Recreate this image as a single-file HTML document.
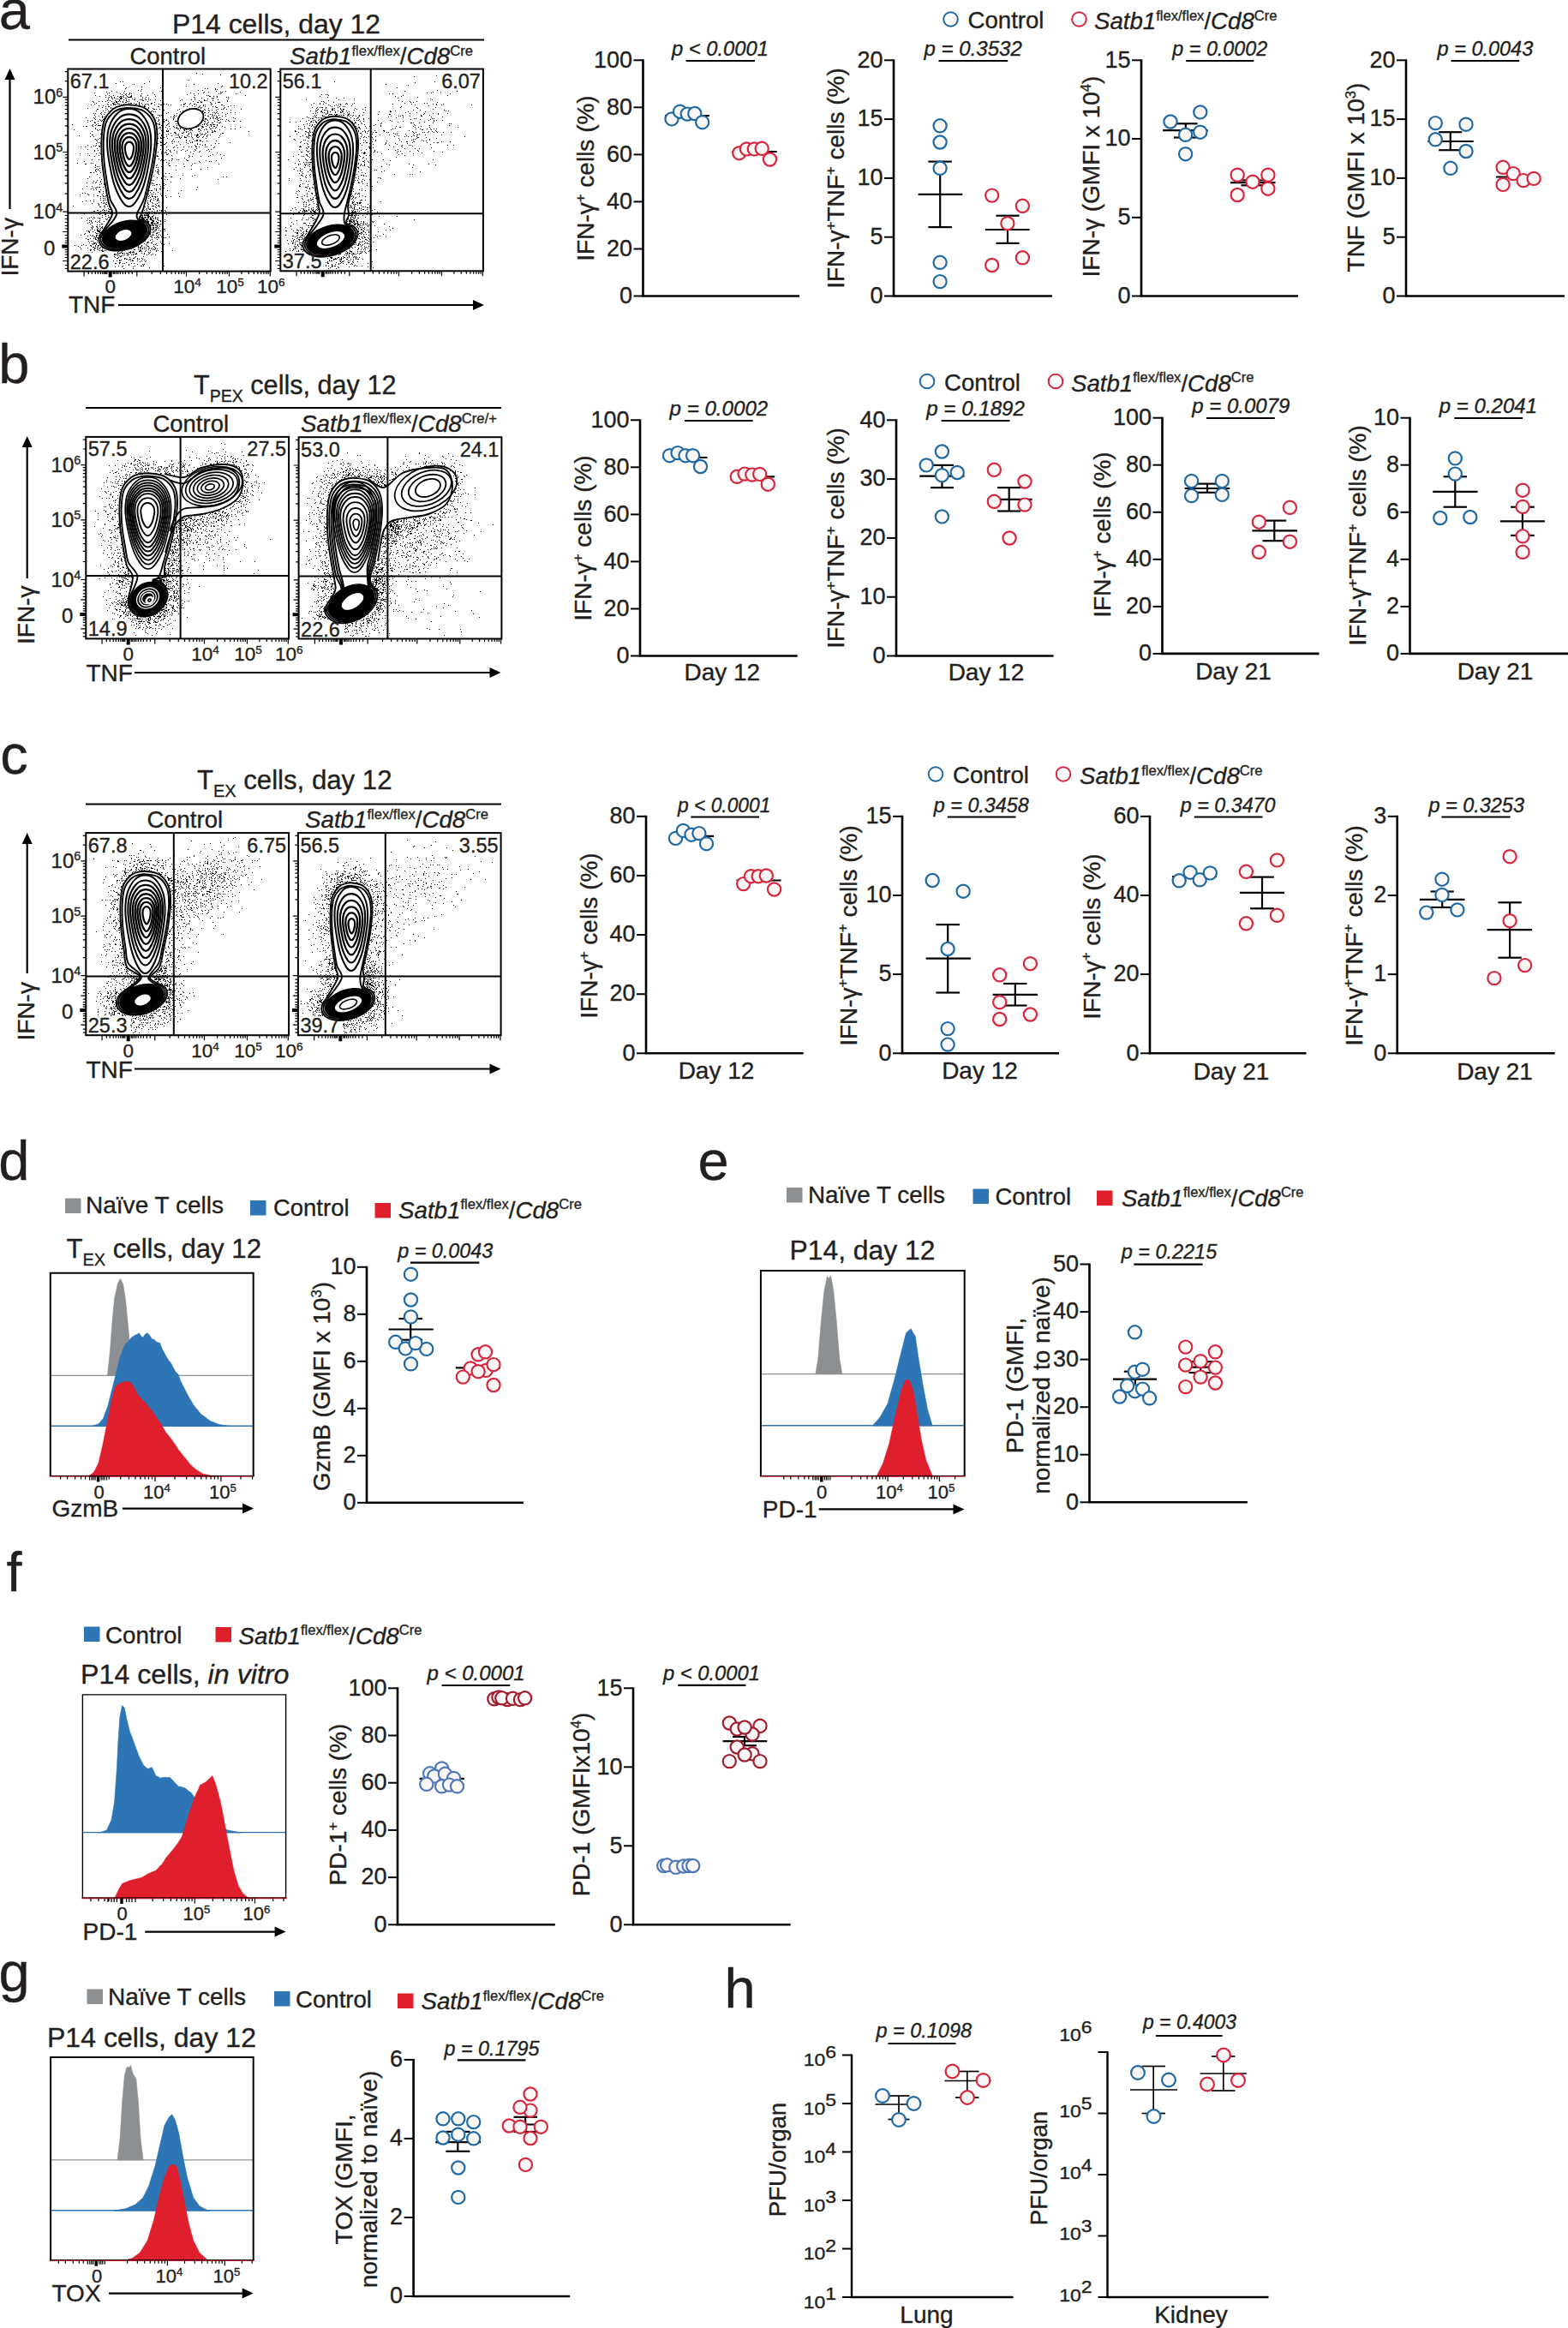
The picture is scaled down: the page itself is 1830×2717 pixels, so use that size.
<!DOCTYPE html>
<html lang="en"><head><meta charset="utf-8"><title>Figure</title>
<style>
html,body{margin:0;padding:0;background:#fff}
svg{display:block}
text{font-family:"Liberation Sans",Arial,Helvetica,sans-serif;fill:#231f20;stroke:#231f20;stroke-width:0.35px}
</style></head><body>
<svg width="1830" height="2717" viewBox="0 0 1830 2717">
<rect width="1830" height="2717" fill="#fff"/>
<text x="-1.3" y="34.4" font-size="65">a</text>
<text x="-1.7" y="447" font-size="65">b</text>
<text x="0.3" y="902.5" font-size="65">c</text>
<text x="-1.7" y="1376.6" font-size="65">d</text>
<text x="814.6" y="1376.5" font-size="65">e</text>
<text x="7.4" y="1856.8" font-size="65">f</text>
<text x="-1.5" y="2323.7" font-size="65">g</text>
<text x="845.6" y="2342.8" font-size="65">h</text>
<text x="201" y="38.5" font-size="31" textLength="243" lengthAdjust="spacingAndGlyphs">P14 cells, day 12</text>
<line x1="80" y1="46.5" x2="565" y2="46.5" stroke="#000" stroke-width="2"/>
<text x="151.5" y="75" font-size="28" textLength="88.5" lengthAdjust="spacingAndGlyphs">Control</text>
<text x="338" y="75" font-size="28" textLength="214" lengthAdjust="spacingAndGlyphs"><tspan font-style="italic">Satb1</tspan><tspan dy="-10.1" font-size="16.8">flex/flex</tspan><tspan dy="10.1">/</tspan><tspan font-style="italic">Cd8</tspan><tspan dy="-10.1" font-size="16.8">Cre</tspan></text>
<text x="226" y="460" font-size="31" textLength="236.5" lengthAdjust="spacingAndGlyphs"><tspan>T</tspan><tspan dy="9" font-size="19.8">PEX</tspan><tspan dy="-9"> cells, day 12</tspan></text>
<line x1="100" y1="476" x2="585" y2="476" stroke="#000" stroke-width="2"/>
<text x="178.5" y="504" font-size="28" textLength="88.5" lengthAdjust="spacingAndGlyphs">Control</text>
<text x="351" y="504" font-size="28" textLength="229" lengthAdjust="spacingAndGlyphs"><tspan font-style="italic">Satb1</tspan><tspan dy="-10.1" font-size="16.8">flex/flex</tspan><tspan dy="10.1">/</tspan><tspan font-style="italic">Cd8</tspan><tspan dy="-10.1" font-size="16.8">Cre/+</tspan></text>
<text x="230" y="921" font-size="31" textLength="227.5" lengthAdjust="spacingAndGlyphs"><tspan>T</tspan><tspan dy="9" font-size="19.8">EX</tspan><tspan dy="-9"> cells, day 12</tspan></text>
<line x1="100" y1="938.5" x2="585" y2="938.5" stroke="#000" stroke-width="2"/>
<text x="171.5" y="966" font-size="28" textLength="88.5" lengthAdjust="spacingAndGlyphs">Control</text>
<text x="356" y="966" font-size="28" textLength="214" lengthAdjust="spacingAndGlyphs"><tspan font-style="italic">Satb1</tspan><tspan dy="-10.1" font-size="16.8">flex/flex</tspan><tspan dy="10.1">/</tspan><tspan font-style="italic">Cd8</tspan><tspan dy="-10.1" font-size="16.8">Cre</tspan></text>
<g>
<path d="M197 202.5h1M139 306.5h1M172 118.5h1M173 243.5h1M125 240.5h1M104 181.5h1M111 111.5h1M183 254.5h1M93 227.5h1M177 253.5h1M117 249.5h1M128 244.5h1M127 124.5h1M184 124.5h1M183 229.5h1M191 285.5h1M101 213.5h1M109 137.5h1M190 133.5h1M116 139.5h1M117 268.5h1M105 292.5h1M100 147.5h1M141 122.5h1M168 253.5h1M168 250.5h1M120 223.5h1M182 274.5h1M147 114.5h1M178 260.5h1M187 226.5h1M98 249.5h1M114 245.5h1M113 203.5h1M180 261.5h1M112 284.5h1M177 120.5h1M139 116.5h1M172 283.5h1M136 118.5h1M185 271.5h1M140 112.5h1M121 292.5h1M187 257.5h1M168 250.5h1M112 221.5h1M190 170.5h1M180 291.5h1M178 258.5h1M171 255.5h1M161 288.5h1M165 253.5h1M182 222.5h1M172 282.5h1M181 263.5h1M156 116.5h1M173 291.5h1M146 301.5h1M124 238.5h1M171 247.5h1M172 256.5h1M147 102.5h1M106 265.5h1M186 143.5h1M166 115.5h1M177 213.5h1M177 262.5h1M114 270.5h1M176 263.5h1M105 291.5h1M187 219.5h1M92 158.5h1M134 122.5h1M173 226.5h1M186 135.5h1M183 200.5h1M172 260.5h1M146 114.5h1M197 276.5h1M191 121.5h1M182 284.5h1M126 114.5h1M172 234.5h1M121 215.5h1M200 206.5h1M121 240.5h1M115 146.5h1M157 310.5h1M165 295.5h1M170 279.5h1M121 267.5h1M177 229.5h1M125 240.5h1M184 231.5h1M179 290.5h1M173 114.5h1M123 252.5h1M192 258.5h1M117 221.5h1M114 162.5h1M110 289.5h1M141 123.5h1M120 293.5h1M177 262.5h1M115 249.5h1M119 195.5h1M170 113.5h1M129 122.5h1M160 118.5h1M186 215.5h1M126 251.5h1M177 222.5h1M171 249.5h1M117 231.5h1M174 222.5h1M116 284.5h1M114 152.5h1M171 243.5h1M119 265.5h1M169 251.5h1M183 264.5h1M120 218.5h1M194 242.5h1M118 188.5h1M95 254.5h1M115 269.5h1M173 229.5h1M110 289.5h1M181 254.5h1M182 220.5h1M172 121.5h1M183 192.5h1M162 120.5h1M185 185.5h1M113 262.5h1M190 254.5h1M106 287.5h1M111 287.5h1M112 221.5h1M187 148.5h1M127 113.5h1M151 294.5h1M151 122.5h1M196 152.5h1M167 255.5h1M194 250.5h1M173 250.5h1M189 166.5h1M108 281.5h1M123 126.5h1M171 286.5h1M119 137.5h1M183 263.5h1M87 286.5h1M181 290.5h1M116 146.5h1M170 253.5h1M111 149.5h1M175 224.5h1M185 199.5h1M187 165.5h1M171 247.5h1M132 122.5h1M156 301.5h1M144 113.5h1M178 265.5h1M117 211.5h1M166 290.5h1M161 287.5h1M165 310.5h1M114 237.5h1M110 289.5h1M103 270.5h1M177 236.5h1M165 287.5h1M165 101.5h1M108 147.5h1M113 173.5h1M166 113.5h1M188 194.5h1M106 201.5h1M134 297.5h1M189 138.5h1M170 121.5h1M181 241.5h1M189 131.5h1M192 168.5h1M114 197.5h1M135 124.5h1M136 107.5h1M183 181.5h1M113 264.5h1M112 179.5h1M124 225.5h1M183 266.5h1M183 207.5h1M172 254.5h1M140 306.5h1M105 201.5h1M123 233.5h1M173 251.5h1M189 123.5h1M142 110.5h1M121 133.5h1M130 106.5h1M167 117.5h1M113 282.5h1M187 169.5h1M165 286.5h1M187 161.5h1M197 284.5h1M197 193.5h1M185 257.5h1M178 229.5h1M166 122.5h1M189 172.5h1M190 288.5h1M178 262.5h1M102 279.5h1M195 273.5h1M111 150.5h1M122 245.5h1M143 112.5h1M109 253.5h1M137 294.5h1M116 139.5h1M166 255.5h1M177 279.5h1M108 285.5h1M180 122.5h1M151 108.5h1M181 289.5h1M113 268.5h1M147 109.5h1M196 191.5h1M178 296.5h1M185 268.5h1M140 306.5h1M163 288.5h1M128 129.5h1M185 240.5h1M121 139.5h1M168 97.5h1M105 155.5h1M155 289.5h1M176 260.5h1M165 116.5h1M119 292.5h1M172 250.5h1M187 122.5h1M170 256.5h1M141 298.5h1M175 262.5h1M114 144.5h1M119 135.5h1M175 248.5h1M188 208.5h1M109 284.5h1M111 143.5h1M111 219.5h1M118 265.5h1M168 124.5h1M119 289.5h1M184 202.5h1M181 261.5h1M188 246.5h1M120 141.5h1M108 255.5h1M109 227.5h1M111 289.5h1M123 249.5h1M110 284.5h1M168 290.5h1M127 241.5h1M184 240.5h1M168 240.5h1M117 179.5h1M179 231.5h1M139 307.5h1M170 292.5h1M168 288.5h1M137 115.5h1M179 266.5h1M117 271.5h1M153 120.5h1M175 116.5h1M153 307.5h1M182 221.5h1M164 292.5h1M183 276.5h1M117 132.5h1M180 249.5h1M175 235.5h1M127 256.5h1M177 260.5h1M110 292.5h1M150 296.5h1M182 263.5h1M104 257.5h1M172 241.5h1M147 295.5h1M189 273.5h1M163 116.5h1M109 288.5h1M119 291.5h1M122 240.5h1M116 271.5h1M122 247.5h1M113 277.5h1M116 112.5h1M108 265.5h1M162 121.5h1M148 112.5h1M119 266.5h1M198 176.5h1M192 256.5h1M138 118.5h1M123 135.5h1M163 292.5h1M111 170.5h1M179 258.5h1M188 146.5h1M180 119.5h1M180 216.5h1M188 284.5h1M110 142.5h1M110 290.5h1M108 190.5h1M106 190.5h1M118 158.5h1M178 133.5h1M196 131.5h1M177 271.5h1M175 248.5h1M175 234.5h1M114 286.5h1M181 232.5h1M199 136.5h1M175 256.5h1M179 240.5h1M201 185.5h1M163 255.5h1M135 97.5h1M160 308.5h1M126 253.5h1M147 119.5h1M170 304.5h1M139 304.5h1M113 290.5h1M119 264.5h1M187 261.5h1M158 296.5h1M181 265.5h1M175 132.5h1M140 118.5h1M114 141.5h1M169 254.5h1M184 137.5h1M181 130.5h1M174 244.5h1M166 254.5h1M143 95.5h1M106 281.5h1M173 243.5h1M172 248.5h1M109 159.5h1M123 255.5h1M115 239.5h1M138 293.5h1M97 285.5h1M105 159.5h1M127 253.5h1M179 270.5h1M167 309.5h1M186 127.5h1M101 217.5h1M127 244.5h1M109 235.5h1M115 118.5h1M185 144.5h1M120 231.5h1M173 289.5h1M181 226.5h1M170 257.5h1M207 157.5h1M187 117.5h1M183 234.5h1M147 302.5h1M140 299.5h1M112 200.5h1M160 301.5h1M178 262.5h1M182 215.5h1M111 136.5h1M116 290.5h1M150 309.5h1M133 297.5h1M176 232.5h1M130 245.5h1M132 120.5h1M176 248.5h1M193 228.5h1M115 269.5h1M187 217.5h1M190 216.5h1M116 218.5h1M100 278.5h1M178 216.5h1M189 263.5h1M109 278.5h1M131 115.5h1M152 120.5h1M113 272.5h1M86 151.5h1M191 310.5h1M151 109.5h1M176 261.5h1M120 225.5h1M193 215.5h1M120 234.5h1M188 245.5h1M111 279.5h1M111 271.5h1M180 229.5h1M173 122.5h1M175 280.5h1M184 141.5h1M120 237.5h1M176 130.5h1M130 113.5h1M108 219.5h1M152 293.5h1M174 312.5h1M168 255.5h1M114 269.5h1M185 121.5h1M139 121.5h1M111 193.5h1M194 189.5h1M182 193.5h1M111 277.5h1M202 162.5h1M168 295.5h1M125 127.5h1M180 288.5h1M182 242.5h1M165 255.5h1M158 299.5h1M115 270.5h1M140 109.5h1M173 231.5h1M112 274.5h1M166 302.5h1M111 192.5h1M144 99.5h1M177 267.5h1M182 265.5h1M116 264.5h1M129 253.5h1M123 238.5h1M103 279.5h1M127 246.5h1M107 140.5h1M183 215.5h1M147 117.5h1M173 250.5h1M174 95.5h1M193 140.5h1M109 246.5h1M165 251.5h1M171 249.5h1M139 298.5h1M150 118.5h1M182 293.5h1M133 119.5h1M182 272.5h1M189 236.5h1M168 296.5h1M107 259.5h1M155 296.5h1M105 268.5h1M93 288.5h1M150 116.5h1M168 253.5h1M161 289.5h1M94 290.5h1M173 259.5h1M180 127.5h1M175 272.5h1M188 157.5h1M131 120.5h1M164 253.5h1M184 260.5h1M117 246.5h1M199 212.5h1M121 136.5h1M112 264.5h1M169 293.5h1M166 251.5h1M191 142.5h1M116 223.5h1M194 178.5h1M116 270.5h1M140 115.5h1M177 129.5h1M195 180.5h1M102 255.5h1M106 286.5h1M159 121.5h1M185 239.5h1M141 303.5h1M174 289.5h1M177 210.5h1M113 210.5h1M180 110.5h1M170 249.5h1M118 292.5h1M124 248.5h1M100 137.5h1M109 132.5h1M199 177.5h1M136 296.5h1M127 108.5h1M114 146.5h1M196 174.5h1M144 121.5h1M153 109.5h1M194 159.5h1M99 272.5h1M181 261.5h1M178 291.5h1M191 267.5h1M109 201.5h1M120 123.5h1M172 256.5h1M116 267.5h1M183 259.5h1M166 117.5h1M178 126.5h1M116 269.5h1M110 268.5h1M112 285.5h1M99 191.5h1M118 214.5h1M90 190.5h1M171 283.5h1M143 119.5h1M123 228.5h1M107 146.5h1M184 177.5h1M114 287.5h1M146 110.5h1M189 176.5h1M170 258.5h1M164 310.5h1M137 120.5h1M194 140.5h1M114 175.5h1M185 249.5h1M176 226.5h1M185 203.5h1M173 114.5h1M151 300.5h1M185 273.5h1M126 116.5h1M194 171.5h1M116 207.5h1M183 246.5h1M162 119.5h1M141 114.5h1M102 208.5h1M163 305.5h1M140 95.5h1M185 277.5h1M118 141.5h1M135 307.5h1M164 253.5h1M179 210.5h1M102 289.5h1M106 265.5h1M112 145.5h1M187 187.5h1M110 254.5h1M172 259.5h1M184 161.5h1M183 272.5h1M101 147.5h1M135 115.5h1M109 119.5h1M106 253.5h1M112 279.5h1M107 294.5h1M119 248.5h1M172 111.5h1M172 253.5h1M182 268.5h1M126 122.5h1M191 277.5h1M121 203.5h1M128 131.5h1M114 127.5h1M172 250.5h1M191 216.5h1M116 166.5h1M117 233.5h1M155 296.5h1M157 116.5h1M84 145.5h1M108 265.5h1M108 145.5h1M106 220.5h1M177 228.5h1M166 289.5h1M112 275.5h1M116 161.5h1M117 156.5h1M138 300.5h1M133 114.5h1M178 259.5h1M155 313.5h1M181 229.5h1M199 122.5h1M198 175.5h1M113 267.5h1M144 116.5h1M172 251.5h1M139 117.5h1M179 287.5h1M103 281.5h1M194 159.5h1M186 145.5h1M172 127.5h1M107 186.5h1M111 132.5h1M171 297.5h1M168 245.5h1M111 162.5h1M93 179.5h1M170 292.5h1M107 263.5h1M108 274.5h1M112 212.5h1M172 239.5h1M184 224.5h1M168 256.5h1M96 220.5h1M189 288.5h1M130 114.5h1M177 277.5h1M136 119.5h1M120 129.5h1M167 310.5h1M115 181.5h1M117 212.5h1M154 294.5h1M189 177.5h1M174 228.5h1M111 139.5h1M133 299.5h1M200 185.5h1M178 281.5h1M198 193.5h1M116 178.5h1M179 255.5h1M107 266.5h1M177 240.5h1M176 222.5h1M188 152.5h1M140 304.5h1M108 288.5h1M159 296.5h1M185 234.5h1M135 118.5h1M143 298.5h1M173 247.5h1M123 118.5h1M117 266.5h1M192 269.5h1M179 224.5h1M134 307.5h1M175 294.5h1M104 254.5h1M125 121.5h1M148 297.5h1M195 145.5h1M178 252.5h1M169 241.5h1M189 249.5h1M176 261.5h1M116 170.5h1M110 246.5h1M179 205.5h1M122 250.5h1M178 243.5h1M175 254.5h1M111 258.5h1M184 256.5h1M183 271.5h1M112 272.5h1M97 147.5h1M147 116.5h1M167 299.5h1M124 236.5h1M152 294.5h1M118 177.5h1M146 119.5h1M124 256.5h1M191 205.5h1M115 238.5h1M177 249.5h1M117 146.5h1M179 263.5h1M144 111.5h1M165 255.5h1M142 293.5h1M96 225.5h1M126 119.5h1M201 164.5h1M150 110.5h1M188 228.5h1M117 241.5h1M185 145.5h1M179 285.5h1M163 291.5h1M183 182.5h1M193 202.5h1M178 226.5h1M193 177.5h1M91 287.5h1M187 282.5h1M100 286.5h1M104 270.5h1M178 237.5h1M187 269.5h1M117 288.5h1M186 264.5h1M201 292.5h1M114 254.5h1M111 199.5h1M178 257.5h1M183 144.5h1M121 236.5h1M116 264.5h1M165 301.5h1M108 213.5h1M176 259.5h1M118 214.5h1M150 303.5h1M96 235.5h1M107 146.5h1M178 261.5h1M107 275.5h1M110 175.5h1M113 245.5h1M190 139.5h1M118 133.5h1M177 267.5h1M173 116.5h1M194 153.5h1M115 269.5h1M119 251.5h1M194 230.5h1M183 260.5h1M176 120.5h1M173 260.5h1M148 118.5h1M144 313.5h1M164 106.5h1M112 169.5h1M181 297.5h1M134 117.5h1M137 301.5h1M157 300.5h1M188 276.5h1M190 154.5h1M173 248.5h1M102 169.5h1M111 283.5h1M119 293.5h1M115 123.5h1M116 254.5h1M189 203.5h1M173 294.5h1M154 304.5h1M191 248.5h1M182 221.5h1M186 134.5h1M152 112.5h1M103 269.5h1M123 250.5h1M126 246.5h1M134 121.5h1M182 277.5h1M145 295.5h1M158 121.5h1M177 246.5h1M146 110.5h1M108 157.5h1M102 179.5h1M169 251.5h1M172 258.5h1M114 268.5h1M116 255.5h1M178 263.5h1M122 131.5h1M117 140.5h1M176 255.5h1M132 121.5h1M127 256.5h1M175 255.5h1M184 141.5h1M141 299.5h1M125 255.5h1M159 295.5h1M179 244.5h1M178 240.5h1M178 108.5h1M184 262.5h1M177 214.5h1M143 296.5h1M195 153.5h1M177 289.5h1M145 297.5h1M113 228.5h1M125 109.5h1M121 245.5h1M153 290.5h1M188 179.5h1M116 274.5h1M173 238.5h1M151 113.5h1M121 236.5h1M137 112.5h1M179 257.5h1M117 201.5h1M113 164.5h1M157 296.5h1M145 302.5h1M184 198.5h1M182 249.5h1M175 233.5h1M197 147.5h1M183 290.5h1M183 286.5h1M137 298.5h1M111 278.5h1M123 113.5h1M110 276.5h1M164 288.5h1M119 125.5h1M185 124.5h1M197 187.5h1M136 304.5h1M129 126.5h1M181 269.5h1M112 279.5h1M110 121.5h1M200 187.5h1M107 217.5h1M180 269.5h1M177 252.5h1M146 103.5h1M193 277.5h1M169 248.5h1M143 310.5h1M168 251.5h1M119 147.5h1M113 274.5h1M103 227.5h1M156 120.5h1M115 282.5h1M201 167.5h1M107 284.5h1M126 119.5h1M155 301.5h1M190 172.5h1M112 248.5h1M178 269.5h1M165 109.5h1M184 197.5h1M170 285.5h1M109 291.5h1M145 106.5h1M143 307.5h1M156 98.5h1M170 116.5h1M141 112.5h1M173 282.5h1M188 161.5h1M116 250.5h1M123 111.5h1M185 149.5h1M202 147.5h1M118 236.5h1M153 111.5h1M182 261.5h1M175 292.5h1M119 136.5h1M150 113.5h1M182 267.5h1M182 248.5h1M169 247.5h1M210 117.5h1M176 256.5h1M127 111.5h1M191 219.5h1M181 253.5h1M150 120.5h1M178 262.5h1M179 214.5h1M169 124.5h1M114 248.5h1M175 272.5h1M182 292.5h1M165 254.5h1M114 277.5h1M171 258.5h1M109 221.5h1M173 241.5h1M171 245.5h1M134 296.5h1M149 113.5h1M182 215.5h1M128 249.5h1M184 195.5h1M141 294.5h1M110 143.5h1M192 267.5h1M163 289.5h1M169 122.5h1M179 265.5h1M115 170.5h1M131 126.5h1M169 281.5h1M114 228.5h1M95 286.5h1M128 117.5h1M166 254.5h1M111 213.5h1M179 271.5h1M180 277.5h1M168 255.5h1M181 285.5h1M145 301.5h1M107 237.5h1M179 274.5h1M98 188.5h1M171 251.5h1M155 304.5h1M184 277.5h1M104 283.5h1M115 194.5h1M112 276.5h1M130 118.5h1M115 135.5h1M194 157.5h1M154 303.5h1M144 108.5h1M113 269.5h1M191 160.5h1M116 289.5h1M115 186.5h1M196 144.5h1M155 294.5h1M107 157.5h1M193 167.5h1M206 146.5h1M159 296.5h1M195 209.5h1M188 177.5h1M188 207.5h1M105 261.5h1M99 171.5h1M173 254.5h1M188 158.5h1M181 267.5h1M185 140.5h1M119 245.5h1M115 280.5h1M181 238.5h1M102 142.5h1M178 248.5h1M184 254.5h1M107 263.5h1M102 126.5h1M156 307.5h1M120 229.5h1M124 107.5h1M160 304.5h1M113 218.5h1M179 127.5h1M156 294.5h1M175 244.5h1M100 191.5h1M139 113.5h1M165 251.5h1M168 308.5h1M192 209.5h1M192 245.5h1M126 243.5h1M185 266.5h1M116 248.5h1M133 113.5h1M161 291.5h1M118 270.5h1M183 256.5h1M104 271.5h1M177 275.5h1M110 182.5h1M136 301.5h1M111 198.5h1M166 308.5h1M178 258.5h1M173 258.5h1M148 302.5h1M183 279.5h1M189 158.5h1M142 311.5h1M111 195.5h1M202 136.5h1M152 113.5h1M133 296.5h1M179 251.5h1M105 234.5h1M177 283.5h1M180 220.5h1M141 113.5h1M136 297.5h1M168 255.5h1M155 297.5h1M171 256.5h1M182 261.5h1M180 260.5h1M154 115.5h1M175 273.5h1M177 274.5h1M140 295.5h1M114 291.5h1M205 160.5h1M121 258.5h1M177 256.5h1M140 114.5h1M176 121.5h1M118 261.5h1M166 252.5h1M134 311.5h1M105 278.5h1M191 214.5h1M186 262.5h1M186 241.5h1M193 148.5h1M120 139.5h1M194 180.5h1M116 259.5h1M142 295.5h1M164 112.5h1M173 296.5h1M116 241.5h1M165 293.5h1M190 153.5h1M173 125.5h1M184 201.5h1M186 220.5h1M169 115.5h1M169 126.5h1M185 145.5h1M116 224.5h1M114 266.5h1M175 263.5h1M168 284.5h1M113 127.5h1M119 253.5h1M192 178.5h1M132 304.5h1M184 232.5h1M173 231.5h1M116 257.5h1M109 233.5h1M116 292.5h1M138 121.5h1M185 139.5h1M170 288.5h1M136 121.5h1M112 219.5h1M177 259.5h1M190 263.5h1M153 297.5h1M180 216.5h1M187 102.5h1M94 274.5h1M197 190.5h1M167 254.5h1M182 195.5h1M139 307.5h1M110 283.5h1M184 292.5h1M179 130.5h1M182 239.5h1M106 257.5h1M106 171.5h1M167 256.5h1M199 229.5h1M175 256.5h1M123 124.5h1M165 120.5h1M176 254.5h1M116 196.5h1M117 229.5h1M210 161.5h1M138 310.5h1M167 248.5h1M115 223.5h1M117 167.5h1M179 244.5h1M116 199.5h1M106 291.5h1M182 222.5h1M177 259.5h1M118 261.5h1M110 134.5h1M109 170.5h1M110 108.5h1M173 261.5h1M194 175.5h1M115 280.5h1M176 297.5h1M185 236.5h1M181 230.5h1M135 119.5h1M115 218.5h1M112 163.5h1M145 307.5h1M148 295.5h1M105 286.5h1M174 249.5h1M118 209.5h1M100 234.5h1M99 225.5h1M153 112.5h1M175 292.5h1M170 251.5h1M150 294.5h1M188 293.5h1M190 147.5h1M130 106.5h1M157 114.5h1M108 264.5h1M107 260.5h1M148 295.5h1M143 298.5h1M170 250.5h1M160 286.5h1M166 253.5h1M121 138.5h1M147 111.5h1M173 126.5h1M163 293.5h1M165 254.5h1M190 166.5h1M173 248.5h1M172 237.5h1M173 287.5h1M134 300.5h1M174 295.5h1M113 288.5h1M186 245.5h1M119 140.5h1M147 117.5h1M114 248.5h1M118 131.5h1M184 134.5h1M119 186.5h1M101 269.5h1M162 122.5h1M191 168.5h1M183 237.5h1M94 171.5h1M109 278.5h1M187 258.5h1M115 272.5h1M160 302.5h1M172 249.5h1M176 290.5h1M181 199.5h1M138 296.5h1M172 236.5h1M186 248.5h1M126 124.5h1M175 253.5h1M119 261.5h1M178 267.5h1M172 257.5h1M175 230.5h1M140 114.5h1M179 267.5h1M172 121.5h1M139 303.5h1M170 244.5h1M180 247.5h1M120 123.5h1M102 275.5h1M120 228.5h1M170 257.5h1M184 265.5h1M177 277.5h1M113 151.5h1M187 221.5h1M102 140.5h1M111 146.5h1M184 182.5h1M111 286.5h1M152 295.5h1M176 256.5h1M157 291.5h1M109 283.5h1M129 129.5h1M188 134.5h1M149 298.5h1M123 135.5h1M164 290.5h1M195 222.5h1M113 194.5h1M116 262.5h1M168 123.5h1M105 141.5h1M118 261.5h1M119 118.5h1M191 187.5h1M149 296.5h1M176 276.5h1M166 253.5h1M162 293.5h1M113 259.5h1M181 116.5h1M125 117.5h1M132 121.5h1M141 115.5h1M203 154.5h1M85 240.5h1M113 265.5h1M116 215.5h1M175 243.5h1M143 118.5h1M113 274.5h1M170 127.5h1M173 252.5h1M115 274.5h1M176 283.5h1M105 274.5h1M142 114.5h1M184 259.5h1M188 166.5h1M122 231.5h1M106 258.5h1M179 266.5h1M175 262.5h1M171 259.5h1M116 254.5h1M132 111.5h1M114 278.5h1M104 259.5h1M190 196.5h1M124 245.5h1M104 206.5h1M116 151.5h1M194 132.5h1M188 186.5h1M203 175.5h1M110 138.5h1M171 256.5h1M161 105.5h1M115 286.5h1M193 246.5h1M122 237.5h1M178 273.5h1M184 265.5h1M109 276.5h1M102 260.5h1M196 122.5h1M115 247.5h1M188 169.5h1M119 227.5h1M123 292.5h1M190 148.5h1M113 267.5h1M173 253.5h1M126 129.5h1M165 304.5h1M175 275.5h1M121 247.5h1M112 197.5h1M112 167.5h1M155 293.5h1M152 302.5h1M169 247.5h1M169 305.5h1M151 302.5h1M193 206.5h1M189 279.5h1M188 106.5h1M113 280.5h1M114 198.5h1M183 233.5h1M116 171.5h1M121 233.5h1M123 128.5h1M189 183.5h1M196 141.5h1M168 303.5h1M147 306.5h1M189 227.5h1M164 111.5h1M182 267.5h1M143 295.5h1M127 237.5h1M101 257.5h1M107 153.5h1M122 229.5h1M98 273.5h1M169 253.5h1M112 129.5h1M181 112.5h1M133 121.5h1M108 270.5h1M187 274.5h1M178 254.5h1M181 255.5h1M178 281.5h1M162 302.5h1M182 127.5h1M152 112.5h1M129 112.5h1M129 249.5h1M206 176.5h1M172 287.5h1M112 120.5h1M177 256.5h1M179 271.5h1M109 211.5h1M174 252.5h1M150 308.5h1M184 275.5h1M168 255.5h1M104 206.5h1M114 166.5h1M179 233.5h1M120 244.5h1M184 233.5h1M110 176.5h1M183 245.5h1M194 121.5h1M156 291.5h1M102 226.5h1M182 258.5h1M137 295.5h1M165 104.5h1M152 304.5h1M174 247.5h1M172 252.5h1M189 263.5h1M153 113.5h1M139 295.5h1M108 118.5h1M155 311.5h1M118 151.5h1M170 290.5h1M106 122.5h1M115 258.5h1M121 214.5h1M188 122.5h1M129 125.5h1M187 174.5h1M102 174.5h1M130 248.5h1M177 257.5h1M129 247.5h1M114 289.5h1M107 267.5h1M187 160.5h1M197 143.5h1M122 242.5h1M238 117.5h1M269 131.5h1M244 129.5h1M229 164.5h1M208 150.5h1M241 158.5h1M241 111.5h1M230 119.5h1M207 172.5h1M251 132.5h1M232 117.5h1M247 135.5h1M226 109.5h1M253 139.5h1M255 119.5h1M232 177.5h1M223 155.5h1M232 159.5h1M187 150.5h1M253 113.5h1M261 123.5h1M236 156.5h1M236 86.5h1M264 113.5h1M214 124.5h1M209 160.5h1M258 122.5h1M237 129.5h1M206 169.5h1M266 140.5h1M254 138.5h1M243 126.5h1M254 116.5h1M267 141.5h1M231 105.5h1M253 112.5h1M230 157.5h1M237 159.5h1M226 98.5h1M243 182.5h1M240 147.5h1M233 146.5h1M257 109.5h1M274 138.5h1M249 112.5h1M237 108.5h1M252 137.5h1M233 163.5h1M242 146.5h1M251 124.5h1M224 152.5h1M222 108.5h1M234 129.5h1M252 128.5h1M234 157.5h1M199 206.5h1M237 132.5h1M229 85.5h1M224 182.5h1M280 148.5h1M210 130.5h1M245 181.5h1M219 153.5h1M228 175.5h1M195 150.5h1M246 145.5h1M240 138.5h1M248 180.5h1M226 113.5h1M220 155.5h1M240 150.5h1M260 127.5h1M263 135.5h1M247 143.5h1M246 174.5h1M230 158.5h1M218 175.5h1M257 142.5h1M252 125.5h1M241 159.5h1M238 141.5h1M208 158.5h1M255 143.5h1M205 157.5h1M230 168.5h1M239 171.5h1M227 174.5h1M221 152.5h1M205 144.5h1M237 140.5h1M224 191.5h1M242 103.5h1M233 189.5h1M207 141.5h1M266 124.5h1M266 115.5h1M223 157.5h1M245 112.5h1M217 163.5h1M222 108.5h1M246 169.5h1M263 106.5h1M248 143.5h1M273 141.5h1M236 156.5h1M193 186.5h1M248 143.5h1M272 141.5h1M255 109.5h1M239 134.5h1M205 141.5h1M217 186.5h1M217 100.5h1M254 132.5h1M207 150.5h1M272 137.5h1M239 117.5h1M274 150.5h1M233 168.5h1M253 104.5h1M253 136.5h1M222 177.5h1M223 197.5h1M228 170.5h1M248 149.5h1M240 155.5h1M240 187.5h1M248 124.5h1M241 117.5h1M245 138.5h1M250 145.5h1M241 144.5h1M249 147.5h1M247 128.5h1M236 130.5h1M256 143.5h1M254 140.5h1M215 159.5h1M233 125.5h1M231 150.5h1M227 169.5h1M220 181.5h1M245 150.5h1M243 174.5h1M275 109.5h1M200 165.5h1M253 145.5h1M243 111.5h1M251 167.5h1M217 160.5h1M258 127.5h1M248 154.5h1M249 172.5h1M266 113.5h1M245 137.5h1M231 157.5h1M227 124.5h1M234 197.5h1M252 164.5h1M255 119.5h1M263 141.5h1M195 161.5h1M245 119.5h1M259 107.5h1M269 150.5h1M244 112.5h1M246 188.5h1M217 164.5h1M246 146.5h1M266 115.5h1M231 147.5h1M233 123.5h1M227 164.5h1M217 154.5h1M251 153.5h1M231 125.5h1M257 107.5h1M237 123.5h1M269 128.5h1M247 133.5h1M238 107.5h1M248 117.5h1M245 157.5h1M257 87.5h1M272 137.5h1M209 127.5h1M220 93.5h1M212 158.5h1M257 156.5h1M239 139.5h1M244 188.5h1M230 160.5h1M214 121.5h1M227 121.5h1M259 139.5h1M230 156.5h1M260 155.5h1M231 160.5h1M252 148.5h1M202 172.5h1M252 106.5h1M231 119.5h1M248 145.5h1M203 148.5h1M223 127.5h1M248 137.5h1M236 129.5h1M208 165.5h1M254 127.5h1M253 125.5h1M202 139.5h1M214 191.5h1M239 124.5h1M222 120.5h1M249 145.5h1M216 120.5h1M250 153.5h1M264 127.5h1M241 145.5h1M194 166.5h1M233 155.5h1M239 169.5h1M239 103.5h1M209 135.5h1M256 158.5h1M243 131.5h1M264 139.5h1M238 144.5h1M236 169.5h1M232 124.5h1M200 158.5h1M242 154.5h1M216 120.5h1M242 153.5h1M218 110.5h1M253 142.5h1M236 165.5h1M233 176.5h1M242 146.5h1M235 149.5h1M211 122.5h1M255 134.5h1M250 131.5h1M235 156.5h1M215 184.5h1M243 135.5h1M247 121.5h1M209 159.5h1M217 153.5h1M225 162.5h1M209 152.5h1M251 138.5h1M262 148.5h1M281 127.5h1M220 159.5h1M214 122.5h1M250 147.5h1M203 171.5h1M249 138.5h1M236 147.5h1M241 171.5h1M262 125.5h1M229 158.5h1M236 148.5h1M229 173.5h1M257 139.5h1M246 147.5h1M203 165.5h1M243 174.5h1M196 179.5h1M242 135.5h1M239 128.5h1M268 166.5h1M227 204.5h1M227 111.5h1M229 159.5h1M227 157.5h1M223 151.5h1M236 145.5h1M196 153.5h1M280 107.5h1M259 122.5h1M226 176.5h1M256 119.5h1M234 164.5h1M213 174.5h1M231 105.5h1M241 164.5h1M242 140.5h1M250 152.5h1M229 171.5h1M218 187.5h1M208 156.5h1M202 138.5h1M240 161.5h1M192 168.5h1M227 116.5h1M259 135.5h1M265 132.5h1M265 117.5h1M243 128.5h1M223 116.5h1M221 164.5h1M215 160.5h1M189 153.5h1M245 137.5h1M219 157.5h1M258 184.5h1M209 134.5h1M219 167.5h1M255 167.5h1M239 168.5h1M212 116.5h1M251 103.5h1M259 147.5h1M190 160.5h1M250 141.5h1M290 153.5h1M221 182.5h1M184 167.5h1M235 114.5h1M249 136.5h1M224 205.5h1M265 118.5h1M259 155.5h1M256 151.5h1M243 107.5h1M227 190.5h1M231 109.5h1M229 148.5h1M224 165.5h1M232 171.5h1M249 114.5h1M200 181.5h1M251 149.5h1M254 97.5h1M222 166.5h1M248 131.5h1M244 176.5h1M239 131.5h1M247 114.5h1M259 100.5h1M253 178.5h1M236 160.5h1M251 104.5h1M269 123.5h1M255 160.5h1M250 134.5h1M248 124.5h1M245 133.5h1M273 123.5h1M235 147.5h1M246 120.5h1M258 101.5h1M210 150.5h1M225 118.5h1M230 164.5h1M238 141.5h1M239 141.5h1M251 120.5h1M220 171.5h1M186 155.5h1M227 126.5h1M222 154.5h1M205 149.5h1M224 123.5h1M205 135.5h1M208 138.5h1M212 155.5h1M258 108.5h1M244 148.5h1M224 152.5h1M221 126.5h1M208 145.5h1M215 152.5h1M210 149.5h1M250 131.5h1M198 150.5h1M214 151.5h1M238 116.5h1M232 150.5h1M224 160.5h1M230 163.5h1M211 160.5h1M247 152.5h1M237 148.5h1M214 154.5h1M253 146.5h1M235 119.5h1M248 131.5h1M238 145.5h1M186 148.5h1M263 133.5h1M232 153.5h1M248 137.5h1M194 139.5h1M216 160.5h1M204 154.5h1M233 151.5h1M203 134.5h1M221 121.5h1M218 124.5h1M259 131.5h1M234 152.5h1M261 126.5h1M253 137.5h1M182 137.5h1M215 151.5h1M234 126.5h1M228 171.5h1M242 115.5h1M206 148.5h1M234 126.5h1M226 121.5h1M207 140.5h1M199 155.5h1M238 157.5h1M194 146.5h1M234 119.5h1M254 119.5h1M191 139.5h1M243 131.5h1M229 163.5h1M222 151.5h1M206 132.5h1M239 156.5h1M234 118.5h1M248 134.5h1M242 157.5h1M239 143.5h1M242 143.5h1M229 157.5h1M213 155.5h1M191 141.5h1M241 158.5h1M204 141.5h1M187 166.5h1M204 155.5h1M253 137.5h1M248 153.5h1M246 150.5h1M242 146.5h1M245 145.5h1M253 130.5h1M237 122.5h1M246 122.5h1M229 122.5h1M194 152.5h1M223 151.5h1M243 142.5h1M217 151.5h1M223 159.5h1M218 158.5h1M248 154.5h1M238 131.5h1M239 138.5h1M230 167.5h1M274 131.5h1M280 141.5h1M210 168.5h1M238 145.5h1M202 136.5h1M206 141.5h1M241 151.5h1M286 111.5h1M252 131.5h1M247 154.5h1M238 151.5h1M190 143.5h1M224 160.5h1M220 156.5h1M203 135.5h1M213 129.5h1M238 127.5h1M184 156.5h1M239 128.5h1M206 149.5h1M235 125.5h1M236 105.5h1M256 137.5h1M241 139.5h1M207 128.5h1M196 156.5h1M239 122.5h1M203 137.5h1M208 156.5h1M252 135.5h1M227 114.5h1M211 175.5h1M230 164.5h1M239 124.5h1M239 134.5h1M248 115.5h1M191 128.5h1M207 160.5h1M231 151.5h1M215 121.5h1M255 140.5h1M234 182.5h1M252 187.5h1M208 186.5h1M250 171.5h1M233 146.5h1M241 175.5h1M217 166.5h1M242 195.5h1M213 204.5h1M209 229.5h1M219 187.5h1M260 206.5h1M208 225.5h1M215 194.5h1M223 171.5h1M210 208.5h1M224 166.5h1M225 179.5h1M184 200.5h1M211 222.5h1M257 180.5h1M216 176.5h1M254 209.5h1M206 178.5h1M194 178.5h1M232 188.5h1M220 183.5h1M255 191.5h1M238 151.5h1M233 164.5h1M264 206.5h1M205 155.5h1M229 221.5h1M205 198.5h1M214 171.5h1M206 186.5h1M261 181.5h1M223 193.5h1M205 193.5h1M230 218.5h1" stroke="#000" stroke-width="1" fill="none" shape-rendering="crispEdges"/>
<path d="M152.9 122.5C157.5 123 164.5 123.4 169.1 126.3C173.8 129.3 178.4 134.6 180.8 140.3C183.2 146.1 183.5 152.7 183.4 160.8C183.3 168.8 181.7 179.5 180.2 188.8C178.6 198.2 176.2 208.8 174.3 216.8C172.5 224.9 170.7 231.7 169.1 237.2C167.6 242.8 166 247 165 250C164 253 161.9 253.9 162.8 255.4C163.8 256.8 168.9 257.3 170.9 258.8C173 260.4 174.5 262.4 175.1 264.5C175.8 266.7 175.7 269.2 174.8 271.6C174 274 172.3 276.7 170.1 279C167.9 281.4 164.8 283.7 161.6 285.6C158.3 287.5 154.4 289.2 150.6 290.3C146.8 291.5 142.6 292.3 138.9 292.5C135.1 292.8 131.3 292.5 128.2 291.8C125 291.2 122.1 289.9 120.1 288.4C118 286.8 116.5 284.8 115.9 282.7C115.2 280.5 115.3 278 116.2 275.6C117 273.2 118.4 272.4 120.9 268.2C123.4 263.9 130 255.2 131 250C132 244.8 128.3 242.8 127 237.2C125.7 231.7 124.4 224.9 123.1 216.8C121.8 208.8 120 198.2 119.2 188.8C118.5 179.5 118.2 168.8 118.6 160.8C119 152.7 119.7 145.9 121.8 140.3C124 134.8 128.2 130.5 131.6 127.6C134.9 124.7 138.4 124 141.9 123.1C145.5 122.3 148.4 122 152.9 122.5Z" fill="none" stroke="#000" stroke-width="1.9" stroke-linejoin="round"/>
<path d="M152.8 126.1C157 126.6 163.6 126.9 167.9 129.7C172.2 132.4 176.5 137.4 178.7 142.7C180.9 148 181.2 154.2 181.1 161.7C181 169.2 179.5 179.1 178.1 187.8C176.7 196.5 174.4 206.3 172.7 213.9C171 221.4 170 226.8 167.9 232.8C165.7 238.8 160.9 246 159.9 250C158.8 254 160.1 255 161.6 256.6C163.2 258.3 167.2 258.4 169.2 259.9C171.1 261.3 172.5 263.2 173.1 265.2C173.7 267.2 173.6 269.5 172.8 271.8C172 274 170.4 276.5 168.4 278.6C166.3 280.8 163.5 283 160.4 284.8C157.4 286.5 153.8 288.1 150.3 289.2C146.7 290.2 142.8 291 139.3 291.2C135.9 291.4 132.3 291.2 129.4 290.6C126.5 289.9 123.8 288.8 121.8 287.3C119.9 285.9 118.5 284 117.9 282C117.3 280 117.4 277.7 118.2 275.4C119 273.2 119.7 272.8 122.6 268.6C125.6 264.3 135.1 256 136.1 250C137.2 244 130.5 238.8 128.7 232.8C126.9 226.8 126.3 221.4 125.1 213.9C123.9 206.3 122.2 196.5 121.5 187.8C120.8 179.1 120.5 169.2 120.9 161.7C121.3 154.2 121.9 147.8 123.9 142.7C125.9 137.6 129.8 133.5 132.9 130.8C136 128.2 139.2 127.5 142.6 126.7C145.9 125.9 148.6 125.6 152.8 126.1Z" fill="none" stroke="#000" stroke-width="1.9" stroke-linejoin="round"/>
<path d="M150.7 127C154.9 127 159.6 128.1 163.5 131.6C167.3 135 171.6 141.4 173.7 147.5C175.8 153.6 176.4 160.4 176.3 168C176.2 175.6 174.7 184.8 173.2 193.1C171.7 201.5 169.6 211 167.1 218.2C164.5 225.4 160.6 232.6 157.8 236.4C155.1 240.2 153.1 241 150.7 241C148.3 241 146.2 240.2 143.5 236.4C140.8 232.6 136.9 225.4 134.3 218.2C131.7 211 129.7 201.5 128.2 193.1C126.6 184.8 125.2 175.6 125.1 168C125 160.4 125.5 153.6 127.6 147.5C129.8 141.4 134 135 137.9 131.6C141.7 128.1 146.4 127 150.7 127Z" fill="none" stroke="#000" stroke-width="2.0" stroke-linejoin="round"/>
<path d="M150.7 133.4C154.5 133.4 158.6 134.4 162 137.3C165.4 140.3 169.1 145.9 171 151.1C172.9 156.4 173.3 162.3 173.2 168.8C173.2 175.4 171.9 183.3 170.5 190.5C169.2 197.7 167.4 206 165.1 212.2C162.9 218.4 159.4 224.7 157 228C154.6 231.2 152.8 231.9 150.7 231.9C148.6 231.9 146.8 231.2 144.4 228C142 224.7 138.6 218.4 136.3 212.2C134 206 132.2 197.7 130.9 190.5C129.5 183.3 128.3 175.4 128.2 168.8C128.1 162.3 128.6 156.4 130.4 151.1C132.3 145.9 136.1 140.3 139.5 137.3C142.8 134.4 147 133.4 150.7 133.4Z" fill="none" stroke="#000" stroke-width="2.1" stroke-linejoin="round"/>
<path d="M150.8 139.1C154 139.1 157.6 139.9 160.6 142.4C163.6 145 166.8 149.8 168.5 154.3C170.1 158.8 170.5 163.9 170.5 169.6C170.4 175.2 169.3 182 168.1 188.2C166.9 194.4 165.3 201.5 163.4 206.9C161.4 212.2 158.4 217.6 156.3 220.4C154.2 223.2 152.6 223.8 150.8 223.8C148.9 223.8 147.3 223.2 145.2 220.4C143.1 217.6 140.1 212.2 138.1 206.9C136.2 201.5 134.6 194.4 133.4 188.2C132.2 182 131.1 175.2 131 169.6C131 163.9 131.4 158.8 133 154.3C134.7 149.8 137.9 145 140.9 142.4C143.9 139.9 147.5 139.1 150.8 139.1Z" fill="none" stroke="#000" stroke-width="2.2" stroke-linejoin="round"/>
<path d="M150.8 144.6C153.6 144.6 156.7 145.3 159.2 147.4C161.8 149.6 164.6 153.6 166 157.4C167.4 161.2 167.7 165.5 167.7 170.3C167.6 175 166.7 180.7 165.7 186C164.6 191.2 163.3 197.2 161.6 201.7C159.9 206.2 157.3 210.7 155.5 213.1C153.7 215.5 152.4 216 150.8 216C149.2 216 147.9 215.5 146.1 213.1C144.3 210.7 141.7 206.2 140 201.7C138.3 197.2 136.9 191.2 135.9 186C134.9 180.7 133.9 175 133.9 170.3C133.8 165.5 134.2 161.2 135.6 157.4C137 153.6 139.8 149.6 142.3 147.4C144.9 145.3 148 144.6 150.8 144.6Z" fill="none" stroke="#000" stroke-width="2.3" stroke-linejoin="round"/>
<path d="M150.8 149.9C153.2 149.9 155.7 150.5 157.9 152.2C160 154 162.3 157.3 163.5 160.4C164.7 163.5 164.9 167 164.9 170.9C164.9 174.8 164.1 179.5 163.2 183.8C162.4 188.1 161.2 193 159.8 196.7C158.4 200.4 156.3 204.1 154.8 206C153.3 208 152.1 208.4 150.8 208.4C149.5 208.4 148.4 208 146.9 206C145.4 204.1 143.2 200.4 141.8 196.7C140.4 193 139.3 188.1 138.4 183.8C137.6 179.5 136.8 174.8 136.7 170.9C136.7 167 137 163.5 138.2 160.4C139.3 157.3 141.7 154 143.8 152.2C145.9 150.5 148.5 149.9 150.8 149.9Z" fill="none" stroke="#000" stroke-width="2.4" stroke-linejoin="round"/>
<path d="M150.9 155.1C152.7 155.1 154.8 155.5 156.5 156.9C158.2 158.3 160.1 160.9 161 163.3C161.9 165.8 162.2 168.5 162.1 171.6C162.1 174.7 161.4 178.3 160.8 181.7C160.1 185.1 159.2 188.9 158.1 191.8C156.9 194.7 155.2 197.6 154 199.2C152.8 200.7 151.9 201 150.9 201C149.8 201 148.9 200.7 147.7 199.2C146.5 197.6 144.8 194.7 143.6 191.8C142.5 188.9 141.6 185.1 140.9 181.7C140.3 178.3 139.6 174.7 139.6 171.6C139.6 168.5 139.8 165.8 140.7 163.3C141.7 160.9 143.5 158.3 145.2 156.9C146.9 155.5 149 155.1 150.9 155.1Z" fill="none" stroke="#000" stroke-width="2.4" stroke-linejoin="round"/>
<path d="M150.9 160C152.3 160 153.8 160.4 155.1 161.4C156.4 162.4 157.8 164.3 158.5 166.1C159.2 167.9 159.4 170 159.3 172.2C159.3 174.5 158.8 177.2 158.3 179.7C157.8 182.2 157.1 185 156.3 187.1C155.5 189.3 154.2 191.4 153.3 192.5C152.4 193.7 151.7 193.9 150.9 193.9C150.1 193.9 149.4 193.7 148.5 192.5C147.6 191.4 146.3 189.3 145.5 187.1C144.6 185 144 182.2 143.5 179.7C143 177.2 142.5 174.5 142.4 172.2C142.4 170 142.6 167.9 143.3 166.1C144 164.3 145.4 162.4 146.7 161.4C147.9 160.4 149.5 160 150.9 160Z" fill="none" stroke="#000" stroke-width="2.3" stroke-linejoin="round"/>
<path d="M150.9 165.7C151.8 165.7 152.7 165.9 153.5 166.5C154.3 167.1 155.1 168.3 155.5 169.3C156 170.4 156.1 171.6 156.1 173C156 174.3 155.7 175.9 155.4 177.4C155.1 178.8 154.7 180.5 154.2 181.8C153.7 183 152.9 184.3 152.4 185C151.8 185.7 151.4 185.8 150.9 185.8C150.5 185.8 150 185.7 149.5 185C149 184.3 148.2 183 147.7 181.8C147.1 180.5 146.7 178.8 146.4 177.4C146.1 175.9 145.8 174.3 145.8 173C145.8 171.6 145.9 170.4 146.3 169.3C146.8 168.3 147.6 167.1 148.4 166.5C149.1 165.9 150.1 165.7 150.9 165.7Z" fill="none" stroke="#000" stroke-width="2.2" stroke-linejoin="round"/>
<path d="M171.3 265.7C171.9 267.6 171.8 269.8 171 271.9C170.3 274 168.8 276.3 166.9 278.3C165 280.3 162.3 282.4 159.5 284C156.7 285.7 153.2 287.2 150 288.2C146.7 289.2 143 289.9 139.7 290.1C136.5 290.3 133.1 290.1 130.4 289.5C127.7 288.9 125.2 287.8 123.4 286.5C121.6 285.1 120.3 283.3 119.7 281.5C119.1 279.6 119.2 277.4 120 275.3C120.7 273.2 122.2 270.9 124.1 268.9C126 266.9 128.7 264.8 131.5 263.2C134.3 261.5 137.8 260 141 259C144.3 258 148 257.3 151.3 257.1C154.5 256.9 157.9 257.1 160.6 257.7C163.3 258.3 165.8 259.4 167.6 260.7C169.4 262.1 170.7 263.9 171.3 265.7Z" fill="#000" stroke="#000" stroke-width="1.2" stroke-linejoin="round"/>
<path d="M152.7 271.2C153 272 152.9 273.1 152.5 274.1C152 275 151.1 276.2 150 277.1C148.9 278 147.3 278.8 145.9 279.4C144.4 280 142.7 280.3 141.3 280.4C139.9 280.5 138.4 280.3 137.4 279.8C136.4 279.4 135.6 278.6 135.3 277.8C135 277 135.1 275.9 135.5 274.9C136 274 136.9 272.8 138 271.9C139.1 271 140.7 270.2 142.1 269.6C143.6 269 145.3 268.7 146.7 268.6C148.1 268.5 149.6 268.7 150.6 269.2C151.6 269.6 152.4 270.4 152.7 271.2Z" fill="#fff" stroke="#fff" stroke-width="1.0" stroke-linejoin="round"/>
<path d="M236.9 132.8C237.5 134.3 237.6 136.1 237.2 137.8C236.9 139.5 235.9 141.4 234.7 143C233.4 144.5 231.6 146.1 229.7 147.3C227.8 148.4 225.5 149.3 223.3 149.8C221.2 150.3 218.8 150.5 216.8 150.2C214.8 149.9 212.8 149.2 211.3 148.3C209.9 147.3 208.7 145.9 208.1 144.4C207.5 142.9 207.4 141.1 207.8 139.4C208.1 137.7 209.1 135.8 210.3 134.2C211.6 132.7 213.4 131.1 215.3 129.9C217.2 128.8 219.5 127.9 221.7 127.4C223.8 126.9 226.2 126.7 228.2 127C230.2 127.3 232.2 128 233.7 128.9C235.1 129.9 236.3 131.3 236.9 132.8Z" fill="#fff" stroke="#000" stroke-width="1.8" stroke-linejoin="round"/>
<rect x="79.3" y="80.5" width="236.4" height="236.1" fill="none" stroke="#000" stroke-width="2"/>
<line x1="190" y1="80.5" x2="190" y2="316.6" stroke="#000" stroke-width="2"/>
<line x1="79.3" y1="248.4" x2="315.7" y2="248.4" stroke="#000" stroke-width="2"/>
<path d="M177.2 316.6v3.5M187.3 316.6v3.5M194.5 316.6v3.5M200.1 316.6v3.5M204.7 316.6v3.5M208.6 316.6v3.5M211.9 316.6v3.5M214.9 316.6v3.5M232.6 316.6v3.5M241.4 316.6v3.5M247.6 316.6v3.5M252.4 316.6v3.5M256.4 316.6v3.5M259.8 316.6v3.5M262.7 316.6v3.5M265.2 316.6v3.5M281.9 316.6v3.5M290.3 316.6v3.5M296.3 316.6v3.5M300.9 316.6v3.5M304.7 316.6v3.5M307.9 316.6v3.5M310.7 316.6v3.5M313.1 316.6v3.5M103.3 316.6v3.5M107.3 316.6v3.5M111.3 316.6v3.5M114.3 316.6v3.5M117.3 316.6v3.5M119.8 316.6v3.5M121.8 316.6v3.5M123.3 316.6v3.5M124.8 316.6v3.5M132.3 316.6v3.5M133.8 316.6v3.5M135.8 316.6v3.5M137.8 316.6v3.5M140.3 316.6v3.5M143.3 316.6v3.5M146.3 316.6v3.5M150.3 316.6v3.5M154.3 316.6v3.5M98.1 316.6v6M159.8 316.6v6M217.5 316.6v6M267.5 316.6v6M315.3 316.6v6M79.3 226.1h-3.5M79.3 158.2h-3.5M79.3 213.9h-3.5M79.3 146.9h-3.5M79.3 205.2h-3.5M79.3 138.8h-3.5M79.3 198.5h-3.5M79.3 132.6h-3.5M79.3 192.9h-3.5M79.3 127.5h-3.5M79.3 188.3h-3.5M79.3 123.2h-3.5M79.3 184.2h-3.5M79.3 119.5h-3.5M79.3 180.7h-3.5M79.3 116.2h-3.5M79.3 94.6h-3.5M79.3 83.7h-3.5M79.3 251.5h-3.5M79.3 255.5h-3.5M79.3 259.5h-3.5M79.3 263.5h-3.5M79.3 267h-3.5M79.3 274.5h-3.5M79.3 278h-3.5M79.3 281h-3.5M79.3 283.5h-3.5M79.3 291.5h-3.5M79.3 294h-3.5M79.3 297h-3.5M79.3 300.5h-3.5M79.3 309.5h-3.5M79.3 313.5h-3.5M79.3 113.3h-6M79.3 177.5h-6M79.3 247.1h-6M79.3 270.5h-6M79.3 304.5h-6" stroke="#000" stroke-width="1.2" fill="none"/>
<path d="M128.7 316.6v7M79.3 287.5h-7" stroke="#000" stroke-width="4" fill="none"/>
<text x="81.8" y="103" font-size="23.5">67.1</text>
<text x="312.7" y="103" font-size="23.5" text-anchor="end">10.2</text>
<text x="81.8" y="313.6" font-size="23.5">22.6</text>
</g>
<g>
<path d="M378 135.5h1M356 248.5h1M412 134.5h1M411 246.5h1M398 306.5h1M407 256.5h1M353 158.5h1M425 289.5h1M350 191.5h1M383 111.5h1M355 235.5h1M428 260.5h1M424 291.5h1M368 147.5h1M352 287.5h1M378 119.5h1M382 113.5h1M420 150.5h1M410 123.5h1M418 196.5h1M420 141.5h1M398 128.5h1M407 132.5h1M423 134.5h1M418 254.5h1M413 115.5h1M408 251.5h1M418 148.5h1M383 313.5h1M420 263.5h1M418 261.5h1M426 229.5h1M412 258.5h1M387 309.5h1M350 215.5h1M343 279.5h1M364 157.5h1M423 193.5h1M370 241.5h1M362 173.5h1M415 247.5h1M413 120.5h1M345 287.5h1M422 282.5h1M357 256.5h1M346 268.5h1M382 301.5h1M373 112.5h1M424 262.5h1M431 173.5h1M362 158.5h1M350 249.5h1M358 229.5h1M436 277.5h1M362 231.5h1M358 187.5h1M384 133.5h1M418 248.5h1M354 189.5h1M423 302.5h1M405 295.5h1M397 126.5h1M413 255.5h1M364 154.5h1M411 237.5h1M435 154.5h1M349 280.5h1M410 252.5h1M357 186.5h1M355 250.5h1M382 306.5h1M380 310.5h1M379 128.5h1M345 244.5h1M360 254.5h1M370 131.5h1M413 140.5h1M447 186.5h1M410 250.5h1M424 259.5h1M363 265.5h1M355 195.5h1M359 159.5h1M352 197.5h1M358 227.5h1M426 253.5h1M410 251.5h1M387 127.5h1M414 226.5h1M363 189.5h1M424 270.5h1M423 214.5h1M407 260.5h1M352 277.5h1M397 305.5h1M365 254.5h1M424 141.5h1M333 274.5h1M416 140.5h1M432 196.5h1M360 160.5h1M411 256.5h1M356 246.5h1M431 147.5h1M410 245.5h1M425 277.5h1M356 277.5h1M349 223.5h1M426 261.5h1M421 267.5h1M362 186.5h1M418 206.5h1M410 242.5h1M364 146.5h1M369 238.5h1M422 169.5h1M419 262.5h1M358 219.5h1M402 124.5h1M415 302.5h1M410 232.5h1M430 281.5h1M357 191.5h1M421 233.5h1M336 284.5h1M428 244.5h1M418 269.5h1M367 247.5h1M351 286.5h1M361 179.5h1M348 292.5h1M377 118.5h1M404 293.5h1M354 270.5h1M387 310.5h1M353 293.5h1M424 178.5h1M419 264.5h1M352 291.5h1M363 225.5h1M420 282.5h1M430 293.5h1M360 156.5h1M422 222.5h1M347 271.5h1M366 147.5h1M333 293.5h1M426 289.5h1M399 129.5h1M350 283.5h1M360 171.5h1M434 305.5h1M333 265.5h1M444 235.5h1M413 239.5h1M415 250.5h1M426 283.5h1M352 274.5h1M355 228.5h1M369 137.5h1M361 191.5h1M344 242.5h1M354 272.5h1M352 177.5h1M351 291.5h1M410 247.5h1M389 119.5h1M342 280.5h1M349 279.5h1M419 272.5h1M385 130.5h1M351 269.5h1M350 285.5h1M417 302.5h1M416 256.5h1M357 159.5h1M361 220.5h1M414 247.5h1M421 239.5h1M444 208.5h1M357 262.5h1M365 136.5h1M414 288.5h1M350 150.5h1M382 131.5h1M424 160.5h1M407 257.5h1M354 236.5h1M418 191.5h1M338 142.5h1M400 305.5h1M417 137.5h1M363 247.5h1M362 203.5h1M427 288.5h1M364 218.5h1M393 301.5h1M431 279.5h1M425 193.5h1M422 294.5h1M360 235.5h1M361 219.5h1M422 271.5h1M368 245.5h1M344 290.5h1M410 263.5h1M362 142.5h1M365 255.5h1M364 138.5h1M376 131.5h1M414 252.5h1M423 269.5h1M418 302.5h1M341 284.5h1M409 257.5h1M434 165.5h1M410 251.5h1M437 244.5h1M411 228.5h1M345 195.5h1M426 128.5h1M356 185.5h1M431 240.5h1M412 245.5h1M431 242.5h1M422 276.5h1M349 202.5h1M401 300.5h1M359 164.5h1M359 189.5h1M351 177.5h1M420 282.5h1M366 247.5h1M351 272.5h1M416 251.5h1M363 142.5h1M430 195.5h1M426 241.5h1M431 181.5h1M434 245.5h1M435 168.5h1M338 292.5h1M369 256.5h1M355 277.5h1M422 211.5h1M390 133.5h1M389 302.5h1M371 137.5h1M404 308.5h1M359 200.5h1M388 127.5h1M417 237.5h1M351 276.5h1M394 123.5h1M391 131.5h1M361 146.5h1M375 118.5h1M375 137.5h1M421 271.5h1M376 134.5h1M426 147.5h1M355 245.5h1M361 194.5h1M364 145.5h1M349 216.5h1M415 135.5h1M359 182.5h1M413 262.5h1M434 250.5h1M364 251.5h1M428 216.5h1M413 128.5h1M411 298.5h1M424 205.5h1M421 143.5h1M415 143.5h1M368 231.5h1M419 227.5h1M357 222.5h1M408 249.5h1M436 177.5h1M380 125.5h1M410 226.5h1M353 138.5h1M423 184.5h1M367 246.5h1M408 258.5h1M422 220.5h1M354 243.5h1M345 142.5h1M426 291.5h1M371 140.5h1M412 131.5h1M348 150.5h1M396 134.5h1M364 172.5h1M428 280.5h1M425 192.5h1M412 306.5h1M385 300.5h1M412 258.5h1M414 246.5h1M409 258.5h1M360 265.5h1M417 263.5h1M350 265.5h1M370 125.5h1M348 186.5h1M413 299.5h1M415 207.5h1M387 133.5h1M341 283.5h1M437 263.5h1M433 159.5h1M382 129.5h1M364 254.5h1M441 270.5h1M412 230.5h1M411 248.5h1M365 235.5h1M344 289.5h1M348 292.5h1M418 284.5h1M405 302.5h1M359 249.5h1M429 311.5h1M337 210.5h1M430 271.5h1M351 165.5h1M358 160.5h1M419 139.5h1M382 307.5h1M412 215.5h1M425 179.5h1M362 247.5h1M395 307.5h1M409 239.5h1M360 239.5h1M346 272.5h1M418 270.5h1M421 204.5h1M427 149.5h1M362 198.5h1M439 291.5h1M360 161.5h1M411 259.5h1M412 223.5h1M350 159.5h1M357 189.5h1M342 291.5h1M434 258.5h1M400 124.5h1M362 189.5h1M351 283.5h1M366 246.5h1M394 125.5h1M409 239.5h1M366 120.5h1M357 207.5h1M369 126.5h1M360 211.5h1M339 254.5h1M361 150.5h1M417 260.5h1M415 147.5h1M405 258.5h1M377 121.5h1M418 278.5h1M392 313.5h1M418 262.5h1M434 160.5h1M409 302.5h1M344 283.5h1M339 264.5h1M390 135.5h1M405 136.5h1M428 242.5h1M421 291.5h1M360 244.5h1M357 240.5h1M417 244.5h1M349 277.5h1M352 182.5h1M363 141.5h1M414 142.5h1M348 192.5h1M396 304.5h1M351 210.5h1M342 281.5h1M346 275.5h1M417 246.5h1M408 295.5h1M382 132.5h1M410 294.5h1M353 281.5h1M429 188.5h1M418 190.5h1M416 267.5h1M365 132.5h1M343 162.5h1M419 275.5h1M350 245.5h1M429 247.5h1M424 259.5h1M415 285.5h1M410 242.5h1M346 271.5h1M409 240.5h1M364 226.5h1M413 261.5h1M407 299.5h1M346 156.5h1M356 218.5h1M431 181.5h1M413 241.5h1M432 145.5h1M365 138.5h1M352 204.5h1M368 142.5h1M357 268.5h1M425 287.5h1M418 225.5h1M420 236.5h1M348 247.5h1M356 260.5h1M423 251.5h1M387 128.5h1M360 245.5h1M430 171.5h1M371 127.5h1M359 168.5h1M351 274.5h1M399 305.5h1M363 253.5h1M350 191.5h1M414 253.5h1M421 287.5h1M353 247.5h1M359 191.5h1M422 263.5h1M364 125.5h1M430 278.5h1M350 171.5h1M407 239.5h1M348 191.5h1M342 283.5h1M355 247.5h1M344 152.5h1M361 153.5h1M391 134.5h1M412 220.5h1M413 258.5h1M383 117.5h1M338 290.5h1M435 282.5h1M362 249.5h1M407 256.5h1M427 160.5h1M412 296.5h1M435 162.5h1M420 263.5h1M346 289.5h1M361 183.5h1M424 258.5h1M388 310.5h1M409 260.5h1M443 207.5h1M410 229.5h1M364 150.5h1M380 132.5h1M425 193.5h1M429 238.5h1M353 205.5h1M361 152.5h1M425 281.5h1M424 241.5h1M432 160.5h1M367 255.5h1M427 181.5h1M375 110.5h1M422 241.5h1M369 244.5h1M405 136.5h1M354 240.5h1M397 307.5h1M414 260.5h1M428 284.5h1M405 296.5h1M421 258.5h1M424 131.5h1M400 134.5h1M401 300.5h1M419 186.5h1M352 287.5h1M421 295.5h1M395 136.5h1M356 206.5h1M412 260.5h1M342 269.5h1M349 282.5h1M433 197.5h1M398 134.5h1M354 245.5h1M411 142.5h1M410 256.5h1M420 193.5h1M353 285.5h1M363 233.5h1M365 232.5h1M337 208.5h1M430 274.5h1M424 166.5h1M338 159.5h1M412 300.5h1M415 301.5h1M422 289.5h1M421 198.5h1M395 136.5h1M373 137.5h1M406 306.5h1M353 254.5h1M410 242.5h1M434 217.5h1M362 154.5h1M404 308.5h1M390 302.5h1M365 257.5h1M386 300.5h1M353 271.5h1M419 181.5h1M424 266.5h1M425 159.5h1M414 261.5h1M375 138.5h1M420 237.5h1M426 248.5h1M419 248.5h1M428 268.5h1M414 283.5h1M390 123.5h1M431 242.5h1M385 123.5h1M365 158.5h1M357 175.5h1M426 125.5h1M348 147.5h1M346 257.5h1M415 230.5h1M433 287.5h1M348 269.5h1M363 147.5h1M407 298.5h1M429 262.5h1M420 295.5h1M420 155.5h1M353 283.5h1M363 164.5h1M436 146.5h1M354 292.5h1M397 307.5h1M351 272.5h1M396 296.5h1M413 212.5h1M335 280.5h1M425 284.5h1M383 310.5h1M419 221.5h1M423 281.5h1M350 276.5h1M409 134.5h1M367 228.5h1M391 130.5h1M408 304.5h1M355 147.5h1M342 182.5h1M388 135.5h1M354 289.5h1M419 284.5h1M344 271.5h1M352 256.5h1M362 233.5h1M415 238.5h1M408 262.5h1M365 138.5h1M350 208.5h1M361 220.5h1M353 275.5h1M369 134.5h1M424 163.5h1M340 259.5h1M353 275.5h1M429 307.5h1M386 304.5h1M397 304.5h1M360 176.5h1M421 245.5h1M400 299.5h1M358 270.5h1M350 196.5h1M431 172.5h1M360 150.5h1M402 300.5h1M439 198.5h1M344 190.5h1M422 144.5h1M360 233.5h1M406 255.5h1M404 129.5h1M365 219.5h1M353 288.5h1M363 122.5h1M401 134.5h1M374 130.5h1M361 198.5h1M407 258.5h1M370 128.5h1M425 265.5h1M359 256.5h1M429 246.5h1M414 126.5h1M426 202.5h1M440 212.5h1M358 176.5h1M361 192.5h1M410 258.5h1M407 130.5h1M388 126.5h1M404 296.5h1M358 154.5h1M364 232.5h1M409 137.5h1M351 288.5h1M418 135.5h1M360 157.5h1M410 293.5h1M350 198.5h1M416 149.5h1M428 216.5h1M353 246.5h1M364 245.5h1M391 310.5h1M430 287.5h1M350 217.5h1M424 188.5h1M405 134.5h1M432 292.5h1M418 273.5h1M371 242.5h1M413 144.5h1M346 223.5h1M430 284.5h1M411 251.5h1M347 277.5h1M354 182.5h1M430 138.5h1M417 195.5h1M426 153.5h1M417 262.5h1M360 154.5h1M401 127.5h1M365 251.5h1M367 145.5h1M405 294.5h1M410 296.5h1M350 199.5h1M423 285.5h1M375 125.5h1M418 153.5h1M403 121.5h1M356 192.5h1M426 279.5h1M357 116.5h1M426 154.5h1M366 148.5h1M424 179.5h1M401 114.5h1M383 134.5h1M443 275.5h1M416 203.5h1M409 256.5h1M421 260.5h1M361 204.5h1M410 242.5h1M378 128.5h1M380 133.5h1M359 171.5h1M424 241.5h1M357 172.5h1M341 243.5h1M432 138.5h1M344 276.5h1M369 244.5h1M418 200.5h1M362 197.5h1M419 229.5h1M358 144.5h1M362 129.5h1M405 300.5h1M409 256.5h1M419 135.5h1M349 277.5h1M418 208.5h1M400 301.5h1M423 127.5h1M400 130.5h1M424 204.5h1M412 302.5h1M358 180.5h1M391 302.5h1M410 249.5h1M359 215.5h1M421 175.5h1M407 290.5h1M418 290.5h1M346 230.5h1M411 296.5h1M361 158.5h1M408 259.5h1M408 262.5h1M357 238.5h1M341 275.5h1M395 121.5h1M416 310.5h1M416 260.5h1M401 304.5h1M359 233.5h1M410 259.5h1M417 236.5h1M426 178.5h1M416 138.5h1M411 250.5h1M427 273.5h1M359 217.5h1M395 312.5h1M427 205.5h1M433 177.5h1M423 278.5h1M401 300.5h1M406 255.5h1M407 300.5h1M418 152.5h1M427 262.5h1M364 225.5h1M352 283.5h1M420 167.5h1M376 127.5h1M346 293.5h1M412 304.5h1M353 214.5h1M362 206.5h1M354 244.5h1M398 302.5h1M425 145.5h1M368 130.5h1M359 193.5h1M344 163.5h1M390 128.5h1M344 288.5h1M365 142.5h1M357 218.5h1M422 204.5h1M413 138.5h1M411 243.5h1M360 140.5h1M414 143.5h1M381 128.5h1M419 300.5h1M414 231.5h1M428 155.5h1M368 128.5h1M366 237.5h1M360 137.5h1M415 299.5h1M353 275.5h1M422 157.5h1M424 273.5h1M352 151.5h1M357 211.5h1M357 153.5h1M347 285.5h1M342 261.5h1M384 304.5h1M389 303.5h1M340 267.5h1M412 255.5h1M386 301.5h1M368 257.5h1M425 177.5h1M423 209.5h1M373 125.5h1M404 296.5h1M369 143.5h1M352 243.5h1M380 120.5h1M408 251.5h1M392 306.5h1M412 257.5h1M389 119.5h1M419 148.5h1M418 251.5h1M444 147.5h1M360 211.5h1M421 155.5h1M419 225.5h1M357 269.5h1M415 261.5h1M426 245.5h1M361 271.5h1M380 110.5h1M357 246.5h1M415 296.5h1M370 239.5h1M413 259.5h1M360 270.5h1M362 253.5h1M360 158.5h1M422 267.5h1M358 173.5h1M418 212.5h1M394 134.5h1M433 139.5h1M339 245.5h1M405 121.5h1M414 210.5h1M431 167.5h1M418 140.5h1M359 149.5h1M392 133.5h1M424 259.5h1M416 236.5h1M413 235.5h1M424 183.5h1M411 259.5h1M435 312.5h1M398 303.5h1M360 245.5h1M356 273.5h1M351 204.5h1M387 308.5h1M417 259.5h1M420 293.5h1M355 260.5h1M357 270.5h1M422 277.5h1M390 95.5h1M359 217.5h1M347 230.5h1M421 191.5h1M397 302.5h1M392 302.5h1M424 269.5h1M368 247.5h1M425 152.5h1M397 296.5h1M356 277.5h1M422 201.5h1M431 292.5h1M341 292.5h1M371 244.5h1M349 188.5h1M340 281.5h1M363 199.5h1M419 246.5h1M417 261.5h1M357 180.5h1M411 235.5h1M419 282.5h1M409 293.5h1M413 243.5h1M384 303.5h1M405 131.5h1M354 260.5h1M355 275.5h1M396 124.5h1M353 291.5h1M345 281.5h1M420 261.5h1M370 245.5h1M350 166.5h1M419 149.5h1M414 300.5h1M447 273.5h1M418 270.5h1M412 295.5h1M355 246.5h1M424 139.5h1M409 251.5h1M412 233.5h1M413 242.5h1M349 217.5h1M351 290.5h1M344 285.5h1M415 257.5h1M414 254.5h1M360 263.5h1M413 285.5h1M349 249.5h1M367 249.5h1M353 232.5h1M370 243.5h1M417 263.5h1M415 225.5h1M417 210.5h1M365 260.5h1M344 153.5h1M391 308.5h1M440 247.5h1M353 274.5h1M377 136.5h1M367 140.5h1M367 134.5h1M419 243.5h1M353 273.5h1M369 241.5h1M440 276.5h1M410 307.5h1M397 130.5h1M423 188.5h1M408 292.5h1M411 121.5h1M357 245.5h1M385 312.5h1M382 132.5h1M424 260.5h1M356 241.5h1M358 136.5h1M404 120.5h1M360 150.5h1M363 244.5h1M424 259.5h1M415 244.5h1M423 261.5h1M417 265.5h1M422 265.5h1M397 122.5h1M414 251.5h1M352 200.5h1M448 153.5h1M423 228.5h1M375 129.5h1M368 132.5h1M416 264.5h1M333 269.5h1M437 175.5h1M373 120.5h1M433 153.5h1M400 307.5h1M417 305.5h1M418 286.5h1M408 241.5h1M427 166.5h1M362 138.5h1M411 247.5h1M355 191.5h1M408 242.5h1M350 141.5h1M421 273.5h1M411 289.5h1M367 136.5h1M376 135.5h1M407 296.5h1M416 300.5h1M418 285.5h1M404 302.5h1M425 293.5h1M429 264.5h1M357 204.5h1M411 251.5h1M357 245.5h1M407 133.5h1M378 131.5h1M412 247.5h1M387 311.5h1M406 133.5h1M340 281.5h1M369 248.5h1M348 154.5h1M368 136.5h1M426 233.5h1M356 153.5h1M388 128.5h1M432 155.5h1M354 238.5h1M367 248.5h1M407 295.5h1M410 248.5h1M355 149.5h1M421 159.5h1M348 293.5h1M428 283.5h1M349 247.5h1M380 126.5h1M403 295.5h1M348 279.5h1M435 259.5h1M437 175.5h1M391 302.5h1M356 156.5h1M390 310.5h1M420 263.5h1M414 238.5h1M352 286.5h1M387 304.5h1M356 193.5h1M375 125.5h1M417 254.5h1M379 136.5h1M353 278.5h1M334 269.5h1M422 310.5h1M392 134.5h1M420 285.5h1M417 295.5h1M357 191.5h1M413 310.5h1M425 276.5h1M421 143.5h1M423 153.5h1M367 250.5h1M351 171.5h1M359 263.5h1M415 250.5h1M357 236.5h1M413 244.5h1M432 265.5h1M400 127.5h1M349 171.5h1M363 185.5h1M352 265.5h1M411 308.5h1M371 144.5h1M365 140.5h1M411 305.5h1M347 274.5h1M360 242.5h1M398 300.5h1M428 214.5h1M415 261.5h1M360 249.5h1M339 263.5h1M412 236.5h1M430 268.5h1M422 157.5h1M400 299.5h1M413 251.5h1M350 268.5h1M419 296.5h1M346 278.5h1M398 131.5h1M348 236.5h1M410 241.5h1M418 137.5h1M417 291.5h1M354 251.5h1M404 298.5h1M407 311.5h1M350 249.5h1M439 154.5h1M357 272.5h1M419 242.5h1M345 225.5h1M342 290.5h1M360 155.5h1M397 121.5h1M365 262.5h1M352 229.5h1M416 267.5h1M407 250.5h1M412 238.5h1M424 244.5h1M365 246.5h1M410 288.5h1M394 129.5h1M383 307.5h1M392 122.5h1M356 163.5h1M418 145.5h1M397 131.5h1M428 166.5h1M354 163.5h1M358 181.5h1M348 287.5h1M399 130.5h1M422 286.5h1M401 132.5h1M430 189.5h1M383 122.5h1M362 198.5h1M402 297.5h1M417 239.5h1M348 180.5h1M336 186.5h1M422 293.5h1M422 212.5h1M395 116.5h1M415 147.5h1M427 279.5h1M395 297.5h1M426 271.5h1M358 167.5h1M347 268.5h1M411 231.5h1M410 258.5h1M363 243.5h1M349 284.5h1M354 145.5h1M419 278.5h1M409 251.5h1M425 267.5h1M380 136.5h1M420 279.5h1M363 263.5h1M358 225.5h1M381 128.5h1M356 249.5h1M360 223.5h1M342 275.5h1M418 289.5h1M382 110.5h1M361 189.5h1M348 186.5h1M406 134.5h1M416 127.5h1M425 187.5h1M408 242.5h1M420 182.5h1M417 270.5h1M418 266.5h1M347 281.5h1M365 242.5h1M413 264.5h1M413 257.5h1M359 177.5h1M362 246.5h1M353 267.5h1M417 258.5h1M385 133.5h1M372 139.5h1M357 141.5h1M407 261.5h1M358 267.5h1M414 262.5h1M422 294.5h1M367 256.5h1M420 265.5h1M417 293.5h1M419 236.5h1M424 138.5h1M414 261.5h1M361 144.5h1M421 243.5h1M364 263.5h1M342 250.5h1M352 266.5h1M419 249.5h1M380 309.5h1M343 287.5h1M417 286.5h1M353 279.5h1M349 174.5h1M412 253.5h1M415 283.5h1M365 245.5h1M391 301.5h1M394 311.5h1M395 300.5h1M419 213.5h1M369 142.5h1M365 244.5h1M429 277.5h1M395 308.5h1M408 293.5h1M347 286.5h1M398 301.5h1M350 170.5h1M408 257.5h1M422 178.5h1M428 250.5h1M411 253.5h1M428 242.5h1M366 214.5h1M409 255.5h1M416 236.5h1M417 226.5h1M414 309.5h1M415 266.5h1M396 302.5h1M347 272.5h1M358 246.5h1M416 300.5h1M419 134.5h1M409 308.5h1M386 133.5h1M425 189.5h1M380 306.5h1M361 238.5h1M407 135.5h1M418 267.5h1M394 300.5h1M426 294.5h1M348 222.5h1M430 159.5h1M411 135.5h1M426 164.5h1M426 222.5h1M362 263.5h1M417 150.5h1M423 244.5h1M408 241.5h1M418 273.5h1M397 127.5h1M418 195.5h1M421 236.5h1M409 253.5h1M414 240.5h1M351 279.5h1M373 121.5h1M430 270.5h1M377 136.5h1M413 247.5h1M422 233.5h1M429 289.5h1M412 229.5h1M375 130.5h1M425 210.5h1M408 257.5h1M353 289.5h1M420 272.5h1M417 156.5h1M426 277.5h1M409 254.5h1M421 192.5h1M429 153.5h1M366 152.5h1M387 124.5h1M363 244.5h1M353 202.5h1M430 274.5h1M427 174.5h1M410 251.5h1M368 247.5h1M369 129.5h1M392 114.5h1M362 247.5h1M421 268.5h1M341 278.5h1M345 153.5h1M364 263.5h1M415 283.5h1M393 133.5h1M414 249.5h1M407 295.5h1M387 300.5h1M419 237.5h1M406 304.5h1M413 296.5h1M382 130.5h1M376 125.5h1M347 227.5h1M411 236.5h1M347 199.5h1M400 128.5h1M437 176.5h1M355 167.5h1M368 141.5h1M400 128.5h1M407 306.5h1M352 231.5h1M390 126.5h1M341 284.5h1M424 241.5h1M351 285.5h1M425 191.5h1M430 152.5h1M418 213.5h1M422 272.5h1M365 215.5h1M432 212.5h1M427 295.5h1M384 133.5h1M431 262.5h1M361 260.5h1M343 197.5h1M424 275.5h1M365 230.5h1M427 185.5h1M408 260.5h1M429 242.5h1M396 296.5h1M420 234.5h1M340 281.5h1M416 258.5h1M387 301.5h1M419 275.5h1M434 156.5h1M393 135.5h1M382 305.5h1M478 132.5h1M514 107.5h1M469 169.5h1M509 161.5h1M504 116.5h1M486 161.5h1M449 168.5h1M491 134.5h1M435 172.5h1M488 160.5h1M479 139.5h1M445 179.5h1M482 192.5h1M511 133.5h1M503 172.5h1M441 140.5h1M458 121.5h1M467 125.5h1M480 143.5h1M438 154.5h1M450 166.5h1M479 169.5h1M463 102.5h1M438 159.5h1M484 162.5h1M490 128.5h1M485 154.5h1M476 99.5h1M506 154.5h1M425 178.5h1M516 177.5h1M491 135.5h1M500 140.5h1M438 145.5h1M487 113.5h1M483 138.5h1M505 127.5h1M455 133.5h1M455 130.5h1M474 165.5h1M508 125.5h1M470 135.5h1M496 157.5h1M529 169.5h1M484 96.5h1M438 164.5h1M456 130.5h1M489 156.5h1M472 159.5h1M477 191.5h1M510 166.5h1M472 120.5h1M524 144.5h1M501 163.5h1M479 143.5h1M482 128.5h1M490 150.5h1M511 132.5h1M451 191.5h1M486 118.5h1M509 122.5h1M486 159.5h1M465 117.5h1M475 165.5h1M475 167.5h1M458 109.5h1M484 148.5h1M454 192.5h1M482 164.5h1M500 153.5h1M477 152.5h1M445 194.5h1M505 143.5h1M509 153.5h1M437 152.5h1M484 146.5h1M515 165.5h1M457 141.5h1M469 134.5h1M480 121.5h1M470 137.5h1M479 119.5h1M481 195.5h1M485 138.5h1M502 139.5h1M498 166.5h1M448 199.5h1M526 154.5h1M465 135.5h1M451 164.5h1M493 154.5h1M511 132.5h1M463 155.5h1M465 161.5h1M550 122.5h1M477 169.5h1M431 209.5h1M467 176.5h1M469 118.5h1M501 148.5h1M459 155.5h1M473 156.5h1M491 147.5h1M502 168.5h1M482 157.5h1M509 121.5h1M526 144.5h1M468 165.5h1M445 200.5h1M523 129.5h1M461 156.5h1M509 140.5h1M481 166.5h1M488 176.5h1M495 120.5h1M504 153.5h1M494 133.5h1M516 140.5h1M484 122.5h1M472 173.5h1M517 154.5h1M462 137.5h1M461 112.5h1M464 174.5h1M463 168.5h1M500 123.5h1M511 166.5h1M455 129.5h1M472 106.5h1M483 158.5h1M470 111.5h1M501 162.5h1M461 175.5h1M453 174.5h1M453 136.5h1M447 152.5h1M505 186.5h1M504 138.5h1M487 160.5h1M515 157.5h1M522 169.5h1M534 148.5h1M442 130.5h1M460 203.5h1M420 161.5h1M506 138.5h1M525 109.5h1M483 165.5h1M455 140.5h1M525 165.5h1M503 151.5h1M467 135.5h1M502 150.5h1M470 141.5h1M454 157.5h1M517 121.5h1M480 159.5h1M445 143.5h1M481 170.5h1M454 169.5h1M441 207.5h1M468 170.5h1M542 159.5h1M520 129.5h1M468 112.5h1M522 132.5h1M482 154.5h1M510 105.5h1M447 152.5h1M510 154.5h1M468 124.5h1M516 136.5h1M469 179.5h1M479 139.5h1M437 198.5h1M467 148.5h1M448 152.5h1M497 160.5h1M533 106.5h1M481 153.5h1M465 158.5h1M458 150.5h1M503 108.5h1M484 173.5h1M482 162.5h1M490 139.5h1M506 166.5h1M466 148.5h1M462 183.5h1M489 143.5h1M509 150.5h1M518 128.5h1M482 119.5h1M501 134.5h1M483 155.5h1M509 88.5h1M506 141.5h1M463 157.5h1M500 153.5h1M463 178.5h1M489 173.5h1M493 151.5h1M501 146.5h1M472 181.5h1M478 135.5h1M508 192.5h1M478 203.5h1M476 130.5h1M450 98.5h1M499 154.5h1M483 89.5h1M461 129.5h1M506 150.5h1M464 114.5h1M476 159.5h1M482 143.5h1M496 130.5h1M510 119.5h1M498 108.5h1M453 154.5h1M459 171.5h1M481 203.5h1M461 167.5h1M455 187.5h1M482 179.5h1M505 121.5h1M508 152.5h1M474 158.5h1M506 176.5h1M478 176.5h1M480 163.5h1M472 159.5h1M434 186.5h1M456 135.5h1M503 136.5h1M441 140.5h1M462 147.5h1M522 111.5h1M486 131.5h1M473 131.5h1M454 133.5h1M444 146.5h1M466 163.5h1M515 122.5h1M454 109.5h1M498 120.5h1M497 164.5h1M440 177.5h1M438 163.5h1M431 171.5h1M443 157.5h1M524 146.5h1M498 150.5h1M507 95.5h1M492 178.5h1M464 142.5h1M486 125.5h1M495 142.5h1M505 107.5h1M486 157.5h1M492 163.5h1M502 115.5h1M495 132.5h1M488 148.5h1M494 164.5h1M492 135.5h1M487 157.5h1M469 171.5h1M460 159.5h1M450 167.5h1M495 154.5h1M441 133.5h1M465 180.5h1M438 145.5h1M444 144.5h1M461 149.5h1M490 200.5h1M478 118.5h1M500 191.5h1M487 175.5h1M487 126.5h1M483 145.5h1M492 151.5h1M464 176.5h1M451 154.5h1M482 147.5h1M456 151.5h1M431 167.5h1M506 140.5h1M505 132.5h1M485 150.5h1M429 194.5h1M438 274.5h1M442 252.5h1M454 264.5h1M463 252.5h1M450 268.5h1M448 261.5h1M436 258.5h1M458 266.5h1M450 276.5h1M429 263.5h1M455 268.5h1M483 256.5h1" stroke="#000" stroke-width="1" fill="none" shape-rendering="crispEdges"/>
<path d="M392.9 135.9C396.6 136.4 402.4 136.7 406.2 139.4C410.1 142 413.9 146.8 415.9 152C417.8 157.2 418.1 163.1 418 170.4C417.9 177.7 416.6 187.3 415.3 195.8C414.1 204.2 412 213.8 410.5 221.1C409 228.4 406.8 234.5 406.2 239.5C405.6 244.5 407.4 247.5 407 251C406.6 254.5 403.1 258.1 404 260.3C404.9 262.4 410.4 262.3 412.6 263.9C414.8 265.5 416.4 267.7 417.1 270C417.7 272.2 417.6 274.9 416.7 277.5C415.8 280 414 282.8 411.6 285.3C409.3 287.8 406 290.3 402.6 292.3C399.1 294.3 394.9 296.1 390.9 297.3C386.9 298.5 382.4 299.4 378.4 299.6C374.4 299.9 370.3 299.7 367 298.9C363.7 298.2 360.6 296.9 358.4 295.3C356.2 293.7 354.6 291.5 353.9 289.2C353.3 287 353.4 284.3 354.3 281.7C355.2 279.2 356.4 279 359.4 273.9C362.3 268.8 370 256.7 372 251C374 245.3 372.1 244.5 371.5 239.5C370.8 234.5 369.3 228.4 368.2 221.1C367.2 213.8 365.7 204.2 365 195.8C364.4 187.3 364.1 177.7 364.5 170.4C364.9 163.1 365.4 157 367.2 152C369 147 372.4 143.1 375.2 140.5C378 137.9 380.8 137.2 383.8 136.5C386.7 135.7 389.1 135.4 392.9 135.9Z" fill="none" stroke="#000" stroke-width="1.9" stroke-linejoin="round"/>
<path d="M392.7 139.4C396.2 139.9 401.6 140.1 405.2 142.6C408.8 145.1 412.3 149.6 414.1 154.4C416 159.2 416.2 164.7 416.1 171.5C416 178.3 414.8 187.2 413.6 195.1C412.5 202.9 410.6 211.8 409.2 218.6C407.8 225.4 406.4 230.3 405.2 235.7C403.9 241.1 402.1 246.7 401.7 251C401.3 255.3 401.2 259.3 402.7 261.6C404.2 264 408.7 263.5 410.7 265C412.7 266.5 414.2 268.5 414.8 270.6C415.5 272.7 415.4 275.2 414.5 277.6C413.7 280 412 282.6 409.8 284.9C407.6 287.2 404.6 289.5 401.4 291.4C398.2 293.2 394.3 294.9 390.5 296.1C386.8 297.2 382.6 298 378.9 298.2C375.2 298.5 371.4 298.3 368.3 297.6C365.2 296.9 362.3 295.7 360.3 294.2C358.3 292.7 356.8 290.7 356.2 288.6C355.5 286.5 355.6 284 356.5 281.6C357.3 279.2 357.7 279.4 361.2 274.3C364.7 269.2 375.4 257.4 377.3 251C379.2 244.6 374.1 241.1 372.8 235.7C371.6 230.3 370.9 225.4 369.9 218.6C368.9 211.8 367.5 202.9 366.9 195.1C366.3 187.2 366 178.3 366.4 171.5C366.7 164.7 367.2 159 368.9 154.4C370.5 149.8 373.8 146.1 376.3 143.7C378.9 141.3 381.6 140.7 384.3 139.9C387 139.2 389.3 139 392.7 139.4Z" fill="none" stroke="#000" stroke-width="1.9" stroke-linejoin="round"/>
<path d="M391 140.4C394.5 140.4 398.4 141.4 401.5 144.5C404.7 147.5 408.2 153.3 410 158.7C411.8 164.1 412.2 170.2 412.1 177C412 183.7 410.8 191.9 409.6 199.3C408.3 206.8 406.6 215.2 404.5 221.7C402.4 228.1 399.2 234.5 396.9 237.9C394.6 241.3 393 242 391 242C389 242 387.3 241.3 385.1 237.9C382.8 234.5 379.6 228.1 377.5 221.7C375.3 215.2 373.7 206.8 372.4 199.3C371.1 191.9 369.9 183.7 369.9 177C369.8 170.2 370.2 164.1 372 158.7C373.7 153.3 377.2 147.5 380.4 144.5C383.6 141.4 387.5 140.4 391 140.4Z" fill="none" stroke="#000" stroke-width="2.0" stroke-linejoin="round"/>
<path d="M391 148.6C394 148.6 397.2 149.4 399.9 151.9C402.6 154.4 405.5 159.2 407 163.6C408.5 168.1 408.8 173 408.8 178.6C408.7 184.2 407.7 190.8 406.7 196.9C405.6 203 404.2 210 402.4 215.3C400.6 220.5 397.9 225.8 396 228.6C394.1 231.4 392.7 231.9 391 231.9C389.4 231.9 388 231.4 386.1 228.6C384.2 225.8 381.4 220.5 379.7 215.3C377.9 210 376.5 203 375.4 196.9C374.3 190.8 373.3 184.2 373.3 178.6C373.2 173 373.6 168.1 375.1 163.6C376.5 159.2 379.5 154.4 382.2 151.9C384.8 149.4 388.1 148.6 391 148.6Z" fill="none" stroke="#000" stroke-width="2.1" stroke-linejoin="round"/>
<path d="M391.1 156.5C393.5 156.5 396.1 157.1 398.3 159.1C400.4 161.1 402.8 164.8 404 168.3C405.2 171.8 405.5 175.8 405.5 180.2C405.4 184.5 404.6 189.8 403.7 194.6C402.9 199.5 401.7 204.9 400.3 209.1C398.8 213.3 396.6 217.4 395.1 219.6C393.6 221.8 392.4 222.3 391.1 222.3C389.7 222.3 388.6 221.8 387.1 219.6C385.5 217.4 383.3 213.3 381.9 209.1C380.5 204.9 379.3 199.5 378.4 194.6C377.6 189.8 376.8 184.5 376.7 180.2C376.7 175.8 377 171.8 378.2 168.3C379.3 164.8 381.7 161.1 383.9 159.1C386.1 157.1 388.7 156.5 391.1 156.5Z" fill="none" stroke="#000" stroke-width="2.2" stroke-linejoin="round"/>
<path d="M391.1 164C393 164 395 164.5 396.6 166C398.3 167.4 400.1 170.2 401 172.8C401.9 175.4 402.2 178.4 402.1 181.6C402.1 184.9 401.5 188.8 400.8 192.4C400.1 196 399.3 200.1 398.2 203.2C397.1 206.3 395.4 209.4 394.2 211.1C393 212.7 392.2 213 391.1 213C390.1 213 389.2 212.7 388.1 211.1C386.9 209.4 385.2 206.3 384.1 203.2C383 200.1 382.1 196 381.5 192.4C380.8 188.8 380.2 184.9 380.1 181.6C380.1 178.4 380.3 175.4 381.2 172.8C382.2 170.2 384 167.4 385.6 166C387.3 164.5 389.3 164 391.1 164Z" fill="none" stroke="#000" stroke-width="2.3" stroke-linejoin="round"/>
<path d="M391.2 171.2C392.5 171.2 393.8 171.5 395 172.5C396.1 173.5 397.4 175.3 398 177.1C398.7 178.9 398.8 180.9 398.8 183.1C398.8 185.3 398.3 187.9 397.9 190.3C397.4 192.8 396.8 195.5 396.1 197.6C395.3 199.7 394.1 201.8 393.3 202.9C392.5 204 391.9 204.2 391.2 204.2C390.5 204.2 389.9 204 389.1 202.9C388.2 201.8 387.1 199.7 386.3 197.6C385.6 195.5 384.9 192.8 384.5 190.3C384 187.9 383.6 185.3 383.6 183.1C383.6 180.9 383.7 178.9 384.3 177.1C385 175.3 386.2 173.5 387.4 172.5C388.5 171.5 389.9 171.2 391.2 171.2Z" fill="none" stroke="#000" stroke-width="2.3" stroke-linejoin="round"/>
<path d="M391.2 178C391.9 178 392.7 178.2 393.3 178.7C394 179.2 394.7 180.2 395 181.2C395.4 182.1 395.5 183.2 395.5 184.4C395.4 185.6 395.2 187 395 188.3C394.7 189.7 394.4 191.1 393.9 192.3C393.5 193.4 392.9 194.5 392.4 195.1C392 195.7 391.6 195.9 391.2 195.9C390.8 195.9 390.5 195.7 390.1 195.1C389.6 194.5 389 193.4 388.5 192.3C388.1 191.1 387.8 189.7 387.5 188.3C387.3 187 387 185.6 387 184.4C387 183.2 387.1 182.1 387.4 181.2C387.8 180.2 388.5 179.2 389.1 178.7C389.8 178.2 390.5 178 391.2 178Z" fill="none" stroke="#000" stroke-width="2.2" stroke-linejoin="round"/>
<path d="M413 271.2C413.6 273.2 413.5 275.5 412.7 277.7C411.9 280 410.3 282.4 408.2 284.5C406.2 286.7 403.4 288.9 400.4 290.6C397.3 292.3 393.7 293.9 390.2 295C386.7 296.1 382.8 296.8 379.3 297C375.9 297.3 372.3 297.1 369.4 296.4C366.5 295.8 363.8 294.6 361.9 293.2C360 291.8 358.6 290 358 288C357.4 286 357.5 283.7 358.3 281.5C359.1 279.2 360.7 276.8 362.8 274.7C364.8 272.5 367.6 270.3 370.6 268.6C373.7 266.9 377.3 265.3 380.8 264.2C384.3 263.1 388.2 262.4 391.7 262.2C395.1 261.9 398.7 262.1 401.6 262.8C404.5 263.4 407.2 264.6 409.1 266C411 267.4 412.4 269.2 413 271.2Z" fill="#000" stroke="#000" stroke-width="1.2" stroke-linejoin="round"/>
<path d="M401.4 274.1C401.9 275.3 401.6 277 400.7 278.5C399.9 280.1 398.1 281.9 396.1 283.4C394.2 284.9 391.4 286.4 388.8 287.3C386.3 288.3 383.2 289.1 380.7 289.3C378.3 289.6 375.8 289.4 374.1 288.8C372.4 288.2 371.1 287.1 370.6 285.9C370.1 284.7 370.4 283 371.3 281.5C372.1 279.9 373.9 278.1 375.9 276.6C377.8 275.1 380.6 273.6 383.2 272.7C385.7 271.7 388.8 270.9 391.3 270.7C393.7 270.4 396.2 270.6 397.9 271.2C399.6 271.8 400.9 272.9 401.4 274.1Z" fill="#fff" stroke="#fff" stroke-width="1.0" stroke-linejoin="round"/>
<path d="M396.2 276.1C396.5 276.9 396.3 278 395.7 279C395.2 280.1 394 281.3 392.7 282.2C391.4 283.2 389.6 284.2 387.9 284.8C386.2 285.5 384.1 286 382.5 286.1C380.9 286.3 379.2 286.2 378.1 285.8C377 285.4 376.1 284.7 375.8 283.9C375.5 283.1 375.7 282 376.3 281C376.8 279.9 378 278.7 379.3 277.8C380.6 276.8 382.4 275.8 384.1 275.2C385.8 274.5 387.9 274 389.5 273.9C391.1 273.7 392.8 273.8 393.9 274.2C395 274.6 395.9 275.3 396.2 276.1Z" fill="none" stroke="#000" stroke-width="1.6" stroke-linejoin="round"/>
<rect x="327.3" y="80.5" width="236.6" height="235.8" fill="none" stroke="#000" stroke-width="2"/>
<line x1="432.7" y1="80.5" x2="432.7" y2="316.3" stroke="#000" stroke-width="2"/>
<line x1="327.3" y1="249.3" x2="563.9" y2="249.3" stroke="#000" stroke-width="2"/>
<path d="M425.2 316.3v3.5M435.3 316.3v3.5M442.5 316.3v3.5M448.1 316.3v3.5M452.7 316.3v3.5M456.6 316.3v3.5M459.9 316.3v3.5M462.9 316.3v3.5M480.6 316.3v3.5M489.4 316.3v3.5M495.6 316.3v3.5M500.4 316.3v3.5M504.4 316.3v3.5M507.8 316.3v3.5M510.7 316.3v3.5M513.2 316.3v3.5M529.9 316.3v3.5M538.3 316.3v3.5M544.3 316.3v3.5M548.9 316.3v3.5M552.7 316.3v3.5M555.9 316.3v3.5M558.7 316.3v3.5M561.1 316.3v3.5M351.3 316.3v3.5M355.3 316.3v3.5M359.3 316.3v3.5M362.3 316.3v3.5M365.3 316.3v3.5M367.8 316.3v3.5M369.8 316.3v3.5M371.3 316.3v3.5M372.8 316.3v3.5M380.3 316.3v3.5M381.8 316.3v3.5M383.8 316.3v3.5M385.8 316.3v3.5M388.3 316.3v3.5M391.3 316.3v3.5M394.3 316.3v3.5M398.3 316.3v3.5M402.3 316.3v3.5M346.1 316.3v6M407.8 316.3v6M465.5 316.3v6M515.5 316.3v6M563.3 316.3v6M327.3 226.1h-3.5M327.3 158.2h-3.5M327.3 213.9h-3.5M327.3 146.9h-3.5M327.3 205.2h-3.5M327.3 138.8h-3.5M327.3 198.5h-3.5M327.3 132.6h-3.5M327.3 192.9h-3.5M327.3 127.5h-3.5M327.3 188.3h-3.5M327.3 123.2h-3.5M327.3 184.2h-3.5M327.3 119.5h-3.5M327.3 180.7h-3.5M327.3 116.2h-3.5M327.3 94.6h-3.5M327.3 83.7h-3.5M327.3 251.5h-3.5M327.3 255.5h-3.5M327.3 259.5h-3.5M327.3 263.5h-3.5M327.3 267h-3.5M327.3 274.5h-3.5M327.3 278h-3.5M327.3 281h-3.5M327.3 283.5h-3.5M327.3 291.5h-3.5M327.3 294h-3.5M327.3 297h-3.5M327.3 300.5h-3.5M327.3 309.5h-3.5M327.3 313.5h-3.5M327.3 113.3h-6M327.3 177.5h-6M327.3 247.1h-6M327.3 270.5h-6M327.3 304.5h-6" stroke="#000" stroke-width="1.2" fill="none"/>
<path d="M376.7 316.3v7M327.3 287.5h-7" stroke="#000" stroke-width="4" fill="none"/>
<text x="329.8" y="103" font-size="23.5">56.1</text>
<text x="560.9" y="103" font-size="23.5" text-anchor="end">6.07</text>
<text x="329.8" y="313.3" font-size="23.5">37.5</text>
</g>
<g>
<path d="M147 701.5h1M155 548.5h1M160 722.5h1M216 541.5h1M177 741.5h1M127 636.5h1M164 550.5h1M121 591.5h1M206 708.5h1M199 546.5h1M199 646.5h1M153 673.5h1M193 669.5h1M134 600.5h1M141 706.5h1M166 722.5h1M201 667.5h1M127 670.5h1M202 701.5h1M156 543.5h1M188 714.5h1M193 727.5h1M147 710.5h1M218 626.5h1M134 654.5h1M142 672.5h1M208 661.5h1M150 706.5h1M122 674.5h1M141 573.5h1M143 706.5h1M187 724.5h1M144 716.5h1M154 724.5h1M205 687.5h1M206 692.5h1M140 688.5h1M191 714.5h1M201 733.5h1M199 689.5h1M192 674.5h1M207 664.5h1M184 547.5h1M157 718.5h1M220 687.5h1M191 676.5h1M197 655.5h1M172 739.5h1M186 678.5h1M141 566.5h1M218 614.5h1M169 735.5h1M147 681.5h1M205 616.5h1M139 685.5h1M207 704.5h1M183 549.5h1M172 549.5h1M135 666.5h1M141 678.5h1M140 571.5h1M125 557.5h1M141 549.5h1M133 618.5h1M156 534.5h1M142 698.5h1M141 706.5h1M197 714.5h1M148 709.5h1M173 551.5h1M172 732.5h1M128 706.5h1M196 676.5h1M131 661.5h1M194 712.5h1M139 673.5h1M142 674.5h1M158 547.5h1M147 708.5h1M201 710.5h1M187 720.5h1M134 655.5h1M138 672.5h1M201 686.5h1M143 641.5h1M142 681.5h1M212 613.5h1M149 678.5h1M201 677.5h1M202 706.5h1M186 676.5h1M217 605.5h1M117 622.5h1M124 575.5h1M199 667.5h1M198 717.5h1M146 708.5h1M131 680.5h1M179 538.5h1M206 664.5h1M215 641.5h1M213 552.5h1M197 688.5h1M223 630.5h1M197 691.5h1M212 666.5h1M173 723.5h1M180 725.5h1M185 730.5h1M141 705.5h1M201 654.5h1M208 629.5h1M185 718.5h1M131 579.5h1M146 699.5h1M174 542.5h1M201 542.5h1M201 710.5h1M203 685.5h1M148 554.5h1M203 698.5h1M137 656.5h1M130 651.5h1M196 651.5h1M208 686.5h1M134 584.5h1M149 673.5h1M136 677.5h1M149 550.5h1M141 701.5h1M148 561.5h1M145 672.5h1M147 558.5h1M218 611.5h1M173 724.5h1M212 700.5h1M202 678.5h1M120 630.5h1M193 712.5h1M201 716.5h1M186 550.5h1M139 684.5h1M170 730.5h1M206 673.5h1M165 547.5h1M195 551.5h1M201 638.5h1M213 669.5h1M152 717.5h1M195 729.5h1M139 606.5h1M131 606.5h1M187 548.5h1M170 546.5h1M124 705.5h1M197 673.5h1M200 695.5h1M151 555.5h1M144 650.5h1M196 665.5h1M145 561.5h1M146 702.5h1M202 676.5h1M141 654.5h1M136 690.5h1M187 716.5h1M150 721.5h1M142 653.5h1M142 678.5h1M147 675.5h1M210 635.5h1M195 658.5h1M212 709.5h1M225 640.5h1M171 535.5h1M137 616.5h1M142 703.5h1M205 665.5h1M196 658.5h1M116 675.5h1M181 729.5h1M162 725.5h1M117 660.5h1M198 666.5h1M130 703.5h1M163 546.5h1M191 708.5h1M160 541.5h1M187 719.5h1M140 711.5h1M200 537.5h1M141 639.5h1M138 670.5h1M198 681.5h1M139 703.5h1M203 663.5h1M138 685.5h1M139 621.5h1M138 611.5h1M129 685.5h1M192 713.5h1M224 551.5h1M162 721.5h1M160 719.5h1M202 700.5h1M136 712.5h1M194 681.5h1M202 663.5h1M198 672.5h1M198 706.5h1M140 719.5h1M133 568.5h1M215 702.5h1M181 677.5h1M203 711.5h1M205 633.5h1M207 546.5h1M144 721.5h1M206 651.5h1M179 542.5h1M198 722.5h1M207 709.5h1M129 641.5h1M206 698.5h1M203 665.5h1M194 705.5h1M213 605.5h1M146 667.5h1M122 691.5h1M191 717.5h1M132 574.5h1M194 552.5h1M128 608.5h1M199 695.5h1M128 627.5h1M137 564.5h1M218 628.5h1M159 728.5h1M142 655.5h1M191 710.5h1M128 577.5h1M202 707.5h1M190 677.5h1M193 680.5h1M139 677.5h1M151 684.5h1M151 709.5h1M198 678.5h1M137 599.5h1M163 552.5h1M194 676.5h1M142 695.5h1M213 606.5h1M125 600.5h1M149 670.5h1M164 722.5h1M149 716.5h1M172 726.5h1M137 615.5h1M146 675.5h1M166 539.5h1M134 562.5h1M194 713.5h1M175 732.5h1M208 667.5h1M204 712.5h1M146 706.5h1M208 633.5h1M168 725.5h1M190 678.5h1M214 682.5h1M191 679.5h1M154 681.5h1M138 612.5h1M207 689.5h1M149 714.5h1M148 709.5h1M201 669.5h1M203 690.5h1M130 621.5h1M206 654.5h1M137 701.5h1M127 589.5h1M178 545.5h1M160 721.5h1M145 654.5h1M183 719.5h1M196 687.5h1M166 734.5h1M196 668.5h1M145 646.5h1M141 635.5h1M134 656.5h1M146 680.5h1M190 731.5h1M144 698.5h1M203 653.5h1M121 595.5h1M194 705.5h1M194 675.5h1M126 631.5h1M146 702.5h1M119 624.5h1M151 545.5h1M194 708.5h1M144 714.5h1M137 692.5h1M129 562.5h1M194 679.5h1M140 693.5h1M159 731.5h1M202 644.5h1M163 732.5h1M187 678.5h1M134 586.5h1M189 717.5h1M149 676.5h1M192 714.5h1M139 610.5h1M200 659.5h1M132 626.5h1M141 566.5h1M205 642.5h1M206 660.5h1M126 607.5h1M142 561.5h1M146 713.5h1M133 716.5h1M142 545.5h1M152 684.5h1M206 680.5h1M132 552.5h1M201 677.5h1M134 613.5h1M186 547.5h1M147 696.5h1M208 698.5h1M175 727.5h1M142 564.5h1M162 540.5h1M135 564.5h1M226 610.5h1M202 683.5h1M144 714.5h1M204 654.5h1M204 724.5h1M150 672.5h1M150 669.5h1M200 656.5h1M196 724.5h1M165 724.5h1M167 540.5h1M159 721.5h1M200 718.5h1M197 651.5h1M213 684.5h1M166 547.5h1M199 696.5h1M143 649.5h1M128 551.5h1M215 692.5h1M147 710.5h1M145 705.5h1M196 704.5h1M206 678.5h1M131 715.5h1M217 632.5h1M145 714.5h1M136 705.5h1M202 671.5h1M131 704.5h1M200 706.5h1M146 554.5h1M161 544.5h1M134 627.5h1M198 670.5h1M160 720.5h1M186 716.5h1M142 679.5h1M116 579.5h1M205 695.5h1M193 665.5h1M191 546.5h1M207 642.5h1M158 536.5h1M229 607.5h1M211 673.5h1M151 714.5h1M201 659.5h1M178 733.5h1M196 664.5h1M185 678.5h1M135 551.5h1M159 548.5h1M201 688.5h1M131 722.5h1M142 665.5h1M184 719.5h1M203 640.5h1M197 700.5h1M214 619.5h1M137 661.5h1M128 591.5h1M186 714.5h1M172 540.5h1M196 687.5h1M224 652.5h1M194 709.5h1M149 706.5h1M187 729.5h1M122 611.5h1M146 704.5h1M134 603.5h1M161 733.5h1M205 701.5h1M135 703.5h1M141 549.5h1M220 691.5h1M131 604.5h1M134 707.5h1M127 543.5h1M218 605.5h1M118 636.5h1M149 540.5h1M140 679.5h1M131 667.5h1M197 699.5h1M197 665.5h1M188 734.5h1M140 704.5h1M205 696.5h1M151 553.5h1M143 643.5h1M143 713.5h1M200 699.5h1M137 681.5h1M213 665.5h1M144 643.5h1M127 581.5h1M179 724.5h1M149 559.5h1M198 552.5h1M141 695.5h1M162 723.5h1M131 563.5h1M157 545.5h1M163 727.5h1M141 686.5h1M125 600.5h1M158 542.5h1M138 701.5h1M146 541.5h1M135 628.5h1M132 567.5h1M174 720.5h1M180 723.5h1M197 728.5h1M200 660.5h1M195 672.5h1M184 677.5h1M172 726.5h1M134 543.5h1M159 551.5h1M140 692.5h1M160 721.5h1M191 711.5h1M211 662.5h1M200 545.5h1M138 655.5h1M172 542.5h1M206 691.5h1M203 646.5h1M215 640.5h1M185 733.5h1M145 683.5h1M181 677.5h1M217 633.5h1M145 695.5h1M128 698.5h1M170 733.5h1M133 596.5h1M190 681.5h1M169 543.5h1M125 667.5h1M198 553.5h1M143 699.5h1M161 729.5h1M143 676.5h1M221 625.5h1M210 658.5h1M196 657.5h1M131 650.5h1M143 676.5h1M201 657.5h1M147 670.5h1M196 678.5h1M196 660.5h1M194 669.5h1M125 639.5h1M138 657.5h1M172 543.5h1M137 589.5h1M138 682.5h1M129 577.5h1M207 672.5h1M213 704.5h1M165 725.5h1M210 701.5h1M215 689.5h1M184 721.5h1M210 638.5h1M193 718.5h1M131 549.5h1M184 723.5h1M193 710.5h1M205 548.5h1M225 633.5h1M129 633.5h1M196 682.5h1M143 662.5h1M130 639.5h1M194 673.5h1M197 654.5h1M200 697.5h1M134 642.5h1M218 624.5h1M193 680.5h1M212 706.5h1M144 701.5h1M141 701.5h1M147 663.5h1M181 735.5h1M140 667.5h1M150 716.5h1M141 718.5h1M204 697.5h1M190 716.5h1M188 544.5h1M214 610.5h1M170 722.5h1M205 653.5h1M164 720.5h1M198 740.5h1M209 548.5h1M157 536.5h1M196 711.5h1M213 684.5h1M132 647.5h1M128 599.5h1M158 546.5h1M192 721.5h1M189 676.5h1M195 672.5h1M135 617.5h1M193 670.5h1M208 667.5h1M199 686.5h1M202 551.5h1M193 671.5h1M153 551.5h1M141 673.5h1M120 616.5h1M182 726.5h1M202 671.5h1M146 717.5h1M203 695.5h1M217 656.5h1M139 678.5h1M146 668.5h1M204 713.5h1M174 731.5h1M138 566.5h1M134 551.5h1M201 665.5h1M193 708.5h1M203 554.5h1M143 556.5h1M211 607.5h1M189 711.5h1M169 728.5h1M217 615.5h1M160 720.5h1M121 642.5h1M199 672.5h1M193 716.5h1M222 611.5h1M205 674.5h1M137 625.5h1M182 721.5h1M140 557.5h1M218 616.5h1M185 549.5h1M145 562.5h1M158 741.5h1M155 718.5h1M205 699.5h1M149 718.5h1M143 686.5h1M170 722.5h1M144 641.5h1M133 645.5h1M205 681.5h1M191 719.5h1M120 645.5h1M147 715.5h1M151 555.5h1M139 713.5h1M195 547.5h1M141 652.5h1M161 548.5h1M136 594.5h1M187 676.5h1M204 677.5h1M212 665.5h1M181 549.5h1M135 595.5h1M195 716.5h1M165 545.5h1M210 627.5h1M136 550.5h1M126 663.5h1M156 554.5h1M198 684.5h1M173 722.5h1M138 677.5h1M147 703.5h1M195 686.5h1M167 544.5h1M171 549.5h1M138 547.5h1M143 673.5h1M115 623.5h1M152 716.5h1M193 668.5h1M228 620.5h1M201 675.5h1M197 691.5h1M156 723.5h1M147 707.5h1M125 568.5h1M201 675.5h1M121 563.5h1M143 661.5h1M203 695.5h1M126 668.5h1M188 676.5h1M196 684.5h1M162 732.5h1M174 526.5h1M182 739.5h1M200 680.5h1M146 705.5h1M200 673.5h1M193 669.5h1M137 660.5h1M146 719.5h1M217 682.5h1M205 632.5h1M201 658.5h1M209 621.5h1M222 668.5h1M153 541.5h1M201 637.5h1M162 551.5h1M132 584.5h1M137 578.5h1M130 674.5h1M199 654.5h1M136 674.5h1M149 665.5h1M198 679.5h1M163 537.5h1M216 619.5h1M129 636.5h1M160 553.5h1M141 653.5h1M189 712.5h1M206 667.5h1M135 696.5h1M126 573.5h1M218 548.5h1M187 677.5h1M139 641.5h1M155 726.5h1M179 540.5h1M176 545.5h1M145 674.5h1M174 726.5h1M161 552.5h1M212 673.5h1M192 550.5h1M138 561.5h1M157 537.5h1M128 599.5h1M143 543.5h1M201 663.5h1M131 593.5h1M181 721.5h1M145 686.5h1M193 670.5h1M144 650.5h1M184 545.5h1M163 539.5h1M154 719.5h1M142 679.5h1M143 701.5h1M147 553.5h1M137 651.5h1M207 693.5h1M147 717.5h1M215 619.5h1M190 676.5h1M208 657.5h1M174 733.5h1M188 545.5h1M173 721.5h1M148 676.5h1M200 671.5h1M122 573.5h1M198 684.5h1M210 647.5h1M172 725.5h1M196 667.5h1M207 556.5h1M143 701.5h1M193 663.5h1M226 640.5h1M129 638.5h1M127 618.5h1M196 686.5h1M156 538.5h1M151 714.5h1M131 580.5h1M138 661.5h1M190 713.5h1M144 677.5h1M196 701.5h1M191 676.5h1M140 708.5h1M135 616.5h1M210 614.5h1M220 662.5h1M191 721.5h1M183 716.5h1M137 537.5h1M149 709.5h1M193 547.5h1M144 558.5h1M126 600.5h1M207 703.5h1M156 721.5h1M163 539.5h1M205 667.5h1M194 682.5h1M200 716.5h1M130 567.5h1M138 685.5h1M161 722.5h1M170 738.5h1M223 619.5h1M211 632.5h1M206 681.5h1M208 636.5h1M164 725.5h1M196 684.5h1M136 631.5h1M198 700.5h1M181 726.5h1M203 689.5h1M209 708.5h1M164 542.5h1M149 667.5h1M164 541.5h1M156 534.5h1M137 641.5h1M142 713.5h1M175 722.5h1M206 700.5h1M195 670.5h1M136 648.5h1M163 722.5h1M194 681.5h1M194 706.5h1M186 728.5h1M188 723.5h1M200 648.5h1M147 695.5h1M150 716.5h1M204 701.5h1M151 678.5h1M142 682.5h1M166 549.5h1M161 536.5h1M145 703.5h1M208 651.5h1M152 541.5h1M193 705.5h1M204 638.5h1M153 533.5h1M149 713.5h1M169 540.5h1M125 647.5h1M131 603.5h1M141 572.5h1M199 678.5h1M169 728.5h1M138 665.5h1M193 551.5h1M207 649.5h1M211 674.5h1M211 665.5h1M175 533.5h1M143 646.5h1M196 669.5h1M164 551.5h1M206 645.5h1M190 677.5h1M175 721.5h1M189 676.5h1M133 613.5h1M205 692.5h1M222 624.5h1M156 542.5h1M208 655.5h1M207 703.5h1M144 707.5h1M173 546.5h1M184 721.5h1M190 722.5h1M137 628.5h1M124 700.5h1M132 689.5h1M146 670.5h1M125 712.5h1M196 680.5h1M196 693.5h1M168 550.5h1M186 719.5h1M190 723.5h1M147 702.5h1M158 551.5h1M133 659.5h1M203 663.5h1M213 639.5h1M133 676.5h1M194 677.5h1M198 696.5h1M193 673.5h1M165 724.5h1M208 696.5h1M138 615.5h1M126 689.5h1M208 630.5h1M151 673.5h1M187 552.5h1M147 685.5h1M129 575.5h1M169 720.5h1M146 558.5h1M208 665.5h1M137 645.5h1M196 658.5h1M190 680.5h1M205 657.5h1M203 713.5h1M143 673.5h1M128 618.5h1M137 717.5h1M205 689.5h1M198 698.5h1M208 716.5h1M136 638.5h1M144 674.5h1M187 715.5h1M177 722.5h1M182 539.5h1M147 671.5h1M141 651.5h1M169 728.5h1M195 719.5h1M139 649.5h1M132 591.5h1M214 617.5h1M177 718.5h1M170 724.5h1M185 547.5h1M175 723.5h1M190 680.5h1M211 708.5h1M152 679.5h1M142 705.5h1M135 556.5h1M189 676.5h1M202 653.5h1M202 544.5h1M138 659.5h1M127 709.5h1M148 718.5h1M130 666.5h1M135 568.5h1M135 573.5h1M138 645.5h1M143 676.5h1M212 624.5h1M183 726.5h1M200 656.5h1M202 659.5h1M136 677.5h1M121 664.5h1M179 718.5h1M163 546.5h1M130 619.5h1M208 615.5h1M204 641.5h1M177 546.5h1M188 677.5h1M192 712.5h1M182 729.5h1M190 711.5h1M146 548.5h1M125 603.5h1M135 583.5h1M203 669.5h1M139 711.5h1M129 627.5h1M144 565.5h1M175 732.5h1M122 631.5h1M232 684.5h1M114 599.5h1M188 712.5h1M139 574.5h1M120 696.5h1M135 711.5h1M133 702.5h1M199 660.5h1M189 680.5h1M173 726.5h1M156 738.5h1M218 554.5h1M166 727.5h1M202 651.5h1M118 570.5h1M194 667.5h1M201 710.5h1M143 646.5h1M135 559.5h1M203 697.5h1M143 649.5h1M175 720.5h1M122 612.5h1M139 692.5h1M174 724.5h1M201 667.5h1M203 656.5h1M152 718.5h1M133 627.5h1M150 681.5h1M164 551.5h1M139 574.5h1M207 699.5h1M192 719.5h1M209 710.5h1M134 589.5h1M203 684.5h1M140 718.5h1M220 609.5h1M148 672.5h1M208 695.5h1M166 543.5h1M185 719.5h1M209 655.5h1M139 559.5h1M210 626.5h1M129 592.5h1M203 638.5h1M114 606.5h1M184 725.5h1M192 677.5h1M147 690.5h1M185 721.5h1M149 671.5h1M132 658.5h1M187 548.5h1M200 714.5h1M160 543.5h1M207 666.5h1M176 732.5h1M214 709.5h1M129 593.5h1M137 704.5h1M207 626.5h1M203 691.5h1M160 553.5h1M135 630.5h1M137 617.5h1M139 720.5h1M200 686.5h1M193 683.5h1M137 562.5h1M135 699.5h1M201 684.5h1M203 654.5h1M145 706.5h1M134 596.5h1M173 728.5h1M219 680.5h1M199 696.5h1M163 537.5h1M128 681.5h1M197 678.5h1M184 549.5h1M172 722.5h1M143 678.5h1M201 708.5h1M195 679.5h1M137 581.5h1M196 670.5h1M204 697.5h1M132 584.5h1M162 723.5h1M179 726.5h1M148 706.5h1M218 676.5h1M111 596.5h1M202 710.5h1M197 687.5h1M170 542.5h1M184 547.5h1M145 544.5h1M206 682.5h1M138 651.5h1M207 683.5h1M202 706.5h1M147 556.5h1M186 677.5h1M163 533.5h1M123 596.5h1M195 663.5h1M167 725.5h1M180 719.5h1M148 700.5h1M158 733.5h1M162 727.5h1M169 737.5h1M199 695.5h1M152 686.5h1M130 629.5h1M192 552.5h1M163 730.5h1M219 619.5h1M162 537.5h1M200 708.5h1M156 729.5h1M154 722.5h1M140 645.5h1M136 680.5h1M215 611.5h1M205 615.5h1M136 711.5h1M119 581.5h1M159 719.5h1M110 614.5h1M127 588.5h1M130 605.5h1M202 666.5h1M146 711.5h1M138 570.5h1M210 659.5h1M209 611.5h1M202 692.5h1M145 697.5h1M140 648.5h1M170 547.5h1M181 546.5h1M124 581.5h1M206 545.5h1M196 687.5h1M167 732.5h1M166 553.5h1M159 727.5h1M153 540.5h1M144 715.5h1M147 544.5h1M186 720.5h1M193 718.5h1M140 677.5h1M149 669.5h1M196 680.5h1M160 721.5h1M144 662.5h1M143 679.5h1M188 718.5h1M146 652.5h1M209 708.5h1M130 589.5h1M169 547.5h1M191 721.5h1M224 616.5h1M146 658.5h1M197 658.5h1M222 602.5h1M168 725.5h1M149 681.5h1M152 722.5h1M206 659.5h1M216 607.5h1M141 703.5h1M220 701.5h1M118 626.5h1M143 703.5h1M203 652.5h1M181 725.5h1M201 645.5h1M221 634.5h1M181 733.5h1M158 722.5h1M190 680.5h1M197 711.5h1M220 628.5h1M198 705.5h1M134 625.5h1M143 683.5h1M194 549.5h1M158 724.5h1M203 696.5h1M147 710.5h1M130 672.5h1M193 710.5h1M163 725.5h1M218 720.5h1M134 597.5h1M196 712.5h1M142 706.5h1M141 706.5h1M191 718.5h1M192 673.5h1M196 676.5h1M197 667.5h1M123 591.5h1M158 552.5h1M123 574.5h1M153 725.5h1M134 620.5h1M213 641.5h1M129 622.5h1M139 555.5h1M222 608.5h1M137 608.5h1M142 658.5h1M139 700.5h1M202 690.5h1M161 725.5h1M197 552.5h1M160 538.5h1M202 694.5h1M221 631.5h1M221 685.5h1M146 673.5h1M160 548.5h1M199 727.5h1M201 709.5h1M124 560.5h1M163 548.5h1M134 710.5h1M194 683.5h1M135 691.5h1M208 695.5h1M207 678.5h1M128 682.5h1M192 678.5h1M148 698.5h1M138 552.5h1M188 678.5h1M198 686.5h1M202 708.5h1M134 596.5h1M213 636.5h1M145 543.5h1M195 545.5h1M140 663.5h1M213 613.5h1M140 566.5h1M145 674.5h1M208 706.5h1M130 645.5h1M197 543.5h1M158 546.5h1M174 727.5h1M192 549.5h1M191 731.5h1M152 541.5h1M207 625.5h1M207 690.5h1M144 668.5h1M194 546.5h1M205 631.5h1M201 712.5h1M151 713.5h1M209 689.5h1M141 673.5h1M191 677.5h1M153 729.5h1M181 717.5h1M212 660.5h1M149 666.5h1M184 723.5h1M129 660.5h1M140 671.5h1M138 705.5h1M203 692.5h1M195 677.5h1M135 681.5h1M219 664.5h1M123 597.5h1M183 737.5h1M152 551.5h1M195 714.5h1M213 630.5h1M193 710.5h1M124 562.5h1M139 679.5h1M196 663.5h1M138 547.5h1M157 545.5h1M171 731.5h1M144 703.5h1M146 712.5h1M201 668.5h1M132 606.5h1M145 669.5h1M206 713.5h1M179 719.5h1M144 714.5h1M127 650.5h1M173 543.5h1M254 528.5h1M262 533.5h1M272 590.5h1M208 610.5h1M204 644.5h1M203 629.5h1M199 638.5h1M247 528.5h1M286 592.5h1M245 599.5h1M229 534.5h1M289 597.5h1M201 638.5h1M240 541.5h1M207 550.5h1M225 611.5h1M203 637.5h1M247 600.5h1M265 540.5h1M226 621.5h1M264 605.5h1M209 608.5h1M201 632.5h1M234 607.5h1M281 587.5h1M284 579.5h1M245 603.5h1M271 591.5h1M199 652.5h1M278 544.5h1M270 602.5h1M281 549.5h1M260 541.5h1M234 543.5h1M293 567.5h1M236 602.5h1M281 536.5h1M277 598.5h1M282 552.5h1M258 606.5h1M255 606.5h1M286 595.5h1M275 538.5h1M263 537.5h1M239 541.5h1M264 601.5h1M211 619.5h1M246 541.5h1M289 562.5h1M181 542.5h1M281 580.5h1M285 560.5h1M251 538.5h1M294 548.5h1M249 608.5h1M284 566.5h1M222 607.5h1M200 643.5h1M202 643.5h1M221 619.5h1M295 573.5h1M209 636.5h1M207 641.5h1M270 600.5h1M286 583.5h1M279 586.5h1M220 543.5h1M258 618.5h1M208 615.5h1M209 616.5h1M211 628.5h1M272 534.5h1M287 538.5h1M278 585.5h1M275 584.5h1M233 602.5h1M206 615.5h1M225 618.5h1M201 632.5h1M290 557.5h1M210 629.5h1M206 548.5h1M207 628.5h1M216 614.5h1M214 632.5h1M215 543.5h1M200 542.5h1M234 616.5h1M214 542.5h1M285 580.5h1M236 542.5h1M202 541.5h1M212 549.5h1M205 620.5h1M286 561.5h1M236 540.5h1M275 593.5h1M231 606.5h1M272 539.5h1M226 606.5h1M206 628.5h1M241 538.5h1M253 534.5h1M224 613.5h1M181 549.5h1M261 539.5h1M221 626.5h1M221 542.5h1M200 538.5h1M244 534.5h1M216 607.5h1M209 621.5h1M197 651.5h1M208 540.5h1M203 629.5h1M225 607.5h1M251 604.5h1M209 646.5h1M206 621.5h1M259 608.5h1M232 535.5h1M218 549.5h1M299 563.5h1M294 542.5h1M276 538.5h1M287 562.5h1M215 612.5h1M260 597.5h1M214 621.5h1M179 547.5h1M284 544.5h1M278 606.5h1M218 620.5h1M205 644.5h1M297 562.5h1M200 544.5h1M208 610.5h1M252 609.5h1M220 552.5h1M221 615.5h1M262 538.5h1M212 545.5h1M210 556.5h1M286 565.5h1M270 532.5h1M224 527.5h1M208 648.5h1M289 579.5h1M221 623.5h1M202 648.5h1M258 517.5h1M274 536.5h1M253 538.5h1M244 600.5h1M302 567.5h1M198 541.5h1M287 575.5h1M197 652.5h1M206 617.5h1M275 585.5h1M203 622.5h1M234 605.5h1M267 601.5h1M200 549.5h1M214 557.5h1M271 539.5h1M282 585.5h1M211 538.5h1M282 527.5h1M202 630.5h1M272 537.5h1M212 610.5h1M213 550.5h1M237 606.5h1M287 543.5h1M203 630.5h1M279 546.5h1M190 547.5h1M217 606.5h1M253 540.5h1M250 599.5h1M185 544.5h1M287 537.5h1M197 657.5h1M214 607.5h1M220 618.5h1M214 630.5h1M284 543.5h1M284 588.5h1M281 587.5h1M308 563.5h1M281 591.5h1M287 563.5h1M284 540.5h1M241 604.5h1M247 598.5h1M278 592.5h1M251 598.5h1M254 606.5h1M236 614.5h1M268 538.5h1M222 605.5h1M224 606.5h1M209 548.5h1M293 564.5h1M257 600.5h1M236 603.5h1M199 641.5h1M214 629.5h1M275 602.5h1M214 611.5h1M208 615.5h1M215 537.5h1M290 555.5h1M260 524.5h1M275 539.5h1M287 588.5h1M241 532.5h1M272 541.5h1M287 551.5h1M202 625.5h1M269 533.5h1M197 544.5h1M255 599.5h1M287 548.5h1M288 572.5h1M243 526.5h1M295 573.5h1M197 544.5h1M263 537.5h1M221 604.5h1M237 608.5h1M265 532.5h1M283 581.5h1M277 596.5h1M223 537.5h1M214 544.5h1M209 635.5h1M215 605.5h1M286 568.5h1M202 651.5h1M201 629.5h1M247 604.5h1M211 612.5h1M256 596.5h1M262 598.5h1M206 654.5h1M262 530.5h1M203 554.5h1M199 637.5h1M218 625.5h1M245 603.5h1M277 535.5h1M305 575.5h1M295 543.5h1M252 599.5h1M282 549.5h1M221 604.5h1M255 607.5h1M287 557.5h1M211 542.5h1M290 542.5h1M283 598.5h1M262 538.5h1M294 568.5h1M203 633.5h1M289 552.5h1M289 562.5h1M285 575.5h1M283 601.5h1M206 633.5h1M227 604.5h1M284 581.5h1M298 554.5h1M252 602.5h1M213 544.5h1M254 540.5h1M219 614.5h1M215 646.5h1M202 632.5h1M258 602.5h1M271 535.5h1M266 538.5h1M205 622.5h1M291 586.5h1M257 601.5h1M285 573.5h1M215 547.5h1M261 602.5h1M261 539.5h1M220 603.5h1M208 647.5h1M193 553.5h1M212 617.5h1M236 609.5h1M202 549.5h1M289 569.5h1M244 605.5h1M288 542.5h1M263 527.5h1M194 545.5h1M204 635.5h1M289 553.5h1M287 578.5h1M280 539.5h1M216 615.5h1M208 617.5h1M213 634.5h1M254 613.5h1M247 620.5h1M201 646.5h1M289 554.5h1M235 621.5h1M290 583.5h1M258 538.5h1M201 641.5h1M212 621.5h1M276 544.5h1M268 589.5h1M268 593.5h1M302 564.5h1M212 607.5h1M262 535.5h1M214 617.5h1M258 611.5h1M269 592.5h1M294 566.5h1M245 541.5h1M273 542.5h1M182 552.5h1M289 542.5h1M211 552.5h1M249 541.5h1M198 640.5h1M299 561.5h1M255 617.5h1M302 583.5h1M217 609.5h1M219 550.5h1M259 598.5h1M266 599.5h1M253 600.5h1M280 583.5h1M238 537.5h1M232 612.5h1M246 620.5h1M208 631.5h1M227 602.5h1M264 608.5h1M217 613.5h1M211 616.5h1M297 566.5h1M248 602.5h1M301 569.5h1M187 553.5h1M257 605.5h1M192 545.5h1M220 604.5h1M234 611.5h1M252 528.5h1M279 584.5h1M211 554.5h1M284 590.5h1M220 603.5h1M207 624.5h1M259 538.5h1M228 608.5h1M258 615.5h1M241 608.5h1M275 543.5h1M213 540.5h1M274 600.5h1M273 594.5h1M218 550.5h1M215 545.5h1M220 645.5h1M226 545.5h1M200 650.5h1M283 578.5h1M282 575.5h1M206 614.5h1M273 588.5h1M250 529.5h1M216 550.5h1M211 638.5h1M294 572.5h1M206 619.5h1M201 642.5h1M261 593.5h1M173 547.5h1M209 617.5h1M211 606.5h1M223 604.5h1M256 601.5h1M222 616.5h1M199 637.5h1M221 612.5h1M227 613.5h1M242 609.5h1M221 533.5h1M192 538.5h1M283 579.5h1M187 544.5h1M209 640.5h1M242 604.5h1M266 604.5h1M206 627.5h1M223 605.5h1M270 596.5h1M288 573.5h1M243 535.5h1M288 585.5h1M214 611.5h1M222 604.5h1M284 531.5h1M276 544.5h1M177 552.5h1M205 618.5h1M217 605.5h1M258 535.5h1M256 539.5h1M288 582.5h1M249 613.5h1M285 554.5h1M252 541.5h1M213 607.5h1M230 546.5h1M215 609.5h1M230 611.5h1M199 642.5h1M279 545.5h1M233 606.5h1M216 606.5h1M288 556.5h1M224 551.5h1M262 518.5h1M218 550.5h1M207 612.5h1M200 632.5h1M214 627.5h1M217 525.5h1M283 576.5h1M223 617.5h1M200 547.5h1M251 598.5h1M286 552.5h1M205 549.5h1M212 629.5h1M288 571.5h1M281 590.5h1M221 619.5h1M197 644.5h1M218 554.5h1M245 536.5h1M219 604.5h1M270 542.5h1M208 613.5h1M209 625.5h1M253 539.5h1M242 604.5h1M179 552.5h1M288 585.5h1M188 552.5h1M285 552.5h1M224 549.5h1M196 550.5h1M205 649.5h1M301 556.5h1M286 584.5h1M285 572.5h1M295 578.5h1M243 537.5h1M222 605.5h1M209 610.5h1M242 609.5h1M260 596.5h1M204 644.5h1M281 578.5h1M280 583.5h1M201 550.5h1M276 587.5h1M285 567.5h1M256 531.5h1M282 599.5h1M213 543.5h1M265 606.5h1M292 576.5h1M259 532.5h1M198 661.5h1M280 585.5h1M286 580.5h1M234 617.5h1M223 620.5h1M285 547.5h1M211 622.5h1M211 608.5h1M219 618.5h1M289 574.5h1M286 547.5h1M288 562.5h1M226 612.5h1M210 619.5h1M287 597.5h1M195 551.5h1M199 642.5h1M274 535.5h1M293 550.5h1M218 553.5h1M263 598.5h1M279 547.5h1M265 600.5h1M250 646.5h1M203 618.5h1M245 625.5h1M279 597.5h1M239 625.5h1M241 620.5h1M225 614.5h1M227 654.5h1M266 602.5h1M209 663.5h1M228 630.5h1M261 656.5h1M231 617.5h1M241 626.5h1M249 627.5h1M244 623.5h1M262 599.5h1M255 602.5h1M243 601.5h1M205 641.5h1M240 625.5h1M241 638.5h1M228 613.5h1M251 625.5h1M244 641.5h1M248 619.5h1M240 617.5h1M237 618.5h1M237 635.5h1M222 617.5h1M212 623.5h1M219 647.5h1M273 627.5h1M252 608.5h1M259 601.5h1M198 646.5h1M249 602.5h1M260 650.5h1M246 614.5h1M251 623.5h1M251 599.5h1M248 598.5h1M254 624.5h1M261 665.5h1M258 604.5h1M246 609.5h1M249 610.5h1M219 648.5h1M253 617.5h1M266 635.5h1M233 628.5h1M228 624.5h1M244 639.5h1M218 666.5h1M205 636.5h1M236 608.5h1M264 610.5h1M269 608.5h1M222 641.5h1M211 618.5h1M231 612.5h1M247 625.5h1M259 608.5h1M228 619.5h1M249 614.5h1M231 626.5h1M264 594.5h1M198 663.5h1M240 629.5h1M232 610.5h1M225 617.5h1M270 613.5h1M223 618.5h1M253 620.5h1M240 612.5h1M227 606.5h1M243 628.5h1M257 629.5h1M216 628.5h1M233 630.5h1M222 632.5h1M235 605.5h1M247 636.5h1M216 613.5h1M215 616.5h1M243 607.5h1M218 635.5h1M209 654.5h1M252 604.5h1M285 611.5h1M231 617.5h1M260 607.5h1M281 595.5h1M294 577.5h1M264 633.5h1M259 597.5h1M232 613.5h1M230 621.5h1M218 618.5h1M275 630.5h1M226 652.5h1M204 628.5h1M253 660.5h1M257 630.5h1M219 614.5h1M229 608.5h1M289 596.5h1M244 619.5h1M239 633.5h1M211 622.5h1M201 644.5h1M211 618.5h1M229 633.5h1M206 620.5h1M253 632.5h1M230 638.5h1M246 613.5h1M223 602.5h1M238 612.5h1M229 632.5h1M244 651.5h1M247 638.5h1M221 626.5h1M248 642.5h1M218 634.5h1M209 620.5h1M250 624.5h1M249 602.5h1M226 642.5h1M212 630.5h1M226 609.5h1M218 636.5h1M265 624.5h1M277 585.5h1M215 632.5h1M218 630.5h1M219 643.5h1M215 633.5h1M256 639.5h1M219 617.5h1M230 606.5h1M204 637.5h1M259 641.5h1M230 615.5h1M240 609.5h1M239 619.5h1M239 600.5h1M230 616.5h1M265 601.5h1M230 628.5h1M230 632.5h1M287 596.5h1M255 648.5h1M237 614.5h1M239 613.5h1M250 614.5h1M255 641.5h1M238 603.5h1M264 602.5h1M215 648.5h1M249 604.5h1M242 633.5h1M260 603.5h1M220 630.5h1M254 596.5h1M257 627.5h1M258 637.5h1M240 649.5h1M244 654.5h1M212 630.5h1M241 645.5h1M249 637.5h1M225 647.5h1M218 619.5h1M233 642.5h1M254 607.5h1M258 607.5h1M232 641.5h1M241 606.5h1M259 612.5h1M279 612.5h1M277 627.5h1M263 603.5h1M262 641.5h1M267 642.5h1M243 624.5h1M261 612.5h1M221 639.5h1M202 645.5h1M254 634.5h1M223 649.5h1M235 622.5h1M233 629.5h1M237 610.5h1M251 605.5h1M243 647.5h1M217 622.5h1M225 634.5h1M241 634.5h1M243 598.5h1M247 610.5h1M231 653.5h1M234 611.5h1M243 611.5h1M215 644.5h1M267 620.5h1M239 631.5h1M217 610.5h1M217 606.5h1M260 640.5h1M233 635.5h1M223 649.5h1M241 614.5h1M213 681.5h1M265 647.5h1M240 629.5h1M237 664.5h1M225 633.5h1M261 663.5h1M220 645.5h1M296 669.5h1M227 647.5h1M234 641.5h1M243 638.5h1M246 629.5h1M221 613.5h1M257 632.5h1M267 631.5h1M261 660.5h1M220 615.5h1M261 613.5h1M260 652.5h1M231 635.5h1M271 671.5h1M280 655.5h1M285 637.5h1M265 663.5h1M262 621.5h1M297 655.5h1M315 629.5h1M238 656.5h1M269 613.5h1M285 635.5h1M275 641.5h1M207 640.5h1M249 653.5h1M301 665.5h1M210 639.5h1M255 597.5h1M237 660.5h1M287 639.5h1M242 632.5h1" stroke="#000" stroke-width="1" fill="none" shape-rendering="crispEdges"/>
<path d="M175.3 552.5C180 553 187.3 553.3 192.2 556.1C197 558.9 201.8 563.9 204.3 569.4C206.8 574.8 207.1 581 207 588.6C206.9 596.3 205.2 606.3 203.6 615.2C202.1 624 199.5 634 197.6 641.7C195.6 649.3 193.2 655.7 192.2 661C191.1 666.2 193.3 670.4 191 673C188.7 675.6 179.3 675.5 178.6 676.5C177.9 677.4 184.3 677.5 186.7 678.7C189 680 191.1 681.9 192.6 683.9C194 686 195.1 688.7 195.4 691.3C195.8 693.9 195.6 696.9 194.8 699.6C194 702.4 192.6 705.3 190.8 707.8C189 710.2 186.5 712.6 184 714.4C181.4 716.2 178.3 717.7 175.4 718.5C172.5 719.4 169.3 719.7 166.4 719.5C163.6 719.3 160.7 718.5 158.3 717.3C156 716 153.9 714.1 152.4 712.1C151 710 149.9 707.3 149.6 704.7C149.2 702.1 149.3 701.6 150.2 696.4C151.1 691.1 155.3 678.9 155 673C154.7 667.1 150.1 666.2 148.3 661C146.5 655.7 145.6 649.3 144.2 641.7C142.9 634 141 624 140.2 615.2C139.4 606.3 139.1 596.3 139.5 588.6C139.9 581 140.6 574.6 142.9 569.4C145.1 564.1 149.5 560 153 557.3C156.5 554.6 160.1 553.9 163.8 553.1C167.5 552.3 170.6 552 175.3 552.5Z" fill="none" stroke="#000" stroke-width="1.9" stroke-linejoin="round"/>
<path d="M175 555.7C179.4 556.2 186.2 556.4 190.7 559C195.2 561.7 199.7 566.3 202 571.4C204.3 576.4 204.7 582.2 204.6 589.3C204.4 596.4 202.9 605.7 201.4 614C199.9 622.2 197.5 631.5 195.8 638.6C194 645.7 192.4 650.8 190.7 656.5C189 662.3 187.7 669.4 185.6 673C183.5 676.6 178.1 676.8 178.2 678C178.2 679.2 183.5 678.9 185.7 680.1C187.8 681.3 189.8 683 191.2 684.9C192.5 686.9 193.5 689.3 193.8 691.8C194.2 694.2 194 697 193.2 699.5C192.5 702.1 191.2 704.8 189.5 707.1C187.8 709.4 185.5 711.6 183.2 713.2C180.8 714.9 177.9 716.3 175.2 717.1C172.5 717.9 169.5 718.2 166.8 718C164.2 717.8 161.5 717.1 159.3 715.9C157.2 714.7 155.2 713 153.8 711.1C152.5 709.1 151.5 706.7 151.2 704.2C150.8 701.8 150.2 701.7 151.8 696.5C153.3 691.3 160.7 679.7 160.4 673C160.1 666.3 152.3 662.3 149.9 656.5C147.6 650.8 147.4 645.7 146.2 638.6C144.9 631.5 143.1 622.2 142.4 614C141.7 605.7 141.4 596.4 141.8 589.3C142.2 582.2 142.8 576.2 144.9 571.4C147 566.5 151.1 562.7 154.3 560.2C157.6 557.6 160.9 557 164.4 556.2C167.8 555.5 170.7 555.2 175 555.7Z" fill="none" stroke="#000" stroke-width="1.9" stroke-linejoin="round"/>
<path d="M172.9 557C177.4 557 182.2 558.1 186.2 561.3C190.2 564.5 194.7 570.6 196.9 576.3C199.1 582 199.7 588.4 199.6 595.5C199.5 602.7 198 611.2 196.4 619.1C194.8 626.9 192.6 635.8 190 642.6C187.3 649.4 183.2 656.2 180.4 659.7C177.5 663.3 175.4 664 172.9 664C170.4 664 168.3 663.3 165.4 659.7C162.6 656.2 158.5 649.4 155.8 642.6C153.2 635.8 151 626.9 149.4 619.1C147.8 611.2 146.3 602.7 146.2 595.5C146.2 588.4 146.7 582 148.9 576.3C151.1 570.6 155.6 564.5 159.6 561.3C163.6 558.1 168.5 557 172.9 557Z" fill="none" stroke="#000" stroke-width="1.7" stroke-linejoin="round"/>
<path d="M172.8 560.3C177 560.3 181.5 561.3 185.2 564.2C189 567.2 193.1 572.7 195.2 578C197.2 583.2 197.7 589.2 197.6 595.7C197.6 602.3 196.2 610.2 194.7 617.4C193.2 624.6 191.2 632.8 188.7 639C186.2 645.3 182.4 651.5 179.8 654.8C177.1 658.1 175.2 658.7 172.8 658.7C170.5 658.7 168.6 658.1 165.9 654.8C163.3 651.5 159.5 645.3 157 639C154.5 632.8 152.5 624.6 151 617.4C149.5 610.2 148.1 602.3 148.1 595.7C148 589.2 148.5 583.2 150.5 578C152.6 572.7 156.7 567.2 160.5 564.2C164.2 561.3 168.7 560.3 172.8 560.3Z" fill="none" stroke="#000" stroke-width="1.8" stroke-linejoin="round"/>
<path d="M172.8 563.5C176.6 563.5 180.8 564.4 184.2 567.1C187.7 569.8 191.5 574.9 193.4 579.7C195.3 584.5 195.8 589.9 195.7 595.9C195.6 601.9 194.3 609.1 193 615.7C191.6 622.3 189.8 629.8 187.5 635.6C185.2 641.3 181.7 647 179.2 650C176.8 653 174.9 653.6 172.8 653.6C170.6 653.6 168.8 653 166.4 650C163.9 647 160.4 641.3 158.1 635.6C155.8 629.8 154 622.3 152.6 615.7C151.2 609.1 149.9 601.9 149.9 595.9C149.8 589.9 150.2 584.5 152.1 579.7C154.1 574.9 157.9 569.8 161.3 567.1C164.8 564.4 169 563.5 172.8 563.5Z" fill="none" stroke="#000" stroke-width="1.9" stroke-linejoin="round"/>
<path d="M172.7 566.6C176.2 566.6 180.1 567.4 183.3 569.9C186.4 572.4 189.9 577 191.7 581.4C193.4 585.7 193.9 590.6 193.8 596.1C193.7 601.6 192.5 608.1 191.3 614.1C190 620.1 188.3 626.9 186.2 632.1C184.1 637.3 180.9 642.5 178.6 645.2C176.4 648 174.7 648.5 172.7 648.5C170.8 648.5 169.1 648 166.8 645.2C164.6 642.5 161.3 637.3 159.2 632.1C157.1 626.9 155.4 620.1 154.2 614.1C152.9 608.1 151.7 601.6 151.7 596.1C151.6 590.6 152 585.7 153.8 581.4C155.5 577 159 572.4 162.2 569.9C165.3 567.4 169.2 566.6 172.7 566.6Z" fill="none" stroke="#000" stroke-width="2.0" stroke-linejoin="round"/>
<path d="M172.7 569.7C175.9 569.7 179.4 570.5 182.3 572.7C185.1 574.9 188.3 579.1 189.9 583C191.5 586.9 191.9 591.4 191.9 596.3C191.8 601.2 190.7 607.1 189.6 612.5C188.4 617.9 186.9 624.1 184.9 628.8C183 633.4 180.1 638.1 178 640.6C176 643 174.4 643.5 172.7 643.5C170.9 643.5 169.3 643 167.3 640.6C165.2 638.1 162.3 633.4 160.4 628.8C158.5 624.1 156.9 617.9 155.8 612.5C154.6 607.1 153.5 601.2 153.5 596.3C153.4 591.4 153.8 586.9 155.4 583C157 579.1 160.2 574.9 163.1 572.7C165.9 570.5 169.5 569.7 172.7 569.7Z" fill="none" stroke="#000" stroke-width="2.0" stroke-linejoin="round"/>
<path d="M172.6 572.7C175.5 572.7 178.7 573.4 181.3 575.4C183.9 577.4 186.7 581.1 188.2 584.6C189.6 588.1 190 592.1 189.9 596.5C189.9 600.9 188.9 606.1 187.8 611C186.8 615.8 185.4 621.3 183.7 625.5C182 629.6 179.3 633.8 177.4 636C175.6 638.2 174.2 638.6 172.6 638.6C171 638.6 169.6 638.2 167.7 636C165.9 633.8 163.2 629.6 161.5 625.5C159.8 621.3 158.4 615.8 157.3 611C156.3 606.1 155.3 600.9 155.3 596.5C155.2 592.1 155.6 588.1 157 584.6C158.4 581.1 161.3 577.4 163.9 575.4C166.5 573.4 169.7 572.7 172.6 572.7Z" fill="none" stroke="#000" stroke-width="2.0" stroke-linejoin="round"/>
<path d="M172.5 576.1C175.1 576.1 177.8 576.7 180.1 578.4C182.4 580.1 184.9 583.4 186.2 586.4C187.5 589.5 187.8 592.9 187.7 596.7C187.7 600.5 186.8 605 185.9 609.2C185 613.4 183.8 618.2 182.2 621.8C180.7 625.4 178.4 629 176.8 630.9C175.2 632.8 173.9 633.2 172.5 633.2C171.1 633.2 169.9 632.8 168.3 630.9C166.6 629 164.3 625.4 162.8 621.8C161.3 618.2 160.1 613.4 159.1 609.2C158.2 605 157.4 600.5 157.3 596.7C157.3 592.9 157.6 589.5 158.8 586.4C160.1 583.4 162.6 580.1 164.9 578.4C167.2 576.7 170 576.1 172.5 576.1Z" fill="none" stroke="#000" stroke-width="1.9" stroke-linejoin="round"/>
<path d="M172.4 581.1C174.4 581.1 176.6 581.5 178.4 582.8C180.2 584.2 182.2 586.7 183.2 589C184.2 591.4 184.4 594 184.4 597C184.4 599.9 183.7 603.5 183 606.7C182.2 609.9 181.3 613.6 180.1 616.4C178.9 619.2 177 622 175.8 623.5C174.5 625 173.5 625.2 172.4 625.2C171.3 625.2 170.3 625 169.1 623.5C167.8 622 165.9 619.2 164.7 616.4C163.5 613.6 162.6 609.9 161.9 606.7C161.1 603.5 160.5 599.9 160.4 597C160.4 594 160.6 591.4 161.6 589C162.6 586.7 164.6 584.2 166.4 582.8C168.2 581.5 170.4 581.1 172.4 581.1Z" fill="none" stroke="#000" stroke-width="1.9" stroke-linejoin="round"/>
<path d="M172.3 587C173.6 587 175.1 587.3 176.3 588.1C177.5 589 178.8 590.6 179.5 592.2C180.1 593.7 180.3 595.4 180.3 597.3C180.2 599.2 179.8 601.5 179.3 603.7C178.8 605.8 178.2 608.2 177.4 610C176.6 611.8 175.4 613.6 174.5 614.6C173.7 615.5 173 615.7 172.3 615.7C171.5 615.7 170.9 615.5 170 614.6C169.2 613.6 168 611.8 167.2 610C166.4 608.2 165.7 605.8 165.2 603.7C164.8 601.5 164.3 599.2 164.3 597.3C164.2 595.4 164.4 593.7 165.1 592.2C165.7 590.6 167.1 589 168.3 588.1C169.5 587.3 170.9 587 172.3 587Z" fill="none" stroke="#000" stroke-width="1.9" stroke-linejoin="round"/>
<path d="M190 685.8C191.2 687.6 192.1 689.9 192.5 692.2C192.8 694.4 192.6 697 191.9 699.4C191.2 701.8 190 704.4 188.4 706.5C186.8 708.6 184.7 710.7 182.5 712.3C180.3 713.8 177.6 715.1 175 715.8C172.5 716.6 169.7 716.9 167.2 716.7C164.7 716.5 162.2 715.8 160.2 714.7C158.2 713.7 156.3 712 155 710.2C153.8 708.4 152.9 706.1 152.5 703.8C152.2 701.6 152.4 699 153.1 696.6C153.8 694.2 155 691.6 156.6 689.5C158.2 687.4 160.3 685.3 162.5 683.7C164.7 682.2 167.4 680.9 170 680.2C172.5 679.4 175.3 679.1 177.8 679.3C180.3 679.5 182.8 680.2 184.8 681.3C186.8 682.3 188.7 684 190 685.8Z" fill="#000" stroke="#000" stroke-width="1.2" stroke-linejoin="round"/>
<path d="M183.7 690.1C184.6 691.3 185.1 692.8 185.3 694.2C185.6 695.7 185.4 697.4 185 698.9C184.6 700.5 183.7 702.1 182.7 703.5C181.7 704.8 180.4 706.2 178.9 707.2C177.5 708.2 175.8 709 174.1 709.5C172.5 710 170.7 710.2 169.1 710.1C167.5 709.9 165.9 709.5 164.6 708.8C163.3 708.1 162.1 707 161.3 705.9C160.4 704.7 159.9 703.2 159.7 701.8C159.4 700.3 159.6 698.6 160 697.1C160.4 695.5 161.3 693.9 162.3 692.5C163.3 691.2 164.6 689.8 166.1 688.8C167.5 687.8 169.2 687 170.9 686.5C172.5 686 174.3 685.8 175.9 685.9C177.5 686.1 179.1 686.5 180.4 687.2C181.7 687.9 182.9 689 183.7 690.1Z" fill="none" stroke="#fff" stroke-width="1.3" stroke-linejoin="round"/>
<path d="M180.9 692.1C181.5 693 182 694.1 182.1 695.2C182.3 696.3 182.2 697.5 181.9 698.7C181.5 699.8 180.9 701.1 180.2 702.1C179.4 703.1 178.4 704.1 177.3 704.9C176.2 705.6 175 706.3 173.7 706.6C172.5 707 171.1 707.1 169.9 707C168.8 707 167.5 706.6 166.6 706.1C165.6 705.6 164.7 704.8 164.1 703.9C163.5 703 163 701.9 162.9 700.8C162.7 699.7 162.8 698.5 163.1 697.3C163.5 696.2 164.1 694.9 164.8 693.9C165.6 692.9 166.6 691.9 167.7 691.1C168.8 690.4 170 689.7 171.3 689.4C172.5 689 173.9 688.9 175.1 689C176.2 689 177.5 689.4 178.4 689.9C179.4 690.4 180.3 691.2 180.9 692.1Z" fill="none" stroke="#fff" stroke-width="1.3" stroke-linejoin="round"/>
<path d="M178.5 693.8C179 694.4 179.3 695.2 179.4 696C179.5 696.8 179.4 697.7 179.2 698.5C179 699.3 178.5 700.2 178 700.9C177.4 701.7 176.7 702.4 175.9 702.9C175.2 703.5 174.3 703.9 173.4 704.2C172.5 704.4 171.5 704.5 170.7 704.5C169.8 704.4 169 704.1 168.3 703.8C167.6 703.4 166.9 702.8 166.5 702.2C166 701.6 165.7 700.8 165.6 700C165.5 699.2 165.6 698.3 165.8 697.5C166 696.7 166.5 695.8 167 695.1C167.6 694.3 168.3 693.6 169.1 693.1C169.8 692.5 170.7 692.1 171.6 691.8C172.5 691.6 173.5 691.5 174.3 691.5C175.2 691.6 176 691.9 176.7 692.2C177.4 692.6 178.1 693.2 178.5 693.8Z" fill="none" stroke="#fff" stroke-width="1.3" stroke-linejoin="round"/>
<path d="M178.3 697.4C178.7 697.9 179 698.7 179.1 699.4C179.1 700.1 178.9 700.9 178.6 701.7C178.2 702.4 177.7 703.1 177 703.6C176.4 704.1 175.5 704.5 174.8 704.7C174 704.9 173.1 704.9 172.5 704.7C171.8 704.5 171.1 704.1 170.7 703.6C170.3 703.1 170 702.3 169.9 701.6C169.9 700.9 170.1 700.1 170.4 699.3C170.8 698.6 171.3 697.9 172 697.4C172.6 696.9 173.5 696.5 174.2 696.3C175 696.1 175.9 696.1 176.5 696.3C177.2 696.5 177.9 696.9 178.3 697.4Z" fill="#fff" stroke="#fff" stroke-width="1.0" stroke-linejoin="round"/>
<path d="M175.8 699.4C176 699.6 176.1 699.9 176.1 700.1C176.1 700.4 176 700.7 175.9 700.9C175.8 701.1 175.6 701.4 175.4 701.6C175.2 701.8 174.9 701.9 174.6 702C174.3 702 174 702 173.8 702C173.5 701.9 173.3 701.8 173.2 701.6C173 701.4 172.9 701.1 172.9 700.9C172.9 700.6 173 700.3 173.1 700.1C173.2 699.9 173.4 699.6 173.6 699.4C173.8 699.2 174.1 699.1 174.4 699C174.7 699 175 699 175.2 699C175.5 699.1 175.7 699.2 175.8 699.4Z" fill="none" stroke="#000" stroke-width="1.6" stroke-linejoin="round"/>
<path d="M282.4 558.8C283.2 561.9 282.8 565.6 281.3 568.9C279.8 572.2 276.9 575.8 273.4 578.8C270 581.7 265.2 584.5 260.5 586.4C255.7 588.3 250 589.7 244.9 590.2C239.8 590.8 234.3 590.6 229.9 589.6C225.5 588.7 221.2 586.8 218.3 584.6C215.5 582.4 213.3 579.3 212.6 576.2C211.8 573.1 212.2 569.4 213.7 566.1C215.2 562.8 218.1 559.2 221.6 556.2C225 553.3 229.8 550.5 234.5 548.6C239.3 546.7 245 545.3 250.1 544.8C255.2 544.2 260.7 544.4 265.1 545.4C269.5 546.3 273.8 548.2 276.7 550.4C279.5 552.6 281.7 555.7 282.4 558.8Z" fill="none" stroke="#000" stroke-width="1.6" stroke-linejoin="round"/>
<path d="M277.1 560.2C277.8 562.8 277.4 566 276.1 568.9C274.8 571.7 272.4 574.8 269.4 577.3C266.4 579.8 262.3 582.2 258.2 583.9C254.1 585.5 249.2 586.7 244.9 587.2C240.5 587.7 235.7 587.5 231.9 586.7C228.1 585.9 224.5 584.3 222 582.4C219.5 580.4 217.7 577.8 217 575.1C216.4 572.5 216.7 569.3 218 566.4C219.3 563.6 221.8 560.5 224.8 558C227.8 555.5 231.8 553.1 235.9 551.4C240 549.8 244.9 548.5 249.3 548.1C253.7 547.6 258.4 547.8 262.2 548.6C266 549.4 269.7 551 272.2 552.9C274.6 554.8 276.5 557.5 277.1 560.2Z" fill="none" stroke="#000" stroke-width="1.7" stroke-linejoin="round"/>
<path d="M271.8 561.5C272.4 563.7 272.1 566.4 271 568.8C269.9 571.2 267.8 573.8 265.3 575.9C262.8 578 259.4 580 256 581.4C252.6 582.7 248.5 583.8 244.8 584.2C241.1 584.5 237.2 584.4 234 583.7C230.8 583 227.7 581.7 225.7 580.1C223.6 578.5 222.1 576.3 221.5 574.1C221 571.8 221.3 569.2 222.3 566.8C223.4 564.4 225.5 561.8 228 559.7C230.5 557.6 233.9 555.6 237.3 554.2C240.8 552.8 244.9 551.8 248.5 551.4C252.2 551 256.2 551.2 259.3 551.9C262.5 552.5 265.6 553.9 267.7 555.5C269.7 557.1 271.3 559.3 271.8 561.5Z" fill="none" stroke="#000" stroke-width="1.7" stroke-linejoin="round"/>
<path d="M266.5 562.9C266.9 564.7 266.7 566.8 265.8 568.7C265 570.7 263.3 572.8 261.3 574.5C259.3 576.1 256.5 577.8 253.8 578.9C251 580 247.7 580.8 244.7 581.1C241.8 581.4 238.6 581.3 236 580.7C233.5 580.2 231 579.1 229.3 577.8C227.7 576.5 226.4 574.8 226 573C225.5 571.2 225.8 569 226.6 567.1C227.5 565.2 229.2 563.1 231.2 561.4C233.2 559.7 236 558.1 238.7 557C241.5 555.9 244.8 555 247.7 554.7C250.7 554.4 253.9 554.5 256.5 555.1C259 555.6 261.5 556.7 263.2 558C264.8 559.3 266.1 561.1 266.5 562.9Z" fill="none" stroke="#000" stroke-width="1.7" stroke-linejoin="round"/>
<path d="M261.2 564.2C261.5 565.6 261.3 567.2 260.7 568.7C260 570.1 258.8 571.7 257.2 573C255.7 574.3 253.6 575.5 251.5 576.4C249.4 577.2 246.9 577.8 244.7 578.1C242.4 578.3 240 578.2 238.1 577.8C236.1 577.4 234.3 576.6 233 575.6C231.7 574.6 230.8 573.3 230.5 571.9C230.1 570.5 230.3 568.9 231 567.4C231.6 566 232.9 564.4 234.4 563.1C235.9 561.8 238 560.6 240.1 559.8C242.2 558.9 244.7 558.3 247 558.1C249.2 557.8 251.6 557.9 253.6 558.3C255.5 558.7 257.4 559.5 258.7 560.5C259.9 561.5 260.9 562.9 261.2 564.2Z" fill="none" stroke="#000" stroke-width="1.7" stroke-linejoin="round"/>
<path d="M255.9 565.6C256.1 566.5 256 567.6 255.5 568.6C255.1 569.6 254.2 570.7 253.2 571.6C252.1 572.5 250.7 573.3 249.3 573.9C247.9 574.4 246.2 574.9 244.6 575C243.1 575.2 241.4 575.1 240.1 574.8C238.8 574.6 237.5 574 236.7 573.3C235.8 572.7 235.2 571.7 234.9 570.8C234.7 569.9 234.8 568.8 235.3 567.8C235.7 566.8 236.6 565.7 237.6 564.8C238.7 563.9 240.1 563.1 241.5 562.5C242.9 562 244.6 561.5 246.2 561.4C247.7 561.2 249.4 561.3 250.7 561.6C252 561.8 253.3 562.4 254.1 563.1C255 563.7 255.6 564.7 255.9 565.6Z" fill="none" stroke="#000" stroke-width="1.7" stroke-linejoin="round"/>
<path d="M250.2 567C250.3 567.5 250.2 568.1 250 568.6C249.8 569.1 249.4 569.6 248.8 570C248.3 570.5 247.6 570.9 246.9 571.2C246.2 571.5 245.3 571.7 244.6 571.8C243.8 571.8 243 571.8 242.3 571.7C241.6 571.5 241 571.3 240.6 570.9C240.1 570.6 239.8 570.1 239.7 569.7C239.6 569.2 239.7 568.6 239.9 568.1C240.1 567.6 240.5 567.1 241.1 566.7C241.6 566.2 242.3 565.8 243 565.5C243.7 565.2 244.6 565 245.3 564.9C246.1 564.9 246.9 564.9 247.6 565C248.3 565.2 248.9 565.4 249.3 565.8C249.8 566.1 250.1 566.6 250.2 567Z" fill="none" stroke="#000" stroke-width="1.6" stroke-linejoin="round"/>
<path d="M192 553C195.8 553.7 207.8 558.2 215 557C222.2 555.8 227.2 548.5 235 546C242.8 543.5 254.7 541.7 262 542C269.3 542.3 275.4 544.3 279 548C282.6 551.7 283.8 558.3 283.5 564C283.2 569.7 281.2 577 277 582C272.8 587 264.8 591 258 594C251.2 597 243.2 598.5 236 600C228.8 601.5 220.2 601 215 603C209.8 605 207.8 607.8 205 612C202.2 616.2 200 622.5 198 628C196 633.5 193.8 642.2 193 645" fill="none" stroke="#000" stroke-width="1.9" stroke-linejoin="round"/>
<path d="M197 560C200 560.7 208.5 565.7 215 564C221.5 562.3 228.2 553 236 550C243.8 547 255.3 545.5 262 546C268.7 546.5 273.2 549.7 276 553C278.8 556.3 279.7 561.5 279 566C278.3 570.5 276 576.2 272 580C268 583.8 261.2 587 255 589C248.8 591 241.8 591.2 235 592C228.2 592.8 219.2 591.8 214 594C208.8 596.2 206.7 600.7 204 605C201.3 609.3 199 617.5 198 620" fill="none" stroke="#000" stroke-width="1.9" stroke-linejoin="round"/>
<rect x="100.3" y="509.9" width="236.8" height="235.5" fill="none" stroke="#000" stroke-width="2"/>
<line x1="210.6" y1="509.9" x2="210.6" y2="745.4" stroke="#000" stroke-width="2"/>
<line x1="100.3" y1="671.9" x2="337.1" y2="671.9" stroke="#000" stroke-width="2"/>
<path d="M198.2 745.4v3.5M208.3 745.4v3.5M215.5 745.4v3.5M221.1 745.4v3.5M225.7 745.4v3.5M229.6 745.4v3.5M232.9 745.4v3.5M235.9 745.4v3.5M253.6 745.4v3.5M262.4 745.4v3.5M268.6 745.4v3.5M273.4 745.4v3.5M277.4 745.4v3.5M280.8 745.4v3.5M283.7 745.4v3.5M286.2 745.4v3.5M302.9 745.4v3.5M311.3 745.4v3.5M317.3 745.4v3.5M321.9 745.4v3.5M325.7 745.4v3.5M328.9 745.4v3.5M331.7 745.4v3.5M334.1 745.4v3.5M124.3 745.4v3.5M128.3 745.4v3.5M132.3 745.4v3.5M135.3 745.4v3.5M138.3 745.4v3.5M140.8 745.4v3.5M142.8 745.4v3.5M144.3 745.4v3.5M145.8 745.4v3.5M153.3 745.4v3.5M154.8 745.4v3.5M156.8 745.4v3.5M158.8 745.4v3.5M161.3 745.4v3.5M164.3 745.4v3.5M167.3 745.4v3.5M171.3 745.4v3.5M175.3 745.4v3.5M119.1 745.4v6M180.8 745.4v6M238.5 745.4v6M288.5 745.4v6M336.3 745.4v6M100.3 655.5h-3.5M100.3 587.6h-3.5M100.3 643.3h-3.5M100.3 576.3h-3.5M100.3 634.6h-3.5M100.3 568.2h-3.5M100.3 627.9h-3.5M100.3 562h-3.5M100.3 622.3h-3.5M100.3 556.9h-3.5M100.3 617.7h-3.5M100.3 552.6h-3.5M100.3 613.6h-3.5M100.3 548.9h-3.5M100.3 610.1h-3.5M100.3 545.6h-3.5M100.3 524h-3.5M100.3 513.1h-3.5M100.3 680.9h-3.5M100.3 684.9h-3.5M100.3 688.9h-3.5M100.3 692.9h-3.5M100.3 696.4h-3.5M100.3 703.9h-3.5M100.3 707.4h-3.5M100.3 710.4h-3.5M100.3 712.9h-3.5M100.3 720.9h-3.5M100.3 723.4h-3.5M100.3 726.4h-3.5M100.3 729.9h-3.5M100.3 738.9h-3.5M100.3 742.9h-3.5M100.3 542.7h-6M100.3 606.9h-6M100.3 676.5h-6M100.3 699.9h-6M100.3 733.9h-6" stroke="#000" stroke-width="1.2" fill="none"/>
<path d="M149.7 745.4v7M100.3 716.9h-7" stroke="#000" stroke-width="4" fill="none"/>
<text x="102.8" y="532.4" font-size="23.5">57.5</text>
<text x="334.1" y="532.4" font-size="23.5" text-anchor="end">27.5</text>
<text x="102.8" y="742.4" font-size="23.5">14.9</text>
</g>
<g>
<path d="M378 712.5h1M434 550.5h1M439 681.5h1M434 717.5h1M372 716.5h1M363 608.5h1M413 735.5h1M399 556.5h1M373 573.5h1M444 700.5h1M437 547.5h1M445 706.5h1M381 554.5h1M385 681.5h1M432 720.5h1M439 721.5h1M379 584.5h1M446 557.5h1M442 692.5h1M376 663.5h1M439 555.5h1M445 674.5h1M371 701.5h1M361 598.5h1M449 680.5h1M379 720.5h1M381 644.5h1M384 563.5h1M379 642.5h1M386 554.5h1M448 559.5h1M410 555.5h1M438 680.5h1M442 722.5h1M440 679.5h1M418 556.5h1M376 598.5h1M419 732.5h1M383 637.5h1M391 682.5h1M442 717.5h1M380 679.5h1M378 699.5h1M440 673.5h1M430 550.5h1M406 554.5h1M447 671.5h1M384 679.5h1M420 729.5h1M411 553.5h1M450 657.5h1M396 553.5h1M390 548.5h1M449 699.5h1M376 673.5h1M454 634.5h1M360 715.5h1M445 693.5h1M428 727.5h1M445 668.5h1M406 551.5h1M408 547.5h1M371 633.5h1M460 610.5h1M380 664.5h1M379 692.5h1M439 682.5h1M418 553.5h1M436 555.5h1M381 687.5h1M362 610.5h1M375 678.5h1M440 686.5h1M379 668.5h1M394 563.5h1M382 668.5h1M402 734.5h1M376 655.5h1M383 577.5h1M441 685.5h1M449 729.5h1M461 553.5h1M435 680.5h1M448 699.5h1M381 568.5h1M443 675.5h1M370 718.5h1M460 672.5h1M375 626.5h1M381 599.5h1M380 682.5h1M394 559.5h1M446 700.5h1M379 721.5h1M452 706.5h1M450 643.5h1M373 638.5h1M439 706.5h1M438 680.5h1M359 680.5h1M452 566.5h1M361 605.5h1M379 670.5h1M447 688.5h1M375 686.5h1M415 728.5h1M362 643.5h1M439 680.5h1M457 624.5h1M440 710.5h1M402 737.5h1M365 720.5h1M371 694.5h1M443 707.5h1M383 654.5h1M446 678.5h1M436 561.5h1M446 677.5h1M433 729.5h1M444 709.5h1M420 553.5h1M432 718.5h1M418 555.5h1M373 696.5h1M446 626.5h1M424 727.5h1M461 610.5h1M366 688.5h1M423 554.5h1M382 584.5h1M371 702.5h1M379 685.5h1M383 663.5h1M375 632.5h1M455 659.5h1M380 671.5h1M373 719.5h1M444 675.5h1M382 671.5h1M446 682.5h1M449 729.5h1M363 591.5h1M403 733.5h1M411 736.5h1M419 549.5h1M378 614.5h1M451 667.5h1M381 664.5h1M403 551.5h1M462 621.5h1M446 678.5h1M370 592.5h1M437 684.5h1M446 698.5h1M408 729.5h1M384 571.5h1M376 657.5h1M378 686.5h1M373 718.5h1M432 724.5h1M379 678.5h1M375 598.5h1M438 557.5h1M373 713.5h1M378 609.5h1M375 696.5h1M427 742.5h1M436 714.5h1M444 675.5h1M377 642.5h1M380 602.5h1M455 612.5h1M406 544.5h1M375 717.5h1M440 708.5h1M373 700.5h1M375 587.5h1M437 662.5h1M446 714.5h1M367 587.5h1M379 647.5h1M445 730.5h1M407 730.5h1M431 723.5h1M415 557.5h1M446 658.5h1M450 702.5h1M389 687.5h1M461 700.5h1M385 671.5h1M442 665.5h1M447 637.5h1M401 557.5h1M360 620.5h1M374 584.5h1M377 720.5h1M442 566.5h1M383 658.5h1M396 560.5h1M436 682.5h1M391 556.5h1M379 642.5h1M382 687.5h1M415 727.5h1M416 725.5h1M371 592.5h1M440 668.5h1M389 552.5h1M440 686.5h1M386 546.5h1M458 663.5h1M438 676.5h1M439 677.5h1M445 656.5h1M374 604.5h1M458 673.5h1M380 572.5h1M434 721.5h1M431 739.5h1M460 692.5h1M371 595.5h1M446 664.5h1M405 528.5h1M387 566.5h1M382 685.5h1M459 630.5h1M451 630.5h1M402 557.5h1M406 540.5h1M468 620.5h1M446 691.5h1M368 648.5h1M381 698.5h1M383 687.5h1M401 554.5h1M378 708.5h1M416 737.5h1M421 729.5h1M462 638.5h1M374 654.5h1M399 536.5h1M375 685.5h1M372 575.5h1M441 709.5h1M459 554.5h1M416 735.5h1M366 682.5h1M388 538.5h1M407 554.5h1M367 673.5h1M411 742.5h1M435 668.5h1M451 565.5h1M367 702.5h1M441 556.5h1M383 696.5h1M439 676.5h1M428 557.5h1M386 684.5h1M439 556.5h1M375 610.5h1M394 562.5h1M360 654.5h1M445 700.5h1M464 621.5h1M447 666.5h1M424 723.5h1M452 690.5h1M439 725.5h1M411 730.5h1M372 641.5h1M434 719.5h1M446 662.5h1M368 638.5h1M370 688.5h1M436 735.5h1M369 702.5h1M451 559.5h1M447 564.5h1M369 611.5h1M375 698.5h1M386 695.5h1M442 659.5h1M443 643.5h1M393 553.5h1M380 683.5h1M448 678.5h1M377 594.5h1M370 700.5h1M399 557.5h1M455 701.5h1M444 703.5h1M441 710.5h1M440 668.5h1M446 638.5h1M378 588.5h1M381 636.5h1M375 713.5h1M449 709.5h1M369 561.5h1M441 677.5h1M452 612.5h1M382 671.5h1M378 615.5h1M382 556.5h1M452 699.5h1M369 704.5h1M437 713.5h1M439 708.5h1M428 729.5h1M377 555.5h1M443 676.5h1M438 679.5h1M439 661.5h1M452 697.5h1M450 668.5h1M387 680.5h1M383 540.5h1M364 686.5h1M451 679.5h1M375 716.5h1M387 680.5h1M385 650.5h1M409 541.5h1M421 731.5h1M423 549.5h1M449 553.5h1M442 681.5h1M386 668.5h1M421 554.5h1M374 559.5h1M447 689.5h1M412 551.5h1M446 692.5h1M374 719.5h1M375 678.5h1M409 551.5h1M431 559.5h1M405 734.5h1M421 735.5h1M379 710.5h1M450 642.5h1M445 699.5h1M435 679.5h1M380 643.5h1M438 733.5h1M442 678.5h1M436 562.5h1M372 636.5h1M448 701.5h1M412 741.5h1M417 739.5h1M447 681.5h1M403 554.5h1M404 553.5h1M406 553.5h1M398 541.5h1M374 722.5h1M420 531.5h1M415 548.5h1M437 721.5h1M411 546.5h1M451 644.5h1M379 616.5h1M420 727.5h1M373 561.5h1M369 672.5h1M437 677.5h1M379 715.5h1M381 633.5h1M415 739.5h1M409 741.5h1M443 664.5h1M444 676.5h1M456 614.5h1M434 734.5h1M403 731.5h1M360 600.5h1M452 703.5h1M447 632.5h1M443 675.5h1M382 672.5h1M407 553.5h1M381 585.5h1M380 564.5h1M406 736.5h1M364 564.5h1M443 671.5h1M376 686.5h1M374 567.5h1M386 659.5h1M443 697.5h1M380 651.5h1M378 561.5h1M373 649.5h1M434 555.5h1M366 611.5h1M430 742.5h1M448 555.5h1M440 679.5h1M418 548.5h1M436 674.5h1M444 686.5h1M388 686.5h1M374 619.5h1M460 631.5h1M447 681.5h1M419 552.5h1M445 567.5h1M469 624.5h1M383 654.5h1M409 548.5h1M451 679.5h1M378 628.5h1M381 618.5h1M381 630.5h1M398 559.5h1M444 683.5h1M370 556.5h1M381 569.5h1M437 559.5h1M354 620.5h1M461 607.5h1M365 663.5h1M377 685.5h1M424 545.5h1M382 583.5h1M386 687.5h1M447 646.5h1M449 687.5h1M359 581.5h1M440 677.5h1M376 719.5h1M374 714.5h1M371 683.5h1M371 718.5h1M447 662.5h1M372 712.5h1M374 684.5h1M379 656.5h1M378 624.5h1M384 689.5h1M374 625.5h1M443 690.5h1M434 715.5h1M444 706.5h1M443 717.5h1M437 735.5h1M452 714.5h1M439 562.5h1M461 704.5h1M443 699.5h1M372 600.5h1M369 717.5h1M387 543.5h1M397 551.5h1M382 621.5h1M385 696.5h1M368 685.5h1M369 627.5h1M455 690.5h1M373 569.5h1M380 694.5h1M370 713.5h1M453 660.5h1M439 663.5h1M440 703.5h1M381 661.5h1M371 722.5h1M445 648.5h1M374 708.5h1M445 691.5h1M384 560.5h1M368 586.5h1M378 629.5h1M441 699.5h1M441 735.5h1M373 597.5h1M363 687.5h1M391 564.5h1M464 642.5h1M454 630.5h1M447 713.5h1M405 541.5h1M449 688.5h1M449 682.5h1M430 726.5h1M371 686.5h1M445 664.5h1M404 549.5h1M377 697.5h1M435 558.5h1M380 560.5h1M383 574.5h1M450 616.5h1M437 547.5h1M408 543.5h1M377 685.5h1M441 692.5h1M424 726.5h1M442 703.5h1M405 732.5h1M446 721.5h1M414 550.5h1M358 649.5h1M378 669.5h1M439 674.5h1M373 622.5h1M437 543.5h1M383 691.5h1M365 683.5h1M445 664.5h1M408 546.5h1M387 557.5h1M378 684.5h1M367 684.5h1M458 614.5h1M440 560.5h1M376 563.5h1M443 557.5h1M408 730.5h1M442 680.5h1M435 558.5h1M473 661.5h1M445 643.5h1M429 731.5h1M380 672.5h1M377 624.5h1M429 717.5h1M403 549.5h1M422 540.5h1M384 670.5h1M441 722.5h1M380 632.5h1M377 713.5h1M357 631.5h1M462 711.5h1M373 637.5h1M374 661.5h1M400 551.5h1M366 600.5h1M379 660.5h1M427 733.5h1M377 576.5h1M394 559.5h1M377 581.5h1M386 685.5h1M448 680.5h1M382 641.5h1M441 712.5h1M446 710.5h1M381 661.5h1M381 645.5h1M464 713.5h1M460 673.5h1M401 550.5h1M408 543.5h1M406 555.5h1M390 557.5h1M446 562.5h1M371 691.5h1M373 710.5h1M378 550.5h1M441 664.5h1M441 677.5h1M441 689.5h1M423 727.5h1M361 657.5h1M446 678.5h1M377 678.5h1M388 552.5h1M435 683.5h1M368 634.5h1M458 681.5h1M387 670.5h1M444 667.5h1M375 582.5h1M437 676.5h1M461 702.5h1M373 580.5h1M444 664.5h1M443 691.5h1M445 711.5h1M375 599.5h1M367 722.5h1M380 554.5h1M430 722.5h1M390 554.5h1M434 678.5h1M381 702.5h1M436 552.5h1M442 674.5h1M415 731.5h1M449 678.5h1M441 673.5h1M426 555.5h1M442 712.5h1M374 585.5h1M482 616.5h1M380 620.5h1M376 602.5h1M420 551.5h1M371 617.5h1M380 720.5h1M385 564.5h1M375 562.5h1M361 641.5h1M444 707.5h1M447 683.5h1M370 614.5h1M386 676.5h1M371 579.5h1M450 668.5h1M404 555.5h1M389 673.5h1M413 555.5h1M445 692.5h1M444 678.5h1M457 637.5h1M430 722.5h1M376 690.5h1M441 715.5h1M366 600.5h1M376 707.5h1M369 557.5h1M379 648.5h1M428 722.5h1M430 724.5h1M430 558.5h1M442 694.5h1M382 546.5h1M366 684.5h1M383 641.5h1M436 722.5h1M380 720.5h1M367 678.5h1M378 710.5h1M441 668.5h1M378 618.5h1M435 681.5h1M380 695.5h1M387 696.5h1M414 555.5h1M372 720.5h1M431 548.5h1M449 701.5h1M438 682.5h1M440 565.5h1M379 611.5h1M382 599.5h1M408 552.5h1M423 724.5h1M447 700.5h1M441 735.5h1M384 577.5h1M415 735.5h1M387 683.5h1M441 561.5h1M429 724.5h1M448 672.5h1M392 561.5h1M386 684.5h1M383 663.5h1M429 558.5h1M387 569.5h1M443 704.5h1M405 555.5h1M456 671.5h1M435 717.5h1M389 558.5h1M387 672.5h1M399 547.5h1M437 716.5h1M380 572.5h1M447 625.5h1M438 661.5h1M375 708.5h1M378 712.5h1M448 643.5h1M439 548.5h1M368 643.5h1M442 717.5h1M457 634.5h1M375 568.5h1M412 553.5h1M373 717.5h1M453 640.5h1M386 657.5h1M400 539.5h1M442 722.5h1M383 669.5h1M369 651.5h1M376 720.5h1M414 730.5h1M444 702.5h1M372 628.5h1M387 692.5h1M458 673.5h1M404 549.5h1M373 608.5h1M410 555.5h1M382 566.5h1M365 688.5h1M454 564.5h1M450 692.5h1M373 608.5h1M416 556.5h1M447 685.5h1M447 696.5h1M441 688.5h1M456 703.5h1M382 628.5h1M439 679.5h1M388 673.5h1M431 724.5h1M444 691.5h1M430 721.5h1M377 588.5h1M378 565.5h1M431 724.5h1M440 687.5h1M421 538.5h1M455 640.5h1M384 557.5h1M376 707.5h1M383 549.5h1M384 671.5h1M380 623.5h1M427 736.5h1M468 613.5h1M454 687.5h1M441 703.5h1M443 708.5h1M357 607.5h1M451 676.5h1M375 704.5h1M452 559.5h1M454 706.5h1M442 697.5h1M367 569.5h1M457 623.5h1M447 699.5h1M379 657.5h1M437 723.5h1M380 660.5h1M398 546.5h1M368 685.5h1M442 677.5h1M456 547.5h1M435 676.5h1M388 565.5h1M444 687.5h1M380 616.5h1M364 598.5h1M377 665.5h1M367 660.5h1M382 722.5h1M415 731.5h1M427 722.5h1M426 742.5h1M430 542.5h1M450 699.5h1M448 685.5h1M446 678.5h1M371 578.5h1M379 687.5h1M403 728.5h1M428 725.5h1M440 705.5h1M444 662.5h1M381 612.5h1M385 673.5h1M403 556.5h1M439 711.5h1M453 625.5h1M374 604.5h1M394 552.5h1M401 541.5h1M378 675.5h1M392 563.5h1M435 726.5h1M387 572.5h1M428 721.5h1M452 635.5h1M380 676.5h1M443 680.5h1M447 649.5h1M437 658.5h1M445 694.5h1M444 672.5h1M365 573.5h1M380 632.5h1M417 545.5h1M414 556.5h1M447 705.5h1M378 719.5h1M415 731.5h1M450 692.5h1M434 719.5h1M411 727.5h1M376 689.5h1M404 733.5h1M447 735.5h1M369 614.5h1M448 645.5h1M447 666.5h1M400 554.5h1M446 674.5h1M431 554.5h1M380 643.5h1M387 563.5h1M370 617.5h1M466 629.5h1M453 681.5h1M406 554.5h1M429 551.5h1M380 628.5h1M441 658.5h1M434 720.5h1M363 652.5h1M451 677.5h1M445 633.5h1M443 711.5h1M448 699.5h1M440 552.5h1M440 732.5h1M394 555.5h1M368 683.5h1M368 625.5h1M463 614.5h1M386 558.5h1M421 724.5h1M411 728.5h1M416 548.5h1M454 692.5h1M405 732.5h1M449 685.5h1M404 737.5h1M423 740.5h1M386 687.5h1M465 706.5h1M423 727.5h1M443 697.5h1M414 556.5h1M438 677.5h1M442 738.5h1M386 570.5h1M442 563.5h1M449 687.5h1M406 557.5h1M387 684.5h1M374 586.5h1M377 689.5h1M402 558.5h1M456 642.5h1M450 615.5h1M437 675.5h1M371 576.5h1M447 682.5h1M364 575.5h1M416 731.5h1M438 716.5h1M445 674.5h1M441 689.5h1M377 636.5h1M448 707.5h1M461 702.5h1M407 541.5h1M372 645.5h1M380 645.5h1M473 617.5h1M411 552.5h1M440 550.5h1M452 647.5h1M352 721.5h1M445 663.5h1M436 724.5h1M447 623.5h1M397 561.5h1M371 679.5h1M376 659.5h1M416 549.5h1M374 648.5h1M388 681.5h1M372 665.5h1M439 708.5h1M443 714.5h1M436 669.5h1M432 677.5h1M371 664.5h1M456 688.5h1M460 613.5h1M440 677.5h1M377 679.5h1M387 682.5h1M444 679.5h1M410 727.5h1M379 557.5h1M421 735.5h1M440 727.5h1M419 555.5h1M429 719.5h1M375 656.5h1M437 731.5h1M453 672.5h1M437 729.5h1M414 547.5h1M422 730.5h1M392 557.5h1M446 704.5h1M441 708.5h1M366 687.5h1M381 589.5h1M433 725.5h1M445 566.5h1M379 623.5h1M455 698.5h1M424 551.5h1M449 721.5h1M369 599.5h1M447 712.5h1M372 648.5h1M442 710.5h1M421 724.5h1M428 555.5h1M446 681.5h1M379 593.5h1M417 531.5h1M388 554.5h1M424 722.5h1M452 661.5h1M378 676.5h1M400 559.5h1M431 547.5h1M466 712.5h1M381 664.5h1M404 548.5h1M373 607.5h1M365 563.5h1M470 713.5h1M386 692.5h1M423 737.5h1M444 704.5h1M365 628.5h1M442 664.5h1M376 595.5h1M441 688.5h1M372 606.5h1M427 544.5h1M463 695.5h1M400 543.5h1M442 694.5h1M424 726.5h1M364 612.5h1M378 595.5h1M378 721.5h1M423 545.5h1M446 666.5h1M406 730.5h1M428 724.5h1M383 721.5h1M379 681.5h1M454 673.5h1M449 690.5h1M380 678.5h1M379 620.5h1M433 557.5h1M397 541.5h1M389 681.5h1M450 697.5h1M374 684.5h1M441 681.5h1M441 667.5h1M357 658.5h1M378 604.5h1M416 549.5h1M380 611.5h1M441 694.5h1M374 602.5h1M442 675.5h1M439 682.5h1M442 697.5h1M381 650.5h1M439 678.5h1M372 719.5h1M366 714.5h1M403 730.5h1M450 727.5h1M361 653.5h1M468 607.5h1M439 686.5h1M394 550.5h1M438 655.5h1M439 670.5h1M439 675.5h1M453 634.5h1M428 548.5h1M373 609.5h1M405 547.5h1M441 723.5h1M438 672.5h1M364 707.5h1M438 714.5h1M451 616.5h1M376 588.5h1M420 727.5h1M441 713.5h1M407 549.5h1M361 713.5h1M383 563.5h1M366 681.5h1M400 550.5h1M377 700.5h1M406 737.5h1M452 698.5h1M419 556.5h1M437 679.5h1M389 669.5h1M462 678.5h1M460 626.5h1M447 687.5h1M369 635.5h1M452 694.5h1M382 677.5h1M374 632.5h1M459 711.5h1M380 631.5h1M448 649.5h1M415 726.5h1M420 733.5h1M452 717.5h1M449 629.5h1M407 553.5h1M378 696.5h1M385 674.5h1M361 581.5h1M419 735.5h1M447 633.5h1M366 595.5h1M367 721.5h1M452 648.5h1M448 681.5h1M442 688.5h1M393 563.5h1M448 619.5h1M439 709.5h1M387 567.5h1M448 675.5h1M429 726.5h1M389 690.5h1M393 537.5h1M371 697.5h1M391 687.5h1M447 691.5h1M450 675.5h1M457 662.5h1M379 574.5h1M437 542.5h1M377 570.5h1M433 727.5h1M437 666.5h1M450 683.5h1M439 676.5h1M441 676.5h1M409 554.5h1M453 629.5h1M451 718.5h1M363 713.5h1M387 670.5h1M386 688.5h1M405 728.5h1M444 686.5h1M433 555.5h1M381 678.5h1M376 628.5h1M368 714.5h1M447 626.5h1M442 684.5h1M457 665.5h1M443 667.5h1M440 564.5h1M438 684.5h1M443 697.5h1M379 676.5h1M400 550.5h1M407 552.5h1M446 676.5h1M445 567.5h1M439 565.5h1M458 689.5h1M456 651.5h1M390 553.5h1M372 603.5h1M386 684.5h1M406 551.5h1M448 568.5h1M444 662.5h1M424 730.5h1M441 558.5h1M444 710.5h1M371 707.5h1M417 555.5h1M412 548.5h1M381 669.5h1M375 714.5h1M449 678.5h1M383 666.5h1M422 737.5h1M371 675.5h1M375 576.5h1M440 711.5h1M378 655.5h1M436 678.5h1M380 615.5h1M380 590.5h1M377 710.5h1M448 680.5h1M367 583.5h1M442 706.5h1M449 718.5h1M375 559.5h1M383 684.5h1M375 701.5h1M454 647.5h1M454 684.5h1M378 621.5h1M451 566.5h1M438 718.5h1M445 653.5h1M366 683.5h1M361 602.5h1M458 675.5h1M376 598.5h1M403 738.5h1M403 545.5h1M430 727.5h1M373 587.5h1M440 688.5h1M358 587.5h1M369 633.5h1M438 683.5h1M382 660.5h1M378 668.5h1M371 643.5h1M446 684.5h1M387 681.5h1M440 662.5h1M442 677.5h1M441 722.5h1M457 613.5h1M458 631.5h1M441 661.5h1M455 615.5h1M471 606.5h1M448 669.5h1M511 600.5h1M487 610.5h1M456 618.5h1M506 603.5h1M499 544.5h1M534 582.5h1M442 658.5h1M516 540.5h1M467 634.5h1M460 624.5h1M477 608.5h1M466 614.5h1M533 564.5h1M448 556.5h1M451 549.5h1M440 555.5h1M483 612.5h1M441 562.5h1M531 558.5h1M531 594.5h1M463 623.5h1M466 612.5h1M439 553.5h1M514 606.5h1M518 546.5h1M495 612.5h1M457 612.5h1M445 563.5h1M454 621.5h1M457 614.5h1M445 558.5h1M436 663.5h1M449 548.5h1M513 601.5h1M449 634.5h1M495 535.5h1M502 608.5h1M459 609.5h1M489 528.5h1M463 631.5h1M444 651.5h1M472 550.5h1M468 552.5h1M534 579.5h1M458 614.5h1M462 616.5h1M481 547.5h1M523 603.5h1M517 597.5h1M452 617.5h1M452 625.5h1M511 599.5h1M474 545.5h1M454 617.5h1M539 543.5h1M538 577.5h1M530 540.5h1M500 614.5h1M520 535.5h1M464 620.5h1M519 545.5h1M497 538.5h1M505 607.5h1M452 658.5h1M447 628.5h1M477 545.5h1M453 625.5h1M451 623.5h1M429 558.5h1M464 608.5h1M458 615.5h1M455 611.5h1M474 625.5h1M473 532.5h1M528 562.5h1M526 584.5h1M464 613.5h1M448 566.5h1M512 605.5h1M461 621.5h1M501 603.5h1M452 663.5h1M531 594.5h1M515 545.5h1M513 543.5h1M530 545.5h1M463 608.5h1M534 572.5h1M466 612.5h1M483 610.5h1M461 617.5h1M439 662.5h1M474 612.5h1M495 544.5h1M514 596.5h1M531 551.5h1M530 579.5h1M452 627.5h1M442 653.5h1M445 566.5h1M459 611.5h1M443 565.5h1M542 556.5h1M458 617.5h1M447 560.5h1M440 667.5h1M531 561.5h1M485 541.5h1M526 585.5h1M463 617.5h1M532 579.5h1M529 544.5h1M459 612.5h1M461 635.5h1M512 630.5h1M449 624.5h1M461 618.5h1M467 621.5h1M528 532.5h1M440 669.5h1M452 643.5h1M470 549.5h1M465 617.5h1M457 625.5h1M461 556.5h1M471 608.5h1M461 545.5h1M448 558.5h1M440 669.5h1M453 623.5h1M516 541.5h1M459 608.5h1M529 574.5h1M518 544.5h1M438 657.5h1M455 646.5h1M465 622.5h1M464 547.5h1M439 668.5h1M457 628.5h1M537 579.5h1M467 608.5h1M453 628.5h1M460 619.5h1M457 613.5h1M457 559.5h1M508 599.5h1M429 551.5h1M438 665.5h1M464 616.5h1M497 606.5h1M459 614.5h1M445 655.5h1M508 604.5h1M518 540.5h1M453 640.5h1M478 612.5h1M450 633.5h1M503 602.5h1M449 567.5h1M507 542.5h1M451 627.5h1M554 569.5h1M482 605.5h1M497 543.5h1M524 598.5h1M446 663.5h1M436 663.5h1M525 548.5h1M462 621.5h1M467 624.5h1M488 610.5h1M451 541.5h1M487 613.5h1M461 552.5h1M448 552.5h1M452 563.5h1M473 613.5h1M457 621.5h1M456 644.5h1M487 613.5h1M463 549.5h1M516 603.5h1M456 608.5h1M459 616.5h1M458 615.5h1M511 607.5h1M451 662.5h1M510 541.5h1M459 617.5h1M465 622.5h1M457 551.5h1M477 545.5h1M496 541.5h1M497 539.5h1M518 593.5h1M457 550.5h1M450 628.5h1M465 625.5h1M483 615.5h1M470 618.5h1M470 628.5h1M465 614.5h1M504 537.5h1M459 615.5h1M451 651.5h1M449 665.5h1M500 540.5h1M523 594.5h1M545 587.5h1M444 549.5h1M439 667.5h1M422 555.5h1M462 634.5h1M464 613.5h1M498 545.5h1M462 554.5h1M453 638.5h1M515 539.5h1M477 617.5h1M533 559.5h1M518 601.5h1M464 607.5h1M484 625.5h1M518 543.5h1M450 566.5h1M490 544.5h1M457 618.5h1M461 616.5h1M531 550.5h1M496 541.5h1M428 553.5h1M479 538.5h1M430 557.5h1M468 608.5h1M478 539.5h1M500 533.5h1M534 565.5h1M462 609.5h1M432 556.5h1M450 652.5h1M456 637.5h1M483 607.5h1M505 544.5h1M442 658.5h1M470 632.5h1M515 544.5h1M461 551.5h1M460 609.5h1M457 626.5h1M461 617.5h1M458 551.5h1M484 616.5h1M537 571.5h1M523 529.5h1M537 579.5h1M488 603.5h1M528 550.5h1M534 550.5h1M458 619.5h1M438 560.5h1M541 555.5h1M527 543.5h1M455 624.5h1M511 544.5h1M531 552.5h1M437 656.5h1M440 545.5h1M462 613.5h1M463 624.5h1M442 559.5h1M444 561.5h1M445 563.5h1M464 609.5h1M449 638.5h1M531 553.5h1M455 626.5h1M526 544.5h1M460 621.5h1M441 563.5h1M469 612.5h1M496 531.5h1M528 585.5h1M470 541.5h1M462 623.5h1M533 594.5h1M539 562.5h1M527 603.5h1M532 561.5h1M436 556.5h1M537 551.5h1M454 619.5h1M444 562.5h1M495 607.5h1M534 564.5h1M444 557.5h1M445 562.5h1M529 591.5h1M537 564.5h1M499 546.5h1M488 541.5h1M466 617.5h1M446 561.5h1M448 651.5h1M496 604.5h1M440 658.5h1M463 612.5h1M527 590.5h1M455 614.5h1M442 548.5h1M449 566.5h1M505 607.5h1M426 547.5h1M440 667.5h1M459 612.5h1M432 557.5h1M496 605.5h1M457 619.5h1M533 564.5h1M471 539.5h1M532 597.5h1M502 539.5h1M452 636.5h1M471 550.5h1M479 616.5h1M525 589.5h1M529 555.5h1M442 657.5h1M465 620.5h1M520 594.5h1M456 617.5h1M532 570.5h1M485 608.5h1M503 602.5h1M489 605.5h1M458 614.5h1M459 620.5h1M446 564.5h1M505 611.5h1M544 554.5h1M540 576.5h1M456 611.5h1M535 566.5h1M512 543.5h1M461 620.5h1M535 569.5h1M525 584.5h1M457 613.5h1M449 562.5h1M433 556.5h1M448 558.5h1M462 629.5h1M461 618.5h1M474 616.5h1M462 553.5h1M526 536.5h1M444 556.5h1M530 594.5h1M443 551.5h1M461 619.5h1M531 551.5h1M464 615.5h1M479 609.5h1M519 618.5h1M455 613.5h1M494 616.5h1M459 558.5h1M470 626.5h1M449 628.5h1M525 549.5h1M452 643.5h1M444 555.5h1M533 554.5h1M482 609.5h1M455 627.5h1M431 557.5h1M518 601.5h1M447 555.5h1M425 556.5h1M474 608.5h1M455 660.5h1M430 558.5h1M448 637.5h1M535 576.5h1M444 657.5h1M457 553.5h1M458 616.5h1M495 606.5h1M493 606.5h1M427 557.5h1M450 557.5h1M461 615.5h1M462 614.5h1M465 616.5h1M482 616.5h1M448 659.5h1M509 613.5h1M445 559.5h1M519 542.5h1M448 626.5h1M463 622.5h1M463 617.5h1M452 657.5h1M507 599.5h1M539 559.5h1M464 617.5h1M454 652.5h1M502 604.5h1M497 611.5h1M543 575.5h1M505 541.5h1M541 571.5h1M530 593.5h1M464 623.5h1M532 563.5h1M530 582.5h1M445 656.5h1M456 633.5h1M467 617.5h1M485 607.5h1M467 544.5h1M494 608.5h1M445 665.5h1M517 598.5h1M459 628.5h1M489 547.5h1M474 536.5h1M494 539.5h1M448 659.5h1M446 656.5h1M445 555.5h1M437 660.5h1M495 613.5h1M448 566.5h1M451 636.5h1M460 609.5h1M487 611.5h1M534 584.5h1M459 632.5h1M533 562.5h1M463 617.5h1M471 612.5h1M535 566.5h1M477 547.5h1M530 553.5h1M532 562.5h1M503 541.5h1M536 542.5h1M475 543.5h1M534 557.5h1M455 560.5h1M494 541.5h1M458 619.5h1M516 532.5h1M546 576.5h1M491 613.5h1M488 611.5h1M534 586.5h1M446 654.5h1M489 607.5h1M528 550.5h1M471 610.5h1M518 598.5h1M447 560.5h1M455 637.5h1M462 626.5h1M528 573.5h1M489 610.5h1M499 608.5h1M463 609.5h1M489 609.5h1M456 610.5h1M530 572.5h1M449 565.5h1M459 630.5h1M456 612.5h1M496 540.5h1M480 615.5h1M531 549.5h1M532 537.5h1M449 627.5h1M450 651.5h1M486 614.5h1M461 611.5h1M538 551.5h1M459 609.5h1M538 559.5h1M456 619.5h1M476 619.5h1M535 563.5h1M448 565.5h1M462 612.5h1M489 529.5h1M532 558.5h1M442 659.5h1M490 610.5h1M444 657.5h1M426 552.5h1M517 533.5h1M457 631.5h1M520 598.5h1M458 559.5h1M463 549.5h1M458 609.5h1M528 562.5h1M454 560.5h1M531 574.5h1M471 541.5h1M459 615.5h1M459 614.5h1M443 553.5h1M534 556.5h1M499 649.5h1M465 656.5h1M475 644.5h1M496 637.5h1M511 619.5h1M483 628.5h1M474 678.5h1M561 620.5h1M478 617.5h1M533 600.5h1M540 616.5h1M525 596.5h1M459 659.5h1M531 620.5h1M514 607.5h1M456 624.5h1M507 609.5h1M513 647.5h1M496 612.5h1M486 653.5h1M498 655.5h1M538 613.5h1M490 633.5h1M450 643.5h1M474 650.5h1M472 664.5h1M484 628.5h1M469 642.5h1M476 623.5h1M450 652.5h1M483 639.5h1M503 619.5h1M473 639.5h1M523 618.5h1M476 648.5h1M487 618.5h1M488 632.5h1M508 624.5h1M485 642.5h1M541 622.5h1M498 626.5h1M475 624.5h1M525 629.5h1M474 627.5h1M479 685.5h1M517 634.5h1M553 624.5h1M478 620.5h1M491 632.5h1M498 627.5h1M533 593.5h1M488 633.5h1M471 607.5h1M508 607.5h1M482 650.5h1M513 594.5h1M483 606.5h1M522 620.5h1M521 615.5h1M454 623.5h1M462 646.5h1M539 615.5h1M456 663.5h1M455 645.5h1M524 622.5h1M475 647.5h1M538 649.5h1M472 637.5h1M492 628.5h1M514 619.5h1M486 637.5h1M468 614.5h1M446 634.5h1M517 618.5h1M490 632.5h1M498 634.5h1M486 641.5h1M494 624.5h1M526 635.5h1M497 656.5h1M456 611.5h1M509 614.5h1M516 633.5h1M487 607.5h1M482 640.5h1M506 605.5h1M467 620.5h1M525 628.5h1M449 645.5h1M461 631.5h1M451 641.5h1M473 635.5h1M513 602.5h1M484 661.5h1M519 647.5h1M522 588.5h1M481 663.5h1M486 618.5h1M509 626.5h1M462 626.5h1M484 606.5h1M533 620.5h1M461 656.5h1M531 597.5h1M461 622.5h1M503 630.5h1M513 653.5h1M481 636.5h1M471 648.5h1M461 631.5h1M478 638.5h1M490 611.5h1M485 643.5h1M528 629.5h1M515 632.5h1M514 617.5h1M532 606.5h1M470 609.5h1M549 607.5h1M487 650.5h1M471 666.5h1M489 664.5h1M542 605.5h1M523 623.5h1M514 603.5h1M478 643.5h1M483 645.5h1M476 621.5h1M487 608.5h1M531 652.5h1M516 645.5h1M460 624.5h1M507 635.5h1M490 668.5h1M475 614.5h1M489 625.5h1M464 644.5h1M472 619.5h1M497 647.5h1M526 627.5h1M503 620.5h1M446 652.5h1M496 628.5h1M461 621.5h1M493 623.5h1M489 668.5h1M507 649.5h1M479 622.5h1M503 640.5h1M466 627.5h1M478 611.5h1M512 626.5h1M543 591.5h1M540 651.5h1M527 587.5h1M539 590.5h1M477 649.5h1M456 613.5h1M531 643.5h1M484 655.5h1M474 615.5h1M517 612.5h1M495 607.5h1M506 604.5h1M481 635.5h1M531 575.5h1M480 618.5h1M516 614.5h1M526 628.5h1M507 618.5h1M494 610.5h1M467 620.5h1M523 621.5h1M476 673.5h1M503 673.5h1M469 648.5h1M515 639.5h1M524 629.5h1M535 643.5h1M480 613.5h1M470 644.5h1M522 589.5h1M503 636.5h1M481 660.5h1M475 664.5h1M533 639.5h1M478 622.5h1M479 649.5h1M520 625.5h1M450 655.5h1M474 664.5h1M485 633.5h1M535 609.5h1M463 606.5h1M446 638.5h1M464 612.5h1M480 622.5h1M491 636.5h1M513 606.5h1M503 656.5h1M494 644.5h1M541 605.5h1M478 614.5h1M500 651.5h1M456 665.5h1M461 607.5h1M480 622.5h1M461 634.5h1M513 611.5h1M514 634.5h1M509 652.5h1M474 649.5h1M450 659.5h1M513 597.5h1M494 645.5h1M494 632.5h1M495 643.5h1M494 605.5h1M479 620.5h1M487 690.5h1M549 598.5h1M456 671.5h1M492 644.5h1M513 627.5h1M521 597.5h1M529 615.5h1M479 648.5h1M460 664.5h1M481 615.5h1M488 622.5h1M536 643.5h1M499 650.5h1M465 625.5h1M476 616.5h1M490 653.5h1M558 610.5h1M502 603.5h1M537 586.5h1M484 642.5h1M519 603.5h1M479 636.5h1M554 577.5h1M550 607.5h1M513 674.5h1M465 649.5h1M458 634.5h1M474 627.5h1M475 638.5h1M449 644.5h1M478 629.5h1M454 676.5h1M469 637.5h1M540 646.5h1M475 620.5h1M507 652.5h1M503 646.5h1M488 651.5h1M502 610.5h1M472 615.5h1M473 626.5h1M533 654.5h1M487 626.5h1M485 667.5h1M449 637.5h1M468 648.5h1M484 621.5h1M491 634.5h1M535 619.5h1M465 624.5h1M498 634.5h1M525 595.5h1M502 641.5h1M502 636.5h1M485 632.5h1M475 611.5h1M478 633.5h1M493 657.5h1M510 603.5h1M506 638.5h1M471 645.5h1M510 626.5h1M532 647.5h1M458 647.5h1M513 620.5h1M516 599.5h1M459 644.5h1M467 636.5h1M514 617.5h1M500 659.5h1M454 654.5h1M472 636.5h1M477 634.5h1M545 655.5h1M474 646.5h1M509 637.5h1M460 631.5h1M469 642.5h1M491 621.5h1M485 641.5h1M544 619.5h1M478 613.5h1M520 636.5h1M478 658.5h1M513 607.5h1M523 626.5h1M502 612.5h1M473 650.5h1M495 658.5h1M497 619.5h1M487 614.5h1M510 639.5h1M493 629.5h1M486 615.5h1M499 663.5h1M507 622.5h1M509 640.5h1M485 604.5h1M478 667.5h1M489 630.5h1M508 631.5h1M465 615.5h1M575 612.5h1M517 648.5h1M523 612.5h1M505 640.5h1M491 625.5h1M460 654.5h1M494 643.5h1M534 609.5h1M530 629.5h1M449 656.5h1M455 657.5h1M531 625.5h1M509 657.5h1M486 650.5h1M462 631.5h1M451 673.5h1M476 653.5h1M458 666.5h1M483 613.5h1M474 606.5h1M460 632.5h1M504 603.5h1M500 644.5h1M530 574.5h1M468 615.5h1M519 599.5h1M507 640.5h1M463 620.5h1M475 633.5h1M467 667.5h1M510 618.5h1M438 667.5h1M457 634.5h1M481 617.5h1M480 638.5h1M514 632.5h1M490 641.5h1M507 605.5h1M468 625.5h1M479 634.5h1M544 606.5h1M481 668.5h1M471 648.5h1M518 633.5h1M530 627.5h1M506 653.5h1M536 631.5h1M516 622.5h1M480 615.5h1M479 623.5h1M540 612.5h1M521 634.5h1M449 635.5h1M476 648.5h1M454 613.5h1M506 625.5h1M525 649.5h1M461 615.5h1M515 646.5h1M543 598.5h1M529 584.5h1M484 661.5h1M490 630.5h1M537 604.5h1M508 639.5h1M485 678.5h1M505 616.5h1M515 624.5h1M510 632.5h1M484 625.5h1M469 619.5h1M483 657.5h1M505 630.5h1M511 650.5h1M461 627.5h1M512 623.5h1M481 616.5h1M485 660.5h1M477 643.5h1M491 635.5h1M507 620.5h1M490 630.5h1M501 604.5h1M542 654.5h1M517 709.5h1M480 714.5h1M538 737.5h1M559 720.5h1M485 699.5h1M488 661.5h1M475 654.5h1M495 688.5h1M518 741.5h1M512 734.5h1M482 656.5h1M509 707.5h1M523 706.5h1M474 719.5h1M454 739.5h1M459 713.5h1M529 694.5h1M446 688.5h1M494 711.5h1M498 733.5h1M501 734.5h1M531 713.5h1M476 721.5h1M518 704.5h1M499 715.5h1M550 712.5h1M552 716.5h1M494 663.5h1M528 696.5h1M537 734.5h1M521 687.5h1M503 725.5h1M525 665.5h1M491 714.5h1M525 679.5h1M498 689.5h1M483 702.5h1M489 700.5h1M451 668.5h1M560 690.5h1M514 719.5h1M456 683.5h1M485 722.5h1M466 658.5h1M494 658.5h1M453 617.5h1M527 663.5h1M482 660.5h1M478 662.5h1M502 659.5h1M532 632.5h1M468 661.5h1M480 678.5h1M463 645.5h1M455 663.5h1M487 653.5h1M461 660.5h1M526 681.5h1M487 639.5h1M478 660.5h1M435 665.5h1M469 650.5h1M463 642.5h1M465 662.5h1M448 658.5h1M484 640.5h1M482 668.5h1M461 651.5h1M547 652.5h1M465 656.5h1M475 644.5h1M496 675.5h1M493 649.5h1M457 666.5h1M496 667.5h1M499 641.5h1M485 687.5h1M450 625.5h1M474 659.5h1M481 633.5h1M495 659.5h1M488 665.5h1M506 620.5h1M475 682.5h1M526 663.5h1M517 684.5h1M533 668.5h1M487 631.5h1M453 665.5h1M509 651.5h1M445 680.5h1M520 655.5h1M448 670.5h1M524 648.5h1M476 676.5h1M465 670.5h1M456 704.5h1M457 666.5h1" stroke="#000" stroke-width="1" fill="none" shape-rendering="crispEdges"/>
<path d="M415.9 558C420.4 558.5 427.3 558.9 431.9 562C436.5 565 441.1 570.5 443.4 576.5C445.8 582.4 446.1 589.2 446 597.6C445.9 606 444.3 617 442.8 626.6C441.3 636.3 438.9 647.3 437 655.7C435.2 664 431.4 671.1 431.9 676.8C432.4 682.5 439.8 689.1 440 690C440.2 690.9 433.2 682.3 433 682C432.8 681.7 437.7 685.8 439 688.2C440.2 690.7 440.8 693.7 440.5 696.7C440.2 699.7 439.1 703.1 437.4 706.1C435.6 709.2 433 712.4 430.1 715.1C427.2 717.7 423.5 720.3 419.8 722.2C416.1 724 411.8 725.5 407.9 726.3C404 727.1 399.9 727.4 396.4 727C392.9 726.6 389.5 725.5 387 724C384.4 722.4 382.3 720.2 381 717.8C379.8 715.3 377.9 713.9 379.5 709.3C381.2 704.7 389.2 695.4 391 690C392.8 684.6 391.1 682.5 390.3 676.8C389.6 671.1 387.8 664 386.5 655.7C385.2 647.3 383.4 636.3 382.6 626.6C381.9 617 381.6 606 382 597.6C382.4 589.2 383.1 582.2 385.2 576.5C387.3 570.8 391.5 566.2 394.8 563.3C398.1 560.3 401.5 559.5 405 558.7C408.6 557.8 411.4 557.5 415.9 558Z" fill="none" stroke="#000" stroke-width="1.9" stroke-linejoin="round"/>
<path d="M415.9 561.8C420.1 562.3 426.5 562.6 430.8 565.5C435.1 568.3 439.3 573.4 441.5 579C443.7 584.5 444 590.8 443.9 598.6C443.8 606.4 442.3 616.6 440.9 625.6C439.5 634.6 437.3 644.8 435.6 652.6C433.9 660.4 431.3 666 430.8 672.3C430.3 678.5 432.5 688.1 432.6 690C432.7 691.9 430.7 683.6 431.4 683.5C432.1 683.4 435.8 687 436.9 689.3C438.1 691.6 438.6 694.4 438.4 697.1C438.1 699.9 437.1 703.1 435.5 705.9C433.9 708.7 431.4 711.7 428.7 714.2C426 716.7 422.5 719.1 419.1 720.8C415.6 722.6 411.7 724 408.1 724.7C404.5 725.5 400.6 725.7 397.4 725.3C394.1 724.9 391 723.9 388.6 722.5C386.2 721.1 384.2 719 383.1 716.7C381.9 714.4 379.1 713.3 381.6 708.9C384.2 704.4 396.7 696.1 398.4 690C400.2 683.9 393.8 678.5 392.1 672.3C390.5 666 389.7 660.4 388.5 652.6C387.4 644.8 385.7 634.6 385 625.6C384.3 616.6 384 606.4 384.4 598.6C384.8 590.8 385.4 584.3 387.4 579C389.3 573.6 393.2 569.5 396.3 566.7C399.4 563.9 402.5 563.2 405.8 562.4C409.1 561.6 411.8 561.3 415.9 561.8Z" fill="none" stroke="#000" stroke-width="1.9" stroke-linejoin="round"/>
<path d="M415.9 565.6C419.8 566 425.7 566.3 429.7 569C433.6 571.6 437.6 576.3 439.6 581.5C441.6 586.6 441.9 592.4 441.8 599.6C441.7 606.8 440.3 616.3 439 624.6C437.8 632.9 435.7 642.4 434.1 649.6C432.5 656.8 430.2 661 429.7 667.7C429.2 674.5 431.3 687.1 431.3 690C431.3 692.9 429.2 684.9 429.8 685C430.4 685 433.8 688.2 434.9 690.3C436 692.4 436.4 695 436.2 697.6C436 700.1 435 703 433.5 705.7C432.1 708.3 429.8 711.1 427.3 713.4C424.8 715.7 421.6 717.9 418.4 719.5C415.2 721.1 411.6 722.4 408.2 723.1C404.9 723.8 401.3 724 398.3 723.6C395.3 723.3 392.4 722.3 390.2 721C388 719.7 386.2 717.8 385.1 715.7C384 713.6 381.3 712.7 383.8 708.4C386.2 704.1 398 696.8 399.7 690C401.4 683.2 395.4 674.5 393.9 667.7C392.4 661 391.7 656.8 390.6 649.6C389.5 642.4 388 632.9 387.3 624.6C386.7 616.3 386.4 606.8 386.8 599.6C387.1 592.4 387.7 586.4 389.5 581.5C391.3 576.5 394.9 572.7 397.8 570.1C400.6 567.5 403.5 566.9 406.6 566.1C409.6 565.4 412.1 565.1 415.9 565.6Z" fill="none" stroke="#000" stroke-width="1.9" stroke-linejoin="round"/>
<path d="M415.9 569.3C419.5 569.8 425 570 428.6 572.5C432.2 574.9 435.8 579.2 437.7 583.9C439.5 588.6 439.8 594 439.7 600.6C439.6 607.2 438.4 615.9 437.2 623.6C436 631.2 434.1 639.9 432.6 646.5C431.2 653.1 429 655.9 428.6 663.2C428.1 670.4 430.1 686.1 430 690C430 693.9 427.7 686.2 428.2 686.4C428.7 686.7 431.9 689.4 432.9 691.3C433.9 693.3 434.3 695.7 434.1 698C433.9 700.4 433 703 431.6 705.5C430.3 707.9 428.2 710.4 425.9 712.5C423.6 714.6 420.6 716.6 417.7 718.1C414.8 719.6 411.4 720.8 408.4 721.4C405.3 722.1 402 722.3 399.3 721.9C396.5 721.6 393.8 720.8 391.8 719.6C389.8 718.3 388.1 716.6 387.1 714.7C386.1 712.7 383.6 712.1 385.9 708C388.2 703.9 399.4 697.5 401 690C402.6 682.5 397.1 670.4 395.7 663.2C394.3 655.9 393.7 653.1 392.7 646.5C391.7 639.9 390.2 631.2 389.6 623.6C389.1 615.9 388.8 607.2 389.1 600.6C389.5 594 390 588.5 391.7 583.9C393.4 579.4 396.6 575.9 399.3 573.5C401.9 571.2 404.6 570.6 407.3 569.9C410.1 569.2 412.4 568.9 415.9 569.3Z" fill="none" stroke="#000" stroke-width="1.9" stroke-linejoin="round"/>
<path d="M413.7 562.5C417.9 562.5 422.5 563.6 426.3 566.7C430.1 569.9 434.3 575.9 436.4 581.5C438.5 587.1 439 593.4 439 600.5C438.9 607.5 437.4 616 435.9 623.7C434.4 631.4 432.4 640.2 429.9 646.9C427.3 653.6 423.5 660.3 420.8 663.8C418.1 667.3 416 668 413.7 668C411.3 668 409.3 667.3 406.6 663.8C403.9 660.3 400 653.6 397.5 646.9C395 640.2 393 631.4 391.4 623.7C389.9 616 388.5 607.5 388.4 600.5C388.3 593.4 388.8 587.1 390.9 581.5C393 575.9 397.2 569.9 401 566.7C404.8 563.6 409.5 562.5 413.7 562.5Z" fill="none" stroke="#000" stroke-width="1.7" stroke-linejoin="round"/>
<path d="M413.9 567C417.7 567 422 568 425.5 570.8C429 573.7 432.9 579.2 434.8 584.3C436.7 589.4 437.2 595.1 437.1 601.5C437 607.9 435.7 615.6 434.3 622.6C432.9 629.7 431.1 637.6 428.8 643.7C426.4 649.8 422.9 655.9 420.4 659.1C417.9 662.3 416 662.9 413.9 662.9C411.7 662.9 409.8 662.3 407.4 659.1C404.9 655.9 401.3 649.8 399 643.7C396.7 637.6 394.8 629.7 393.4 622.6C392 615.6 390.7 607.9 390.6 601.5C390.5 595.1 391 589.4 392.9 584.3C394.9 579.2 398.7 573.7 402.2 570.8C405.7 568 410 567 413.9 567Z" fill="none" stroke="#000" stroke-width="1.8" stroke-linejoin="round"/>
<path d="M414.1 571.4C417.6 571.4 421.5 572.3 424.7 574.9C427.9 577.5 431.4 582.4 433.2 587C434.9 591.6 435.4 596.8 435.3 602.6C435.2 608.3 434 615.2 432.7 621.6C431.5 627.9 429.8 635.1 427.6 640.6C425.5 646.1 422.3 651.6 420 654.5C417.7 657.3 416 657.9 414.1 657.9C412.1 657.9 410.4 657.3 408.1 654.5C405.8 651.6 402.6 646.1 400.5 640.6C398.3 635.1 396.6 627.9 395.4 621.6C394.1 615.2 392.9 608.3 392.8 602.6C392.7 596.8 393.2 591.6 394.9 587C396.7 582.4 400.2 577.5 403.4 574.9C406.6 572.3 410.5 571.4 414.1 571.4Z" fill="none" stroke="#000" stroke-width="1.9" stroke-linejoin="round"/>
<path d="M414.2 575.7C417.4 575.7 421 576.5 423.8 578.8C426.7 581.1 429.9 585.5 431.5 589.6C433.1 593.8 433.5 598.4 433.4 603.6C433.4 608.7 432.3 614.9 431.1 620.6C430 626.2 428.5 632.7 426.5 637.6C424.6 642.5 421.7 647.4 419.6 649.9C417.6 652.5 416 653 414.2 653C412.4 653 410.9 652.5 408.9 649.9C406.8 647.4 403.9 642.5 401.9 637.6C400 632.7 398.5 626.2 397.3 620.6C396.2 614.9 395.1 608.7 395 603.6C395 598.4 395.3 593.8 396.9 589.6C398.5 585.5 401.7 581.1 404.6 578.8C407.5 576.5 411 575.7 414.2 575.7Z" fill="none" stroke="#000" stroke-width="1.9" stroke-linejoin="round"/>
<path d="M414.4 580C417.3 580 420.4 580.6 423 582.7C425.6 584.7 428.5 588.6 429.9 592.2C431.3 595.9 431.7 600 431.6 604.5C431.6 609.1 430.6 614.6 429.5 619.6C428.5 624.6 427.1 630.3 425.4 634.6C423.7 638.9 421.1 643.2 419.2 645.5C417.4 647.8 416 648.3 414.4 648.3C412.8 648.3 411.4 647.8 409.6 645.5C407.8 643.2 405.1 638.9 403.4 634.6C401.7 630.3 400.3 624.6 399.3 619.6C398.3 614.6 397.3 609.1 397.2 604.5C397.2 600 397.5 595.9 399 592.2C400.4 588.6 403.2 584.7 405.8 582.7C408.4 580.6 411.6 580 414.4 580Z" fill="none" stroke="#000" stroke-width="1.9" stroke-linejoin="round"/>
<path d="M414.7 586.1C417.1 586.1 419.7 586.7 421.8 588.3C423.9 590 426.3 593.1 427.4 596C428.6 599 428.9 602.3 428.9 606C428.8 609.7 428 614.1 427.2 618.1C426.3 622.2 425.2 626.8 423.8 630.3C422.3 633.7 420.2 637.2 418.7 639.1C417.2 640.9 416 641.3 414.7 641.3C413.4 641.3 412.2 640.9 410.7 639.1C409.2 637.2 407.1 633.7 405.6 630.3C404.2 626.8 403.1 622.2 402.2 618.1C401.4 614.1 400.6 609.7 400.5 606C400.5 602.3 400.8 599 402 596C403.1 593.1 405.5 590 407.6 588.3C409.7 586.7 412.3 586.1 414.7 586.1Z" fill="none" stroke="#000" stroke-width="1.9" stroke-linejoin="round"/>
<path d="M415 593C416.8 593 418.7 593.4 420.3 594.6C421.9 595.9 423.7 598.1 424.6 600.3C425.5 602.5 425.7 604.9 425.6 607.6C425.6 610.3 425 613.5 424.4 616.5C423.7 619.4 422.9 622.8 421.8 625.4C420.8 627.9 419.1 630.5 418 631.9C416.9 633.2 416 633.5 415 633.5C414 633.5 413.2 633.2 412.1 631.9C410.9 630.5 409.3 627.9 408.2 625.4C407.2 622.8 406.3 619.4 405.7 616.5C405 613.5 404.4 610.3 404.4 607.6C404.4 604.9 404.6 602.5 405.5 600.3C406.4 598.1 408.1 595.9 409.7 594.6C411.3 593.4 413.3 593 415 593Z" fill="none" stroke="#000" stroke-width="1.9" stroke-linejoin="round"/>
<path d="M415.4 599.6C416.5 599.6 417.8 599.9 418.9 600.7C420 601.5 421.1 603 421.7 604.4C422.3 605.8 422.5 607.4 422.4 609.1C422.4 610.9 422 613 421.6 614.9C421.2 616.9 420.6 619 419.9 620.7C419.2 622.4 418.1 624.1 417.3 624.9C416.6 625.8 416 626 415.4 626C414.7 626 414.1 625.8 413.4 624.9C412.6 624.1 411.5 622.4 410.8 620.7C410.1 619 409.5 616.9 409.1 614.9C408.7 613 408.3 610.9 408.3 609.1C408.2 607.4 408.4 605.8 409 604.4C409.6 603 410.7 601.5 411.8 600.7C412.9 599.9 414.2 599.6 415.4 599.6Z" fill="none" stroke="#000" stroke-width="1.9" stroke-linejoin="round"/>
<path d="M415.7 606C416.3 606 416.9 606.1 417.4 606.5C418 606.9 418.6 607.6 418.9 608.3C419.2 609 419.2 609.7 419.2 610.6C419.2 611.5 419 612.5 418.8 613.4C418.6 614.4 418.3 615.4 417.9 616.3C417.6 617.1 417 617.9 416.7 618.3C416.3 618.7 416 618.8 415.7 618.8C415.3 618.8 415.1 618.7 414.7 618.3C414.3 617.9 413.8 617.1 413.4 616.3C413.1 615.4 412.8 614.4 412.6 613.4C412.3 612.5 412.1 611.5 412.1 610.6C412.1 609.7 412.2 609 412.5 608.3C412.8 607.6 413.4 606.9 413.9 606.5C414.4 606.1 415.1 606 415.7 606Z" fill="none" stroke="#000" stroke-width="1.7" stroke-linejoin="round"/>
<path d="M435.2 690.2C436.3 692.3 436.8 694.9 436.5 697.5C436.3 700.1 435.3 703 433.8 705.7C432.3 708.4 430 711.2 427.5 713.5C424.9 715.8 421.7 718 418.5 719.7C415.3 721.3 411.6 722.6 408.2 723.3C404.8 724 401.2 724.2 398.2 723.9C395.2 723.5 392.2 722.6 390 721.2C387.7 719.9 385.9 718 384.8 715.8C383.7 713.7 383.2 711.1 383.5 708.5C383.7 705.9 384.7 703 386.2 700.3C387.7 697.6 390 694.8 392.5 692.5C395.1 690.2 398.3 688 401.5 686.3C404.7 684.7 408.4 683.4 411.8 682.7C415.2 682 418.8 681.8 421.8 682.1C424.8 682.5 427.8 683.4 430 684.8C432.3 686.1 434.1 688 435.2 690.2Z" fill="#000" stroke="#000" stroke-width="1.2" stroke-linejoin="round"/>
<path d="M423.2 695C423.8 696 423.9 697.5 423.5 699C423.1 700.5 422 702.3 420.6 703.8C419.2 705.4 417.2 707 415.2 708.2C413.3 709.4 410.9 710.4 408.9 710.9C406.9 711.4 404.7 711.5 403.2 711.2C401.7 710.9 400.4 710.1 399.8 709C399.2 708 399.1 706.5 399.5 705C399.9 703.5 401 701.7 402.4 700.2C403.8 698.6 405.8 697 407.8 695.8C409.7 694.6 412.1 693.6 414.1 693.1C416.1 692.6 418.3 692.5 419.8 692.8C421.3 693.1 422.6 693.9 423.2 695Z" fill="#fff" stroke="#fff" stroke-width="1.0" stroke-linejoin="round"/>
<path d="M532.2 555.8C533.5 559 533.7 563 532.6 566.8C531.6 570.6 529.2 574.9 526 578.5C522.8 582.1 518.3 585.8 513.6 588.5C508.9 591.3 503.2 593.6 497.9 594.9C492.7 596.2 486.9 596.7 482.1 596.3C477.3 595.9 472.5 594.5 469.2 592.5C465.8 590.5 463.1 587.5 461.8 584.2C460.5 581 460.3 577 461.4 573.2C462.4 569.4 464.8 565.1 468 561.5C471.2 557.9 475.7 554.2 480.4 551.5C485.1 548.7 490.8 546.4 496.1 545.1C501.3 543.8 507.1 543.3 511.9 543.7C516.7 544.1 521.5 545.5 524.8 547.5C528.2 549.5 530.9 552.5 532.2 555.8Z" fill="none" stroke="#000" stroke-width="1.7" stroke-linejoin="round"/>
<path d="M526 558.4C527 561 527.1 564.2 526.3 567.3C525.5 570.3 523.5 573.7 521 576.6C518.5 579.5 514.8 582.4 511.1 584.6C507.3 586.8 502.7 588.7 498.5 589.7C494.3 590.7 489.7 591.1 485.8 590.8C482 590.5 478.2 589.4 475.5 587.8C472.8 586.2 470.7 583.8 469.6 581.2C468.6 578.6 468.5 575.4 469.3 572.3C470.1 569.3 472.1 565.9 474.6 563C477.1 560.1 480.8 557.2 484.5 555C488.3 552.8 492.9 550.9 497.1 549.9C501.3 548.9 505.9 548.5 509.8 548.8C513.6 549.1 517.4 550.2 520.1 551.8C522.8 553.4 524.9 555.8 526 558.4Z" fill="none" stroke="#000" stroke-width="1.8" stroke-linejoin="round"/>
<path d="M519.7 561.1C520.5 563 520.6 565.4 520 567.7C519.4 570 517.9 572.5 516 574.7C514.1 576.9 511.4 579.1 508.6 580.7C505.8 582.4 502.3 583.7 499.2 584.5C496 585.3 492.5 585.6 489.6 585.4C486.8 585.1 483.9 584.3 481.9 583.1C479.9 581.9 478.2 580.1 477.5 578.1C476.7 576.2 476.6 573.8 477.2 571.5C477.8 569.2 479.3 566.7 481.2 564.5C483.1 562.3 485.8 560.1 488.6 558.5C491.4 556.8 494.9 555.5 498 554.7C501.2 553.9 504.7 553.6 507.6 553.8C510.4 554.1 513.3 554.9 515.3 556.1C517.3 557.3 519 559.1 519.7 561.1Z" fill="none" stroke="#000" stroke-width="1.8" stroke-linejoin="round"/>
<path d="M513.5 563.7C514 565 514.1 566.6 513.7 568.1C513.2 569.6 512.3 571.4 511 572.8C509.7 574.3 507.9 575.7 506 576.8C504.2 577.9 501.9 578.8 499.8 579.3C497.7 579.9 495.3 580.1 493.4 579.9C491.5 579.8 489.6 579.2 488.3 578.4C486.9 577.6 485.8 576.4 485.3 575.1C484.8 573.8 484.7 572.2 485.1 570.7C485.6 569.2 486.5 567.4 487.8 566C489.1 564.5 490.9 563.1 492.8 562C494.6 560.9 496.9 560 499 559.5C501.1 558.9 503.5 558.7 505.4 558.9C507.3 559 509.2 559.6 510.5 560.4C511.9 561.2 513 562.4 513.5 563.7Z" fill="none" stroke="#000" stroke-width="1.8" stroke-linejoin="round"/>
<path d="M430 559C433 560.7 441.3 570.2 448 569C454.7 567.8 461.7 555.8 470 552C478.3 548.2 489.7 546.7 498 546C506.3 545.3 515 544.7 520 548C525 551.3 527.8 559.3 528 566C528.2 572.7 525.7 582.3 521 588C516.3 593.7 507.2 597.3 500 600C492.8 602.7 484.7 602.8 478 604C471.3 605.2 464.3 605.7 460 607C455.7 608.3 454.3 609 452 612C449.7 615 447.8 617.8 446 625C444.2 632.2 441.8 650 441 655" fill="none" stroke="#000" stroke-width="1.9" stroke-linejoin="round"/>
<rect x="348.6" y="510.2" width="236.8" height="235.3" fill="none" stroke="#000" stroke-width="2"/>
<line x1="452.4" y1="510.2" x2="452.4" y2="745.5" stroke="#000" stroke-width="2"/>
<line x1="348.6" y1="672.4" x2="585.4" y2="672.4" stroke="#000" stroke-width="2"/>
<path d="M446.5 745.5v3.5M456.6 745.5v3.5M463.8 745.5v3.5M469.4 745.5v3.5M474 745.5v3.5M477.9 745.5v3.5M481.2 745.5v3.5M484.2 745.5v3.5M501.9 745.5v3.5M510.7 745.5v3.5M516.9 745.5v3.5M521.7 745.5v3.5M525.7 745.5v3.5M529.1 745.5v3.5M532 745.5v3.5M534.5 745.5v3.5M551.2 745.5v3.5M559.6 745.5v3.5M565.6 745.5v3.5M570.2 745.5v3.5M574 745.5v3.5M577.2 745.5v3.5M580 745.5v3.5M582.4 745.5v3.5M372.6 745.5v3.5M376.6 745.5v3.5M380.6 745.5v3.5M383.6 745.5v3.5M386.6 745.5v3.5M389.1 745.5v3.5M391.1 745.5v3.5M392.6 745.5v3.5M394.1 745.5v3.5M401.6 745.5v3.5M403.1 745.5v3.5M405.1 745.5v3.5M407.1 745.5v3.5M409.6 745.5v3.5M412.6 745.5v3.5M415.6 745.5v3.5M419.6 745.5v3.5M423.6 745.5v3.5M367.4 745.5v6M429.1 745.5v6M486.8 745.5v6M536.8 745.5v6M584.6 745.5v6M348.6 655.8h-3.5M348.6 587.9h-3.5M348.6 643.6h-3.5M348.6 576.6h-3.5M348.6 634.9h-3.5M348.6 568.5h-3.5M348.6 628.2h-3.5M348.6 562.3h-3.5M348.6 622.6h-3.5M348.6 557.2h-3.5M348.6 618h-3.5M348.6 552.9h-3.5M348.6 613.9h-3.5M348.6 549.2h-3.5M348.6 610.4h-3.5M348.6 545.9h-3.5M348.6 524.3h-3.5M348.6 513.4h-3.5M348.6 681.2h-3.5M348.6 685.2h-3.5M348.6 689.2h-3.5M348.6 693.2h-3.5M348.6 696.7h-3.5M348.6 704.2h-3.5M348.6 707.7h-3.5M348.6 710.7h-3.5M348.6 713.2h-3.5M348.6 721.2h-3.5M348.6 723.7h-3.5M348.6 726.7h-3.5M348.6 730.2h-3.5M348.6 739.2h-3.5M348.6 743.2h-3.5M348.6 543h-6M348.6 607.2h-6M348.6 676.8h-6M348.6 700.2h-6M348.6 734.2h-6" stroke="#000" stroke-width="1.2" fill="none"/>
<path d="M398 745.5v7M348.6 717.2h-7" stroke="#000" stroke-width="4" fill="none"/>
<text x="351.1" y="532.7" font-size="23.5">53.0</text>
<text x="582.4" y="532.7" font-size="23.5" text-anchor="end">24.1</text>
<text x="351.1" y="742.5" font-size="23.5">22.6</text>
</g>
<g>
<path d="M156 1141.5h1M209 1063.5h1M198 1142.5h1M135 1158.5h1M156 998.5h1M199 1155.5h1M192 1148.5h1M183 1016.5h1M210 1030.5h1M208 1030.5h1M202 1155.5h1M112 1087.5h1M184 1191.5h1M185 1137.5h1M163 1191.5h1M134 1084.5h1M175 1184.5h1M211 1167.5h1M148 1134.5h1M158 1201.5h1M138 1182.5h1M158 1140.5h1M188 1020.5h1M198 1087.5h1M173 1188.5h1M125 1147.5h1M207 1069.5h1M126 1140.5h1M135 1180.5h1M132 1060.5h1M149 1149.5h1M138 1132.5h1M163 1188.5h1M202 1166.5h1M146 1013.5h1M203 1102.5h1M147 1004.5h1M129 1054.5h1M205 1147.5h1M193 1110.5h1M132 1074.5h1M200 1031.5h1M155 1185.5h1M125 1163.5h1M202 1171.5h1M200 1181.5h1M201 1149.5h1M178 1185.5h1M162 1199.5h1M130 1159.5h1M198 1183.5h1M163 1005.5h1M153 1196.5h1M130 1163.5h1M189 1138.5h1M186 1142.5h1M189 1148.5h1M159 1198.5h1M170 1000.5h1M197 1151.5h1M149 1133.5h1M211 1068.5h1M132 1057.5h1M153 1015.5h1M149 1015.5h1M173 1007.5h1M130 1055.5h1M217 1163.5h1M200 1024.5h1M189 1004.5h1M182 1180.5h1M215 1073.5h1M175 1193.5h1M201 1014.5h1M199 1139.5h1M174 1185.5h1M203 1170.5h1M140 1154.5h1M131 1181.5h1M163 1185.5h1M160 1140.5h1M168 1185.5h1M193 1006.5h1M175 1187.5h1M142 1027.5h1M149 1023.5h1M204 1094.5h1M133 1138.5h1M134 1093.5h1M188 1127.5h1M179 1187.5h1M159 1013.5h1M193 1132.5h1M169 1013.5h1M201 1031.5h1M156 1139.5h1M209 1115.5h1M131 1122.5h1M215 1125.5h1M181 1143.5h1M190 1144.5h1M136 1177.5h1M200 1058.5h1M148 1139.5h1M217 1023.5h1M198 1143.5h1M208 1116.5h1M183 1008.5h1M211 1089.5h1M130 1053.5h1M208 1091.5h1M196 1025.5h1M137 1064.5h1M171 1011.5h1M140 1120.5h1M198 1155.5h1M202 1142.5h1M196 1089.5h1M125 1157.5h1M202 1113.5h1M204 1058.5h1M177 1199.5h1M185 1134.5h1M200 1083.5h1M134 1170.5h1M163 1186.5h1M134 1081.5h1M123 1023.5h1M202 1099.5h1M203 1057.5h1M135 1041.5h1M135 1168.5h1M149 1140.5h1M186 1178.5h1M142 1124.5h1M185 1004.5h1M219 1042.5h1M191 1197.5h1M144 1113.5h1M198 1164.5h1M126 1158.5h1M133 1049.5h1M198 1186.5h1M214 1158.5h1M122 1184.5h1M133 1040.5h1M202 1116.5h1M136 1146.5h1M181 1182.5h1M213 1047.5h1M190 1013.5h1M199 1158.5h1M120 1105.5h1M184 1134.5h1M157 1136.5h1M135 1160.5h1M208 1130.5h1M129 1146.5h1M201 1158.5h1M139 1085.5h1M136 1166.5h1M207 1192.5h1M210 1136.5h1M135 1080.5h1M133 1126.5h1M190 1190.5h1M180 1140.5h1M211 1057.5h1M187 1130.5h1M174 1016.5h1M193 1178.5h1M194 1141.5h1M146 1020.5h1M185 1179.5h1M134 1157.5h1M133 1058.5h1M181 1004.5h1M196 1104.5h1M189 1181.5h1M204 1139.5h1M147 1131.5h1M189 1141.5h1M164 1195.5h1M196 1003.5h1M209 1165.5h1M166 1014.5h1M197 1176.5h1M161 1014.5h1M200 1090.5h1M177 1013.5h1M208 1028.5h1M164 1013.5h1M169 1011.5h1M103 1159.5h1M223 1040.5h1M126 1145.5h1M202 1095.5h1M134 1176.5h1M198 1100.5h1M197 1183.5h1M126 1165.5h1M200 1027.5h1M131 1169.5h1M169 1190.5h1M148 1132.5h1M205 1149.5h1M145 1018.5h1M158 1185.5h1M202 1154.5h1M176 1185.5h1M190 1138.5h1M180 1014.5h1M190 1136.5h1M194 1126.5h1M203 1053.5h1M216 1166.5h1M131 1059.5h1M142 1104.5h1M195 1149.5h1M201 1035.5h1M184 1195.5h1M199 1174.5h1M199 1185.5h1M139 1027.5h1M144 1153.5h1M138 1116.5h1M171 1187.5h1M188 1141.5h1M131 1163.5h1M140 1102.5h1M125 1108.5h1M193 1115.5h1M135 1126.5h1M125 1071.5h1M163 1012.5h1M204 1140.5h1M174 1009.5h1M141 1025.5h1M132 1098.5h1M136 1171.5h1M129 1067.5h1M152 1138.5h1M112 1168.5h1M202 1054.5h1M167 1188.5h1M179 1182.5h1M213 1067.5h1M202 1038.5h1M129 1151.5h1M192 1143.5h1M193 1145.5h1M196 1121.5h1M204 1148.5h1M192 1180.5h1M173 1201.5h1M144 1125.5h1M161 1017.5h1M114 1180.5h1M192 1133.5h1M144 1027.5h1M201 1056.5h1M133 1182.5h1M174 1015.5h1M162 1006.5h1M197 1031.5h1M161 1000.5h1M202 1123.5h1M202 1068.5h1M191 1142.5h1M196 1120.5h1M206 1153.5h1M156 1005.5h1M127 1172.5h1M196 1145.5h1M200 1111.5h1M202 1164.5h1M157 1003.5h1M163 1006.5h1M137 1004.5h1M183 1199.5h1M193 1019.5h1M168 1190.5h1M131 1170.5h1M197 1146.5h1M199 1146.5h1M150 1021.5h1M201 1178.5h1M202 1182.5h1M217 1079.5h1M128 1104.5h1M189 1195.5h1M134 1159.5h1M188 1134.5h1M210 1059.5h1M185 1137.5h1M146 1129.5h1M214 1150.5h1M113 1163.5h1M192 1130.5h1M182 1136.5h1M195 1181.5h1M148 1130.5h1M195 1173.5h1M143 1123.5h1M144 1147.5h1M166 1185.5h1M195 1155.5h1M153 1140.5h1M220 1078.5h1M114 1159.5h1M192 1128.5h1M197 1153.5h1M138 1048.5h1M203 1090.5h1M122 1093.5h1M185 1018.5h1M142 1025.5h1M189 1003.5h1M196 1177.5h1M197 1033.5h1M158 1142.5h1M175 1196.5h1M138 1115.5h1M137 1049.5h1M153 1198.5h1M144 1115.5h1M167 1193.5h1M203 1066.5h1M207 1081.5h1M195 1114.5h1M130 1182.5h1M182 1138.5h1M198 1154.5h1M155 1191.5h1M174 1187.5h1M211 1175.5h1M130 1177.5h1M135 1049.5h1M215 1105.5h1M168 1015.5h1M135 1012.5h1M198 1156.5h1M132 1142.5h1M177 1187.5h1M128 1093.5h1M178 1188.5h1M202 1176.5h1M138 1159.5h1M203 1156.5h1M153 1191.5h1M198 1146.5h1M161 1198.5h1M125 1167.5h1M132 1061.5h1M198 1115.5h1M225 1158.5h1M195 1118.5h1M143 1016.5h1M187 1020.5h1M179 1191.5h1M199 1157.5h1M192 1145.5h1M164 992.5h1M132 1129.5h1M137 1123.5h1M198 1190.5h1M129 1045.5h1M139 1075.5h1M189 1010.5h1M172 1190.5h1M135 1077.5h1M193 1150.5h1M197 1158.5h1M126 1159.5h1M200 1039.5h1M210 1068.5h1M184 1194.5h1M146 1014.5h1M132 1179.5h1M201 1039.5h1M141 1084.5h1M160 1139.5h1M215 1061.5h1M139 1096.5h1M202 1072.5h1M145 1156.5h1M193 1169.5h1M178 1185.5h1M181 1194.5h1M124 1094.5h1M207 1094.5h1M207 1043.5h1M154 1018.5h1M187 1131.5h1M200 1155.5h1M134 1162.5h1M180 1014.5h1M183 1147.5h1M203 1039.5h1M133 1172.5h1M204 1058.5h1M185 1132.5h1M192 1174.5h1M187 1140.5h1M179 1140.5h1M130 1167.5h1M192 1140.5h1M164 1016.5h1M193 1123.5h1M147 1022.5h1M134 1070.5h1M141 1135.5h1M138 1043.5h1M187 1142.5h1M164 1012.5h1M150 1021.5h1M190 1010.5h1M200 1072.5h1M131 1135.5h1M197 1166.5h1M132 1162.5h1M109 1002.5h1M199 1040.5h1M192 1138.5h1M231 1043.5h1M208 1089.5h1M132 1020.5h1M194 1189.5h1M199 1085.5h1M199 1188.5h1M126 1150.5h1M128 1177.5h1M183 1005.5h1M213 1162.5h1M194 1175.5h1M205 1133.5h1M192 1135.5h1M143 1185.5h1M191 1174.5h1M192 1183.5h1M136 1059.5h1M205 1051.5h1M208 1115.5h1M175 1199.5h1M163 1190.5h1M220 1105.5h1M156 1010.5h1M181 1201.5h1M202 1153.5h1M154 1144.5h1M133 1161.5h1M127 1181.5h1M154 1186.5h1M117 1171.5h1M194 1150.5h1M197 1167.5h1M198 1179.5h1M161 1017.5h1M212 1169.5h1M161 1142.5h1M125 1162.5h1M143 1031.5h1M182 1183.5h1M144 1021.5h1M202 1013.5h1M135 1171.5h1M131 1106.5h1M195 1023.5h1M199 1117.5h1M213 1106.5h1M136 1061.5h1M203 1144.5h1M209 1137.5h1M172 1193.5h1M127 1165.5h1M180 1141.5h1M213 1102.5h1M188 1141.5h1M202 1134.5h1M166 1195.5h1M211 1147.5h1M199 1144.5h1M199 1114.5h1M188 1010.5h1M139 1147.5h1M119 1050.5h1M165 1190.5h1M143 1145.5h1M202 1095.5h1M196 1105.5h1M176 1012.5h1M201 1027.5h1M202 1166.5h1M158 1189.5h1M188 1130.5h1M147 1129.5h1M214 1077.5h1M190 1007.5h1M197 1125.5h1M130 1033.5h1M186 1137.5h1M128 1156.5h1M193 1145.5h1M183 1147.5h1M214 1144.5h1M139 1124.5h1M147 1129.5h1M146 1140.5h1M196 1174.5h1M137 1005.5h1M203 1071.5h1M202 1097.5h1M203 1176.5h1M130 1178.5h1M190 1180.5h1M140 1111.5h1M191 1140.5h1M194 1149.5h1M131 1046.5h1M138 1044.5h1M191 1193.5h1M137 1060.5h1M187 1175.5h1M155 1141.5h1M140 1103.5h1M123 1176.5h1M125 1164.5h1M187 1020.5h1M121 1102.5h1M193 1004.5h1M192 1150.5h1M158 1188.5h1M194 1128.5h1M123 1115.5h1M146 1019.5h1M209 1170.5h1M197 1170.5h1M188 1188.5h1M201 1071.5h1M215 1045.5h1M198 1025.5h1M199 1037.5h1M204 1014.5h1M202 1037.5h1M176 1182.5h1M157 1017.5h1M189 1127.5h1M166 1013.5h1M204 1039.5h1M123 1183.5h1M129 1176.5h1M152 1015.5h1M135 1149.5h1M193 1147.5h1M173 1012.5h1M201 1161.5h1M132 1081.5h1M166 1010.5h1M131 1032.5h1M130 1182.5h1M199 1027.5h1M216 1106.5h1M146 1136.5h1M200 1128.5h1M203 1153.5h1M157 1143.5h1M160 1139.5h1M195 1193.5h1M207 1166.5h1M188 1129.5h1M132 1168.5h1M212 1070.5h1M147 1151.5h1M204 1156.5h1M204 1057.5h1M150 1023.5h1M209 1167.5h1M140 1038.5h1M156 1145.5h1M130 1176.5h1M127 1172.5h1M155 1205.5h1M133 1126.5h1M114 1181.5h1M182 1178.5h1M176 1016.5h1M199 1164.5h1M155 1141.5h1M124 1110.5h1M139 1147.5h1M134 1167.5h1M134 1178.5h1M158 1203.5h1M210 1008.5h1M156 1199.5h1M187 1132.5h1M184 1180.5h1M169 999.5h1M193 1152.5h1M192 1140.5h1M167 1198.5h1M140 1054.5h1M191 1136.5h1M132 1174.5h1M162 1015.5h1M134 1117.5h1M185 1006.5h1M129 1158.5h1M134 1180.5h1M201 1164.5h1M212 1094.5h1M159 1141.5h1M207 1048.5h1M134 1155.5h1M197 1169.5h1M215 1049.5h1M211 1043.5h1M127 1034.5h1M134 1052.5h1M189 1132.5h1M161 996.5h1M121 1173.5h1M207 1108.5h1M142 1106.5h1M200 1136.5h1M174 1187.5h1M217 1036.5h1M200 1097.5h1M183 1145.5h1M195 1018.5h1M125 1162.5h1M199 1160.5h1M157 1005.5h1M190 1012.5h1M135 1123.5h1M184 1141.5h1M193 1144.5h1M199 1190.5h1M182 1139.5h1M192 1188.5h1M207 1076.5h1M218 1164.5h1M121 1174.5h1M152 1146.5h1M196 1114.5h1M136 1020.5h1M128 1069.5h1M125 1090.5h1M120 1081.5h1M195 1169.5h1M170 1193.5h1M133 1184.5h1M136 1041.5h1M167 994.5h1M202 1174.5h1M143 1184.5h1M174 1001.5h1M154 1144.5h1M141 1155.5h1M127 1087.5h1M190 1129.5h1M199 1059.5h1M135 1097.5h1M182 1147.5h1M207 1182.5h1M211 1105.5h1M197 1095.5h1M162 1015.5h1M132 1169.5h1M188 1141.5h1M204 1026.5h1M194 1130.5h1M117 1159.5h1M210 1153.5h1M203 1067.5h1M187 1012.5h1M200 1125.5h1M144 1008.5h1M192 1140.5h1M185 1178.5h1M159 1139.5h1M206 1165.5h1M199 1044.5h1M166 1010.5h1M215 1057.5h1M153 1142.5h1M205 1129.5h1M129 1185.5h1M201 1082.5h1M179 1009.5h1M147 1018.5h1M216 1038.5h1M181 1143.5h1M199 1025.5h1M131 1168.5h1M135 1076.5h1M131 1126.5h1M191 1182.5h1M188 1131.5h1M158 1139.5h1M203 1149.5h1M186 1020.5h1M147 1133.5h1M180 1145.5h1M167 1189.5h1M134 1152.5h1M218 1028.5h1M185 1010.5h1M184 1140.5h1M171 1194.5h1M183 1137.5h1M203 1155.5h1M212 1045.5h1M185 1143.5h1M142 1143.5h1M191 1136.5h1M124 1094.5h1M122 1091.5h1M161 1017.5h1M220 1049.5h1M205 1038.5h1M127 1164.5h1M133 1023.5h1M121 1163.5h1M149 1139.5h1M197 1106.5h1M150 1142.5h1M225 1024.5h1M196 1168.5h1M160 1142.5h1M176 988.5h1M191 1127.5h1M203 1035.5h1M212 1095.5h1M161 1187.5h1M214 1116.5h1M147 1025.5h1M223 1059.5h1M140 1148.5h1M155 1188.5h1M130 1110.5h1M200 1097.5h1M165 1009.5h1M209 1035.5h1M192 1194.5h1M164 1014.5h1M123 1050.5h1M191 1136.5h1M174 1008.5h1M152 1196.5h1M117 1162.5h1M186 1140.5h1M141 1034.5h1M204 1167.5h1M205 1051.5h1M171 1186.5h1M142 1117.5h1M196 1155.5h1M124 1168.5h1M198 1112.5h1M189 1132.5h1M180 1143.5h1M195 1144.5h1M191 1014.5h1M176 1004.5h1M216 1050.5h1M116 1157.5h1M203 1096.5h1M197 1163.5h1M143 1142.5h1M165 1005.5h1M143 1125.5h1M142 1107.5h1M136 1062.5h1M158 1012.5h1M175 1188.5h1M205 1068.5h1M132 1039.5h1M134 1050.5h1M124 1147.5h1M203 1066.5h1M201 1118.5h1M131 1046.5h1M166 1195.5h1M134 1141.5h1M161 1003.5h1M173 1012.5h1M196 1163.5h1M197 1090.5h1M136 1028.5h1M129 1039.5h1M126 1041.5h1M157 1017.5h1M168 1007.5h1M173 1004.5h1M183 1003.5h1M196 1155.5h1M134 1073.5h1M183 1140.5h1M142 1183.5h1M162 1196.5h1M137 1182.5h1M203 1017.5h1M191 1178.5h1M192 1182.5h1M131 1121.5h1M155 1193.5h1M178 1013.5h1M198 1011.5h1M137 1127.5h1M139 1088.5h1M203 1083.5h1M177 1185.5h1M185 1141.5h1M139 1136.5h1M188 1147.5h1M209 1109.5h1M141 1112.5h1M180 1017.5h1M191 1143.5h1M146 1014.5h1M197 1155.5h1M201 1173.5h1M203 1054.5h1M205 1078.5h1M196 1164.5h1M200 1028.5h1M135 1120.5h1M198 1128.5h1M151 998.5h1M202 1043.5h1M191 1135.5h1M181 1198.5h1M189 1178.5h1M193 1019.5h1M117 1166.5h1M166 1197.5h1M118 1114.5h1M140 1071.5h1M172 1004.5h1M195 1144.5h1M139 1107.5h1M127 1077.5h1M133 1055.5h1M124 1128.5h1M206 1095.5h1M165 1008.5h1M192 1175.5h1M198 1033.5h1M153 1148.5h1M157 1204.5h1M197 1150.5h1M181 1195.5h1M202 1177.5h1M183 1003.5h1M201 1160.5h1M134 1055.5h1M193 1130.5h1M203 1026.5h1M213 1081.5h1M133 1074.5h1M223 1124.5h1M210 1189.5h1M183 1015.5h1M195 1155.5h1M203 1109.5h1M128 1138.5h1M185 1134.5h1M209 1073.5h1M127 1108.5h1M156 1135.5h1M198 1030.5h1M153 1014.5h1M178 1140.5h1M180 1196.5h1M216 1051.5h1M195 1024.5h1M169 1007.5h1M200 1103.5h1M193 1152.5h1M191 1140.5h1M155 1188.5h1M134 1094.5h1M162 1003.5h1M192 1132.5h1M196 1139.5h1M144 1150.5h1M202 1058.5h1M190 1175.5h1M144 1142.5h1M135 1174.5h1M181 1140.5h1M197 1160.5h1M212 1148.5h1M183 1137.5h1M140 1123.5h1M124 1113.5h1M197 1099.5h1M153 1135.5h1M147 1143.5h1M181 1142.5h1M198 1025.5h1M129 1160.5h1M159 1143.5h1M195 1150.5h1M186 1132.5h1M133 1143.5h1M159 1199.5h1M175 985.5h1M187 1195.5h1M136 1050.5h1M141 1115.5h1M134 1110.5h1M133 1182.5h1M131 1051.5h1M204 1107.5h1M208 1157.5h1M194 1111.5h1M195 1122.5h1M202 1170.5h1M197 1172.5h1M184 1143.5h1M186 1133.5h1M194 1185.5h1M128 1070.5h1M196 1027.5h1M147 1134.5h1M153 1189.5h1M133 1183.5h1M196 1024.5h1M180 1010.5h1M204 1041.5h1M160 1008.5h1M123 1012.5h1M200 1165.5h1M199 1154.5h1M207 1082.5h1M212 1182.5h1M220 1034.5h1M134 1174.5h1M195 1141.5h1M141 1126.5h1M139 1182.5h1M146 1016.5h1M159 1008.5h1M196 1026.5h1M187 1145.5h1M135 1022.5h1M139 1183.5h1M121 1151.5h1M201 1156.5h1M145 1004.5h1M205 1162.5h1M159 1142.5h1M138 1074.5h1M171 1007.5h1M137 1163.5h1M133 1180.5h1M136 1134.5h1M199 1115.5h1M193 1106.5h1M130 1165.5h1M130 1077.5h1M184 1185.5h1M136 1096.5h1M144 1138.5h1M137 1177.5h1M139 1083.5h1M127 1063.5h1M129 1158.5h1M137 1061.5h1M211 1014.5h1M160 1004.5h1M157 1188.5h1M134 1154.5h1M144 1117.5h1M183 1014.5h1M168 1013.5h1M208 1088.5h1M130 1184.5h1M123 1162.5h1M193 1111.5h1M207 1085.5h1M133 1176.5h1M158 1188.5h1M124 1074.5h1M190 1142.5h1M193 1135.5h1M187 1143.5h1M163 1186.5h1M189 1127.5h1M162 1141.5h1M211 1073.5h1M204 1174.5h1M128 1163.5h1M138 1085.5h1M122 1108.5h1M158 1014.5h1M153 1002.5h1M128 1102.5h1M201 1157.5h1M160 1010.5h1M142 1028.5h1M126 1168.5h1M131 1183.5h1M213 1157.5h1M159 1000.5h1M167 1004.5h1M133 1143.5h1M184 1145.5h1M135 1102.5h1M199 1148.5h1M122 1180.5h1M124 1090.5h1M133 1176.5h1M220 1077.5h1M134 1102.5h1M195 1137.5h1M160 1142.5h1M185 1192.5h1M209 1149.5h1M152 1007.5h1M187 1185.5h1M203 1179.5h1M190 1178.5h1M120 1030.5h1M222 1084.5h1M142 1039.5h1M136 1086.5h1M197 1138.5h1M159 1015.5h1M171 1183.5h1M206 1046.5h1M149 1136.5h1M203 1178.5h1M155 1188.5h1M156 1192.5h1M121 1078.5h1M128 1183.5h1M207 1054.5h1M202 1036.5h1M162 1195.5h1M182 1183.5h1M191 1136.5h1M138 1067.5h1M203 1137.5h1M134 1021.5h1M198 1179.5h1M170 1189.5h1M204 1038.5h1M194 1177.5h1M124 1174.5h1M136 1157.5h1M146 1018.5h1M143 1139.5h1M131 1149.5h1M128 1050.5h1M146 1185.5h1M114 1184.5h1M196 1170.5h1M156 1144.5h1M154 1148.5h1M138 1005.5h1M134 1021.5h1M197 1163.5h1M144 1126.5h1M194 1176.5h1M202 1173.5h1M153 1149.5h1M149 1147.5h1M132 1156.5h1M183 1134.5h1M145 1017.5h1M122 1104.5h1M192 1023.5h1M198 1132.5h1M191 1135.5h1M207 1094.5h1M171 1004.5h1M211 1160.5h1M191 1182.5h1M165 1193.5h1M209 1063.5h1M185 1142.5h1M126 1123.5h1M195 1148.5h1M198 1111.5h1M164 1014.5h1M209 1051.5h1M114 1178.5h1M152 1140.5h1M137 1042.5h1M197 1026.5h1M151 1016.5h1M203 1076.5h1M159 1012.5h1M141 1107.5h1M165 1200.5h1M133 1096.5h1M131 1004.5h1M145 1141.5h1M198 1161.5h1M198 1148.5h1M200 1008.5h1M141 1130.5h1M157 1142.5h1M166 1186.5h1M200 1064.5h1M156 1146.5h1M129 1175.5h1M145 1154.5h1M123 1056.5h1M136 1078.5h1M206 1067.5h1M125 1164.5h1M194 1122.5h1M155 1017.5h1M156 1193.5h1M197 1121.5h1M192 1021.5h1M121 1026.5h1M127 1182.5h1M179 1180.5h1M197 1149.5h1M198 1113.5h1M198 1168.5h1M145 1131.5h1M132 1121.5h1M210 1173.5h1M216 1081.5h1M142 1149.5h1M188 1134.5h1M205 1075.5h1M214 1170.5h1M186 1019.5h1M156 1009.5h1M132 1184.5h1M151 1147.5h1M141 1181.5h1M195 1165.5h1M167 1188.5h1M203 1070.5h1M184 1146.5h1M186 1148.5h1M159 1141.5h1M139 1044.5h1M199 1047.5h1M134 1165.5h1M206 1064.5h1M133 1181.5h1M159 1187.5h1M165 1009.5h1M186 1186.5h1M183 1142.5h1M200 1177.5h1M185 1137.5h1M170 1017.5h1M142 1135.5h1M222 1083.5h1M135 1163.5h1M137 1117.5h1M151 1152.5h1M167 1008.5h1M198 1154.5h1M215 1053.5h1M120 1085.5h1M180 1182.5h1M205 1063.5h1M136 1179.5h1M134 1101.5h1M145 1184.5h1M131 1051.5h1M188 1149.5h1M191 1187.5h1M149 1015.5h1M155 1136.5h1M197 1126.5h1M188 1133.5h1M182 1141.5h1M136 1138.5h1M140 1030.5h1M221 1159.5h1M133 1083.5h1M191 1130.5h1M193 1129.5h1M155 1011.5h1M138 1083.5h1M186 1143.5h1M130 1091.5h1M221 1087.5h1M185 1179.5h1M147 1018.5h1M137 1072.5h1M134 1035.5h1M137 1044.5h1M190 1140.5h1M153 1138.5h1M182 1143.5h1M198 1170.5h1M135 1163.5h1M209 1111.5h1M156 1141.5h1M195 1140.5h1M189 1018.5h1M195 1151.5h1M182 1142.5h1M119 1169.5h1M145 1016.5h1M140 1099.5h1M194 1119.5h1M166 1005.5h1M142 1185.5h1M202 1109.5h1M132 1075.5h1M208 1119.5h1M134 1102.5h1M170 1185.5h1M199 1159.5h1M194 1133.5h1M159 1012.5h1M184 1146.5h1M135 1173.5h1M201 1167.5h1M192 1138.5h1M136 1027.5h1M185 1144.5h1M152 1140.5h1M163 992.5h1M210 1120.5h1M186 1185.5h1M196 1165.5h1M194 1168.5h1M192 1139.5h1M198 1001.5h1M138 1043.5h1M198 1177.5h1M192 1149.5h1M127 1101.5h1M168 1190.5h1M202 1062.5h1M152 1145.5h1M151 1007.5h1M208 1037.5h1M182 1180.5h1M156 1140.5h1M146 1009.5h1M202 1130.5h1M138 1036.5h1M137 1027.5h1M180 1145.5h1M132 1011.5h1M141 1034.5h1M193 1009.5h1M153 1144.5h1M210 1172.5h1M135 1144.5h1M165 1015.5h1M171 1182.5h1M206 1140.5h1M151 1011.5h1M194 1170.5h1M168 1005.5h1M136 1030.5h1M201 1043.5h1M124 1176.5h1M171 1014.5h1M135 1159.5h1M148 1136.5h1M195 1091.5h1M136 1158.5h1M198 1152.5h1M123 1153.5h1M188 1018.5h1M128 1161.5h1M130 1142.5h1M185 1143.5h1M168 1186.5h1M146 1140.5h1M154 1142.5h1M210 1160.5h1M199 1145.5h1M141 1115.5h1M141 1130.5h1M197 1175.5h1M167 1003.5h1M153 1001.5h1M193 1021.5h1M197 1184.5h1M178 1009.5h1M226 1162.5h1M203 1102.5h1M189 1122.5h1M205 1020.5h1M129 1060.5h1M180 992.5h1M186 1140.5h1M204 1186.5h1M219 1179.5h1M187 1132.5h1M194 1169.5h1M175 1184.5h1M171 1012.5h1M154 984.5h1M204 1127.5h1M154 1194.5h1M118 1122.5h1M183 1179.5h1M164 1008.5h1M134 1164.5h1M142 1114.5h1M145 1022.5h1M197 1027.5h1M196 1192.5h1M201 1123.5h1M156 1140.5h1M125 1159.5h1M189 1133.5h1M138 1131.5h1M207 1094.5h1M198 1113.5h1M118 1160.5h1M149 1140.5h1M199 1142.5h1M137 1050.5h1M181 1010.5h1M197 1165.5h1M141 1035.5h1M178 1201.5h1M142 1111.5h1M200 1024.5h1M137 1114.5h1M151 1137.5h1M213 1051.5h1M197 1154.5h1M201 1081.5h1M158 1016.5h1M147 1026.5h1M207 1019.5h1M202 1165.5h1M142 1093.5h1M161 1189.5h1M169 1196.5h1M206 1123.5h1M197 1125.5h1M153 1202.5h1M176 1013.5h1M215 1041.5h1M132 1051.5h1M177 1191.5h1M197 1101.5h1M198 1172.5h1M137 1049.5h1M149 1018.5h1M153 998.5h1M132 1176.5h1M175 1004.5h1M203 1039.5h1M142 1023.5h1M177 1183.5h1M198 1086.5h1M198 1094.5h1M193 1138.5h1M120 1165.5h1M184 1141.5h1M200 1069.5h1M139 1082.5h1M162 1205.5h1M207 1117.5h1M197 1146.5h1M218 1029.5h1M235 1036.5h1M232 1013.5h1M247 1050.5h1M226 1042.5h1M275 1018.5h1M245 1038.5h1M254 1047.5h1M230 1042.5h1M224 1021.5h1M214 1016.5h1M214 1026.5h1M296 1038.5h1M252 1030.5h1M215 1031.5h1M254 1033.5h1M184 1001.5h1M294 1006.5h1M258 1021.5h1M273 1033.5h1M269 1025.5h1M247 1014.5h1M241 1043.5h1M204 1029.5h1M231 1066.5h1M210 1037.5h1M266 1026.5h1M229 1041.5h1M272 995.5h1M238 1043.5h1M241 1007.5h1M224 1019.5h1M203 1034.5h1M250 1014.5h1M216 1044.5h1M242 1013.5h1M234 1034.5h1M248 1019.5h1M247 1027.5h1M261 1026.5h1M198 1069.5h1M251 1024.5h1M220 1040.5h1M223 1026.5h1M234 1053.5h1M266 980.5h1M207 1016.5h1M243 1049.5h1M219 1035.5h1M240 1032.5h1M210 1023.5h1M204 1051.5h1M239 1015.5h1M209 1011.5h1M243 1064.5h1M250 1039.5h1M234 1056.5h1M219 1051.5h1M245 1019.5h1M234 1025.5h1M290 1032.5h1M239 1062.5h1M274 1016.5h1M274 977.5h1M233 995.5h1M234 993.5h1M220 1061.5h1M226 998.5h1M259 1035.5h1M277 1005.5h1M233 1010.5h1M254 1012.5h1M245 1037.5h1M233 1029.5h1M250 1025.5h1M260 1050.5h1M277 1025.5h1M204 1048.5h1M246 1011.5h1M242 1007.5h1M249 1019.5h1M213 1022.5h1M244 1044.5h1M253 1043.5h1M222 1031.5h1M273 1025.5h1M213 1030.5h1M247 1033.5h1M231 1070.5h1M248 1033.5h1M246 1031.5h1M207 1029.5h1M260 992.5h1M238 1051.5h1M245 1008.5h1M232 1030.5h1M262 1028.5h1M250 1046.5h1M238 1055.5h1M242 1040.5h1M275 994.5h1M214 1032.5h1M217 1040.5h1M261 1024.5h1M239 1030.5h1M221 1095.5h1M279 1064.5h1M261 1023.5h1M250 1027.5h1M219 1051.5h1M226 1010.5h1M271 1033.5h1M211 1064.5h1M273 1015.5h1M212 1036.5h1M225 1064.5h1M199 1028.5h1M227 1053.5h1M242 1008.5h1M241 1051.5h1M207 1021.5h1M245 1038.5h1M241 1066.5h1M230 1060.5h1M238 1031.5h1M290 1013.5h1M270 1032.5h1M225 1028.5h1M265 1025.5h1M213 1029.5h1M226 1033.5h1M231 1058.5h1M218 1026.5h1M238 1025.5h1M261 1027.5h1M271 1023.5h1M280 1012.5h1M269 1030.5h1M258 997.5h1M247 1018.5h1M213 1021.5h1M274 1045.5h1M260 1040.5h1M220 1043.5h1M262 1037.5h1M305 1026.5h1M244 1040.5h1M207 1034.5h1M252 1018.5h1M272 1004.5h1M223 1060.5h1M300 1004.5h1M246 1007.5h1M260 1028.5h1M242 1065.5h1M235 1062.5h1M237 1010.5h1M212 1005.5h1M213 1022.5h1M259 1000.5h1M252 1012.5h1M266 1018.5h1M227 1013.5h1M247 1027.5h1M247 1019.5h1M285 1010.5h1M259 1025.5h1M274 1029.5h1M233 1023.5h1M210 1032.5h1M250 1045.5h1M256 1024.5h1M269 1039.5h1M220 1056.5h1M279 1024.5h1M227 1011.5h1M288 998.5h1M246 1024.5h1M238 985.5h1M258 1025.5h1M212 1017.5h1M215 1041.5h1M212 1064.5h1M224 1019.5h1M219 1007.5h1M244 1040.5h1M246 1020.5h1M254 1057.5h1M247 1057.5h1M267 1013.5h1M220 1036.5h1M279 1007.5h1M221 1054.5h1M258 1011.5h1M221 1053.5h1M256 997.5h1M257 1043.5h1M262 1002.5h1M277 1016.5h1M221 1037.5h1M203 1053.5h1M219 1052.5h1M287 1020.5h1M265 1035.5h1M236 1057.5h1M250 1032.5h1M207 1027.5h1M271 1036.5h1M242 999.5h1M227 1033.5h1M211 1034.5h1M230 1034.5h1M269 1031.5h1M205 1034.5h1M246 1041.5h1M281 1032.5h1M236 1045.5h1M243 1020.5h1M244 1024.5h1M226 1045.5h1M202 1010.5h1M247 1037.5h1M203 1034.5h1M221 1031.5h1M285 1015.5h1M197 1025.5h1M233 1006.5h1M226 1059.5h1M232 1016.5h1M269 1028.5h1M220 1068.5h1M244 1026.5h1M263 1018.5h1M247 1025.5h1M189 1018.5h1M247 1029.5h1M262 1020.5h1M215 1013.5h1M238 1035.5h1M232 1072.5h1M246 1041.5h1M265 1012.5h1M221 1024.5h1M254 1047.5h1M245 1017.5h1M208 1028.5h1M221 1023.5h1M235 1019.5h1M266 994.5h1M225 1044.5h1M199 1044.5h1M224 1008.5h1M239 1007.5h1M236 1031.5h1M249 1050.5h1M261 986.5h1M207 1028.5h1M218 1066.5h1M222 1061.5h1M228 1038.5h1M220 1033.5h1M273 1022.5h1M217 1027.5h1M283 1003.5h1M258 1019.5h1M258 1013.5h1M228 1045.5h1M251 1017.5h1M205 1060.5h1M293 1029.5h1M216 1017.5h1M223 1040.5h1M256 1022.5h1M217 1032.5h1M253 1047.5h1M235 1022.5h1M260 1043.5h1M256 1048.5h1M230 1038.5h1M244 1014.5h1M282 1004.5h1M186 1019.5h1M223 1062.5h1M218 1045.5h1M203 1064.5h1M258 1051.5h1M270 1005.5h1M262 1006.5h1M236 1015.5h1M253 1013.5h1M253 1001.5h1M257 983.5h1M217 1034.5h1M246 1055.5h1M248 1016.5h1M218 1060.5h1M229 1031.5h1M230 1026.5h1M236 1027.5h1M207 1045.5h1M245 1046.5h1M265 1058.5h1M303 1011.5h1M258 1004.5h1M239 1036.5h1M224 1017.5h1M220 1023.5h1M208 1041.5h1M289 1024.5h1M251 1036.5h1M240 1019.5h1M211 1028.5h1M271 1043.5h1M270 1004.5h1M234 1058.5h1M255 1020.5h1M272 978.5h1M243 1016.5h1M226 999.5h1M230 1030.5h1M267 996.5h1M220 1040.5h1M239 1005.5h1M255 1042.5h1M259 1046.5h1M281 1004.5h1M246 1027.5h1M266 1046.5h1M234 1038.5h1M250 1045.5h1M219 991.5h1M202 1061.5h1M297 1004.5h1M230 1027.5h1M229 1008.5h1M247 991.5h1M206 1030.5h1M218 1019.5h1M239 1034.5h1M278 988.5h1M271 1027.5h1M220 1009.5h1M252 1007.5h1M228 1055.5h1M254 1023.5h1M236 1036.5h1M212 1073.5h1M253 1034.5h1M222 1059.5h1M239 1058.5h1M244 1041.5h1M258 988.5h1M251 1024.5h1M232 1042.5h1M254 1060.5h1M219 1043.5h1M256 1011.5h1M257 1020.5h1M215 1053.5h1M218 1000.5h1M240 1018.5h1M210 1061.5h1M262 1019.5h1M234 1017.5h1M261 1018.5h1M268 1014.5h1M251 1019.5h1M267 1023.5h1M260 1035.5h1M248 1013.5h1M233 1027.5h1M224 1062.5h1M225 1051.5h1M261 1026.5h1M249 1003.5h1M253 1045.5h1M245 1071.5h1M258 1030.5h1M236 1074.5h1M218 1003.5h1M248 1022.5h1M226 1037.5h1M237 1009.5h1M260 1002.5h1M277 1011.5h1M248 1039.5h1M242 1043.5h1M207 1024.5h1M225 1022.5h1M221 1000.5h1M223 981.5h1M227 1033.5h1M240 1024.5h1M240 1001.5h1M242 1005.5h1M223 1053.5h1M217 1028.5h1M235 1024.5h1M281 1021.5h1M220 1022.5h1M216 1042.5h1M234 1049.5h1M255 1005.5h1M275 1009.5h1M224 1056.5h1M238 1020.5h1M264 1035.5h1M250 1004.5h1M260 1006.5h1M254 1071.5h1M255 993.5h1M272 1017.5h1M229 1059.5h1M282 1017.5h1M240 1051.5h1M240 1046.5h1M211 1029.5h1M242 1003.5h1M254 1005.5h1M245 1041.5h1M247 1031.5h1M228 1040.5h1M214 1004.5h1M202 1054.5h1M294 1004.5h1M230 1018.5h1M268 1003.5h1M242 1014.5h1M250 1042.5h1M269 1057.5h1M247 1050.5h1M248 1005.5h1M267 1033.5h1M279 1026.5h1M199 1047.5h1M266 1015.5h1M225 1042.5h1M258 995.5h1M274 1000.5h1M236 1044.5h1M207 1059.5h1M248 1048.5h1M211 1062.5h1M213 1070.5h1M254 1047.5h1M254 1025.5h1M221 1049.5h1M214 1016.5h1M227 1040.5h1M202 1036.5h1M279 1041.5h1M253 1014.5h1M251 1028.5h1M245 1035.5h1M290 999.5h1M239 1013.5h1M229 1034.5h1M239 1016.5h1M225 1036.5h1M250 1009.5h1M236 1019.5h1M234 1021.5h1M219 1043.5h1M263 1020.5h1M217 1040.5h1M245 1019.5h1M246 1054.5h1M262 1043.5h1M261 1064.5h1M266 1040.5h1M236 1036.5h1M286 1021.5h1M241 1022.5h1M227 1035.5h1M282 1060.5h1M266 1018.5h1M237 1044.5h1M242 1006.5h1M245 1051.5h1M245 984.5h1M184 1006.5h1M243 1040.5h1M234 1054.5h1M216 1025.5h1M203 1061.5h1M231 1015.5h1M254 1027.5h1M256 1034.5h1M229 1021.5h1M274 1003.5h1M227 1050.5h1M256 1028.5h1M229 1016.5h1M229 1056.5h1M237 1035.5h1M239 1027.5h1M216 1046.5h1M244 1038.5h1M264 1031.5h1M214 1070.5h1M216 1030.5h1M227 1046.5h1M246 1023.5h1M253 1021.5h1M260 1022.5h1M262 1033.5h1M221 1074.5h1M213 1043.5h1M200 1061.5h1M240 1020.5h1M253 1037.5h1M270 1052.5h1M248 1059.5h1M264 1015.5h1M219 1056.5h1M262 1024.5h1M205 1054.5h1M274 1002.5h1M241 1040.5h1M248 1021.5h1M231 1020.5h1M250 1020.5h1M267 1021.5h1M237 1033.5h1M217 1058.5h1M248 1034.5h1M233 1017.5h1M232 1028.5h1M221 1042.5h1M236 1023.5h1M226 1067.5h1M212 1035.5h1M236 1054.5h1M254 1039.5h1M283 1022.5h1M236 1029.5h1M247 1058.5h1M230 1049.5h1M240 1018.5h1M232 1029.5h1M254 1033.5h1M302 1002.5h1M203 999.5h1M232 1029.5h1M254 1034.5h1M220 1046.5h1M275 1034.5h1M254 1008.5h1M231 1026.5h1M223 1045.5h1M215 1005.5h1M213 1049.5h1M271 1046.5h1M236 1043.5h1M245 1048.5h1M249 1011.5h1M255 1043.5h1M251 1049.5h1M256 1023.5h1M282 1006.5h1M250 1029.5h1M211 1025.5h1M235 1040.5h1M217 1026.5h1M228 1040.5h1M253 1045.5h1M238 1028.5h1M252 1017.5h1M226 1070.5h1M224 1051.5h1M259 1029.5h1M229 1041.5h1M284 1011.5h1M236 1035.5h1M294 1018.5h1M237 1037.5h1M205 1040.5h1M275 1026.5h1M264 1054.5h1M252 999.5h1M203 1089.5h1M241 1042.5h1M240 1024.5h1M209 1047.5h1M216 1050.5h1M214 1036.5h1M278 1051.5h1M246 1061.5h1M222 1085.5h1M221 1075.5h1M218 1078.5h1M247 1069.5h1M236 1063.5h1M236 1066.5h1M229 1047.5h1M203 1083.5h1M214 1029.5h1M229 1101.5h1M235 1083.5h1M260 1090.5h1M230 1069.5h1M214 1086.5h1M210 1015.5h1M224 1085.5h1M229 1093.5h1M249 1083.5h1M228 1068.5h1M258 1054.5h1M211 1069.5h1M219 1089.5h1M197 1087.5h1M209 1080.5h1M231 1111.5h1M228 1042.5h1M210 1061.5h1M243 1062.5h1M231 1090.5h1M225 1100.5h1M217 1063.5h1M207 1042.5h1M260 1070.5h1M248 1076.5h1M228 1068.5h1M240 1056.5h1M257 1071.5h1M243 1053.5h1M227 1064.5h1M240 1035.5h1M215 1077.5h1M229 1052.5h1M209 1097.5h1M251 1080.5h1M221 1070.5h1M225 1122.5h1M203 1032.5h1M210 1083.5h1M218 1131.5h1" stroke="#000" stroke-width="1" fill="none" shape-rendering="crispEdges"/>
<path d="M171.5 1017C175.6 1017.5 181.9 1017.8 186.1 1020.7C190.3 1023.6 194.5 1028.8 196.7 1034.4C198.8 1039.9 199.1 1046.3 199 1054.2C198.9 1062.1 197.4 1072.4 196.1 1081.5C194.7 1090.6 192.5 1100.9 190.8 1108.8C189.2 1116.6 188.8 1123.2 186.1 1128.6C183.5 1134 175.6 1138 175 1141C174.4 1144 179.8 1145.2 182.4 1146.8C185 1148.4 188.4 1148.9 190.4 1150.5C192.5 1152.1 194 1154.2 194.7 1156.4C195.3 1158.6 195.3 1161.2 194.5 1163.6C193.7 1166.1 192 1168.8 189.8 1171.2C187.7 1173.5 184.7 1175.9 181.5 1177.8C178.3 1179.7 174.5 1181.4 170.8 1182.5C167 1183.7 162.9 1184.4 159.2 1184.6C155.5 1184.8 151.7 1184.5 148.6 1183.8C145.5 1183 142.6 1181.7 140.6 1180.1C138.5 1178.5 137 1176.4 136.3 1174.2C135.7 1172 135.7 1169.4 136.5 1167C137.3 1164.5 136.7 1163.8 141.2 1159.4C145.6 1155.1 161.8 1146.1 163 1141C164.2 1135.9 151.2 1134 148.1 1128.6C145 1123.2 145.8 1116.6 144.6 1108.8C143.4 1100.9 141.8 1090.6 141.1 1081.5C140.4 1072.4 140.1 1062.1 140.5 1054.2C140.9 1046.3 141.5 1039.7 143.4 1034.4C145.4 1029 149.2 1024.8 152.2 1022C155.2 1019.2 158.3 1018.4 161.6 1017.6C164.8 1016.8 167.4 1016.5 171.5 1017Z" fill="none" stroke="#000" stroke-width="1.9" stroke-linejoin="round"/>
<path d="M171.5 1020.4C175.3 1020.9 181.2 1021.2 185.1 1023.9C189 1026.6 192.9 1031.4 194.9 1036.6C196.9 1041.8 197.2 1047.7 197.1 1055C197 1062.3 195.6 1071.9 194.4 1080.4C193.1 1088.9 191 1098.5 189.5 1105.8C187.9 1113.1 187.8 1118.3 185.1 1124.2C182.4 1130.1 173.8 1137 173.2 1141C172.5 1145 178.6 1146.4 181.2 1148.1C183.8 1149.9 186.8 1150 188.7 1151.5C190.6 1153 192 1155 192.6 1157C193.2 1159 193.2 1161.5 192.4 1163.8C191.7 1166.1 190.1 1168.6 188.1 1170.8C186.1 1172.9 183.4 1175.2 180.4 1176.9C177.4 1178.7 173.9 1180.3 170.4 1181.3C166.9 1182.4 163.1 1183.1 159.6 1183.3C156.2 1183.5 152.7 1183.2 149.8 1182.5C146.9 1181.8 144.2 1180.6 142.3 1179.1C140.4 1177.6 139 1175.6 138.4 1173.6C137.8 1171.6 137.8 1169.1 138.6 1166.8C139.3 1164.5 138.5 1164.2 142.9 1159.8C147.2 1155.5 163.7 1146.9 164.8 1141C166 1135.1 152.8 1130.1 149.7 1124.2C146.7 1118.3 147.6 1113.1 146.5 1105.8C145.4 1098.5 143.8 1088.9 143.2 1080.4C142.6 1071.9 142.3 1062.3 142.7 1055C143 1047.7 143.6 1041.6 145.4 1036.6C147.2 1031.6 150.7 1027.6 153.6 1025C156.4 1022.4 159.3 1021.8 162.3 1021C165.2 1020.2 167.7 1019.9 171.5 1020.4Z" fill="none" stroke="#000" stroke-width="1.9" stroke-linejoin="round"/>
<path d="M169.5 1021.5C173.3 1021.5 177.5 1022.6 181 1026.1C184.5 1029.5 188.3 1036 190.3 1042.1C192.2 1048.2 192.6 1055.1 192.6 1062.7C192.5 1070.4 191.2 1079.5 189.8 1087.9C188.4 1096.3 186.6 1105.8 184.2 1113.1C181.9 1120.4 178.4 1127.6 175.9 1131.4C173.5 1135.2 171.6 1136 169.5 1136C167.3 1136 165.5 1135.2 163 1131.4C160.5 1127.6 157 1120.4 154.7 1113.1C152.4 1105.8 150.5 1096.3 149.1 1087.9C147.7 1079.5 146.4 1070.4 146.3 1062.7C146.3 1055.1 146.7 1048.2 148.7 1042.1C150.6 1036 154.4 1029.5 157.9 1026.1C161.4 1022.6 165.6 1021.5 169.5 1021.5Z" fill="none" stroke="#000" stroke-width="2.0" stroke-linejoin="round"/>
<path d="M169.7 1027.5C173.1 1027.5 176.8 1028.5 179.9 1031.5C182.9 1034.5 186.3 1040.1 188 1045.4C189.7 1050.6 190.1 1056.6 190 1063.2C190 1069.8 188.8 1077.7 187.6 1084.9C186.4 1092.2 184.8 1100.4 182.7 1106.7C180.7 1113 177.6 1119.2 175.4 1122.5C173.2 1125.8 171.6 1126.5 169.7 1126.5C167.8 1126.5 166.2 1125.8 164 1122.5C161.8 1119.2 158.7 1113 156.7 1106.7C154.7 1100.4 153 1092.2 151.8 1084.9C150.6 1077.7 149.4 1069.8 149.4 1063.2C149.3 1056.6 149.7 1050.6 151.4 1045.4C153.1 1040.1 156.5 1034.5 159.5 1031.5C162.6 1028.5 166.3 1027.5 169.7 1027.5Z" fill="none" stroke="#000" stroke-width="2.1" stroke-linejoin="round"/>
<path d="M169.9 1032.9C172.9 1032.9 176.2 1033.8 178.8 1036.3C181.5 1038.9 184.5 1043.7 185.9 1048.2C187.4 1052.8 187.8 1057.9 187.7 1063.6C187.7 1069.2 186.7 1076 185.6 1082.3C184.5 1088.5 183.1 1095.6 181.3 1101C179.5 1106.4 176.8 1111.8 174.9 1114.6C173 1117.5 171.6 1118 169.9 1118C168.3 1118 166.8 1117.5 164.9 1114.6C163 1111.8 160.3 1106.4 158.5 1101C156.8 1095.6 155.3 1088.5 154.3 1082.3C153.2 1076 152.2 1069.2 152.1 1063.6C152.1 1057.9 152.4 1052.8 153.9 1048.2C155.4 1043.7 158.4 1038.9 161 1036.3C163.7 1033.8 167 1032.9 169.9 1032.9Z" fill="none" stroke="#000" stroke-width="2.2" stroke-linejoin="round"/>
<path d="M170.2 1038.1C172.7 1038.1 175.5 1038.8 177.8 1041C180.1 1043.1 182.6 1047.2 183.9 1051C185.1 1054.9 185.5 1059.2 185.4 1063.9C185.4 1068.7 184.5 1074.5 183.6 1079.7C182.7 1085 181.4 1091 179.9 1095.5C178.4 1100 176 1104.6 174.4 1107C172.8 1109.4 171.6 1109.8 170.2 1109.8C168.7 1109.8 167.5 1109.4 165.9 1107C164.3 1104.6 161.9 1100 160.4 1095.5C158.9 1091 157.6 1085 156.7 1079.7C155.8 1074.5 155 1068.7 154.9 1063.9C154.9 1059.2 155.2 1054.9 156.4 1051C157.7 1047.2 160.2 1043.1 162.5 1041C164.8 1038.8 167.6 1038.1 170.2 1038.1Z" fill="none" stroke="#000" stroke-width="2.3" stroke-linejoin="round"/>
<path d="M170.4 1043.2C172.5 1043.2 174.8 1043.8 176.7 1045.5C178.6 1047.3 180.8 1050.6 181.8 1053.7C182.9 1056.9 183.1 1060.4 183.1 1064.3C183 1068.2 182.3 1072.9 181.6 1077.2C180.8 1081.5 179.8 1086.4 178.5 1090.2C177.2 1093.9 175.3 1097.6 173.9 1099.6C172.6 1101.5 171.6 1101.9 170.4 1101.9C169.2 1101.9 168.2 1101.5 166.8 1099.6C165.5 1097.6 163.5 1093.9 162.2 1090.2C161 1086.4 160 1081.5 159.2 1077.2C158.4 1072.9 157.7 1068.2 157.7 1064.3C157.6 1060.4 157.9 1056.9 158.9 1053.7C160 1050.6 162.1 1047.3 164 1045.5C165.9 1043.8 168.3 1043.2 170.4 1043.2Z" fill="none" stroke="#000" stroke-width="2.4" stroke-linejoin="round"/>
<path d="M170.6 1048.1C172.3 1048.1 174.2 1048.5 175.7 1049.9C177.2 1051.3 178.9 1053.9 179.8 1056.4C180.6 1058.8 180.8 1061.6 180.8 1064.7C180.7 1067.8 180.2 1071.4 179.5 1074.8C178.9 1078.2 178.1 1082.1 177.1 1085C176.1 1087.9 174.5 1090.8 173.4 1092.4C172.4 1093.9 171.6 1094.2 170.6 1094.2C169.7 1094.2 168.8 1093.9 167.8 1092.4C166.7 1090.8 165.1 1087.9 164.1 1085C163.1 1082.1 162.3 1078.2 161.7 1074.8C161 1071.4 160.5 1067.8 160.4 1064.7C160.4 1061.6 160.6 1058.8 161.5 1056.4C162.3 1053.9 164 1051.3 165.5 1049.9C167 1048.5 168.9 1048.1 170.6 1048.1Z" fill="none" stroke="#000" stroke-width="2.4" stroke-linejoin="round"/>
<path d="M170.8 1052.8C172.1 1052.8 173.5 1053.1 174.6 1054.2C175.8 1055.2 177.1 1057.1 177.7 1058.9C178.3 1060.7 178.5 1062.8 178.5 1065C178.4 1067.3 178 1070 177.5 1072.5C177.1 1075 176.5 1077.8 175.7 1080C174.9 1082.1 173.8 1084.3 173 1085.4C172.1 1086.6 171.5 1086.8 170.8 1086.8C170.1 1086.8 169.5 1086.6 168.7 1085.4C167.9 1084.3 166.7 1082.1 165.9 1080C165.2 1077.8 164.6 1075 164.1 1072.5C163.7 1070 163.2 1067.3 163.2 1065C163.2 1062.8 163.3 1060.7 164 1058.9C164.6 1057.1 165.9 1055.2 167 1054.2C168.2 1053.1 169.6 1052.8 170.8 1052.8Z" fill="none" stroke="#000" stroke-width="2.3" stroke-linejoin="round"/>
<path d="M171.1 1058.2C171.9 1058.2 172.7 1058.4 173.4 1059C174.1 1059.6 174.9 1060.7 175.3 1061.8C175.6 1062.9 175.7 1064.1 175.7 1065.4C175.7 1066.8 175.4 1068.4 175.2 1069.9C174.9 1071.3 174.5 1073 174 1074.3C173.6 1075.6 172.9 1076.8 172.4 1077.5C171.9 1078.2 171.5 1078.3 171.1 1078.3C170.7 1078.3 170.3 1078.2 169.8 1077.5C169.3 1076.8 168.6 1075.6 168.1 1074.3C167.7 1073 167.3 1071.3 167 1069.9C166.7 1068.4 166.5 1066.8 166.5 1065.4C166.5 1064.1 166.5 1062.9 166.9 1061.8C167.3 1060.7 168.1 1059.6 168.8 1059C169.5 1058.4 170.3 1058.2 171.1 1058.2Z" fill="none" stroke="#000" stroke-width="2.2" stroke-linejoin="round"/>
<path d="M190.9 1157.5C191.5 1159.5 191.4 1161.7 190.7 1163.9C190 1166 188.6 1168.4 186.7 1170.4C184.8 1172.5 182.2 1174.5 179.4 1176.2C176.7 1177.8 173.3 1179.3 170.1 1180.3C166.8 1181.3 163.2 1181.9 160 1182.1C156.8 1182.3 153.5 1182 150.8 1181.4C148.1 1180.7 145.6 1179.6 143.8 1178.2C142 1176.8 140.7 1175 140.1 1173.1C139.5 1171.1 139.6 1168.9 140.3 1166.7C141 1164.6 142.4 1162.2 144.3 1160.2C146.2 1158.1 148.8 1156.1 151.6 1154.4C154.3 1152.8 157.7 1151.3 160.9 1150.3C164.2 1149.3 167.8 1148.7 171 1148.5C174.2 1148.3 177.5 1148.6 180.2 1149.2C182.9 1149.9 185.4 1151 187.2 1152.4C189 1153.8 190.3 1155.6 190.9 1157.5Z" fill="#000" stroke="#000" stroke-width="1.2" stroke-linejoin="round"/>
<path d="M175 1163.7C175.4 1164.6 175.3 1165.7 174.9 1166.7C174.4 1167.7 173.5 1168.8 172.4 1169.7C171.4 1170.6 169.9 1171.5 168.4 1172C167 1172.6 165.3 1173 163.9 1173C162.5 1173.1 161.1 1172.8 160.1 1172.4C159.1 1171.9 158.3 1171.1 158 1170.3C157.6 1169.4 157.7 1168.3 158.1 1167.3C158.6 1166.3 159.5 1165.2 160.6 1164.3C161.6 1163.4 163.1 1162.5 164.6 1162C166 1161.4 167.7 1161 169.1 1161C170.5 1160.9 171.9 1161.2 172.9 1161.6C173.9 1162.1 174.7 1162.9 175 1163.7Z" fill="#fff" stroke="#fff" stroke-width="1.0" stroke-linejoin="round"/>
<rect x="100.3" y="972.1" width="236.8" height="236.1" fill="none" stroke="#000" stroke-width="2"/>
<line x1="202.8" y1="972.1" x2="202.8" y2="1208.2" stroke="#000" stroke-width="2"/>
<line x1="100.3" y1="1139.4" x2="337.1" y2="1139.4" stroke="#000" stroke-width="2"/>
<path d="M198.2 1208.2v3.5M208.3 1208.2v3.5M215.5 1208.2v3.5M221.1 1208.2v3.5M225.7 1208.2v3.5M229.6 1208.2v3.5M232.9 1208.2v3.5M235.9 1208.2v3.5M253.6 1208.2v3.5M262.4 1208.2v3.5M268.6 1208.2v3.5M273.4 1208.2v3.5M277.4 1208.2v3.5M280.8 1208.2v3.5M283.7 1208.2v3.5M286.2 1208.2v3.5M302.9 1208.2v3.5M311.3 1208.2v3.5M317.3 1208.2v3.5M321.9 1208.2v3.5M325.7 1208.2v3.5M328.9 1208.2v3.5M331.7 1208.2v3.5M334.1 1208.2v3.5M124.3 1208.2v3.5M128.3 1208.2v3.5M132.3 1208.2v3.5M135.3 1208.2v3.5M138.3 1208.2v3.5M140.8 1208.2v3.5M142.8 1208.2v3.5M144.3 1208.2v3.5M145.8 1208.2v3.5M153.3 1208.2v3.5M154.8 1208.2v3.5M156.8 1208.2v3.5M158.8 1208.2v3.5M161.3 1208.2v3.5M164.3 1208.2v3.5M167.3 1208.2v3.5M171.3 1208.2v3.5M175.3 1208.2v3.5M119.1 1208.2v6M180.8 1208.2v6M238.5 1208.2v6M288.5 1208.2v6M336.3 1208.2v6M100.3 1117.7h-3.5M100.3 1049.8h-3.5M100.3 1105.5h-3.5M100.3 1038.5h-3.5M100.3 1096.8h-3.5M100.3 1030.4h-3.5M100.3 1090.1h-3.5M100.3 1024.2h-3.5M100.3 1084.5h-3.5M100.3 1019.1h-3.5M100.3 1079.9h-3.5M100.3 1014.8h-3.5M100.3 1075.8h-3.5M100.3 1011.1h-3.5M100.3 1072.3h-3.5M100.3 1007.8h-3.5M100.3 986.2h-3.5M100.3 975.3h-3.5M100.3 1143.1h-3.5M100.3 1147.1h-3.5M100.3 1151.1h-3.5M100.3 1155.1h-3.5M100.3 1158.6h-3.5M100.3 1166.1h-3.5M100.3 1169.6h-3.5M100.3 1172.6h-3.5M100.3 1175.1h-3.5M100.3 1183.1h-3.5M100.3 1185.6h-3.5M100.3 1188.6h-3.5M100.3 1192.1h-3.5M100.3 1201.1h-3.5M100.3 1205.1h-3.5M100.3 1004.9h-6M100.3 1069.1h-6M100.3 1138.7h-6M100.3 1162.1h-6M100.3 1196.1h-6" stroke="#000" stroke-width="1.2" fill="none"/>
<path d="M149.7 1208.2v7M100.3 1179.1h-7" stroke="#000" stroke-width="4" fill="none"/>
<text x="102.8" y="994.6" font-size="23.5">67.8</text>
<text x="334.1" y="994.6" font-size="23.5" text-anchor="end">6.75</text>
<text x="102.8" y="1205.2" font-size="23.5">25.3</text>
</g>
<g>
<path d="M381 1055.5h1M373 1172.5h1M372 1074.5h1M382 1049.5h1M441 1063.5h1M384 1124.5h1M375 1044.5h1M432 1153.5h1M385 1114.5h1M369 1131.5h1M382 1142.5h1M435 1187.5h1M443 1133.5h1M435 1058.5h1M408 1191.5h1M387 1043.5h1M434 1138.5h1M426 1152.5h1M409 1199.5h1M431 1102.5h1M431 1118.5h1M377 1169.5h1M386 1037.5h1M440 1040.5h1M430 1145.5h1M380 1137.5h1M436 1070.5h1M444 1046.5h1M375 1167.5h1M378 1138.5h1M426 1031.5h1M376 1148.5h1M441 1169.5h1M363 1128.5h1M384 1139.5h1M436 1050.5h1M385 1120.5h1M429 1143.5h1M439 1091.5h1M368 1060.5h1M394 1027.5h1M394 1142.5h1M375 1094.5h1M441 1190.5h1M447 1039.5h1M382 1131.5h1M445 1130.5h1M386 1124.5h1M370 1107.5h1M434 1149.5h1M365 1171.5h1M381 1119.5h1M445 1181.5h1M431 1021.5h1M464 1179.5h1M414 1020.5h1M440 1094.5h1M438 1191.5h1M443 1136.5h1M411 1196.5h1M393 1019.5h1M384 1149.5h1M401 1029.5h1M366 1172.5h1M443 1158.5h1M443 1135.5h1M384 1022.5h1M437 1180.5h1M434 1190.5h1M383 1041.5h1M390 1035.5h1M448 1119.5h1M434 1090.5h1M434 1080.5h1M438 1107.5h1M431 1152.5h1M440 1164.5h1M435 1188.5h1M379 1084.5h1M423 1192.5h1M457 1194.5h1M384 1138.5h1M426 1146.5h1M367 1185.5h1M372 1184.5h1M417 1021.5h1M445 1154.5h1M387 1106.5h1M450 1176.5h1M437 1188.5h1M456 1025.5h1M434 1146.5h1M437 1156.5h1M377 1149.5h1M447 1160.5h1M416 1193.5h1M415 1011.5h1M385 1029.5h1M360 1067.5h1M382 1063.5h1M433 1097.5h1M434 1139.5h1M421 1027.5h1M408 1023.5h1M438 1133.5h1M385 1037.5h1M370 1169.5h1M425 1143.5h1M384 1154.5h1M445 1187.5h1M432 1132.5h1M438 1122.5h1M381 1054.5h1M375 1169.5h1M425 1017.5h1M436 1129.5h1M455 1082.5h1M372 1162.5h1M389 1035.5h1M434 1126.5h1M371 1185.5h1M440 1135.5h1M428 1152.5h1M437 1183.5h1M412 1014.5h1M394 1026.5h1M373 1169.5h1M425 1137.5h1M447 1149.5h1M428 1189.5h1M386 1139.5h1M394 1018.5h1M432 1134.5h1M388 1127.5h1M420 1197.5h1M435 1174.5h1M433 1112.5h1M434 1134.5h1M376 1185.5h1M441 1171.5h1M413 1023.5h1M446 1060.5h1M454 1085.5h1M441 1046.5h1M383 1057.5h1M365 1183.5h1M365 1184.5h1M431 1129.5h1M429 1144.5h1M385 1046.5h1M435 1145.5h1M382 1151.5h1M360 1178.5h1M437 1135.5h1M406 1025.5h1M370 1162.5h1M440 1174.5h1M378 1050.5h1M432 1140.5h1M426 1148.5h1M370 1169.5h1M441 1172.5h1M432 1147.5h1M386 1118.5h1M386 1025.5h1M438 1077.5h1M425 1145.5h1M391 1144.5h1M440 1177.5h1M405 1028.5h1M368 1179.5h1M373 1059.5h1M412 1024.5h1M376 1161.5h1M435 1080.5h1M369 1076.5h1M404 1196.5h1M403 1029.5h1M390 1140.5h1M440 1112.5h1M433 1152.5h1M381 1048.5h1M448 1109.5h1M449 1161.5h1M376 1045.5h1M387 1129.5h1M389 1143.5h1M443 1169.5h1M377 1060.5h1M383 1039.5h1M429 1152.5h1M375 1084.5h1M398 1022.5h1M376 1154.5h1M383 1045.5h1M416 1193.5h1M433 1197.5h1M380 1085.5h1M385 1037.5h1M429 1191.5h1M383 1119.5h1M439 1165.5h1M410 1021.5h1M375 1046.5h1M418 1190.5h1M377 1171.5h1M427 1129.5h1M443 1183.5h1M379 1148.5h1M401 1203.5h1M433 1038.5h1M381 1026.5h1M381 1141.5h1M430 1145.5h1M377 1168.5h1M401 1195.5h1M375 1170.5h1M444 1138.5h1M456 1105.5h1M438 1083.5h1M383 1128.5h1M429 1114.5h1M421 1189.5h1M384 1122.5h1M444 1022.5h1M365 1181.5h1M431 1147.5h1M423 1030.5h1M420 1190.5h1M379 1050.5h1M455 1033.5h1M435 1137.5h1M443 1111.5h1M373 1168.5h1M412 1194.5h1M439 1099.5h1M400 1195.5h1M419 1198.5h1M426 1148.5h1M390 1141.5h1M362 1157.5h1M381 1038.5h1M376 1073.5h1M439 1157.5h1M388 1123.5h1M381 1143.5h1M429 1134.5h1M407 1195.5h1M424 1008.5h1M419 1203.5h1M412 1194.5h1M405 1022.5h1M428 1125.5h1M423 1193.5h1M437 1178.5h1M437 1171.5h1M374 1089.5h1M437 1147.5h1M369 1178.5h1M427 1030.5h1M380 1119.5h1M428 1033.5h1M386 1148.5h1M440 1167.5h1M394 1032.5h1M428 1153.5h1M429 1191.5h1M366 1160.5h1M385 1140.5h1M386 1047.5h1M378 1089.5h1M425 1029.5h1M442 1109.5h1M372 1077.5h1M374 1169.5h1M380 1084.5h1M385 1137.5h1M436 1028.5h1M424 1150.5h1M453 1067.5h1M441 1133.5h1M430 1148.5h1M403 1025.5h1M390 1026.5h1M379 1109.5h1M375 1060.5h1M374 1014.5h1M379 1146.5h1M386 1153.5h1M381 1030.5h1M436 1127.5h1M363 1170.5h1M392 1137.5h1M365 1166.5h1M446 1063.5h1M375 1183.5h1M433 1194.5h1M428 1153.5h1M381 1040.5h1M451 1166.5h1M434 1135.5h1M428 1130.5h1M362 1179.5h1M432 1138.5h1M436 1130.5h1M433 1125.5h1M451 1173.5h1M401 1199.5h1M428 1146.5h1M432 1035.5h1M441 1114.5h1M447 1035.5h1M409 1002.5h1M432 1129.5h1M428 1149.5h1M436 1196.5h1M388 1131.5h1M435 1085.5h1M425 1199.5h1M447 1153.5h1M428 1016.5h1M392 1030.5h1M408 1018.5h1M442 1140.5h1M386 1109.5h1M381 1019.5h1M360 1096.5h1M442 1146.5h1M421 1191.5h1M442 1065.5h1M429 1147.5h1M433 1133.5h1M432 1143.5h1M421 1189.5h1M435 1043.5h1M442 1037.5h1M409 1029.5h1M442 1187.5h1M380 1034.5h1M392 1137.5h1M451 1097.5h1M435 1147.5h1M440 1055.5h1M437 1158.5h1M443 1110.5h1M445 1146.5h1M415 1012.5h1M439 1100.5h1M432 1149.5h1M366 1053.5h1M419 1193.5h1M435 1151.5h1M431 1139.5h1M429 1151.5h1M377 1159.5h1M398 1026.5h1M373 1153.5h1M436 1034.5h1M442 1128.5h1M385 1044.5h1M393 1137.5h1M447 1061.5h1M434 1187.5h1M384 1049.5h1M403 1025.5h1M444 1158.5h1M402 1200.5h1M373 1164.5h1M372 1173.5h1M366 1047.5h1M383 1142.5h1M439 1081.5h1M441 1168.5h1M404 1205.5h1M389 1038.5h1M430 1148.5h1M361 1168.5h1M376 1181.5h1M359 1171.5h1M375 1125.5h1M429 1119.5h1M384 1120.5h1M380 1139.5h1M410 1204.5h1M409 1021.5h1M433 1137.5h1M388 1136.5h1M364 1111.5h1M370 1036.5h1M448 1182.5h1M438 1067.5h1M413 1201.5h1M377 1164.5h1M373 1160.5h1M369 1160.5h1M431 1130.5h1M388 1151.5h1M389 1139.5h1M376 1024.5h1M406 1191.5h1M408 1029.5h1M361 1166.5h1M432 1147.5h1M440 1199.5h1M398 1028.5h1M366 1180.5h1M385 1148.5h1M440 1163.5h1M378 1120.5h1M370 1170.5h1M420 1029.5h1M438 1049.5h1M442 1054.5h1M380 1071.5h1M378 1091.5h1M391 1041.5h1M373 1164.5h1M449 1062.5h1M442 1150.5h1M381 1081.5h1M389 1140.5h1M380 1147.5h1M469 1185.5h1M409 1191.5h1M432 1148.5h1M384 1123.5h1M383 1036.5h1M422 1194.5h1M384 1023.5h1M373 1185.5h1M437 1132.5h1M391 1132.5h1M393 1020.5h1M428 1128.5h1M386 1151.5h1M419 1024.5h1M384 1086.5h1M437 1105.5h1M367 1183.5h1M399 1021.5h1M425 1027.5h1M427 1149.5h1M373 1063.5h1M412 1191.5h1M394 1138.5h1M437 1148.5h1M396 1027.5h1M377 1031.5h1M452 1162.5h1M435 1157.5h1M445 1179.5h1M390 1130.5h1M448 1063.5h1M378 1060.5h1M362 1167.5h1M442 1073.5h1M379 1119.5h1M395 1032.5h1M436 1093.5h1M406 1024.5h1M403 1017.5h1M434 1040.5h1M443 1042.5h1M439 1080.5h1M444 1063.5h1M423 1025.5h1M453 1165.5h1M367 1175.5h1M445 1154.5h1M440 1189.5h1M428 1145.5h1M371 1176.5h1M374 1169.5h1M439 1183.5h1M384 1066.5h1M384 1139.5h1M380 1046.5h1M430 1138.5h1M392 1016.5h1M434 1180.5h1M443 1170.5h1M382 1082.5h1M382 1140.5h1M433 1188.5h1M436 1141.5h1M392 1141.5h1M437 1090.5h1M439 1032.5h1M426 1152.5h1M375 1098.5h1M384 1051.5h1M409 1203.5h1M417 1025.5h1M441 1113.5h1M375 1038.5h1M446 1032.5h1M431 1143.5h1M436 1202.5h1M376 1056.5h1M436 1151.5h1M375 1141.5h1M435 1054.5h1M441 1134.5h1M372 1179.5h1M414 1013.5h1M436 1179.5h1M380 1033.5h1M436 1138.5h1M375 1080.5h1M434 1033.5h1M420 1026.5h1M365 1079.5h1M453 1163.5h1M441 1020.5h1M431 1151.5h1M412 1027.5h1M453 1155.5h1M441 1076.5h1M376 1050.5h1M377 1109.5h1M373 1126.5h1M435 1133.5h1M400 1032.5h1M440 1053.5h1M436 1184.5h1M452 1158.5h1M383 1131.5h1M438 1139.5h1M371 1082.5h1M386 1130.5h1M439 1195.5h1M429 1138.5h1M374 1145.5h1M370 1054.5h1M377 1139.5h1M450 1160.5h1M386 1050.5h1M404 1029.5h1M382 1143.5h1M374 1066.5h1M433 1096.5h1M449 1152.5h1M377 1059.5h1M438 1125.5h1M406 1197.5h1M439 1015.5h1M372 1178.5h1M400 1020.5h1M382 1133.5h1M374 1161.5h1M431 1115.5h1M380 1078.5h1M458 1175.5h1M382 1138.5h1M418 1023.5h1M376 1184.5h1M372 1039.5h1M442 1151.5h1M408 1195.5h1M438 1149.5h1M410 1194.5h1M441 1149.5h1M400 1020.5h1M441 1071.5h1M439 1172.5h1M441 1047.5h1M384 1135.5h1M447 1153.5h1M380 1074.5h1M388 1139.5h1M457 1079.5h1M428 1140.5h1M390 1034.5h1M430 1021.5h1M362 1166.5h1M434 1157.5h1M397 1032.5h1M386 1132.5h1M438 1141.5h1M437 1172.5h1M432 1109.5h1M409 1025.5h1M439 1178.5h1M438 1033.5h1M431 1128.5h1M370 1168.5h1M375 1127.5h1M426 1140.5h1M359 1174.5h1M428 1149.5h1M389 1038.5h1M385 1056.5h1M412 1013.5h1M377 1143.5h1M436 1138.5h1M433 1099.5h1M383 1100.5h1M378 1080.5h1M440 1047.5h1M437 1062.5h1M436 1078.5h1M405 1195.5h1M433 1191.5h1M432 1190.5h1M429 1142.5h1M434 1153.5h1M439 1028.5h1M418 1191.5h1M382 1033.5h1M381 1046.5h1M376 1170.5h1M427 1142.5h1M389 1138.5h1M446 1074.5h1M378 1154.5h1M446 1102.5h1M388 1038.5h1M440 1112.5h1M421 1191.5h1M371 1157.5h1M447 1148.5h1M412 1191.5h1M399 1023.5h1M401 1196.5h1M438 1066.5h1M453 1180.5h1M363 1165.5h1M448 1163.5h1M447 1189.5h1M404 1197.5h1M387 1046.5h1M365 1089.5h1M391 1038.5h1M407 1019.5h1M436 1154.5h1M438 1154.5h1M382 1082.5h1M441 1160.5h1M445 1132.5h1M356 1121.5h1M376 1141.5h1M364 1176.5h1M449 1165.5h1M437 1178.5h1M380 1038.5h1M394 1018.5h1M442 1159.5h1M439 1130.5h1M431 1152.5h1M377 1083.5h1M409 1014.5h1M396 1032.5h1M432 1147.5h1M425 1140.5h1M435 1144.5h1M453 1176.5h1M427 1187.5h1M381 1161.5h1M373 1140.5h1M384 1055.5h1M395 1032.5h1M407 1029.5h1M435 1154.5h1M421 1029.5h1M429 1132.5h1M386 1149.5h1M415 1020.5h1M438 1109.5h1M427 1182.5h1M438 1146.5h1M392 1033.5h1M435 1052.5h1M390 1028.5h1M403 1204.5h1M442 1184.5h1M443 1171.5h1M382 1161.5h1M466 1143.5h1M441 1051.5h1M381 1086.5h1M390 1142.5h1M438 1040.5h1M450 1153.5h1M445 1066.5h1M405 1193.5h1M394 1137.5h1M380 1111.5h1M423 1018.5h1M441 1092.5h1M446 1124.5h1M431 1148.5h1M385 1124.5h1M436 1157.5h1M383 1075.5h1M379 1097.5h1M434 1134.5h1M403 1195.5h1M416 1005.5h1M381 1116.5h1M371 1064.5h1M432 1179.5h1M451 1056.5h1M428 1187.5h1M441 1129.5h1M374 1093.5h1M388 1116.5h1M383 1070.5h1M414 1202.5h1M421 1198.5h1M428 1147.5h1M436 1041.5h1M445 1095.5h1M461 1149.5h1M369 1175.5h1M387 1123.5h1M431 1191.5h1M427 1192.5h1M427 1200.5h1M453 1068.5h1M372 1080.5h1M436 1068.5h1M429 1150.5h1M383 1105.5h1M408 1191.5h1M430 1126.5h1M411 1024.5h1M375 1147.5h1M397 1029.5h1M416 1029.5h1M438 1060.5h1M402 1007.5h1M440 1067.5h1M424 1021.5h1M427 1153.5h1M426 1201.5h1M450 1042.5h1M444 1110.5h1M373 1110.5h1M454 1060.5h1M432 1142.5h1M429 1135.5h1M395 1023.5h1M436 1186.5h1M381 1021.5h1M448 1040.5h1M414 1023.5h1M383 1139.5h1M441 1062.5h1M380 1044.5h1M426 1027.5h1M425 1131.5h1M384 1142.5h1M426 1136.5h1M410 1027.5h1M430 1186.5h1M383 1049.5h1M383 1044.5h1M391 1020.5h1M376 1166.5h1M378 1138.5h1M437 1171.5h1M383 1083.5h1M428 1133.5h1M410 1026.5h1M433 1132.5h1M384 1039.5h1M432 1117.5h1M416 1196.5h1M387 1020.5h1M432 1149.5h1M425 1151.5h1M437 1133.5h1M429 1189.5h1M380 1159.5h1M438 1063.5h1M385 1150.5h1M384 1125.5h1M400 1010.5h1M427 1134.5h1M379 1047.5h1M373 1165.5h1M413 1027.5h1M446 1172.5h1M379 1044.5h1M383 1048.5h1M444 1080.5h1M430 1039.5h1M419 1201.5h1M430 1137.5h1M383 1055.5h1M450 1201.5h1M400 1019.5h1M401 1010.5h1M374 1137.5h1M426 1135.5h1M390 1140.5h1M446 1144.5h1M392 1035.5h1M430 1181.5h1M388 1034.5h1M372 1093.5h1M432 1148.5h1M375 1141.5h1M422 1029.5h1M398 1025.5h1M443 1183.5h1M430 1034.5h1M401 1194.5h1M374 1137.5h1M360 1085.5h1M405 1023.5h1M437 1093.5h1M429 1146.5h1M383 1146.5h1M446 1156.5h1M381 1117.5h1M438 1068.5h1M380 1133.5h1M429 1122.5h1M383 1133.5h1M411 1027.5h1M367 1155.5h1M426 1148.5h1M439 1109.5h1M426 1124.5h1M394 1006.5h1M431 1141.5h1M445 1163.5h1M438 1197.5h1M425 1032.5h1M367 1163.5h1M382 1106.5h1M381 1089.5h1M415 1027.5h1M373 1169.5h1M442 1120.5h1M430 1183.5h1M416 1025.5h1M371 1173.5h1M402 1200.5h1M396 1023.5h1M382 1140.5h1M363 1157.5h1M386 1043.5h1M358 1154.5h1M456 1064.5h1M449 1153.5h1M440 1168.5h1M390 1033.5h1M377 1170.5h1M444 1179.5h1M433 1122.5h1M441 1173.5h1M434 1094.5h1M389 1139.5h1M438 1150.5h1M376 1132.5h1M376 1181.5h1M429 1148.5h1M372 1168.5h1M386 1029.5h1M443 1157.5h1M444 1174.5h1M433 1137.5h1M420 1024.5h1M448 1176.5h1M384 1115.5h1M445 1040.5h1M364 1177.5h1M432 1142.5h1M447 1174.5h1M381 1073.5h1M435 1047.5h1M431 1188.5h1M393 1025.5h1M426 1142.5h1M425 1129.5h1M393 1035.5h1M423 1186.5h1M444 1047.5h1M366 1102.5h1M400 1197.5h1M437 1124.5h1M440 1152.5h1M384 1103.5h1M422 1194.5h1M372 1126.5h1M440 1145.5h1M383 1087.5h1M435 1121.5h1M437 1152.5h1M374 1096.5h1M397 1030.5h1M358 1170.5h1M442 1150.5h1M390 1129.5h1M369 1085.5h1M397 1022.5h1M380 1035.5h1M387 1040.5h1M388 1118.5h1M453 1078.5h1M442 1157.5h1M386 1060.5h1M372 1167.5h1M452 1157.5h1M440 1132.5h1M402 1013.5h1M441 1076.5h1M370 1179.5h1M421 1014.5h1M370 1136.5h1M389 1139.5h1M402 1024.5h1M442 1149.5h1M439 1154.5h1M399 1026.5h1M453 1151.5h1M442 1157.5h1M416 1024.5h1M447 1060.5h1M435 1179.5h1M428 1187.5h1M414 1015.5h1M403 1023.5h1M381 1060.5h1M428 1148.5h1M446 1158.5h1M426 1139.5h1M445 1099.5h1M385 1143.5h1M367 1069.5h1M444 1030.5h1M457 1081.5h1M375 1156.5h1M430 1187.5h1M445 1087.5h1M366 1173.5h1M388 1125.5h1M368 1055.5h1M386 1042.5h1M382 1085.5h1M431 1185.5h1M388 1130.5h1M432 1189.5h1M433 1111.5h1M433 1142.5h1M374 1081.5h1M445 1165.5h1M441 1173.5h1M355 1171.5h1M386 1141.5h1M374 1134.5h1M446 1136.5h1M450 1140.5h1M410 1025.5h1M363 1175.5h1M441 1045.5h1M406 1023.5h1M443 1168.5h1M414 1012.5h1M364 1165.5h1M438 1035.5h1M434 1150.5h1M430 1107.5h1M382 1147.5h1M432 1153.5h1M436 1134.5h1M370 1176.5h1M438 1084.5h1M381 1055.5h1M421 1022.5h1M400 1021.5h1M373 1086.5h1M377 1095.5h1M384 1138.5h1M363 1157.5h1M428 1032.5h1M368 1157.5h1M442 1110.5h1M430 1037.5h1M419 1200.5h1M439 1131.5h1M384 1140.5h1M439 1153.5h1M368 1180.5h1M402 1017.5h1M414 1202.5h1M392 1035.5h1M430 1122.5h1M434 1131.5h1M442 1040.5h1M381 1044.5h1M387 1125.5h1M378 1076.5h1M436 1130.5h1M373 1164.5h1M448 1179.5h1M410 1195.5h1M441 1117.5h1M439 1200.5h1M419 1017.5h1M436 1129.5h1M374 1185.5h1M431 1194.5h1M444 1049.5h1M380 1017.5h1M425 1194.5h1M415 1204.5h1M436 1126.5h1M383 1124.5h1M400 1191.5h1M371 1170.5h1M442 1175.5h1M371 1157.5h1M401 1016.5h1M387 1026.5h1M432 1033.5h1M368 1167.5h1M377 1161.5h1M445 1134.5h1M402 1197.5h1M431 1135.5h1M388 1124.5h1M382 1085.5h1M424 1031.5h1M430 1140.5h1M410 1201.5h1M382 1082.5h1M439 1031.5h1M400 1195.5h1M441 1149.5h1M373 1156.5h1M361 1166.5h1M386 1124.5h1M436 1054.5h1M420 1012.5h1M380 1144.5h1M413 1201.5h1M375 1088.5h1M368 1049.5h1M416 1020.5h1M426 1021.5h1M404 1006.5h1M394 1016.5h1M433 1027.5h1M445 1128.5h1M387 1139.5h1M442 1109.5h1M390 1034.5h1M420 1028.5h1M433 1182.5h1M434 1089.5h1M381 1072.5h1M385 1048.5h1M431 1120.5h1M440 1031.5h1M435 1111.5h1M443 1104.5h1M383 1156.5h1M426 1016.5h1M443 1100.5h1M414 1027.5h1M436 1141.5h1M432 1182.5h1M445 1138.5h1M407 1022.5h1M419 1017.5h1M382 1158.5h1M426 1187.5h1M372 1176.5h1M412 1025.5h1M440 1175.5h1M435 1096.5h1M387 1047.5h1M439 1052.5h1M383 1090.5h1M378 1029.5h1M430 1204.5h1M397 1021.5h1M365 1132.5h1M406 1009.5h1M416 1194.5h1M432 1184.5h1M393 1032.5h1M433 1149.5h1M440 1075.5h1M387 1129.5h1M383 1077.5h1M412 1199.5h1M440 1043.5h1M440 1166.5h1M436 1185.5h1M427 1138.5h1M429 1143.5h1M414 1201.5h1M441 1105.5h1M444 1185.5h1M427 1136.5h1M426 1123.5h1M387 1131.5h1M379 1081.5h1M402 1205.5h1M378 1067.5h1M363 1103.5h1M428 1152.5h1M364 1163.5h1M439 1057.5h1M442 1146.5h1M433 1144.5h1M445 1132.5h1M405 1198.5h1M428 1137.5h1M432 1097.5h1M442 1091.5h1M429 1144.5h1M382 1085.5h1M380 1103.5h1M429 1117.5h1M438 1154.5h1M435 1150.5h1M428 1134.5h1M372 1181.5h1M426 1140.5h1M364 1156.5h1M447 1072.5h1M431 1185.5h1M427 1020.5h1M374 1083.5h1M434 1128.5h1M424 1192.5h1M428 1137.5h1M442 1142.5h1M402 1020.5h1M433 1186.5h1M441 1147.5h1M433 1027.5h1M419 1020.5h1M443 1178.5h1M447 1172.5h1M381 1128.5h1M369 1134.5h1M406 1022.5h1M430 1133.5h1M449 1047.5h1M433 1146.5h1M437 1032.5h1M416 1188.5h1M451 1170.5h1M429 1139.5h1M376 1102.5h1M431 1129.5h1M432 1179.5h1M394 1029.5h1M384 1126.5h1M371 1161.5h1M374 1167.5h1M415 1190.5h1M379 1089.5h1M351 1171.5h1M429 1134.5h1M424 1016.5h1M375 1066.5h1M374 1122.5h1M351 1168.5h1M442 1113.5h1M388 1146.5h1M435 1141.5h1M420 1188.5h1M449 1071.5h1M387 1025.5h1M375 1177.5h1M445 1050.5h1M450 1121.5h1M356 1074.5h1M415 1199.5h1M428 1191.5h1M394 1024.5h1M446 1157.5h1M419 1201.5h1M448 1183.5h1M379 1152.5h1M396 1029.5h1M383 1039.5h1M451 1170.5h1M437 1126.5h1M441 1149.5h1M462 1105.5h1M374 1181.5h1M377 1106.5h1M438 1170.5h1M427 1127.5h1M419 1009.5h1M413 1197.5h1M414 1019.5h1M439 1114.5h1M432 1130.5h1M372 1055.5h1M368 1095.5h1M455 1138.5h1M448 1053.5h1M435 1122.5h1M441 1111.5h1M391 1019.5h1M439 1162.5h1M436 1182.5h1M431 1185.5h1M425 1184.5h1M399 1028.5h1M408 1204.5h1M446 1161.5h1M432 1142.5h1M438 1136.5h1M432 1032.5h1M440 1056.5h1M361 1179.5h1M390 1042.5h1M441 1115.5h1M422 1017.5h1M428 1119.5h1M370 1177.5h1M434 1098.5h1M439 1101.5h1M434 1026.5h1M438 1056.5h1M432 1123.5h1M428 1187.5h1M380 1140.5h1M383 1151.5h1M455 1145.5h1M433 1150.5h1M409 1202.5h1M449 1075.5h1M390 1128.5h1M410 1030.5h1M459 1163.5h1M427 1145.5h1M431 1149.5h1M426 1146.5h1M390 1025.5h1M404 1205.5h1M434 1038.5h1M378 1068.5h1M386 1027.5h1M444 1172.5h1M441 1164.5h1M381 1030.5h1M394 1031.5h1M387 1041.5h1M434 1156.5h1M408 1029.5h1M370 1081.5h1M433 1144.5h1M427 1151.5h1M399 1019.5h1M451 1153.5h1M384 1119.5h1M374 1166.5h1M414 1195.5h1M392 1036.5h1M429 1148.5h1M447 1110.5h1M441 1169.5h1M429 1028.5h1M393 1023.5h1M393 1029.5h1M430 1122.5h1M431 1141.5h1M440 1035.5h1M453 1033.5h1M436 1046.5h1M411 1196.5h1M431 1128.5h1M369 1181.5h1M420 1021.5h1M440 1065.5h1M447 1180.5h1M446 1136.5h1M431 1028.5h1M420 1015.5h1M413 1021.5h1M377 1082.5h1M371 1163.5h1M440 1189.5h1M441 1133.5h1M399 1029.5h1M428 1145.5h1M431 1138.5h1M451 1144.5h1M353 1182.5h1M445 1081.5h1M374 1142.5h1M435 1121.5h1M448 1092.5h1M374 1168.5h1M383 1060.5h1M446 1073.5h1M450 1123.5h1M376 1055.5h1M414 1027.5h1M396 1032.5h1M387 1128.5h1M383 1065.5h1M385 1151.5h1M483 987.5h1M515 1028.5h1M542 1035.5h1M482 988.5h1M483 1013.5h1M452 1016.5h1M520 1001.5h1M487 1000.5h1M498 1036.5h1M522 1014.5h1M495 1017.5h1M537 1015.5h1M440 1049.5h1M440 1046.5h1M466 1023.5h1M499 1071.5h1M462 1003.5h1M490 1011.5h1M462 1045.5h1M494 1020.5h1M446 1073.5h1M491 1043.5h1M517 1014.5h1M520 1025.5h1M485 1064.5h1M456 1065.5h1M462 1010.5h1M462 1056.5h1M515 1067.5h1M485 1054.5h1M471 1084.5h1M533 1043.5h1M501 1044.5h1M471 1044.5h1M497 1001.5h1M478 1041.5h1M460 1043.5h1M484 1039.5h1M471 1058.5h1M485 1046.5h1M510 1009.5h1M517 1033.5h1M484 1039.5h1M505 1009.5h1M546 1014.5h1M507 1032.5h1M449 1016.5h1M494 1029.5h1M462 1091.5h1M478 1012.5h1M464 1047.5h1M528 992.5h1M485 1049.5h1M465 1012.5h1M459 1047.5h1M502 1009.5h1M561 1005.5h1M469 1026.5h1M503 1034.5h1M469 1065.5h1M495 1042.5h1M463 1015.5h1M512 1036.5h1M485 1030.5h1M479 1062.5h1M488 1033.5h1M484 1040.5h1M466 1022.5h1M484 1076.5h1M466 1067.5h1M495 989.5h1M507 1069.5h1M482 1090.5h1M481 1031.5h1M504 998.5h1M464 1070.5h1M464 1029.5h1M497 1003.5h1M527 1052.5h1M462 1038.5h1M482 1073.5h1M474 1026.5h1M554 999.5h1M514 1045.5h1M481 1020.5h1M531 1058.5h1M476 1056.5h1M477 1048.5h1M493 1034.5h1M506 1084.5h1M534 1043.5h1M458 1024.5h1M469 1038.5h1M532 1020.5h1M527 1024.5h1M503 1004.5h1M471 1058.5h1M476 1072.5h1M488 1037.5h1M521 989.5h1M478 1031.5h1M484 1071.5h1M497 1030.5h1M471 1078.5h1M529 1056.5h1M476 1051.5h1M485 1075.5h1M470 1038.5h1M506 1001.5h1M496 1025.5h1M447 1093.5h1M513 1045.5h1M460 1031.5h1M475 980.5h1M439 1035.5h1M489 1004.5h1M483 1022.5h1M501 1051.5h1M493 1008.5h1M494 1032.5h1M488 1027.5h1M503 986.5h1M552 1019.5h1M494 1019.5h1M478 1034.5h1M451 1029.5h1M435 1064.5h1M517 1054.5h1M510 1021.5h1M481 1041.5h1M491 1027.5h1M454 1032.5h1M487 1033.5h1M447 1056.5h1M447 1054.5h1M479 1028.5h1M508 1053.5h1M454 1010.5h1M472 1016.5h1M432 1001.5h1M456 994.5h1M453 1025.5h1M495 1074.5h1M511 1018.5h1M471 1101.5h1M494 1021.5h1M513 1036.5h1M549 1026.5h1M451 1045.5h1M505 1027.5h1M500 1022.5h1M520 1035.5h1M476 1053.5h1M508 1047.5h1M512 1019.5h1M510 1032.5h1M497 1012.5h1M488 1025.5h1M453 1032.5h1M503 1031.5h1M470 1043.5h1M507 1018.5h1M477 1033.5h1M512 1009.5h1M484 1039.5h1M504 1056.5h1M470 1052.5h1M518 1048.5h1M521 1000.5h1M532 1040.5h1M492 1074.5h1M445 1054.5h1M492 1037.5h1M449 1031.5h1M500 1012.5h1M517 1037.5h1M468 1048.5h1M536 1011.5h1M484 1028.5h1M465 1083.5h1M476 1031.5h1M460 1055.5h1M527 1020.5h1M484 1098.5h1M559 1017.5h1M456 1036.5h1M477 1079.5h1M475 1000.5h1M456 1009.5h1M497 1019.5h1M538 1050.5h1M497 1031.5h1M463 1075.5h1M454 1074.5h1M512 1029.5h1M485 1017.5h1M461 1086.5h1M496 1046.5h1M496 1043.5h1M442 1018.5h1M566 1026.5h1M462 1023.5h1M473 1033.5h1M502 1034.5h1M480 1061.5h1M574 1006.5h1M478 1022.5h1M503 1036.5h1M462 1026.5h1M478 1044.5h1M441 1019.5h1M504 1060.5h1M508 982.5h1M479 1048.5h1M499 1050.5h1M455 1040.5h1M449 1019.5h1M479 1002.5h1M519 1000.5h1M473 1053.5h1M505 1042.5h1M516 1012.5h1M499 1035.5h1M454 1126.5h1M482 1056.5h1M478 1097.5h1M446 1065.5h1M488 1092.5h1M447 1100.5h1M494 1071.5h1M484 1097.5h1M463 1092.5h1M444 1094.5h1M475 1060.5h1M469 1114.5h1M456 1094.5h1M455 1086.5h1M464 1076.5h1M464 1088.5h1M470 1057.5h1M495 1038.5h1M473 1073.5h1M452 1083.5h1M458 1123.5h1M473 1073.5h1M453 1076.5h1M455 1075.5h1M495 1094.5h1" stroke="#000" stroke-width="1" fill="none" shape-rendering="crispEdges"/>
<path d="M411.5 1030.5C414.9 1031 420.2 1031.2 423.7 1033.8C427.2 1036.4 430.8 1041.1 432.5 1046.1C434.3 1051.1 434.6 1056.9 434.5 1064C434.4 1071 433.2 1080.3 432.1 1088.5C430.9 1096.7 429 1105.9 427.7 1113C426.3 1120.1 424.2 1126 423.7 1130.8C423.3 1135.7 424.9 1138.5 425 1142C425.1 1145.5 422.9 1149.6 424.1 1151.9C425.4 1154.1 430.4 1154 432.5 1155.6C434.6 1157.2 436.2 1159.4 436.9 1161.6C437.6 1163.9 437.5 1166.6 436.6 1169.1C435.8 1171.7 434 1174.5 431.8 1176.9C429.5 1179.3 426.4 1181.8 423 1183.8C419.7 1185.7 415.6 1187.5 411.7 1188.7C407.8 1189.9 403.5 1190.7 399.6 1190.9C395.7 1191.2 391.7 1190.9 388.5 1190.1C385.2 1189.4 382.2 1188 380.1 1186.4C378 1184.8 376.4 1182.6 375.7 1180.4C375 1178.1 375.1 1175.4 376 1172.9C376.8 1170.3 377.8 1170.3 380.8 1165.1C383.8 1160 392.1 1147.7 394 1142C395.9 1136.3 392.8 1135.7 392 1130.8C391.1 1126 390 1120.1 389 1113C388 1105.9 386.7 1096.7 386.1 1088.5C385.5 1080.3 385.3 1071 385.6 1064C385.9 1056.9 386.4 1050.9 388 1046.1C389.7 1041.3 392.9 1037.5 395.4 1035C397.9 1032.5 400.5 1031.8 403.2 1031.1C405.9 1030.3 408.1 1030 411.5 1030.5Z" fill="none" stroke="#000" stroke-width="1.9" stroke-linejoin="round"/>
<path d="M411.4 1034C414.6 1034.4 419.6 1034.7 422.8 1037.1C426.1 1039.5 429.3 1043.8 431 1048.5C432.7 1053.1 432.9 1058.5 432.8 1065.1C432.7 1071.6 431.6 1080.3 430.5 1087.9C429.5 1095.5 427.7 1104.1 426.5 1110.7C425.2 1117.3 423.8 1122.1 422.8 1127.3C421.8 1132.5 420.3 1137.7 420.3 1142C420.3 1146.3 421.1 1150.8 422.9 1153.2C424.6 1155.7 428.7 1155.2 430.7 1156.7C432.7 1158.2 434.1 1160.2 434.8 1162.3C435.4 1164.4 435.3 1166.9 434.5 1169.3C433.7 1171.6 432.1 1174.2 430 1176.5C427.9 1178.8 424.9 1181 421.8 1182.9C418.7 1184.7 415 1186.3 411.3 1187.5C407.7 1188.6 403.7 1189.3 400.1 1189.5C396.5 1189.8 392.8 1189.5 389.7 1188.8C386.7 1188.1 383.9 1186.8 381.9 1185.3C379.9 1183.8 378.5 1181.8 377.8 1179.7C377.2 1177.6 377.3 1175.1 378.1 1172.7C378.9 1170.4 379.2 1170.6 382.6 1165.5C386.1 1160.4 396.9 1148.4 398.7 1142C400.5 1135.6 394.6 1132.5 393.3 1127.3C391.9 1122.1 391.4 1117.3 390.5 1110.7C389.6 1104.1 388.3 1095.5 387.8 1087.9C387.3 1080.3 387 1071.6 387.3 1065.1C387.6 1058.5 388.1 1053 389.6 1048.5C391.1 1044 394.1 1040.4 396.4 1038.1C398.8 1035.8 401.2 1035.2 403.7 1034.5C406.2 1033.8 408.3 1033.5 411.4 1034Z" fill="none" stroke="#000" stroke-width="1.9" stroke-linejoin="round"/>
<path d="M409.8 1035C413 1035 416.6 1036 419.5 1038.9C422.4 1041.9 425.6 1047.4 427.2 1052.6C428.8 1057.9 429.2 1063.7 429.1 1070.3C429.1 1076.8 428 1084.7 426.8 1091.8C425.6 1099 424.1 1107.2 422.2 1113.4C420.2 1119.6 417.3 1125.8 415.2 1129.1C413.2 1132.3 411.6 1133 409.8 1133C408 1133 406.5 1132.3 404.4 1129.1C402.3 1125.8 399.4 1119.6 397.4 1113.4C395.5 1107.2 394 1099 392.8 1091.8C391.6 1084.7 390.6 1076.8 390.5 1070.3C390.4 1063.7 390.8 1057.9 392.4 1052.6C394 1047.4 397.3 1041.9 400.1 1038.9C403 1036 406.6 1035 409.8 1035Z" fill="none" stroke="#000" stroke-width="2.0" stroke-linejoin="round"/>
<path d="M409.9 1043.1C412.6 1043.1 415.6 1043.9 418 1046.3C420.5 1048.7 423.2 1053.3 424.5 1057.6C425.9 1061.9 426.2 1066.7 426.1 1072C426.1 1077.4 425.2 1083.8 424.2 1089.7C423.2 1095.6 421.9 1102.3 420.3 1107.4C418.7 1112.5 416.2 1117.6 414.5 1120.2C412.7 1122.9 411.4 1123.5 409.9 1123.5C408.4 1123.5 407.1 1122.9 405.4 1120.2C403.6 1117.6 401.2 1112.5 399.5 1107.4C397.9 1102.3 396.6 1095.6 395.6 1089.7C394.7 1083.8 393.7 1077.4 393.7 1072C393.6 1066.7 394 1061.9 395.3 1057.6C396.7 1053.3 399.4 1048.7 401.8 1046.3C404.2 1043.9 407.2 1043.1 409.9 1043.1Z" fill="none" stroke="#000" stroke-width="2.1" stroke-linejoin="round"/>
<path d="M410 1050.9C412.2 1050.9 414.6 1051.5 416.6 1053.4C418.6 1055.3 420.8 1058.9 421.8 1062.3C422.9 1065.7 423.2 1069.5 423.2 1073.7C423.1 1077.9 422.4 1083 421.6 1087.7C420.8 1092.3 419.7 1097.6 418.4 1101.6C417.1 1105.6 415.1 1109.7 413.7 1111.8C412.3 1113.9 411.3 1114.3 410 1114.3C408.8 1114.3 407.8 1113.9 406.4 1111.8C404.9 1109.7 402.9 1105.6 401.6 1101.6C400.3 1097.6 399.3 1092.3 398.5 1087.7C397.7 1083 396.9 1077.9 396.9 1073.7C396.8 1069.5 397.1 1065.7 398.2 1062.3C399.3 1058.9 401.5 1055.3 403.5 1053.4C405.4 1051.5 407.8 1050.9 410 1050.9Z" fill="none" stroke="#000" stroke-width="2.2" stroke-linejoin="round"/>
<path d="M410.1 1058.3C411.8 1058.3 413.7 1058.8 415.2 1060.2C416.7 1061.6 418.3 1064.3 419.2 1066.8C420 1069.3 420.2 1072.2 420.2 1075.3C420.1 1078.5 419.6 1082.2 419 1085.7C418.4 1089.2 417.6 1093.1 416.6 1096.1C415.6 1099.1 414 1102.1 413 1103.7C411.9 1105.3 411.1 1105.6 410.1 1105.6C409.2 1105.6 408.4 1105.3 407.3 1103.7C406.3 1102.1 404.7 1099.1 403.7 1096.1C402.7 1093.1 401.9 1089.2 401.3 1085.7C400.7 1082.2 400.1 1078.5 400.1 1075.3C400.1 1072.2 400.3 1069.3 401.1 1066.8C401.9 1064.3 403.6 1061.6 405.1 1060.2C406.6 1058.8 408.5 1058.3 410.1 1058.3Z" fill="none" stroke="#000" stroke-width="2.3" stroke-linejoin="round"/>
<path d="M410.2 1065.4C411.4 1065.4 412.7 1065.7 413.7 1066.6C414.8 1067.6 415.9 1069.4 416.5 1071.1C417.1 1072.8 417.2 1074.7 417.2 1076.8C417.2 1079 416.8 1081.5 416.4 1083.9C416 1086.2 415.4 1088.8 414.7 1090.9C414 1092.9 412.9 1094.9 412.2 1096C411.5 1097 410.9 1097.2 410.2 1097.2C409.6 1097.2 409 1097 408.3 1096C407.6 1094.9 406.5 1092.9 405.8 1090.9C405.1 1088.8 404.5 1086.2 404.1 1083.9C403.7 1081.5 403.3 1079 403.3 1076.8C403.3 1074.7 403.4 1072.8 404 1071.1C404.6 1069.4 405.7 1067.6 406.8 1066.6C407.8 1065.7 409.1 1065.4 410.2 1065.4Z" fill="none" stroke="#000" stroke-width="2.3" stroke-linejoin="round"/>
<path d="M410.4 1072.1C411 1072.1 411.7 1072.3 412.3 1072.8C412.9 1073.3 413.5 1074.3 413.8 1075.2C414.2 1076.1 414.2 1077.1 414.2 1078.3C414.2 1079.4 414 1080.8 413.8 1082.1C413.5 1083.3 413.2 1084.8 412.8 1085.9C412.4 1087 411.9 1088.1 411.4 1088.6C411 1089.2 410.7 1089.3 410.4 1089.3C410 1089.3 409.7 1089.2 409.3 1088.6C408.9 1088.1 408.3 1087 407.9 1085.9C407.5 1084.8 407.2 1083.3 407 1082.1C406.7 1080.8 406.5 1079.4 406.5 1078.3C406.5 1077.1 406.6 1076.1 406.9 1075.2C407.2 1074.3 407.9 1073.3 408.4 1072.8C409 1072.3 409.7 1072.1 410.4 1072.1Z" fill="none" stroke="#000" stroke-width="2.2" stroke-linejoin="round"/>
<path d="M432.9 1162.9C433.5 1164.8 433.4 1167.2 432.7 1169.4C432 1171.6 430.4 1174 428.5 1176.1C426.5 1178.3 423.7 1180.4 420.8 1182.1C417.9 1183.8 414.4 1185.4 411 1186.4C407.6 1187.4 403.8 1188.1 400.5 1188.3C397.1 1188.5 393.6 1188.3 390.8 1187.6C388 1187 385.4 1185.8 383.5 1184.4C381.6 1183 380.3 1181.1 379.7 1179.1C379.1 1177.2 379.2 1174.8 379.9 1172.6C380.6 1170.4 382.2 1168 384.1 1165.9C386.1 1163.7 388.9 1161.6 391.8 1159.9C394.7 1158.2 398.2 1156.6 401.6 1155.6C405 1154.6 408.8 1153.9 412.1 1153.7C415.5 1153.5 419 1153.7 421.8 1154.4C424.6 1155 427.2 1156.2 429.1 1157.6C431 1159 432.3 1160.9 432.9 1162.9Z" fill="#000" stroke="#000" stroke-width="1.2" stroke-linejoin="round"/>
<path d="M421.4 1166.3C421.9 1167.4 421.6 1169 420.8 1170.5C419.9 1172 418.2 1173.7 416.3 1175.1C414.3 1176.5 411.6 1178 409.2 1178.9C406.7 1179.9 403.7 1180.6 401.3 1180.8C399 1181.1 396.5 1180.9 394.9 1180.4C393.3 1179.9 392 1178.9 391.6 1177.7C391.1 1176.6 391.4 1175 392.2 1173.5C393.1 1172 394.8 1170.3 396.7 1168.9C398.7 1167.5 401.4 1166 403.8 1165.1C406.3 1164.1 409.3 1163.4 411.7 1163.2C414 1162.9 416.5 1163.1 418.1 1163.6C419.7 1164.1 421 1165.1 421.4 1166.3Z" fill="#fff" stroke="#fff" stroke-width="1.0" stroke-linejoin="round"/>
<path d="M416.4 1168.2C416.7 1169 416.5 1170 415.9 1171C415.3 1172 414.2 1173.1 412.9 1174.1C411.7 1175 409.9 1175.9 408.3 1176.6C406.6 1177.2 404.7 1177.7 403.1 1177.8C401.5 1178 399.9 1177.9 398.8 1177.6C397.8 1177.2 396.9 1176.5 396.6 1175.8C396.3 1175 396.5 1174 397.1 1173C397.7 1172 398.8 1170.9 400.1 1169.9C401.3 1169 403.1 1168.1 404.7 1167.4C406.4 1166.8 408.3 1166.3 409.9 1166.2C411.5 1166 413.1 1166.1 414.2 1166.4C415.2 1166.8 416.1 1167.5 416.4 1168.2Z" fill="none" stroke="#000" stroke-width="1.6" stroke-linejoin="round"/>
<rect x="347.9" y="972.1" width="236.7" height="236.1" fill="none" stroke="#000" stroke-width="2"/>
<line x1="449.8" y1="972.1" x2="449.8" y2="1208.2" stroke="#000" stroke-width="2"/>
<line x1="347.9" y1="1139.4" x2="584.6" y2="1139.4" stroke="#000" stroke-width="2"/>
<path d="M445.8 1208.2v3.5M455.9 1208.2v3.5M463.1 1208.2v3.5M468.7 1208.2v3.5M473.3 1208.2v3.5M477.2 1208.2v3.5M480.5 1208.2v3.5M483.5 1208.2v3.5M501.2 1208.2v3.5M510 1208.2v3.5M516.2 1208.2v3.5M521 1208.2v3.5M525 1208.2v3.5M528.4 1208.2v3.5M531.3 1208.2v3.5M533.8 1208.2v3.5M550.5 1208.2v3.5M558.9 1208.2v3.5M564.9 1208.2v3.5M569.5 1208.2v3.5M573.3 1208.2v3.5M576.5 1208.2v3.5M579.3 1208.2v3.5M581.7 1208.2v3.5M371.9 1208.2v3.5M375.9 1208.2v3.5M379.9 1208.2v3.5M382.9 1208.2v3.5M385.9 1208.2v3.5M388.4 1208.2v3.5M390.4 1208.2v3.5M391.9 1208.2v3.5M393.4 1208.2v3.5M400.9 1208.2v3.5M402.4 1208.2v3.5M404.4 1208.2v3.5M406.4 1208.2v3.5M408.9 1208.2v3.5M411.9 1208.2v3.5M414.9 1208.2v3.5M418.9 1208.2v3.5M422.9 1208.2v3.5M366.7 1208.2v6M428.4 1208.2v6M486.1 1208.2v6M536.1 1208.2v6M583.9 1208.2v6M347.9 1117.7h-3.5M347.9 1049.8h-3.5M347.9 1105.5h-3.5M347.9 1038.5h-3.5M347.9 1096.8h-3.5M347.9 1030.4h-3.5M347.9 1090.1h-3.5M347.9 1024.2h-3.5M347.9 1084.5h-3.5M347.9 1019.1h-3.5M347.9 1079.9h-3.5M347.9 1014.8h-3.5M347.9 1075.8h-3.5M347.9 1011.1h-3.5M347.9 1072.3h-3.5M347.9 1007.8h-3.5M347.9 986.2h-3.5M347.9 975.3h-3.5M347.9 1143.1h-3.5M347.9 1147.1h-3.5M347.9 1151.1h-3.5M347.9 1155.1h-3.5M347.9 1158.6h-3.5M347.9 1166.1h-3.5M347.9 1169.6h-3.5M347.9 1172.6h-3.5M347.9 1175.1h-3.5M347.9 1183.1h-3.5M347.9 1185.6h-3.5M347.9 1188.6h-3.5M347.9 1192.1h-3.5M347.9 1201.1h-3.5M347.9 1205.1h-3.5M347.9 1004.9h-6M347.9 1069.1h-6M347.9 1138.7h-6M347.9 1162.1h-6M347.9 1196.1h-6" stroke="#000" stroke-width="1.2" fill="none"/>
<path d="M397.3 1208.2v7M347.9 1179.1h-7" stroke="#000" stroke-width="4" fill="none"/>
<text x="350.4" y="994.6" font-size="23.5">56.5</text>
<text x="581.6" y="994.6" font-size="23.5" text-anchor="end">3.55</text>
<text x="350.4" y="1205.2" font-size="23.5">39.7</text>
</g>
<text x="73.3" y="121.3" font-size="24" text-anchor="end"><tspan>10</tspan><tspan dy="-8.6" font-size="14.4">6</tspan></text>
<text x="73.3" y="185.5" font-size="24" text-anchor="end"><tspan>10</tspan><tspan dy="-8.6" font-size="14.4">5</tspan></text>
<text x="73.3" y="255.1" font-size="24" text-anchor="end"><tspan>10</tspan><tspan dy="-8.6" font-size="14.4">4</tspan></text>
<text x="64.3" y="297.5" font-size="24" text-anchor="end">0</text>
<text x="128.7" y="342.1" font-size="22.5" text-anchor="middle">0</text>
<text x="218.5" y="342.1" font-size="22.5" text-anchor="middle"><tspan>10</tspan><tspan dy="-8.1" font-size="13.5">4</tspan></text>
<text x="268.5" y="342.1" font-size="22.5" text-anchor="middle"><tspan>10</tspan><tspan dy="-8.1" font-size="13.5">5</tspan></text>
<text x="316.3" y="342.1" font-size="22.5" text-anchor="middle"><tspan>10</tspan><tspan dy="-8.1" font-size="13.5">6</tspan></text>
<text x="94.3" y="550.7" font-size="24" text-anchor="end"><tspan>10</tspan><tspan dy="-8.6" font-size="14.4">6</tspan></text>
<text x="94.3" y="614.9" font-size="24" text-anchor="end"><tspan>10</tspan><tspan dy="-8.6" font-size="14.4">5</tspan></text>
<text x="94.3" y="684.5" font-size="24" text-anchor="end"><tspan>10</tspan><tspan dy="-8.6" font-size="14.4">4</tspan></text>
<text x="85.3" y="726.9" font-size="24" text-anchor="end">0</text>
<text x="149.7" y="771.4" font-size="22.5" text-anchor="middle">0</text>
<text x="239.5" y="771.4" font-size="22.5" text-anchor="middle"><tspan>10</tspan><tspan dy="-8.1" font-size="13.5">4</tspan></text>
<text x="289.5" y="771.4" font-size="22.5" text-anchor="middle"><tspan>10</tspan><tspan dy="-8.1" font-size="13.5">5</tspan></text>
<text x="337.3" y="771.4" font-size="22.5" text-anchor="middle"><tspan>10</tspan><tspan dy="-8.1" font-size="13.5">6</tspan></text>
<text x="94.3" y="1012.9" font-size="24" text-anchor="end"><tspan>10</tspan><tspan dy="-8.6" font-size="14.4">6</tspan></text>
<text x="94.3" y="1077.1" font-size="24" text-anchor="end"><tspan>10</tspan><tspan dy="-8.6" font-size="14.4">5</tspan></text>
<text x="94.3" y="1146.7" font-size="24" text-anchor="end"><tspan>10</tspan><tspan dy="-8.6" font-size="14.4">4</tspan></text>
<text x="85.3" y="1189.1" font-size="24" text-anchor="end">0</text>
<text x="149.7" y="1234.2" font-size="22.5" text-anchor="middle">0</text>
<text x="239.5" y="1234.2" font-size="22.5" text-anchor="middle"><tspan>10</tspan><tspan dy="-8.1" font-size="13.5">4</tspan></text>
<text x="289.5" y="1234.2" font-size="22.5" text-anchor="middle"><tspan>10</tspan><tspan dy="-8.1" font-size="13.5">5</tspan></text>
<text x="337.3" y="1234.2" font-size="22.5" text-anchor="middle"><tspan>10</tspan><tspan dy="-8.1" font-size="13.5">6</tspan></text>
<text x="20.7" y="322.5" font-size="28" transform="rotate(-90 20.7 322.5)">IFN-γ</text>
<line x1="11.5" y1="244" x2="11.5" y2="88" stroke="#000" stroke-width="2.2"/>
<path d="M11.5 80L5.5 93L17.5 93Z" fill="#000"/>
<text x="80" y="365" font-size="28">TNF</text>
<line x1="138" y1="356" x2="557" y2="356" stroke="#000" stroke-width="2.2"/>
<path d="M565 356L552 350L552 362Z" fill="#000"/>
<text x="40" y="752" font-size="28" transform="rotate(-90 40 752)">IFN-γ</text>
<line x1="31.7" y1="675" x2="31.7" y2="517" stroke="#000" stroke-width="2.2"/>
<path d="M31.7 509L25.7 522L37.7 522Z" fill="#000"/>
<text x="100.5" y="795" font-size="28">TNF</text>
<line x1="157" y1="785" x2="576.5" y2="785" stroke="#000" stroke-width="2.2"/>
<path d="M584.5 785L571.5 779L571.5 791Z" fill="#000"/>
<text x="40" y="1214.5" font-size="28" transform="rotate(-90 40 1214.5)">IFN-γ</text>
<line x1="31.7" y1="1136" x2="31.7" y2="980" stroke="#000" stroke-width="2.2"/>
<path d="M31.7 972L25.7 985L37.7 985Z" fill="#000"/>
<text x="100.5" y="1257.5" font-size="28">TNF</text>
<line x1="157" y1="1247.5" x2="576.5" y2="1247.5" stroke="#000" stroke-width="2.2"/>
<path d="M584.5 1247.5L571.5 1241.5L571.5 1253.5Z" fill="#000"/>
<circle cx="1109.5" cy="22.5" r="8.3" fill="#fff" stroke="#1f6aa5" stroke-width="2"/>
<text x="1129.5" y="33" font-size="28" textLength="89" lengthAdjust="spacingAndGlyphs">Control</text>
<circle cx="1259.5" cy="22.5" r="8.3" fill="#fff" stroke="#d7263d" stroke-width="2"/>
<text x="1277" y="34" font-size="28" textLength="213.5" lengthAdjust="spacingAndGlyphs"><tspan font-style="italic">Satb1</tspan><tspan dy="-10.1" font-size="16.8">flex/flex</tspan><tspan dy="10.1">/</tspan><tspan font-style="italic">Cd8</tspan><tspan dy="-10.1" font-size="16.8">Cre</tspan></text>
<circle cx="1082" cy="445" r="8.3" fill="#fff" stroke="#1f6aa5" stroke-width="2"/>
<text x="1102" y="455.5" font-size="28" textLength="89" lengthAdjust="spacingAndGlyphs">Control</text>
<circle cx="1232" cy="445" r="8.3" fill="#fff" stroke="#d7263d" stroke-width="2"/>
<text x="1250" y="456.5" font-size="28" textLength="213.5" lengthAdjust="spacingAndGlyphs"><tspan font-style="italic">Satb1</tspan><tspan dy="-10.1" font-size="16.8">flex/flex</tspan><tspan dy="10.1">/</tspan><tspan font-style="italic">Cd8</tspan><tspan dy="-10.1" font-size="16.8">Cre</tspan></text>
<circle cx="1092" cy="903.5" r="8.3" fill="#fff" stroke="#1f6aa5" stroke-width="2"/>
<text x="1112" y="914" font-size="28" textLength="89" lengthAdjust="spacingAndGlyphs">Control</text>
<circle cx="1241" cy="903.5" r="8.3" fill="#fff" stroke="#d7263d" stroke-width="2"/>
<text x="1260" y="915" font-size="28" textLength="213.5" lengthAdjust="spacingAndGlyphs"><tspan font-style="italic">Satb1</tspan><tspan dy="-10.1" font-size="16.8">flex/flex</tspan><tspan dy="10.1">/</tspan><tspan font-style="italic">Cd8</tspan><tspan dy="-10.1" font-size="16.8">Cre</tspan></text>
<rect x="76" y="1398.5" width="18.5" height="17.5" fill="#8d9092"/>
<text x="100" y="1416" font-size="28" textLength="161" lengthAdjust="spacingAndGlyphs">Naïve T cells</text>
<rect x="292" y="1401" width="18.5" height="17.5" fill="#2e75b6"/>
<text x="319" y="1418.5" font-size="28" textLength="88.5" lengthAdjust="spacingAndGlyphs">Control</text>
<rect x="437.5" y="1404" width="18.5" height="17.5" fill="#e01f2d"/>
<text x="465" y="1421.5" font-size="28" textLength="214" lengthAdjust="spacingAndGlyphs"><tspan font-style="italic">Satb1</tspan><tspan dy="-10.1" font-size="16.8">flex/flex</tspan><tspan dy="10.1">/</tspan><tspan font-style="italic">Cd8</tspan><tspan dy="-10.1" font-size="16.8">Cre</tspan></text>
<rect x="918" y="1386" width="18.5" height="17.5" fill="#8d9092"/>
<text x="943" y="1404" font-size="28" textLength="160" lengthAdjust="spacingAndGlyphs">Naïve T cells</text>
<rect x="1135.5" y="1387.5" width="18.5" height="17.5" fill="#2e75b6"/>
<text x="1161.5" y="1405.5" font-size="28" textLength="88.5" lengthAdjust="spacingAndGlyphs">Control</text>
<rect x="1280" y="1389.5" width="18.5" height="17.5" fill="#e01f2d"/>
<text x="1309" y="1407.5" font-size="28" textLength="212.5" lengthAdjust="spacingAndGlyphs"><tspan font-style="italic">Satb1</tspan><tspan dy="-10.1" font-size="16.8">flex/flex</tspan><tspan dy="10.1">/</tspan><tspan font-style="italic">Cd8</tspan><tspan dy="-10.1" font-size="16.8">Cre</tspan></text>
<rect x="98" y="1898.5" width="18.5" height="17.5" fill="#2e75b6"/>
<text x="123" y="1917.5" font-size="28" textLength="89.5" lengthAdjust="spacingAndGlyphs">Control</text>
<rect x="251.5" y="1899" width="18.5" height="17.5" fill="#e01f2d"/>
<text x="278.5" y="1918.5" font-size="28" textLength="214" lengthAdjust="spacingAndGlyphs"><tspan font-style="italic">Satb1</tspan><tspan dy="-10.1" font-size="16.8">flex/flex</tspan><tspan dy="10.1">/</tspan><tspan font-style="italic">Cd8</tspan><tspan dy="-10.1" font-size="16.8">Cre</tspan></text>
<rect x="101.5" y="2321.5" width="18.5" height="17.5" fill="#8d9092"/>
<text x="126" y="2340" font-size="28" textLength="161" lengthAdjust="spacingAndGlyphs">Naïve T cells</text>
<rect x="320" y="2324" width="18.5" height="17.5" fill="#2e75b6"/>
<text x="345" y="2342.5" font-size="28" textLength="89" lengthAdjust="spacingAndGlyphs">Control</text>
<rect x="464" y="2326.5" width="18.5" height="17.5" fill="#e01f2d"/>
<text x="491.5" y="2345" font-size="28" textLength="213.5" lengthAdjust="spacingAndGlyphs"><tspan font-style="italic">Satb1</tspan><tspan dy="-10.1" font-size="16.8">flex/flex</tspan><tspan dy="10.1">/</tspan><tspan font-style="italic">Cd8</tspan><tspan dy="-10.1" font-size="16.8">Cre</tspan></text>
<text x="77.5" y="1467.5" font-size="31" textLength="227.5" lengthAdjust="spacingAndGlyphs"><tspan>T</tspan><tspan dy="9" font-size="19.8">EX</tspan><tspan dy="-9"> cells, day 12</tspan></text>
<text x="921.5" y="1470" font-size="31" textLength="170" lengthAdjust="spacingAndGlyphs">P14, day 12</text>
<text x="94" y="1965" font-size="31" textLength="243.5" lengthAdjust="spacingAndGlyphs"><tspan>P14 cells, </tspan><tspan font-style="italic">in vitro</tspan></text>
<text x="55" y="2388.5" font-size="31" textLength="244" lengthAdjust="spacingAndGlyphs">P14 cells, day 12</text>
<g>
<clipPath id="cp11"><rect x="58.8" y="1485.7" width="236.9" height="238.3"/></clipPath>
<g clip-path="url(#cp11)">
<line x1="58.8" y1="1605.4" x2="295.7" y2="1605.4" stroke="#8d9092" stroke-width="1.4"/>
<path d="M125.4 1605.4L128.4 1577.1L131.1 1541.4L133.8 1514.6L137.3 1498.6L140.4 1492.3L143.6 1498.6L146.2 1514.6L148.9 1541.4L151.6 1570L154.3 1595L156.4 1605.4Z" fill="#8d9092" stroke="#8d9092" stroke-width="0.6" stroke-linejoin="round"/>
<line x1="58.8" y1="1664.3" x2="295.7" y2="1664.3" stroke="#2e75b6" stroke-width="1.4"/>
<path d="M106.1 1664.6L108.3 1664L110.5 1663.3L112.8 1662.6L115 1662L117.7 1658.8L120.4 1655.7L123 1648.6L125.7 1641.4L128.1 1631.9L130.5 1622.5L132.9 1612.9L135.2 1604.1L137.6 1593.7L140 1584.3L142.7 1577.2L145.4 1570L148 1567.6L150.7 1564.6L153.4 1561L156.1 1559.3L158.2 1558.1L160.2 1557.3L162.3 1555.7L164.6 1559.3L166.8 1561.1L169.5 1557.1L172.1 1555.7L174.8 1558.7L177.5 1562.9L180.2 1563.4L182.9 1566.4L186.4 1567.3L189.1 1574L191.8 1578.9L194.5 1583.9L197.1 1587.9L199.8 1591.3L202.5 1596.8L205.2 1601.3L207.9 1603.9L210.5 1610.9L213.2 1616.4L215.9 1622L218.6 1627.1L221 1631.4L223.3 1635.2L225.7 1639.6L227.9 1642.3L230.2 1645L232.4 1647.7L234.6 1650.4L236.8 1652L238.9 1653.6L241.1 1655.2L243.2 1656.8L245.4 1658.4L247.5 1659.2L249.6 1660L251.8 1660.9L253.9 1661.7L256.1 1662.5L258.2 1662.9L260.2 1663.2L262.3 1663.6L264.4 1663.9L266.5 1664.3L268.6 1664.6Z" fill="#2e75b6" stroke="#2e75b6" stroke-width="0.6" stroke-linejoin="round"/>
<path d="M102.5 1723.6L104.9 1721.8L107.3 1720L109.6 1718.2L112.3 1712.9L115 1707.5L117.7 1695.7L120.4 1684.3L123 1670.9L125.7 1657.5L128.4 1643.5L131.1 1630.7L134.6 1618.2L137.3 1615.9L140 1614.6L142.7 1613.3L145.4 1612.9L147.4 1612L149.5 1612.8L151.6 1612.9L153.8 1615.4L156.1 1618.2L158.8 1624.1L161.4 1628.9L163.8 1631.3L166.2 1633.9L168.6 1636.1L170.8 1638.7L173 1641.6L175.3 1644.1L177.5 1646.8L179.7 1649.6L182 1653.6L184.2 1656.7L186.4 1659.3L188.8 1663.8L191.2 1667.8L193.6 1671.8L196 1674.6L198.3 1677.5L200.7 1680.7L203.1 1684.2L205.5 1687.6L207.9 1691.4L210.2 1694.5L212.6 1697.4L215 1700.4L217.4 1703.3L219.8 1706.3L222.1 1709.3L224.5 1711.4L226.9 1713.5L229.3 1715.5L231.7 1717L234 1718.5L236.4 1720L238.7 1720.5L240.9 1721.1L243.1 1721.6L245.4 1722.1L247.6 1722.5L249.8 1722.9L252.1 1723.2L254.3 1723.6Z" fill="#e01f2d" stroke="#e01f2d" stroke-width="0.6" stroke-linejoin="round"/>
</g>
<line x1="57.8" y1="1723" x2="296.7" y2="1723" stroke="#e01f2d" stroke-width="1.6"/>
<path d="M58.8 1723V1485.7H295.7V1723" fill="none" stroke="#000" stroke-width="2"/>
<line x1="58.8" y1="1722.4" x2="295.7" y2="1722.4" stroke="#000" stroke-width="0.9"/>
<path d="M127.2 1723v3.5M140.8 1723v3.5M150.4 1723v3.5M157.9 1723v3.5M163.9 1723v3.5M169.1 1723v3.5M173.5 1723v3.5M177.5 1723v3.5M204.1 1723v3.5M217.7 1723v3.5M227.3 1723v3.5M234.8 1723v3.5M240.8 1723v3.5M246 1723v3.5M250.4 1723v3.5M254.4 1723v3.5M281 1723v3.5M294.6 1723v3.5M70.6 1723v3.5M78.6 1723v3.5M87.6 1723v3.5M94.6 1723v3.5M99.6 1723v3.5M181 1723v6M257.9 1723v6M104.6 1723v4.5M107.1 1723v4.5M109.1 1723v4.5M111.1 1723v4.5M118.1 1723v4.5M120.1 1723v4.5M122.1 1723v4.5M124.6 1723v4.5" stroke="#000" stroke-width="1.2" fill="none"/>
<path d="M114.6 1723v6.5" stroke="#000" stroke-width="3.5" fill="none"/>
<text x="115.5" y="1748.5" font-size="22" text-anchor="middle">0</text>
<text x="183" y="1748.5" font-size="22" text-anchor="middle"><tspan>10</tspan><tspan dy="-7.9" font-size="13.2">4</tspan></text>
<text x="260" y="1748.5" font-size="22" text-anchor="middle"><tspan>10</tspan><tspan dy="-7.9" font-size="13.2">5</tspan></text>
<text x="60.5" y="1770.3" font-size="28">GzmB</text>
<line x1="143" y1="1760.6" x2="288" y2="1760.6" stroke="#000" stroke-width="2.2"/>
<path d="M296 1760.6L283 1754.6L283 1766.6Z" fill="#000"/>
</g>
<g>
<clipPath id="cp12"><rect x="887.9" y="1482.9" width="237.8" height="241.1"/></clipPath>
<g clip-path="url(#cp12)">
<line x1="887.9" y1="1603.6" x2="1125.7" y2="1603.6" stroke="#8d9092" stroke-width="1.4"/>
<path d="M951.8 1603.6L954.8 1586.1L958.4 1541.4L962 1505.7L965.5 1489.6L967.3 1492.3L969.5 1488.8L972.7 1505.7L976.2 1541.4L979.8 1586.1L982.9 1603.6Z" fill="#8d9092" stroke="#8d9092" stroke-width="0.6" stroke-linejoin="round"/>
<line x1="887.9" y1="1663.8" x2="1125.7" y2="1663.8" stroke="#2e75b6" stroke-width="1.4"/>
<path d="M1018.2 1664.1L1020.4 1661.6L1022.7 1659L1024.9 1656.5L1027.1 1653.9L1029.4 1649.9L1031.6 1645.9L1033.8 1641.9L1036.1 1637.9L1038.3 1629.8L1040.5 1621.9L1042.8 1613.9L1045 1605.7L1047.4 1595.8L1049.8 1586.1L1052.1 1577.1L1054.8 1566.3L1057.5 1555.7L1060.4 1552.9L1063.2 1550.7L1065.7 1555.5L1068.2 1559.3L1071.8 1584.3L1074.5 1600.5L1077.1 1616.4L1079.8 1630.8L1082.5 1645L1085.4 1654.6L1088.2 1664.1Z" fill="#2e75b6" stroke="#2e75b6" stroke-width="0.6" stroke-linejoin="round"/>
<path d="M1022.7 1723.6L1024.7 1719.6L1026.7 1715.5L1028.7 1711.5L1030.7 1707.5L1033.1 1699.8L1035.5 1692L1037.9 1684.3L1040.2 1673.6L1042.6 1662.7L1045 1652.1L1047.4 1642L1049.8 1631.7L1052.1 1621.8L1054.4 1616.7L1056.6 1611.1L1058.8 1610.3L1061.1 1610.2L1063.3 1616.2L1065.5 1621.8L1067.8 1634.9L1070 1648.6L1072.7 1664.7L1075.4 1680.7L1078 1692.3L1080.7 1703.9L1082.7 1708.8L1084.7 1713.8L1086.7 1718.7L1088.8 1723.6Z" fill="#e01f2d" stroke="#e01f2d" stroke-width="0.6" stroke-linejoin="round"/>
</g>
<line x1="886.9" y1="1723" x2="1126.7" y2="1723" stroke="#e01f2d" stroke-width="1.6"/>
<path d="M887.9 1723V1482.9H1125.7V1723" fill="none" stroke="#000" stroke-width="2"/>
<line x1="887.9" y1="1722.4" x2="1125.7" y2="1722.4" stroke="#000" stroke-width="0.9"/>
<path d="M994 1723v3.5M1004.6 1723v3.5M1012.1 1723v3.5M1017.9 1723v3.5M1022.7 1723v3.5M1026.8 1723v3.5M1030.3 1723v3.5M1033.3 1723v3.5M1054.3 1723v3.5M1064.9 1723v3.5M1072.4 1723v3.5M1078.2 1723v3.5M1083 1723v3.5M1087.1 1723v3.5M1090.6 1723v3.5M1093.6 1723v3.5M1114.6 1723v3.5M914.8 1723v3.5M922.8 1723v3.5M931.8 1723v3.5M938.8 1723v3.5M943.8 1723v3.5M1036.1 1723v6M1096.4 1723v6M948.8 1723v4.5M951.3 1723v4.5M953.3 1723v4.5M955.3 1723v4.5M962.3 1723v4.5M964.3 1723v4.5M966.3 1723v4.5M968.8 1723v4.5" stroke="#000" stroke-width="1.2" fill="none"/>
<path d="M958.8 1723v6.5" stroke="#000" stroke-width="3.5" fill="none"/>
<text x="959" y="1748.5" font-size="22" text-anchor="middle">0</text>
<text x="1038" y="1748.5" font-size="22" text-anchor="middle"><tspan>10</tspan><tspan dy="-7.9" font-size="13.2">4</tspan></text>
<text x="1098.5" y="1748.5" font-size="22" text-anchor="middle"><tspan>10</tspan><tspan dy="-7.9" font-size="13.2">5</tspan></text>
<text x="889.8" y="1770.5" font-size="28">PD-1</text>
<line x1="955.7" y1="1761.4" x2="1117.5" y2="1761.4" stroke="#000" stroke-width="2.2"/>
<path d="M1125.5 1761.4L1112.5 1755.4L1112.5 1767.4Z" fill="#000"/>
</g>
<g>
<clipPath id="cp13"><rect x="96.4" y="1977.9" width="237.2" height="238.5"/></clipPath>
<g clip-path="url(#cp13)">
<line x1="96.4" y1="2138.6" x2="333.6" y2="2138.6" stroke="#2e75b6" stroke-width="1.4"/>
<path d="M115.7 2138.9L117.9 2138.2L120.2 2137.4L122.4 2136.7L124.6 2135.9L127.3 2130.1L130 2124.3L133.6 2102.9L136.2 2067.1L138 2031.4L139.8 2004.6L142.5 1990.4L145.2 1993L147.9 2006.4L151.4 2020.7L154.1 2027.4L156.8 2035L159.5 2042.5L162.1 2049.3L164.8 2054.9L167.5 2060L170.2 2062.7L172.9 2064.5L175.1 2063.2L177.3 2062.7L179.6 2067.3L181.8 2072.5L184.5 2073.4L187.1 2075.2L189.8 2074.4L192.5 2074.3L195.2 2074.6L197.9 2074.3L200.5 2076.6L203.2 2079.6L205.9 2082.4L208.6 2085L211 2085.3L213.3 2086L215.7 2086.8L218.1 2088.5L220.5 2090.6L222.9 2092.1L225.5 2095.8L228.2 2099.3L230.6 2104L233 2108.8L235.4 2113.6L237.6 2116.2L239.8 2118.9L242.1 2121.6L244.3 2124.3L246.4 2125.7L248.6 2127.1L250.7 2128.6L252.9 2130L255 2131.4L257.1 2132.3L259.3 2133.2L261.4 2134.1L263.6 2135L265.7 2135.9L267.7 2136.3L269.7 2136.7L271.7 2137L273.8 2137.4L275.8 2137.8L277.8 2138.2L279.8 2138.5L281.8 2138.9Z" fill="#2e75b6" stroke="#2e75b6" stroke-width="0.6" stroke-linejoin="round"/>
<path d="M133.6 2215.7L136.2 2210.2L138.9 2204.6L142.5 2198.4L144.7 2197.5L147 2196.6L149.2 2195.7L151.4 2194.8L153.8 2194.2L156.2 2193.6L158.6 2193L161 2192.4L163.3 2191.8L165.7 2191.2L168.1 2189.8L170.5 2188.3L172.9 2186.8L175.1 2185.9L177.3 2185L179.6 2184.1L181.8 2183.2L184.2 2180.8L186.5 2178.1L188.9 2176.1L191.3 2172.3L193.7 2168.6L196.1 2165.4L198.3 2163L200.5 2160.3L202.8 2157.6L205 2154.6L207.4 2151.5L209.8 2147.8L212.1 2143.9L214.5 2136.8L216.9 2128.9L219.3 2120.7L221.7 2113.1L224 2107.1L226.4 2099.3L228.8 2093.9L231.2 2089.2L233.6 2083.2L236 2082.2L238.3 2080.7L240.7 2079.6L243.1 2076.9L245.5 2074.7L247.9 2072.5L251.4 2081.4L254.1 2090.8L256.8 2101.1L259.5 2113.8L262.1 2127.9L264.8 2142.6L267.5 2156.4L270.2 2170.1L272.9 2183.2L275.5 2192.1L278.2 2201.1L280.9 2205.5L283.6 2210L286 2211.9L288.3 2213.8L290.7 2215.7Z" fill="#e01f2d" stroke="#e01f2d" stroke-width="0.6" stroke-linejoin="round"/>
</g>
<line x1="95.4" y1="2215.4" x2="334.6" y2="2215.4" stroke="#e01f2d" stroke-width="1.6"/>
<path d="M96.4 2215.4V1977.9H333.6V2215.4" fill="none" stroke="#000" stroke-width="1.4"/>
<line x1="96.4" y1="2214.8" x2="333.6" y2="2214.8" stroke="#000" stroke-width="0.9"/>
<path d="M178.2 2215.4v3.5M190.6 2215.4v3.5M199.4 2215.4v3.5M206.2 2215.4v3.5M211.7 2215.4v3.5M216.4 2215.4v3.5M220.5 2215.4v3.5M224.1 2215.4v3.5M248.4 2215.4v3.5M260.8 2215.4v3.5M269.6 2215.4v3.5M276.4 2215.4v3.5M281.9 2215.4v3.5M286.6 2215.4v3.5M290.7 2215.4v3.5M294.3 2215.4v3.5M318.6 2215.4v3.5M331 2215.4v3.5M106 2215.4v3.5M115 2215.4v3.5M122 2215.4v3.5M127 2215.4v3.5M227.3 2215.4v6M297.5 2215.4v6M126 2215.4v4.5M130 2215.4v4.5M133.2 2215.4v4.5M136.4 2215.4v4.5M147.6 2215.4v4.5M150.8 2215.4v4.5M154 2215.4v4.5M158 2215.4v4.5" stroke="#000" stroke-width="1.2" fill="none"/>
<path d="M142 2215.4v6.5" stroke="#000" stroke-width="3.5" fill="none"/>
<text x="142.5" y="2241" font-size="22" text-anchor="middle">0</text>
<text x="229.5" y="2241" font-size="22" text-anchor="middle"><tspan>10</tspan><tspan dy="-7.9" font-size="13.2">5</tspan></text>
<text x="299.5" y="2241" font-size="22" text-anchor="middle"><tspan>10</tspan><tspan dy="-7.9" font-size="13.2">6</tspan></text>
<text x="96.5" y="2263.8" font-size="28">PD-1</text>
<line x1="169.3" y1="2254.6" x2="325.6" y2="2254.6" stroke="#000" stroke-width="2.2"/>
<path d="M333.6 2254.6L320.6 2248.6L320.6 2260.6Z" fill="#000"/>
</g>
<g>
<clipPath id="cp14"><rect x="59.1" y="2401.1" width="236.6" height="238.1"/></clipPath>
<g clip-path="url(#cp14)">
<line x1="59.1" y1="2520.9" x2="295.7" y2="2520.9" stroke="#8d9092" stroke-width="1.4"/>
<path d="M137 2520.9L140 2497.1L142.7 2452.5L145.4 2422.1L148 2412.3L150.4 2413.2L152.5 2410.5L155.2 2420.4L158.8 2425.7L161.4 2452.5L164.1 2497.1L167.1 2520.9Z" fill="#8d9092" stroke="#8d9092" stroke-width="0.6" stroke-linejoin="round"/>
<line x1="59.1" y1="2579.8" x2="295.7" y2="2579.8" stroke="#2e75b6" stroke-width="1.4"/>
<path d="M132.9 2580.2L134.9 2579.8L136.9 2579.4L139 2579L141 2578.6L143.1 2578.3L145.1 2577.9L147.1 2577.5L149.3 2576.6L151.4 2575.7L153.6 2574.8L155.7 2573.9L157.9 2573L160.1 2571L162.3 2569L164.6 2567L166.8 2565L169.2 2560.2L171.5 2555.5L173.9 2550.7L176.3 2542.8L178.7 2535.4L181.1 2527.5L183.8 2516L186.4 2504.3L189.1 2493.2L191.8 2481.1L194.5 2475.8L197.1 2471.2L200.7 2467.7L204.3 2473.9L206.5 2481.6L208.8 2490L211 2502.8L213.2 2515L215.9 2528.5L218.6 2541.8L221 2549.4L223.3 2557.3L225.7 2565L228.1 2568.3L230.5 2571.5L232.9 2574.8L235.1 2575.9L237.3 2577.1L239.6 2578.2L241.8 2579.3L245.4 2580.2Z" fill="#2e75b6" stroke="#2e75b6" stroke-width="0.6" stroke-linejoin="round"/>
<path d="M143.6 2638.8L145.7 2638.1L147.9 2637.5L150 2636.8L152.1 2636.2L154.3 2635.5L156.5 2634L158.8 2632.4L161 2630.8L163.2 2629.3L165.4 2625.7L167.7 2622.1L169.9 2618.6L172.1 2615L174.5 2607.3L176.9 2599.5L179.3 2591.8L181.7 2581.8L184 2571.4L186.4 2561.4L189.1 2551.4L191.8 2541.8L194.5 2535.4L197.1 2528.4L199.4 2527.1L201.6 2526.1L203.8 2527L206.1 2528.4L209.6 2541.8L212.3 2555.4L215 2568.6L217.7 2582L220.4 2595.4L223 2605.1L225.7 2615L228.1 2619.8L230.5 2624.5L232.9 2629.3L235.1 2631.3L237.3 2633.3L239.6 2635.3L241.8 2637.3L244.5 2638L247.1 2638.8Z" fill="#e01f2d" stroke="#e01f2d" stroke-width="0.6" stroke-linejoin="round"/>
</g>
<line x1="58.1" y1="2638.2" x2="296.7" y2="2638.2" stroke="#e01f2d" stroke-width="1.6"/>
<path d="M59.1 2638.2V2401.1H295.7V2638.2" fill="none" stroke="#000" stroke-width="2"/>
<line x1="59.1" y1="2637.6" x2="295.7" y2="2637.6" stroke="#000" stroke-width="0.9"/>
<path d="M148.6 2638.2v3.5M160.4 2638.2v3.5M168.8 2638.2v3.5M175.3 2638.2v3.5M180.6 2638.2v3.5M185 2638.2v3.5M188.9 2638.2v3.5M192.3 2638.2v3.5M215.5 2638.2v3.5M227.3 2638.2v3.5M235.7 2638.2v3.5M242.2 2638.2v3.5M247.5 2638.2v3.5M251.9 2638.2v3.5M255.8 2638.2v3.5M259.2 2638.2v3.5M282.4 2638.2v3.5M294.2 2638.2v3.5M68.3 2638.2v3.5M76.3 2638.2v3.5M85.3 2638.2v3.5M92.3 2638.2v3.5M97.3 2638.2v3.5M195.4 2638.2v6M262.3 2638.2v6M102.3 2638.2v4.5M104.8 2638.2v4.5M106.8 2638.2v4.5M108.8 2638.2v4.5M115.8 2638.2v4.5M117.8 2638.2v4.5M119.8 2638.2v4.5M122.3 2638.2v4.5" stroke="#000" stroke-width="1.2" fill="none"/>
<path d="M112.3 2638.2v6.5" stroke="#000" stroke-width="3.5" fill="none"/>
<text x="113" y="2664" font-size="22" text-anchor="middle">0</text>
<text x="197.5" y="2664" font-size="22" text-anchor="middle"><tspan>10</tspan><tspan dy="-7.9" font-size="13.2">4</tspan></text>
<text x="264.5" y="2664" font-size="22" text-anchor="middle"><tspan>10</tspan><tspan dy="-7.9" font-size="13.2">5</tspan></text>
<text x="60.5" y="2685.8" font-size="28">TOX</text>
<line x1="127" y1="2676.6" x2="287.7" y2="2676.6" stroke="#000" stroke-width="2.2"/>
<path d="M295.7 2676.6L282.7 2670.6L282.7 2682.6Z" fill="#000"/>
</g>
<path d="M750.5 69.3V345.5H933" fill="none" stroke="#000" stroke-width="2.6"/>
<line x1="739.5" y1="70.3" x2="750.5" y2="70.3" stroke="#000" stroke-width="2"/>
<text x="738" y="78.5" font-size="27" text-anchor="end">100</text>
<line x1="739.5" y1="125.3" x2="750.5" y2="125.3" stroke="#000" stroke-width="2"/>
<text x="738" y="133.6" font-size="27" text-anchor="end">80</text>
<line x1="739.5" y1="180.4" x2="750.5" y2="180.4" stroke="#000" stroke-width="2"/>
<text x="738" y="188.6" font-size="27" text-anchor="end">60</text>
<line x1="739.5" y1="235.4" x2="750.5" y2="235.4" stroke="#000" stroke-width="2"/>
<text x="738" y="243.6" font-size="27" text-anchor="end">40</text>
<line x1="739.5" y1="290.5" x2="750.5" y2="290.5" stroke="#000" stroke-width="2"/>
<text x="738" y="298.7" font-size="27" text-anchor="end">20</text>
<line x1="739.5" y1="345.5" x2="750.5" y2="345.5" stroke="#000" stroke-width="2"/>
<text x="738" y="353.7" font-size="27" text-anchor="end">0</text>
<text x="693" y="208" font-size="28" text-anchor="middle" transform="rotate(-90 693 208)"><tspan>IFN-γ</tspan><tspan dy="-10.1" font-size="16.8">+</tspan><tspan dy="10.1"> cells (%)</tspan></text>
<text x="784" y="64.9" font-size="23" font-style="italic" textLength="113" lengthAdjust="spacingAndGlyphs">p &lt; 0.0001</text>
<line x1="800.6" y1="71" x2="881" y2="71" stroke="#000" stroke-width="2.2"/>
<line x1="776" y1="135" x2="828" y2="135" stroke="#000" stroke-width="2.2"/>
<circle cx="784" cy="138.9" r="7.6" fill="#fbf7f7" stroke="#1f6aa5" stroke-width="2.2"/>
<circle cx="793.6" cy="130.2" r="7.6" fill="#fbf7f7" stroke="#1f6aa5" stroke-width="2.2"/>
<circle cx="802.2" cy="133.1" r="7.6" fill="#fbf7f7" stroke="#1f6aa5" stroke-width="2.2"/>
<circle cx="810.8" cy="132.5" r="7.6" fill="#fbf7f7" stroke="#1f6aa5" stroke-width="2.2"/>
<circle cx="819.7" cy="142.7" r="7.6" fill="#fbf7f7" stroke="#1f6aa5" stroke-width="2.2"/>
<line x1="854.5" y1="177" x2="906.8" y2="177" stroke="#000" stroke-width="2.2"/>
<circle cx="862.8" cy="178.7" r="7.6" fill="#fbf7f7" stroke="#d7263d" stroke-width="2.2"/>
<circle cx="871.4" cy="173.9" r="7.6" fill="#fbf7f7" stroke="#d7263d" stroke-width="2.2"/>
<circle cx="880.3" cy="173.9" r="7.6" fill="#fbf7f7" stroke="#d7263d" stroke-width="2.2"/>
<circle cx="889.2" cy="173.3" r="7.6" fill="#fbf7f7" stroke="#d7263d" stroke-width="2.2"/>
<circle cx="898.5" cy="186" r="7.6" fill="#fbf7f7" stroke="#d7263d" stroke-width="2.2"/>
<path d="M1043 69.3V345.5H1227.9" fill="none" stroke="#000" stroke-width="2.6"/>
<line x1="1032" y1="70.3" x2="1043" y2="70.3" stroke="#000" stroke-width="2"/>
<text x="1030.5" y="78.5" font-size="27" text-anchor="end">20</text>
<line x1="1032" y1="139.1" x2="1043" y2="139.1" stroke="#000" stroke-width="2"/>
<text x="1030.5" y="147.3" font-size="27" text-anchor="end">15</text>
<line x1="1032" y1="207.9" x2="1043" y2="207.9" stroke="#000" stroke-width="2"/>
<text x="1030.5" y="216.1" font-size="27" text-anchor="end">10</text>
<line x1="1032" y1="276.7" x2="1043" y2="276.7" stroke="#000" stroke-width="2"/>
<text x="1030.5" y="284.9" font-size="27" text-anchor="end">5</text>
<line x1="1032" y1="345.5" x2="1043" y2="345.5" stroke="#000" stroke-width="2"/>
<text x="1030.5" y="353.7" font-size="27" text-anchor="end">0</text>
<text x="985" y="208" font-size="28" text-anchor="middle" transform="rotate(-90 985 208)"><tspan>IFN-γ</tspan><tspan dy="-10.1" font-size="16.8">+</tspan><tspan dy="10.1">TNF</tspan><tspan dy="-10.1" font-size="16.8">+</tspan><tspan dy="10.1"> cells (%)</tspan></text>
<text x="1078.6" y="64.9" font-size="23" font-style="italic" textLength="114.2" lengthAdjust="spacingAndGlyphs">p = 0.3532</text>
<line x1="1095.5" y1="71" x2="1176.2" y2="71" stroke="#000" stroke-width="2.2"/>
<line x1="1071.6" y1="226.9" x2="1123.3" y2="226.9" stroke="#000" stroke-width="2.2"/>
<line x1="1083.4" y1="188.6" x2="1110.9" y2="188.6" stroke="#000" stroke-width="2.2"/>
<line x1="1083.4" y1="265.1" x2="1110.9" y2="265.1" stroke="#000" stroke-width="2.2"/>
<line x1="1097.2" y1="188.6" x2="1097.2" y2="265.1" stroke="#000" stroke-width="2.2"/>
<circle cx="1097.1" cy="146.8" r="7.6" fill="#fbf7f7" stroke="#1f6aa5" stroke-width="2.2"/>
<circle cx="1097.1" cy="166" r="7.6" fill="#fbf7f7" stroke="#1f6aa5" stroke-width="2.2"/>
<circle cx="1097.1" cy="196.3" r="7.6" fill="#fbf7f7" stroke="#1f6aa5" stroke-width="2.2"/>
<circle cx="1097.1" cy="306.3" r="7.6" fill="#fbf7f7" stroke="#1f6aa5" stroke-width="2.2"/>
<circle cx="1097.1" cy="328.6" r="7.6" fill="#fbf7f7" stroke="#1f6aa5" stroke-width="2.2"/>
<line x1="1149.8" y1="268" x2="1201.7" y2="268" stroke="#000" stroke-width="2.2"/>
<line x1="1162.5" y1="251.7" x2="1189.6" y2="251.7" stroke="#000" stroke-width="2.2"/>
<line x1="1162.5" y1="283.9" x2="1189.6" y2="283.9" stroke="#000" stroke-width="2.2"/>
<line x1="1176" y1="251.7" x2="1176" y2="283.9" stroke="#000" stroke-width="2.2"/>
<circle cx="1157.7" cy="228.1" r="7.6" fill="#fbf7f7" stroke="#d7263d" stroke-width="2.2"/>
<circle cx="1193.4" cy="240.3" r="7.6" fill="#fbf7f7" stroke="#d7263d" stroke-width="2.2"/>
<circle cx="1175.9" cy="260.7" r="7.6" fill="#fbf7f7" stroke="#d7263d" stroke-width="2.2"/>
<circle cx="1157.7" cy="309.5" r="7.6" fill="#fbf7f7" stroke="#d7263d" stroke-width="2.2"/>
<circle cx="1193.4" cy="300.8" r="7.6" fill="#fbf7f7" stroke="#d7263d" stroke-width="2.2"/>
<path d="M1332 69.3V345.5H1515" fill="none" stroke="#000" stroke-width="2.6"/>
<line x1="1321" y1="70.3" x2="1332" y2="70.3" stroke="#000" stroke-width="2"/>
<text x="1319.5" y="78.5" font-size="27" text-anchor="end">15</text>
<line x1="1321" y1="162" x2="1332" y2="162" stroke="#000" stroke-width="2"/>
<text x="1319.5" y="170.3" font-size="27" text-anchor="end">10</text>
<line x1="1321" y1="253.8" x2="1332" y2="253.8" stroke="#000" stroke-width="2"/>
<text x="1319.5" y="262" font-size="27" text-anchor="end">5</text>
<line x1="1321" y1="345.5" x2="1332" y2="345.5" stroke="#000" stroke-width="2"/>
<text x="1319.5" y="353.7" font-size="27" text-anchor="end">0</text>
<text x="1283" y="206" font-size="28" text-anchor="middle" transform="rotate(-90 1283 206)"><tspan>IFN-γ (GMFI x 10</tspan><tspan dy="-10.1" font-size="16.8">4</tspan><tspan dy="10.1">)</tspan></text>
<text x="1368.3" y="64.9" font-size="23" font-style="italic" textLength="111" lengthAdjust="spacingAndGlyphs">p = 0.0002</text>
<line x1="1384.2" y1="71" x2="1463.3" y2="71" stroke="#000" stroke-width="2.2"/>
<line x1="1357.1" y1="152.2" x2="1409.7" y2="152.2" stroke="#000" stroke-width="2.2"/>
<line x1="1369.9" y1="144.3" x2="1397.6" y2="144.3" stroke="#000" stroke-width="2.2"/>
<line x1="1369.9" y1="160.5" x2="1397.6" y2="160.5" stroke="#000" stroke-width="2.2"/>
<line x1="1383.8" y1="144.3" x2="1383.8" y2="160.5" stroke="#000" stroke-width="2.2"/>
<circle cx="1366" cy="142" r="7.6" fill="#fbf7f7" stroke="#1f6aa5" stroke-width="2.2"/>
<circle cx="1400.8" cy="130.9" r="7.6" fill="#fbf7f7" stroke="#1f6aa5" stroke-width="2.2"/>
<circle cx="1400.8" cy="154.2" r="7.6" fill="#fbf7f7" stroke="#1f6aa5" stroke-width="2.2"/>
<circle cx="1383.6" cy="157.3" r="7.6" fill="#fbf7f7" stroke="#1f6aa5" stroke-width="2.2"/>
<circle cx="1383.6" cy="179.7" r="7.6" fill="#fbf7f7" stroke="#1f6aa5" stroke-width="2.2"/>
<line x1="1435.9" y1="213.2" x2="1488.5" y2="213.2" stroke="#000" stroke-width="2.2"/>
<line x1="1448.5" y1="210.4" x2="1476" y2="210.4" stroke="#000" stroke-width="2.2"/>
<line x1="1448.5" y1="216.3" x2="1476" y2="216.3" stroke="#000" stroke-width="2.2"/>
<line x1="1462.2" y1="210.4" x2="1462.2" y2="216.3" stroke="#000" stroke-width="2.2"/>
<circle cx="1444.2" cy="204.2" r="7.6" fill="#fbf7f7" stroke="#d7263d" stroke-width="2.2"/>
<circle cx="1479.9" cy="204.2" r="7.6" fill="#fbf7f7" stroke="#d7263d" stroke-width="2.2"/>
<circle cx="1462" cy="212.2" r="7.6" fill="#fbf7f7" stroke="#d7263d" stroke-width="2.2"/>
<circle cx="1444.2" cy="227.5" r="7.6" fill="#fbf7f7" stroke="#d7263d" stroke-width="2.2"/>
<circle cx="1479.9" cy="220.2" r="7.6" fill="#fbf7f7" stroke="#d7263d" stroke-width="2.2"/>
<path d="M1641 69.3V345.5H1826" fill="none" stroke="#000" stroke-width="2.6"/>
<line x1="1630" y1="70.3" x2="1641" y2="70.3" stroke="#000" stroke-width="2"/>
<text x="1628.5" y="78.5" font-size="27" text-anchor="end">20</text>
<line x1="1630" y1="139.1" x2="1641" y2="139.1" stroke="#000" stroke-width="2"/>
<text x="1628.5" y="147.3" font-size="27" text-anchor="end">15</text>
<line x1="1630" y1="207.9" x2="1641" y2="207.9" stroke="#000" stroke-width="2"/>
<text x="1628.5" y="216.1" font-size="27" text-anchor="end">10</text>
<line x1="1630" y1="276.7" x2="1641" y2="276.7" stroke="#000" stroke-width="2"/>
<text x="1628.5" y="284.9" font-size="27" text-anchor="end">5</text>
<line x1="1630" y1="345.5" x2="1641" y2="345.5" stroke="#000" stroke-width="2"/>
<text x="1628.5" y="353.7" font-size="27" text-anchor="end">0</text>
<text x="1592" y="207" font-size="28" text-anchor="middle" transform="rotate(-90 1592 207)"><tspan>TNF (GMFI x 10</tspan><tspan dy="-10.1" font-size="16.8">3</tspan><tspan dy="10.1">)</tspan></text>
<text x="1677.6" y="64.9" font-size="23" font-style="italic" textLength="111.6" lengthAdjust="spacingAndGlyphs">p = 0.0043</text>
<line x1="1693.5" y1="71" x2="1773.2" y2="71" stroke="#000" stroke-width="2.2"/>
<line x1="1666.4" y1="165" x2="1719.7" y2="165" stroke="#000" stroke-width="2.2"/>
<line x1="1679.2" y1="154.2" x2="1706.3" y2="154.2" stroke="#000" stroke-width="2.2"/>
<line x1="1679.2" y1="175.2" x2="1706.3" y2="175.2" stroke="#000" stroke-width="2.2"/>
<line x1="1692.8" y1="154.2" x2="1692.8" y2="175.2" stroke="#000" stroke-width="2.2"/>
<circle cx="1675.3" cy="143.6" r="7.6" fill="#fbf7f7" stroke="#1f6aa5" stroke-width="2.2"/>
<circle cx="1711" cy="145.2" r="7.6" fill="#fbf7f7" stroke="#1f6aa5" stroke-width="2.2"/>
<circle cx="1675.3" cy="162.8" r="7.6" fill="#fbf7f7" stroke="#1f6aa5" stroke-width="2.2"/>
<circle cx="1711" cy="176.5" r="7.6" fill="#fbf7f7" stroke="#1f6aa5" stroke-width="2.2"/>
<circle cx="1692.9" cy="196.3" r="7.6" fill="#fbf7f7" stroke="#1f6aa5" stroke-width="2.2"/>
<line x1="1746.1" y1="206.5" x2="1798" y2="206.5" stroke="#000" stroke-width="2.2"/>
<circle cx="1754.1" cy="195.3" r="7.6" fill="#fbf7f7" stroke="#d7263d" stroke-width="2.2"/>
<circle cx="1766.2" cy="202.6" r="7.6" fill="#fbf7f7" stroke="#d7263d" stroke-width="2.2"/>
<circle cx="1754.1" cy="215.4" r="7.6" fill="#fbf7f7" stroke="#d7263d" stroke-width="2.2"/>
<circle cx="1778" cy="210.6" r="7.6" fill="#fbf7f7" stroke="#d7263d" stroke-width="2.2"/>
<circle cx="1790.1" cy="208.4" r="7.6" fill="#fbf7f7" stroke="#d7263d" stroke-width="2.2"/>
<path d="M747 489.3V765.5H930.7" fill="none" stroke="#000" stroke-width="2.6"/>
<line x1="736" y1="490.3" x2="747" y2="490.3" stroke="#000" stroke-width="2"/>
<text x="734.5" y="498.5" font-size="27" text-anchor="end">100</text>
<line x1="736" y1="545.3" x2="747" y2="545.3" stroke="#000" stroke-width="2"/>
<text x="734.5" y="553.6" font-size="27" text-anchor="end">80</text>
<line x1="736" y1="600.4" x2="747" y2="600.4" stroke="#000" stroke-width="2"/>
<text x="734.5" y="608.6" font-size="27" text-anchor="end">60</text>
<line x1="736" y1="655.4" x2="747" y2="655.4" stroke="#000" stroke-width="2"/>
<text x="734.5" y="663.6" font-size="27" text-anchor="end">40</text>
<line x1="736" y1="710.5" x2="747" y2="710.5" stroke="#000" stroke-width="2"/>
<text x="734.5" y="718.7" font-size="27" text-anchor="end">20</text>
<line x1="736" y1="765.5" x2="747" y2="765.5" stroke="#000" stroke-width="2"/>
<text x="734.5" y="773.7" font-size="27" text-anchor="end">0</text>
<text x="690" y="628" font-size="28" text-anchor="middle" transform="rotate(-90 690 628)"><tspan>IFN-γ</tspan><tspan dy="-10.1" font-size="16.8">+</tspan><tspan dy="10.1"> cells (%)</tspan></text>
<text x="781.5" y="484.9" font-size="23" font-style="italic" textLength="114.8" lengthAdjust="spacingAndGlyphs">p = 0.0002</text>
<line x1="799" y1="491" x2="878.7" y2="491" stroke="#000" stroke-width="2.2"/>
<text x="842.8" y="794" font-size="28" text-anchor="middle">Day 12</text>
<line x1="773.5" y1="534" x2="825.5" y2="534" stroke="#000" stroke-width="2.2"/>
<circle cx="781.5" cy="531.7" r="7.6" fill="#fbf7f7" stroke="#1f6aa5" stroke-width="2.2"/>
<circle cx="791" cy="528.6" r="7.6" fill="#fbf7f7" stroke="#1f6aa5" stroke-width="2.2"/>
<circle cx="800" cy="531.7" r="7.6" fill="#fbf7f7" stroke="#1f6aa5" stroke-width="2.2"/>
<circle cx="808.6" cy="531.7" r="7.6" fill="#fbf7f7" stroke="#1f6aa5" stroke-width="2.2"/>
<circle cx="817.5" cy="544.5" r="7.6" fill="#fbf7f7" stroke="#1f6aa5" stroke-width="2.2"/>
<line x1="852" y1="556.3" x2="904.2" y2="556.3" stroke="#000" stroke-width="2.2"/>
<circle cx="860.2" cy="556.3" r="7.6" fill="#fbf7f7" stroke="#d7263d" stroke-width="2.2"/>
<circle cx="869.1" cy="553.1" r="7.6" fill="#fbf7f7" stroke="#d7263d" stroke-width="2.2"/>
<circle cx="877.8" cy="554.1" r="7.6" fill="#fbf7f7" stroke="#d7263d" stroke-width="2.2"/>
<circle cx="886.7" cy="553.4" r="7.6" fill="#fbf7f7" stroke="#d7263d" stroke-width="2.2"/>
<circle cx="896.3" cy="565.2" r="7.6" fill="#fbf7f7" stroke="#d7263d" stroke-width="2.2"/>
<path d="M1046 489.3V765.5H1229.5" fill="none" stroke="#000" stroke-width="2.6"/>
<line x1="1035" y1="490.3" x2="1046" y2="490.3" stroke="#000" stroke-width="2"/>
<text x="1033.5" y="498.5" font-size="27" text-anchor="end">40</text>
<line x1="1035" y1="559.1" x2="1046" y2="559.1" stroke="#000" stroke-width="2"/>
<text x="1033.5" y="567.3" font-size="27" text-anchor="end">30</text>
<line x1="1035" y1="627.9" x2="1046" y2="627.9" stroke="#000" stroke-width="2"/>
<text x="1033.5" y="636.1" font-size="27" text-anchor="end">20</text>
<line x1="1035" y1="696.7" x2="1046" y2="696.7" stroke="#000" stroke-width="2"/>
<text x="1033.5" y="704.9" font-size="27" text-anchor="end">10</text>
<line x1="1035" y1="765.5" x2="1046" y2="765.5" stroke="#000" stroke-width="2"/>
<text x="1033.5" y="773.7" font-size="27" text-anchor="end">0</text>
<text x="985" y="628" font-size="28" text-anchor="middle" transform="rotate(-90 985 628)"><tspan>IFN-γ</tspan><tspan dy="-10.1" font-size="16.8">+</tspan><tspan dy="10.1">TNF</tspan><tspan dy="-10.1" font-size="16.8">+</tspan><tspan dy="10.1"> cells (%)</tspan></text>
<text x="1081.2" y="484.9" font-size="23" font-style="italic" textLength="114.8" lengthAdjust="spacingAndGlyphs">p = 0.1892</text>
<line x1="1098.7" y1="491" x2="1178.5" y2="491" stroke="#000" stroke-width="2.2"/>
<text x="1151" y="794" font-size="28" text-anchor="middle">Day 12</text>
<line x1="1073.2" y1="555.7" x2="1125.5" y2="555.7" stroke="#000" stroke-width="2.2"/>
<line x1="1086" y1="542.9" x2="1113.1" y2="542.9" stroke="#000" stroke-width="2.2"/>
<line x1="1086" y1="569.1" x2="1113.1" y2="569.1" stroke="#000" stroke-width="2.2"/>
<line x1="1099.5" y1="542.9" x2="1099.5" y2="569.1" stroke="#000" stroke-width="2.2"/>
<circle cx="1099.4" cy="527" r="7.6" fill="#fbf7f7" stroke="#1f6aa5" stroke-width="2.2"/>
<circle cx="1081.2" cy="542.9" r="7.6" fill="#fbf7f7" stroke="#1f6aa5" stroke-width="2.2"/>
<circle cx="1117.2" cy="551.5" r="7.6" fill="#fbf7f7" stroke="#1f6aa5" stroke-width="2.2"/>
<circle cx="1099.4" cy="554.7" r="7.6" fill="#fbf7f7" stroke="#1f6aa5" stroke-width="2.2"/>
<circle cx="1099.4" cy="602.9" r="7.6" fill="#fbf7f7" stroke="#1f6aa5" stroke-width="2.2"/>
<line x1="1152" y1="582.8" x2="1204.6" y2="582.8" stroke="#000" stroke-width="2.2"/>
<line x1="1164.1" y1="569.1" x2="1191.2" y2="569.1" stroke="#000" stroke-width="2.2"/>
<line x1="1164.1" y1="596.5" x2="1191.2" y2="596.5" stroke="#000" stroke-width="2.2"/>
<line x1="1177.7" y1="569.1" x2="1177.7" y2="596.5" stroke="#000" stroke-width="2.2"/>
<circle cx="1160.3" cy="548.3" r="7.6" fill="#fbf7f7" stroke="#d7263d" stroke-width="2.2"/>
<circle cx="1196" cy="562" r="7.6" fill="#fbf7f7" stroke="#d7263d" stroke-width="2.2"/>
<circle cx="1160.3" cy="585.3" r="7.6" fill="#fbf7f7" stroke="#d7263d" stroke-width="2.2"/>
<circle cx="1196" cy="589.1" r="7.6" fill="#fbf7f7" stroke="#d7263d" stroke-width="2.2"/>
<circle cx="1178.1" cy="628" r="7.6" fill="#fbf7f7" stroke="#d7263d" stroke-width="2.2"/>
<path d="M1356.5 486.7V762.9H1539.5" fill="none" stroke="#000" stroke-width="2.6"/>
<line x1="1345.5" y1="487.7" x2="1356.5" y2="487.7" stroke="#000" stroke-width="2"/>
<text x="1344" y="495.9" font-size="27" text-anchor="end">100</text>
<line x1="1345.5" y1="542.7" x2="1356.5" y2="542.7" stroke="#000" stroke-width="2"/>
<text x="1344" y="551" font-size="27" text-anchor="end">80</text>
<line x1="1345.5" y1="597.8" x2="1356.5" y2="597.8" stroke="#000" stroke-width="2"/>
<text x="1344" y="606" font-size="27" text-anchor="end">60</text>
<line x1="1345.5" y1="652.8" x2="1356.5" y2="652.8" stroke="#000" stroke-width="2"/>
<text x="1344" y="661" font-size="27" text-anchor="end">40</text>
<line x1="1345.5" y1="707.9" x2="1356.5" y2="707.9" stroke="#000" stroke-width="2"/>
<text x="1344" y="716.1" font-size="27" text-anchor="end">20</text>
<line x1="1345.5" y1="762.9" x2="1356.5" y2="762.9" stroke="#000" stroke-width="2"/>
<text x="1344" y="771.1" font-size="27" text-anchor="end">0</text>
<text x="1296" y="624" font-size="28" text-anchor="middle" transform="rotate(-90 1296 624)"><tspan>IFN-γ</tspan><tspan dy="-10.1" font-size="16.8">+</tspan><tspan dy="10.1"> cells (%)</tspan></text>
<text x="1391.2" y="482.3" font-size="23" font-style="italic" textLength="114.2" lengthAdjust="spacingAndGlyphs">p = 0.0079</text>
<line x1="1408.1" y1="488" x2="1487.8" y2="488" stroke="#000" stroke-width="2.2"/>
<text x="1439.5" y="792.5" font-size="28" text-anchor="middle">Day 21</text>
<line x1="1382.6" y1="570" x2="1435.2" y2="570" stroke="#000" stroke-width="2.2"/>
<line x1="1395.4" y1="564.6" x2="1422.5" y2="564.6" stroke="#000" stroke-width="2.2"/>
<line x1="1395.4" y1="574.8" x2="1422.5" y2="574.8" stroke="#000" stroke-width="2.2"/>
<line x1="1409" y1="564.6" x2="1409" y2="574.8" stroke="#000" stroke-width="2.2"/>
<circle cx="1390.6" cy="561.4" r="7.6" fill="#fbf7f7" stroke="#1f6aa5" stroke-width="2.2"/>
<circle cx="1426.3" cy="561.4" r="7.6" fill="#fbf7f7" stroke="#1f6aa5" stroke-width="2.2"/>
<circle cx="1390.6" cy="578.6" r="7.6" fill="#fbf7f7" stroke="#1f6aa5" stroke-width="2.2"/>
<circle cx="1426.3" cy="577.3" r="7.6" fill="#fbf7f7" stroke="#1f6aa5" stroke-width="2.2"/>
<line x1="1461.4" y1="619.4" x2="1514" y2="619.4" stroke="#000" stroke-width="2.2"/>
<line x1="1473.5" y1="607.6" x2="1501.2" y2="607.6" stroke="#000" stroke-width="2.2"/>
<line x1="1473.5" y1="631.2" x2="1501.2" y2="631.2" stroke="#000" stroke-width="2.2"/>
<line x1="1487.3" y1="607.6" x2="1487.3" y2="631.2" stroke="#000" stroke-width="2.2"/>
<circle cx="1505.4" cy="592.3" r="7.6" fill="#fbf7f7" stroke="#d7263d" stroke-width="2.2"/>
<circle cx="1469.3" cy="609.2" r="7.6" fill="#fbf7f7" stroke="#d7263d" stroke-width="2.2"/>
<circle cx="1505.4" cy="632.2" r="7.6" fill="#fbf7f7" stroke="#d7263d" stroke-width="2.2"/>
<circle cx="1469.3" cy="644.3" r="7.6" fill="#fbf7f7" stroke="#d7263d" stroke-width="2.2"/>
<path d="M1645.5 486.7V762.9H1830" fill="none" stroke="#000" stroke-width="2.6"/>
<line x1="1634.5" y1="487.7" x2="1645.5" y2="487.7" stroke="#000" stroke-width="2"/>
<text x="1633" y="495.9" font-size="27" text-anchor="end">10</text>
<line x1="1634.5" y1="542.7" x2="1645.5" y2="542.7" stroke="#000" stroke-width="2"/>
<text x="1633" y="551" font-size="27" text-anchor="end">8</text>
<line x1="1634.5" y1="597.8" x2="1645.5" y2="597.8" stroke="#000" stroke-width="2"/>
<text x="1633" y="606" font-size="27" text-anchor="end">6</text>
<line x1="1634.5" y1="652.8" x2="1645.5" y2="652.8" stroke="#000" stroke-width="2"/>
<text x="1633" y="661" font-size="27" text-anchor="end">4</text>
<line x1="1634.5" y1="707.9" x2="1645.5" y2="707.9" stroke="#000" stroke-width="2"/>
<text x="1633" y="716.1" font-size="27" text-anchor="end">2</text>
<line x1="1634.5" y1="762.9" x2="1645.5" y2="762.9" stroke="#000" stroke-width="2"/>
<text x="1633" y="771.1" font-size="27" text-anchor="end">0</text>
<text x="1594" y="625" font-size="28" text-anchor="middle" transform="rotate(-90 1594 625)"><tspan>IFN-γ</tspan><tspan dy="-10.1" font-size="16.8">+</tspan><tspan dy="10.1">TNF</tspan><tspan dy="-10.1" font-size="16.8">+</tspan><tspan dy="10.1"> cells (%)</tspan></text>
<text x="1679.8" y="482.3" font-size="23" font-style="italic" textLength="114.2" lengthAdjust="spacingAndGlyphs">p = 0.2041</text>
<line x1="1697.3" y1="488" x2="1777.1" y2="488" stroke="#000" stroke-width="2.2"/>
<text x="1745" y="792.5" font-size="28" text-anchor="middle">Day 21</text>
<line x1="1672.2" y1="573.8" x2="1724.5" y2="573.8" stroke="#000" stroke-width="2.2"/>
<line x1="1684.6" y1="556.3" x2="1712" y2="556.3" stroke="#000" stroke-width="2.2"/>
<line x1="1684.6" y1="591.7" x2="1712" y2="591.7" stroke="#000" stroke-width="2.2"/>
<line x1="1698.3" y1="556.3" x2="1698.3" y2="591.7" stroke="#000" stroke-width="2.2"/>
<circle cx="1698.3" cy="534.9" r="7.6" fill="#fbf7f7" stroke="#1f6aa5" stroke-width="2.2"/>
<circle cx="1698.3" cy="553.1" r="7.6" fill="#fbf7f7" stroke="#1f6aa5" stroke-width="2.2"/>
<circle cx="1680.8" cy="604.5" r="7.6" fill="#fbf7f7" stroke="#1f6aa5" stroke-width="2.2"/>
<circle cx="1715.8" cy="603.5" r="7.6" fill="#fbf7f7" stroke="#1f6aa5" stroke-width="2.2"/>
<line x1="1750.9" y1="608.3" x2="1802.9" y2="608.3" stroke="#000" stroke-width="2.2"/>
<line x1="1763" y1="591.7" x2="1790.8" y2="591.7" stroke="#000" stroke-width="2.2"/>
<line x1="1763" y1="624.9" x2="1790.8" y2="624.9" stroke="#000" stroke-width="2.2"/>
<line x1="1776.9" y1="591.7" x2="1776.9" y2="624.9" stroke="#000" stroke-width="2.2"/>
<circle cx="1777.1" cy="572.2" r="7.6" fill="#fbf7f7" stroke="#d7263d" stroke-width="2.2"/>
<circle cx="1777.1" cy="591.4" r="7.6" fill="#fbf7f7" stroke="#d7263d" stroke-width="2.2"/>
<circle cx="1777.1" cy="625.8" r="7.6" fill="#fbf7f7" stroke="#d7263d" stroke-width="2.2"/>
<circle cx="1777.1" cy="644.3" r="7.6" fill="#fbf7f7" stroke="#d7263d" stroke-width="2.2"/>
<path d="M754 951.8V1229.3H937.7" fill="none" stroke="#000" stroke-width="2.6"/>
<line x1="743" y1="952.8" x2="754" y2="952.8" stroke="#000" stroke-width="2"/>
<text x="741.5" y="961" font-size="27" text-anchor="end">80</text>
<line x1="743" y1="1021.9" x2="754" y2="1021.9" stroke="#000" stroke-width="2"/>
<text x="741.5" y="1030.1" font-size="27" text-anchor="end">60</text>
<line x1="743" y1="1091" x2="754" y2="1091" stroke="#000" stroke-width="2"/>
<text x="741.5" y="1099.3" font-size="27" text-anchor="end">40</text>
<line x1="743" y1="1160.2" x2="754" y2="1160.2" stroke="#000" stroke-width="2"/>
<text x="741.5" y="1168.4" font-size="27" text-anchor="end">20</text>
<line x1="743" y1="1229.3" x2="754" y2="1229.3" stroke="#000" stroke-width="2"/>
<text x="741.5" y="1237.5" font-size="27" text-anchor="end">0</text>
<text x="697" y="1092" font-size="28" text-anchor="middle" transform="rotate(-90 697 1092)"><tspan>IFN-γ</tspan><tspan dy="-10.1" font-size="16.8">+</tspan><tspan dy="10.1"> cells (%)</tspan></text>
<text x="791" y="948" font-size="23" font-style="italic" textLength="108.4" lengthAdjust="spacingAndGlyphs">p &lt; 0.0001</text>
<line x1="806.3" y1="953.5" x2="886" y2="953.5" stroke="#000" stroke-width="2.2"/>
<text x="836" y="1259" font-size="28" text-anchor="middle">Day 12</text>
<line x1="781" y1="975.8" x2="833.1" y2="975.8" stroke="#000" stroke-width="2.2"/>
<circle cx="788.5" cy="978.4" r="7.6" fill="#fbf7f7" stroke="#1f6aa5" stroke-width="2.2"/>
<circle cx="797.4" cy="969.4" r="7.6" fill="#fbf7f7" stroke="#1f6aa5" stroke-width="2.2"/>
<circle cx="807" cy="974.2" r="7.6" fill="#fbf7f7" stroke="#1f6aa5" stroke-width="2.2"/>
<circle cx="815.9" cy="972.6" r="7.6" fill="#fbf7f7" stroke="#1f6aa5" stroke-width="2.2"/>
<circle cx="824.5" cy="984.7" r="7.6" fill="#fbf7f7" stroke="#1f6aa5" stroke-width="2.2"/>
<line x1="859.5" y1="1027.5" x2="911.6" y2="1027.5" stroke="#000" stroke-width="2.2"/>
<circle cx="867.6" cy="1031.6" r="7.6" fill="#fbf7f7" stroke="#d7263d" stroke-width="2.2"/>
<circle cx="876.5" cy="1022.7" r="7.6" fill="#fbf7f7" stroke="#d7263d" stroke-width="2.2"/>
<circle cx="885.1" cy="1022.7" r="7.6" fill="#fbf7f7" stroke="#d7263d" stroke-width="2.2"/>
<circle cx="894.3" cy="1022" r="7.6" fill="#fbf7f7" stroke="#d7263d" stroke-width="2.2"/>
<circle cx="903.6" cy="1038" r="7.6" fill="#fbf7f7" stroke="#d7263d" stroke-width="2.2"/>
<path d="M1053 951.8V1229.3H1236" fill="none" stroke="#000" stroke-width="2.6"/>
<line x1="1042" y1="952.8" x2="1053" y2="952.8" stroke="#000" stroke-width="2"/>
<text x="1040.5" y="961" font-size="27" text-anchor="end">15</text>
<line x1="1042" y1="1045" x2="1053" y2="1045" stroke="#000" stroke-width="2"/>
<text x="1040.5" y="1053.2" font-size="27" text-anchor="end">10</text>
<line x1="1042" y1="1137.1" x2="1053" y2="1137.1" stroke="#000" stroke-width="2"/>
<text x="1040.5" y="1145.4" font-size="27" text-anchor="end">5</text>
<line x1="1042" y1="1229.3" x2="1053" y2="1229.3" stroke="#000" stroke-width="2"/>
<text x="1040.5" y="1237.5" font-size="27" text-anchor="end">0</text>
<text x="999.5" y="1092" font-size="28" text-anchor="middle" transform="rotate(-90 999.5 1092)"><tspan>IFN-γ</tspan><tspan dy="-10.1" font-size="16.8">+</tspan><tspan dy="10.1">TNF</tspan><tspan dy="-10.1" font-size="16.8">+</tspan><tspan dy="10.1"> cells (%)</tspan></text>
<text x="1089.8" y="948" font-size="23" font-style="italic" textLength="111" lengthAdjust="spacingAndGlyphs">p = 0.3458</text>
<line x1="1105.8" y1="953.5" x2="1185.5" y2="953.5" stroke="#000" stroke-width="2.2"/>
<text x="1143.5" y="1259" font-size="28" text-anchor="middle">Day 12</text>
<line x1="1080.6" y1="1118.7" x2="1132.9" y2="1118.7" stroke="#000" stroke-width="2.2"/>
<line x1="1092.4" y1="1079.1" x2="1120.1" y2="1079.1" stroke="#000" stroke-width="2.2"/>
<line x1="1092.4" y1="1158.5" x2="1120.1" y2="1158.5" stroke="#000" stroke-width="2.2"/>
<line x1="1106.2" y1="1079.1" x2="1106.2" y2="1158.5" stroke="#000" stroke-width="2.2"/>
<circle cx="1088.2" cy="1027.5" r="7.6" fill="#fbf7f7" stroke="#1f6aa5" stroke-width="2.2"/>
<circle cx="1124.2" cy="1040.2" r="7.6" fill="#fbf7f7" stroke="#1f6aa5" stroke-width="2.2"/>
<circle cx="1106.1" cy="1107.5" r="7.6" fill="#fbf7f7" stroke="#1f6aa5" stroke-width="2.2"/>
<circle cx="1106.1" cy="1200.6" r="7.6" fill="#fbf7f7" stroke="#1f6aa5" stroke-width="2.2"/>
<circle cx="1106.1" cy="1219.1" r="7.6" fill="#fbf7f7" stroke="#1f6aa5" stroke-width="2.2"/>
<line x1="1158.7" y1="1160.8" x2="1211" y2="1160.8" stroke="#000" stroke-width="2.2"/>
<line x1="1171.1" y1="1148" x2="1198.5" y2="1148" stroke="#000" stroke-width="2.2"/>
<line x1="1171.1" y1="1173.5" x2="1198.5" y2="1173.5" stroke="#000" stroke-width="2.2"/>
<line x1="1184.8" y1="1148" x2="1184.8" y2="1173.5" stroke="#000" stroke-width="2.2"/>
<circle cx="1202.4" cy="1124.7" r="7.6" fill="#fbf7f7" stroke="#d7263d" stroke-width="2.2"/>
<circle cx="1166.7" cy="1137.8" r="7.6" fill="#fbf7f7" stroke="#d7263d" stroke-width="2.2"/>
<circle cx="1166.7" cy="1169.7" r="7.6" fill="#fbf7f7" stroke="#d7263d" stroke-width="2.2"/>
<circle cx="1166.7" cy="1189.5" r="7.6" fill="#fbf7f7" stroke="#d7263d" stroke-width="2.2"/>
<circle cx="1202.4" cy="1184" r="7.6" fill="#fbf7f7" stroke="#d7263d" stroke-width="2.2"/>
<path d="M1342 951.8V1229.3H1524.5" fill="none" stroke="#000" stroke-width="2.6"/>
<line x1="1331" y1="952.8" x2="1342" y2="952.8" stroke="#000" stroke-width="2"/>
<text x="1329.5" y="961" font-size="27" text-anchor="end">60</text>
<line x1="1331" y1="1045" x2="1342" y2="1045" stroke="#000" stroke-width="2"/>
<text x="1329.5" y="1053.2" font-size="27" text-anchor="end">40</text>
<line x1="1331" y1="1137.1" x2="1342" y2="1137.1" stroke="#000" stroke-width="2"/>
<text x="1329.5" y="1145.4" font-size="27" text-anchor="end">20</text>
<line x1="1331" y1="1229.3" x2="1342" y2="1229.3" stroke="#000" stroke-width="2"/>
<text x="1329.5" y="1237.5" font-size="27" text-anchor="end">0</text>
<text x="1283.5" y="1093" font-size="28" text-anchor="middle" transform="rotate(-90 1283.5 1093)"><tspan>IFN-γ</tspan><tspan dy="-10.1" font-size="16.8">+</tspan><tspan dy="10.1"> cells (%)</tspan></text>
<text x="1377.8" y="948" font-size="23" font-style="italic" textLength="110.7" lengthAdjust="spacingAndGlyphs">p = 0.3470</text>
<line x1="1393.8" y1="953.5" x2="1473.5" y2="953.5" stroke="#000" stroke-width="2.2"/>
<text x="1437" y="1260" font-size="28" text-anchor="middle">Day 21</text>
<line x1="1368" y1="1023" x2="1420" y2="1023" stroke="#000" stroke-width="2.2"/>
<circle cx="1376.2" cy="1027.8" r="7.6" fill="#fbf7f7" stroke="#1f6aa5" stroke-width="2.2"/>
<circle cx="1389" cy="1018.2" r="7.6" fill="#fbf7f7" stroke="#1f6aa5" stroke-width="2.2"/>
<circle cx="1400.2" cy="1026.8" r="7.6" fill="#fbf7f7" stroke="#1f6aa5" stroke-width="2.2"/>
<circle cx="1412.3" cy="1018.9" r="7.6" fill="#fbf7f7" stroke="#1f6aa5" stroke-width="2.2"/>
<line x1="1447" y1="1041.8" x2="1499" y2="1041.8" stroke="#000" stroke-width="2.2"/>
<line x1="1459.1" y1="1023.6" x2="1486.9" y2="1023.6" stroke="#000" stroke-width="2.2"/>
<line x1="1459.1" y1="1060.3" x2="1486.9" y2="1060.3" stroke="#000" stroke-width="2.2"/>
<line x1="1473" y1="1023.6" x2="1473" y2="1060.3" stroke="#000" stroke-width="2.2"/>
<circle cx="1490.4" cy="1003.9" r="7.6" fill="#fbf7f7" stroke="#d7263d" stroke-width="2.2"/>
<circle cx="1454.4" cy="1017.3" r="7.6" fill="#fbf7f7" stroke="#d7263d" stroke-width="2.2"/>
<circle cx="1490.4" cy="1068.3" r="7.6" fill="#fbf7f7" stroke="#d7263d" stroke-width="2.2"/>
<circle cx="1454.4" cy="1077.8" r="7.6" fill="#fbf7f7" stroke="#d7263d" stroke-width="2.2"/>
<path d="M1630.7 951.8V1229.3H1814.7" fill="none" stroke="#000" stroke-width="2.6"/>
<line x1="1619.7" y1="952.8" x2="1630.7" y2="952.8" stroke="#000" stroke-width="2"/>
<text x="1618.2" y="961" font-size="27" text-anchor="end">3</text>
<line x1="1619.7" y1="1045" x2="1630.7" y2="1045" stroke="#000" stroke-width="2"/>
<text x="1618.2" y="1053.2" font-size="27" text-anchor="end">2</text>
<line x1="1619.7" y1="1137.1" x2="1630.7" y2="1137.1" stroke="#000" stroke-width="2"/>
<text x="1618.2" y="1145.4" font-size="27" text-anchor="end">1</text>
<line x1="1619.7" y1="1229.3" x2="1630.7" y2="1229.3" stroke="#000" stroke-width="2"/>
<text x="1618.2" y="1237.5" font-size="27" text-anchor="end">0</text>
<text x="1589.5" y="1092" font-size="28" text-anchor="middle" transform="rotate(-90 1589.5 1092)"><tspan>IFN-γ</tspan><tspan dy="-10.1" font-size="16.8">+</tspan><tspan dy="10.1">TNF</tspan><tspan dy="-10.1" font-size="16.8">+</tspan><tspan dy="10.1"> cells (%)</tspan></text>
<text x="1667.4" y="948" font-size="23" font-style="italic" textLength="111.6" lengthAdjust="spacingAndGlyphs">p = 0.3253</text>
<line x1="1682.4" y1="953.5" x2="1762.7" y2="953.5" stroke="#000" stroke-width="2.2"/>
<text x="1744.5" y="1260" font-size="28" text-anchor="middle">Day 21</text>
<line x1="1656.9" y1="1049.8" x2="1709.5" y2="1049.8" stroke="#000" stroke-width="2.2"/>
<line x1="1669.6" y1="1040.5" x2="1696.7" y2="1040.5" stroke="#000" stroke-width="2.2"/>
<line x1="1669.6" y1="1059" x2="1696.7" y2="1059" stroke="#000" stroke-width="2.2"/>
<line x1="1683.2" y1="1040.5" x2="1683.2" y2="1059" stroke="#000" stroke-width="2.2"/>
<circle cx="1683" cy="1026.2" r="7.6" fill="#fbf7f7" stroke="#1f6aa5" stroke-width="2.2"/>
<circle cx="1683" cy="1044.4" r="7.6" fill="#fbf7f7" stroke="#1f6aa5" stroke-width="2.2"/>
<circle cx="1664.8" cy="1065.1" r="7.6" fill="#fbf7f7" stroke="#1f6aa5" stroke-width="2.2"/>
<circle cx="1700.9" cy="1061.9" r="7.6" fill="#fbf7f7" stroke="#1f6aa5" stroke-width="2.2"/>
<line x1="1735.6" y1="1085.2" x2="1788.2" y2="1085.2" stroke="#000" stroke-width="2.2"/>
<line x1="1748.4" y1="1053.3" x2="1775.8" y2="1053.3" stroke="#000" stroke-width="2.2"/>
<line x1="1748.4" y1="1117.7" x2="1775.8" y2="1117.7" stroke="#000" stroke-width="2.2"/>
<line x1="1762.1" y1="1053.3" x2="1762.1" y2="1117.7" stroke="#000" stroke-width="2.2"/>
<circle cx="1762.1" cy="999.7" r="7.6" fill="#fbf7f7" stroke="#d7263d" stroke-width="2.2"/>
<circle cx="1762.1" cy="1074.7" r="7.6" fill="#fbf7f7" stroke="#d7263d" stroke-width="2.2"/>
<circle cx="1779.6" cy="1126.6" r="7.6" fill="#fbf7f7" stroke="#d7263d" stroke-width="2.2"/>
<circle cx="1743.9" cy="1141.6" r="7.6" fill="#fbf7f7" stroke="#d7263d" stroke-width="2.2"/>
<path d="M428 1477.8V1753.8H610.9" fill="none" stroke="#000" stroke-width="2.6"/>
<line x1="417" y1="1478.8" x2="428" y2="1478.8" stroke="#000" stroke-width="2"/>
<text x="415.5" y="1487" font-size="27" text-anchor="end">10</text>
<line x1="417" y1="1533.8" x2="428" y2="1533.8" stroke="#000" stroke-width="2"/>
<text x="415.5" y="1542" font-size="27" text-anchor="end">8</text>
<line x1="417" y1="1588.8" x2="428" y2="1588.8" stroke="#000" stroke-width="2"/>
<text x="415.5" y="1597" font-size="27" text-anchor="end">6</text>
<line x1="417" y1="1643.8" x2="428" y2="1643.8" stroke="#000" stroke-width="2"/>
<text x="415.5" y="1652" font-size="27" text-anchor="end">4</text>
<line x1="417" y1="1698.8" x2="428" y2="1698.8" stroke="#000" stroke-width="2"/>
<text x="415.5" y="1707" font-size="27" text-anchor="end">2</text>
<line x1="417" y1="1753.8" x2="428" y2="1753.8" stroke="#000" stroke-width="2"/>
<text x="415.5" y="1762" font-size="27" text-anchor="end">0</text>
<text x="385" y="1618" font-size="28" text-anchor="middle" transform="rotate(-90 385 1618)"><tspan>GzmB (GMFI x 10</tspan><tspan dy="-10.1" font-size="16.8">3</tspan><tspan dy="10.1">)</tspan></text>
<text x="464.2" y="1468" font-size="23" font-style="italic" textLength="111" lengthAdjust="spacingAndGlyphs">p = 0.0043</text>
<line x1="479" y1="1473.7" x2="559.4" y2="1473.7" stroke="#000" stroke-width="2.2"/>
<line x1="453.5" y1="1551.5" x2="505.8" y2="1551.5" stroke="#000" stroke-width="2.2"/>
<line x1="465.5" y1="1539" x2="493" y2="1539" stroke="#000" stroke-width="2.2"/>
<line x1="465.5" y1="1563.7" x2="493" y2="1563.7" stroke="#000" stroke-width="2.2"/>
<line x1="479.2" y1="1539" x2="479.2" y2="1563.7" stroke="#000" stroke-width="2.2"/>
<circle cx="479.5" cy="1487.2" r="7.6" fill="#fbf7f7" stroke="#1f6aa5" stroke-width="2.2"/>
<circle cx="479.5" cy="1517" r="7.6" fill="#fbf7f7" stroke="#1f6aa5" stroke-width="2.2"/>
<circle cx="479.5" cy="1536.9" r="7.6" fill="#fbf7f7" stroke="#1f6aa5" stroke-width="2.2"/>
<circle cx="461.7" cy="1566.3" r="7.6" fill="#fbf7f7" stroke="#1f6aa5" stroke-width="2.2"/>
<circle cx="473.2" cy="1573.9" r="7.6" fill="#fbf7f7" stroke="#1f6aa5" stroke-width="2.2"/>
<circle cx="497.7" cy="1574.4" r="7.6" fill="#fbf7f7" stroke="#1f6aa5" stroke-width="2.2"/>
<circle cx="484.9" cy="1567.6" r="7.6" fill="#fbf7f7" stroke="#1f6aa5" stroke-width="2.2"/>
<circle cx="479.5" cy="1591.8" r="7.6" fill="#fbf7f7" stroke="#1f6aa5" stroke-width="2.2"/>
<line x1="531.8" y1="1596.4" x2="584" y2="1596.4" stroke="#000" stroke-width="2.2"/>
<circle cx="558.1" cy="1580.8" r="7.6" fill="#fbf7f7" stroke="#d7263d" stroke-width="2.2"/>
<circle cx="566.5" cy="1577.8" r="7.6" fill="#fbf7f7" stroke="#d7263d" stroke-width="2.2"/>
<circle cx="549.2" cy="1596.9" r="7.6" fill="#fbf7f7" stroke="#d7263d" stroke-width="2.2"/>
<circle cx="567" cy="1599.4" r="7.6" fill="#fbf7f7" stroke="#d7263d" stroke-width="2.2"/>
<circle cx="576" cy="1592.6" r="7.6" fill="#fbf7f7" stroke="#d7263d" stroke-width="2.2"/>
<circle cx="558.1" cy="1600.7" r="7.6" fill="#fbf7f7" stroke="#d7263d" stroke-width="2.2"/>
<circle cx="540.3" cy="1607.1" r="7.6" fill="#fbf7f7" stroke="#d7263d" stroke-width="2.2"/>
<circle cx="576" cy="1616.5" r="7.6" fill="#fbf7f7" stroke="#d7263d" stroke-width="2.2"/>
<path d="M1271.5 1474.5V1753.3H1455.9" fill="none" stroke="#000" stroke-width="2.6"/>
<line x1="1260.5" y1="1475.5" x2="1271.5" y2="1475.5" stroke="#000" stroke-width="2"/>
<text x="1259" y="1483.7" font-size="27" text-anchor="end">50</text>
<line x1="1260.5" y1="1531.1" x2="1271.5" y2="1531.1" stroke="#000" stroke-width="2"/>
<text x="1259" y="1539.3" font-size="27" text-anchor="end">40</text>
<line x1="1260.5" y1="1586.6" x2="1271.5" y2="1586.6" stroke="#000" stroke-width="2"/>
<text x="1259" y="1594.8" font-size="27" text-anchor="end">30</text>
<line x1="1260.5" y1="1642.2" x2="1271.5" y2="1642.2" stroke="#000" stroke-width="2"/>
<text x="1259" y="1650.4" font-size="27" text-anchor="end">20</text>
<line x1="1260.5" y1="1697.7" x2="1271.5" y2="1697.7" stroke="#000" stroke-width="2"/>
<text x="1259" y="1706" font-size="27" text-anchor="end">10</text>
<line x1="1260.5" y1="1753.3" x2="1271.5" y2="1753.3" stroke="#000" stroke-width="2"/>
<text x="1259" y="1761.5" font-size="27" text-anchor="end">0</text>
<text x="1194.2" y="1617" font-size="28" text-anchor="middle" transform="rotate(-90 1194.2 1617)">PD-1 (GMFI,</text>
<text x="1224.5" y="1617" font-size="28" text-anchor="middle" transform="rotate(-90 1224.5 1617)">normalized to naïve)</text>
<text x="1308.7" y="1469.3" font-size="23" font-style="italic" textLength="111.5" lengthAdjust="spacingAndGlyphs">p = 0.2215</text>
<line x1="1323.3" y1="1475.7" x2="1403.6" y2="1475.7" stroke="#000" stroke-width="2.2"/>
<line x1="1299" y1="1609.6" x2="1350" y2="1609.6" stroke="#000" stroke-width="2.2"/>
<line x1="1311.8" y1="1600.7" x2="1338" y2="1600.7" stroke="#000" stroke-width="2.2"/>
<line x1="1311.8" y1="1618" x2="1338" y2="1618" stroke="#000" stroke-width="2.2"/>
<line x1="1324.9" y1="1600.7" x2="1324.9" y2="1618" stroke="#000" stroke-width="2.2"/>
<circle cx="1324.5" cy="1554.8" r="7.6" fill="#fbf7f7" stroke="#1f6aa5" stroke-width="2.2"/>
<circle cx="1324.5" cy="1601.2" r="7.6" fill="#fbf7f7" stroke="#1f6aa5" stroke-width="2.2"/>
<circle cx="1333.5" cy="1598.2" r="7.6" fill="#fbf7f7" stroke="#1f6aa5" stroke-width="2.2"/>
<circle cx="1324.5" cy="1623.7" r="7.6" fill="#fbf7f7" stroke="#1f6aa5" stroke-width="2.2"/>
<circle cx="1315.6" cy="1617.3" r="7.6" fill="#fbf7f7" stroke="#1f6aa5" stroke-width="2.2"/>
<circle cx="1333.5" cy="1621.1" r="7.6" fill="#fbf7f7" stroke="#1f6aa5" stroke-width="2.2"/>
<circle cx="1306.7" cy="1630" r="7.6" fill="#fbf7f7" stroke="#1f6aa5" stroke-width="2.2"/>
<circle cx="1341.6" cy="1631.8" r="7.6" fill="#fbf7f7" stroke="#1f6aa5" stroke-width="2.2"/>
<line x1="1375.5" y1="1595.6" x2="1426.5" y2="1595.6" stroke="#000" stroke-width="2.2"/>
<line x1="1387.5" y1="1589.2" x2="1415" y2="1589.2" stroke="#000" stroke-width="2.2"/>
<line x1="1387.5" y1="1602" x2="1415" y2="1602" stroke="#000" stroke-width="2.2"/>
<line x1="1401.2" y1="1589.2" x2="1401.2" y2="1602" stroke="#000" stroke-width="2.2"/>
<circle cx="1383.7" cy="1572.1" r="7.6" fill="#fbf7f7" stroke="#d7263d" stroke-width="2.2"/>
<circle cx="1418.4" cy="1577.8" r="7.6" fill="#fbf7f7" stroke="#d7263d" stroke-width="2.2"/>
<circle cx="1401.1" cy="1588.7" r="7.6" fill="#fbf7f7" stroke="#d7263d" stroke-width="2.2"/>
<circle cx="1383.7" cy="1593.1" r="7.6" fill="#fbf7f7" stroke="#d7263d" stroke-width="2.2"/>
<circle cx="1418.4" cy="1596.1" r="7.6" fill="#fbf7f7" stroke="#d7263d" stroke-width="2.2"/>
<circle cx="1401.1" cy="1607.1" r="7.6" fill="#fbf7f7" stroke="#d7263d" stroke-width="2.2"/>
<circle cx="1418.4" cy="1614" r="7.6" fill="#fbf7f7" stroke="#d7263d" stroke-width="2.2"/>
<circle cx="1383.7" cy="1618.6" r="7.6" fill="#fbf7f7" stroke="#d7263d" stroke-width="2.2"/>
<path d="M464 1969.3V2246.3H647.8" fill="none" stroke="#000" stroke-width="2.6"/>
<line x1="453" y1="1970.3" x2="464" y2="1970.3" stroke="#000" stroke-width="2"/>
<text x="451.5" y="1978.5" font-size="27" text-anchor="end">100</text>
<line x1="453" y1="2025.5" x2="464" y2="2025.5" stroke="#000" stroke-width="2"/>
<text x="451.5" y="2033.7" font-size="27" text-anchor="end">80</text>
<line x1="453" y1="2080.7" x2="464" y2="2080.7" stroke="#000" stroke-width="2"/>
<text x="451.5" y="2088.9" font-size="27" text-anchor="end">60</text>
<line x1="453" y1="2135.9" x2="464" y2="2135.9" stroke="#000" stroke-width="2"/>
<text x="451.5" y="2144.1" font-size="27" text-anchor="end">40</text>
<line x1="453" y1="2191.1" x2="464" y2="2191.1" stroke="#000" stroke-width="2"/>
<text x="451.5" y="2199.3" font-size="27" text-anchor="end">20</text>
<line x1="453" y1="2246.3" x2="464" y2="2246.3" stroke="#000" stroke-width="2"/>
<text x="451.5" y="2254.5" font-size="27" text-anchor="end">0</text>
<text x="404" y="2106" font-size="28" text-anchor="middle" transform="rotate(-90 404 2106)"><tspan>PD-1</tspan><tspan dy="-10.1" font-size="16.8">+</tspan><tspan dy="10.1"> cells (%)</tspan></text>
<text x="498.5" y="1961.1" font-size="23" font-style="italic" textLength="114.1" lengthAdjust="spacingAndGlyphs">p &lt; 0.0001</text>
<line x1="515.6" y1="1967" x2="595.2" y2="1967" stroke="#000" stroke-width="2.2"/>
<line x1="489.6" y1="2075.9" x2="541.9" y2="2075.9" stroke="#000" stroke-width="2.2"/>
<circle cx="501.6" cy="2069.8" r="7.6" fill="#fbf7f7" stroke="#4f78b8" stroke-width="2.2"/>
<circle cx="515.6" cy="2063.9" r="7.6" fill="#fbf7f7" stroke="#4f78b8" stroke-width="2.2"/>
<circle cx="506.7" cy="2072.9" r="7.6" fill="#fbf7f7" stroke="#4f78b8" stroke-width="2.2"/>
<circle cx="519.4" cy="2070.3" r="7.6" fill="#fbf7f7" stroke="#4f78b8" stroke-width="2.2"/>
<circle cx="529.6" cy="2075.4" r="7.6" fill="#fbf7f7" stroke="#4f78b8" stroke-width="2.2"/>
<circle cx="497.8" cy="2082.3" r="7.6" fill="#fbf7f7" stroke="#4f78b8" stroke-width="2.2"/>
<circle cx="515.6" cy="2084.8" r="7.6" fill="#fbf7f7" stroke="#4f78b8" stroke-width="2.2"/>
<circle cx="524.5" cy="2083.1" r="7.6" fill="#fbf7f7" stroke="#4f78b8" stroke-width="2.2"/>
<circle cx="533.5" cy="2084.8" r="7.6" fill="#fbf7f7" stroke="#4f78b8" stroke-width="2.2"/>
<circle cx="576.8" cy="1982.8" r="7.6" fill="#fbf7f7" stroke="#a31c2e" stroke-width="2.2"/>
<circle cx="581.9" cy="1981" r="7.6" fill="#fbf7f7" stroke="#a31c2e" stroke-width="2.2"/>
<circle cx="592.1" cy="1983.6" r="7.6" fill="#fbf7f7" stroke="#a31c2e" stroke-width="2.2"/>
<circle cx="585.8" cy="1981.8" r="7.6" fill="#fbf7f7" stroke="#a31c2e" stroke-width="2.2"/>
<circle cx="598.5" cy="1982.3" r="7.6" fill="#fbf7f7" stroke="#a31c2e" stroke-width="2.2"/>
<circle cx="607.4" cy="1983.6" r="7.6" fill="#fbf7f7" stroke="#a31c2e" stroke-width="2.2"/>
<circle cx="612.6" cy="1981.8" r="7.6" fill="#fbf7f7" stroke="#a31c2e" stroke-width="2.2"/>
<path d="M739 1969.3V2246.3H922.7" fill="none" stroke="#000" stroke-width="2.6"/>
<line x1="728" y1="1970.3" x2="739" y2="1970.3" stroke="#000" stroke-width="2"/>
<text x="726.5" y="1978.5" font-size="27" text-anchor="end">15</text>
<line x1="728" y1="2062.3" x2="739" y2="2062.3" stroke="#000" stroke-width="2"/>
<text x="726.5" y="2070.5" font-size="27" text-anchor="end">10</text>
<line x1="728" y1="2154.3" x2="739" y2="2154.3" stroke="#000" stroke-width="2"/>
<text x="726.5" y="2162.5" font-size="27" text-anchor="end">5</text>
<line x1="728" y1="2246.3" x2="739" y2="2246.3" stroke="#000" stroke-width="2"/>
<text x="726.5" y="2254.5" font-size="27" text-anchor="end">0</text>
<text x="688" y="2106" font-size="28" text-anchor="middle" transform="rotate(-90 688 2106)"><tspan>PD-1 (GMFIx10</tspan><tspan dy="-10.1" font-size="16.8">4</tspan><tspan dy="10.1">)</tspan></text>
<text x="774" y="1961.1" font-size="23" font-style="italic" textLength="113" lengthAdjust="spacingAndGlyphs">p &lt; 0.0001</text>
<line x1="791.3" y1="1966.8" x2="870.4" y2="1966.8" stroke="#000" stroke-width="2.2"/>
<circle cx="774.7" cy="2177.5" r="7.6" fill="#fbf7f7" stroke="#4f78b8" stroke-width="2.2"/>
<circle cx="778.6" cy="2176.8" r="7.6" fill="#fbf7f7" stroke="#4f78b8" stroke-width="2.2"/>
<circle cx="788.8" cy="2179.3" r="7.6" fill="#fbf7f7" stroke="#4f78b8" stroke-width="2.2"/>
<circle cx="797.7" cy="2178" r="7.6" fill="#fbf7f7" stroke="#4f78b8" stroke-width="2.2"/>
<circle cx="804" cy="2177.5" r="7.6" fill="#fbf7f7" stroke="#4f78b8" stroke-width="2.2"/>
<circle cx="808.7" cy="2177.5" r="7.6" fill="#fbf7f7" stroke="#4f78b8" stroke-width="2.2"/>
<line x1="843.6" y1="2032.1" x2="895.2" y2="2032.1" stroke="#000" stroke-width="2.2"/>
<line x1="855" y1="2027" x2="883" y2="2027" stroke="#000" stroke-width="2.2"/>
<line x1="855" y1="2037.2" x2="883" y2="2037.2" stroke="#000" stroke-width="2.2"/>
<line x1="869" y1="2027" x2="869" y2="2037.2" stroke="#000" stroke-width="2.2"/>
<circle cx="851.3" cy="2011" r="7.6" fill="#fbf7f7" stroke="#a31c2e" stroke-width="2.2"/>
<circle cx="860.2" cy="2017.9" r="7.6" fill="#fbf7f7" stroke="#a31c2e" stroke-width="2.2"/>
<circle cx="887" cy="2014.3" r="7.6" fill="#fbf7f7" stroke="#a31c2e" stroke-width="2.2"/>
<circle cx="878" cy="2024" r="7.6" fill="#fbf7f7" stroke="#a31c2e" stroke-width="2.2"/>
<circle cx="869.1" cy="2016" r="7.6" fill="#fbf7f7" stroke="#a31c2e" stroke-width="2.2"/>
<circle cx="860.2" cy="2039" r="7.6" fill="#fbf7f7" stroke="#a31c2e" stroke-width="2.2"/>
<circle cx="878" cy="2046.7" r="7.6" fill="#fbf7f7" stroke="#a31c2e" stroke-width="2.2"/>
<circle cx="869.1" cy="2048" r="7.6" fill="#fbf7f7" stroke="#a31c2e" stroke-width="2.2"/>
<circle cx="851.3" cy="2055.6" r="7.6" fill="#fbf7f7" stroke="#a31c2e" stroke-width="2.2"/>
<circle cx="887" cy="2055.6" r="7.6" fill="#fbf7f7" stroke="#a31c2e" stroke-width="2.2"/>
<path d="M482.6 2402.9V2680H665.2" fill="none" stroke="#000" stroke-width="2.6"/>
<line x1="471.6" y1="2403.9" x2="482.6" y2="2403.9" stroke="#000" stroke-width="2"/>
<text x="470.1" y="2412.1" font-size="27" text-anchor="end">6</text>
<line x1="471.6" y1="2495.9" x2="482.6" y2="2495.9" stroke="#000" stroke-width="2"/>
<text x="470.1" y="2504.2" font-size="27" text-anchor="end">4</text>
<line x1="471.6" y1="2588" x2="482.6" y2="2588" stroke="#000" stroke-width="2"/>
<text x="470.1" y="2596.2" font-size="27" text-anchor="end">2</text>
<line x1="471.6" y1="2680" x2="482.6" y2="2680" stroke="#000" stroke-width="2"/>
<text x="470.1" y="2688.2" font-size="27" text-anchor="end">0</text>
<text x="411" y="2543.5" font-size="28" text-anchor="middle" transform="rotate(-90 411 2543.5)">TOX (GMFI,</text>
<text x="440" y="2543.5" font-size="28" text-anchor="middle" transform="rotate(-90 440 2543.5)">normalized to naïve)</text>
<text x="518.5" y="2398.6" font-size="23" font-style="italic" textLength="111" lengthAdjust="spacingAndGlyphs">p = 0.1795</text>
<line x1="533.8" y1="2404.4" x2="613.4" y2="2404.4" stroke="#000" stroke-width="2.2"/>
<line x1="508.3" y1="2500.1" x2="561.1" y2="2500.1" stroke="#000" stroke-width="2.2"/>
<line x1="520.3" y1="2487.9" x2="548.4" y2="2487.9" stroke="#000" stroke-width="2.2"/>
<line x1="520.3" y1="2510.8" x2="548.4" y2="2510.8" stroke="#000" stroke-width="2.2"/>
<line x1="534.3" y1="2487.9" x2="534.3" y2="2510.8" stroke="#000" stroke-width="2.2"/>
<circle cx="517" cy="2472.8" r="7.6" fill="#fbf7f7" stroke="#1f6aa5" stroke-width="2.2"/>
<circle cx="534.8" cy="2472.8" r="7.6" fill="#fbf7f7" stroke="#1f6aa5" stroke-width="2.2"/>
<circle cx="552.7" cy="2476.6" r="7.6" fill="#fbf7f7" stroke="#1f6aa5" stroke-width="2.2"/>
<circle cx="517" cy="2495" r="7.6" fill="#fbf7f7" stroke="#1f6aa5" stroke-width="2.2"/>
<circle cx="552.7" cy="2495.8" r="7.6" fill="#fbf7f7" stroke="#1f6aa5" stroke-width="2.2"/>
<circle cx="534.8" cy="2491.2" r="7.6" fill="#fbf7f7" stroke="#1f6aa5" stroke-width="2.2"/>
<circle cx="534.8" cy="2530" r="7.6" fill="#fbf7f7" stroke="#1f6aa5" stroke-width="2.2"/>
<circle cx="534.8" cy="2564.4" r="7.6" fill="#fbf7f7" stroke="#1f6aa5" stroke-width="2.2"/>
<line x1="587" y1="2479.5" x2="639" y2="2479.5" stroke="#000" stroke-width="2.2"/>
<line x1="599.5" y1="2470.8" x2="627" y2="2470.8" stroke="#000" stroke-width="2.2"/>
<line x1="599.5" y1="2488" x2="627" y2="2488" stroke="#000" stroke-width="2.2"/>
<line x1="613.2" y1="2470.8" x2="613.2" y2="2488" stroke="#000" stroke-width="2.2"/>
<circle cx="619" cy="2444" r="7.6" fill="#fbf7f7" stroke="#d7263d" stroke-width="2.2"/>
<circle cx="619" cy="2463.1" r="7.6" fill="#fbf7f7" stroke="#d7263d" stroke-width="2.2"/>
<circle cx="607" cy="2459.3" r="7.6" fill="#fbf7f7" stroke="#d7263d" stroke-width="2.2"/>
<circle cx="594.3" cy="2481" r="7.6" fill="#fbf7f7" stroke="#d7263d" stroke-width="2.2"/>
<circle cx="631.3" cy="2482.2" r="7.6" fill="#fbf7f7" stroke="#d7263d" stroke-width="2.2"/>
<circle cx="607" cy="2482.2" r="7.6" fill="#fbf7f7" stroke="#d7263d" stroke-width="2.2"/>
<circle cx="619" cy="2495.5" r="7.6" fill="#fbf7f7" stroke="#d7263d" stroke-width="2.2"/>
<circle cx="613.4" cy="2526.4" r="7.6" fill="#fbf7f7" stroke="#d7263d" stroke-width="2.2"/>
<path d="M994 2397.5V2681H1182.5" fill="none" stroke="#000" stroke-width="2.4"/>
<line x1="983" y1="2398.5" x2="994" y2="2398.5" stroke="#000" stroke-width="2"/>
<text transform="translate(976 2411) scale(1.15 1)" font-size="20" text-anchor="end">10<tspan dy="-9.5" font-size="20">6</tspan></text>
<line x1="983" y1="2455" x2="994" y2="2455" stroke="#000" stroke-width="2"/>
<text transform="translate(976 2467.5) scale(1.15 1)" font-size="20" text-anchor="end">10<tspan dy="-9.5" font-size="20">5</tspan></text>
<line x1="983" y1="2511.5" x2="994" y2="2511.5" stroke="#000" stroke-width="2"/>
<text transform="translate(976 2524) scale(1.15 1)" font-size="20" text-anchor="end">10<tspan dy="-9.5" font-size="20">4</tspan></text>
<line x1="983" y1="2568" x2="994" y2="2568" stroke="#000" stroke-width="2"/>
<text transform="translate(976 2580.5) scale(1.15 1)" font-size="20" text-anchor="end">10<tspan dy="-9.5" font-size="20">3</tspan></text>
<line x1="983" y1="2624.5" x2="994" y2="2624.5" stroke="#000" stroke-width="2"/>
<text transform="translate(976 2637) scale(1.15 1)" font-size="20" text-anchor="end">10<tspan dy="-9.5" font-size="20">2</tspan></text>
<line x1="983" y1="2681" x2="994" y2="2681" stroke="#000" stroke-width="2"/>
<text transform="translate(976 2693.5) scale(1.15 1)" font-size="20" text-anchor="end">10<tspan dy="-9.5" font-size="20">1</tspan></text>
<text x="917" y="2520.5" font-size="27.6" text-anchor="middle" transform="rotate(-90 917 2520.5)">PFU/organ</text>
<text x="1022.5" y="2377.5" font-size="23" font-style="italic" textLength="111.5" lengthAdjust="spacingAndGlyphs">p = 0.1098</text>
<line x1="1036.5" y1="2385" x2="1115.5" y2="2385" stroke="#000" stroke-width="2.2"/>
<text x="1081.5" y="2711" font-size="28" text-anchor="middle">Lung</text>
<line x1="1021.5" y1="2456" x2="1074" y2="2456" stroke="#000" stroke-width="1.7"/>
<line x1="1036.5" y1="2446" x2="1061.5" y2="2446" stroke="#000" stroke-width="1.7"/>
<line x1="1036.5" y1="2473.5" x2="1061.5" y2="2473.5" stroke="#000" stroke-width="1.7"/>
<line x1="1049" y1="2446" x2="1049" y2="2473.5" stroke="#000" stroke-width="1.7"/>
<circle cx="1030" cy="2446" r="7.9" fill="#fbf7f7" stroke="#1f6aa5" stroke-width="2.2"/>
<circle cx="1066.5" cy="2455" r="7.9" fill="#fbf7f7" stroke="#1f6aa5" stroke-width="2.2"/>
<circle cx="1049" cy="2474" r="7.9" fill="#fbf7f7" stroke="#1f6aa5" stroke-width="2.2"/>
<line x1="1102.5" y1="2428.5" x2="1156.5" y2="2428.5" stroke="#000" stroke-width="1.7"/>
<line x1="1115" y1="2417.5" x2="1142.5" y2="2417.5" stroke="#000" stroke-width="1.7"/>
<line x1="1115" y1="2448" x2="1142.5" y2="2448" stroke="#000" stroke-width="1.7"/>
<line x1="1128.8" y1="2417.5" x2="1128.8" y2="2448" stroke="#000" stroke-width="1.7"/>
<circle cx="1111.5" cy="2417.5" r="7.9" fill="#fbf7f7" stroke="#d7263d" stroke-width="2.2"/>
<circle cx="1147.5" cy="2428" r="7.9" fill="#fbf7f7" stroke="#d7263d" stroke-width="2.2"/>
<circle cx="1129" cy="2448" r="7.9" fill="#fbf7f7" stroke="#d7263d" stroke-width="2.2"/>
<path d="M1292.5 2394V2681H1480.5" fill="none" stroke="#000" stroke-width="2.4"/>
<line x1="1281.5" y1="2395" x2="1292.5" y2="2395" stroke="#000" stroke-width="2"/>
<text transform="translate(1274.5 2382.4) scale(1.15 1)" font-size="20" text-anchor="end">10<tspan dy="-9.5" font-size="20">6</tspan></text>
<line x1="1281.5" y1="2466.5" x2="1292.5" y2="2466.5" stroke="#000" stroke-width="2"/>
<text transform="translate(1274.5 2471.3) scale(1.15 1)" font-size="20" text-anchor="end">10<tspan dy="-9.5" font-size="20">5</tspan></text>
<line x1="1281.5" y1="2538" x2="1292.5" y2="2538" stroke="#000" stroke-width="2"/>
<text transform="translate(1274.5 2543.2) scale(1.15 1)" font-size="20" text-anchor="end">10<tspan dy="-9.5" font-size="20">4</tspan></text>
<line x1="1281.5" y1="2609.5" x2="1292.5" y2="2609.5" stroke="#000" stroke-width="2"/>
<text transform="translate(1274.5 2614.1) scale(1.15 1)" font-size="20" text-anchor="end">10<tspan dy="-9.5" font-size="20">3</tspan></text>
<line x1="1281.5" y1="2681" x2="1292.5" y2="2681" stroke="#000" stroke-width="2"/>
<text transform="translate(1274.5 2685.6) scale(1.15 1)" font-size="20" text-anchor="end">10<tspan dy="-9.5" font-size="20">2</tspan></text>
<text x="1222" y="2530.5" font-size="27.6" text-anchor="middle" transform="rotate(-90 1222 2530.5)">PFU/organ</text>
<text x="1334" y="2367.5" font-size="23" font-style="italic" textLength="109" lengthAdjust="spacingAndGlyphs">p = 0.4003</text>
<line x1="1349" y1="2376" x2="1426.5" y2="2376" stroke="#000" stroke-width="2.2"/>
<text x="1390" y="2711" font-size="28" text-anchor="middle">Kidney</text>
<line x1="1319" y1="2439" x2="1374" y2="2439" stroke="#000" stroke-width="1.7"/>
<line x1="1332.5" y1="2411.5" x2="1360" y2="2411.5" stroke="#000" stroke-width="1.7"/>
<line x1="1332.5" y1="2466.5" x2="1360" y2="2466.5" stroke="#000" stroke-width="1.7"/>
<line x1="1346.2" y1="2411.5" x2="1346.2" y2="2466.5" stroke="#000" stroke-width="1.7"/>
<circle cx="1328" cy="2419" r="7.9" fill="#fbf7f7" stroke="#1f6aa5" stroke-width="2.2"/>
<circle cx="1364" cy="2427.5" r="7.9" fill="#fbf7f7" stroke="#1f6aa5" stroke-width="2.2"/>
<circle cx="1346.5" cy="2470" r="7.9" fill="#fbf7f7" stroke="#1f6aa5" stroke-width="2.2"/>
<line x1="1400.5" y1="2420" x2="1455" y2="2420" stroke="#000" stroke-width="1.7"/>
<line x1="1414" y1="2400" x2="1441.5" y2="2400" stroke="#000" stroke-width="1.7"/>
<line x1="1414" y1="2440" x2="1441.5" y2="2440" stroke="#000" stroke-width="1.7"/>
<line x1="1427.8" y1="2400" x2="1427.8" y2="2440" stroke="#000" stroke-width="1.7"/>
<circle cx="1428" cy="2398.5" r="7.9" fill="#fbf7f7" stroke="#d7263d" stroke-width="2.2"/>
<circle cx="1409" cy="2432.5" r="7.9" fill="#fbf7f7" stroke="#d7263d" stroke-width="2.2"/>
<circle cx="1445" cy="2428" r="7.9" fill="#fbf7f7" stroke="#d7263d" stroke-width="2.2"/>
</svg>
</body></html>
